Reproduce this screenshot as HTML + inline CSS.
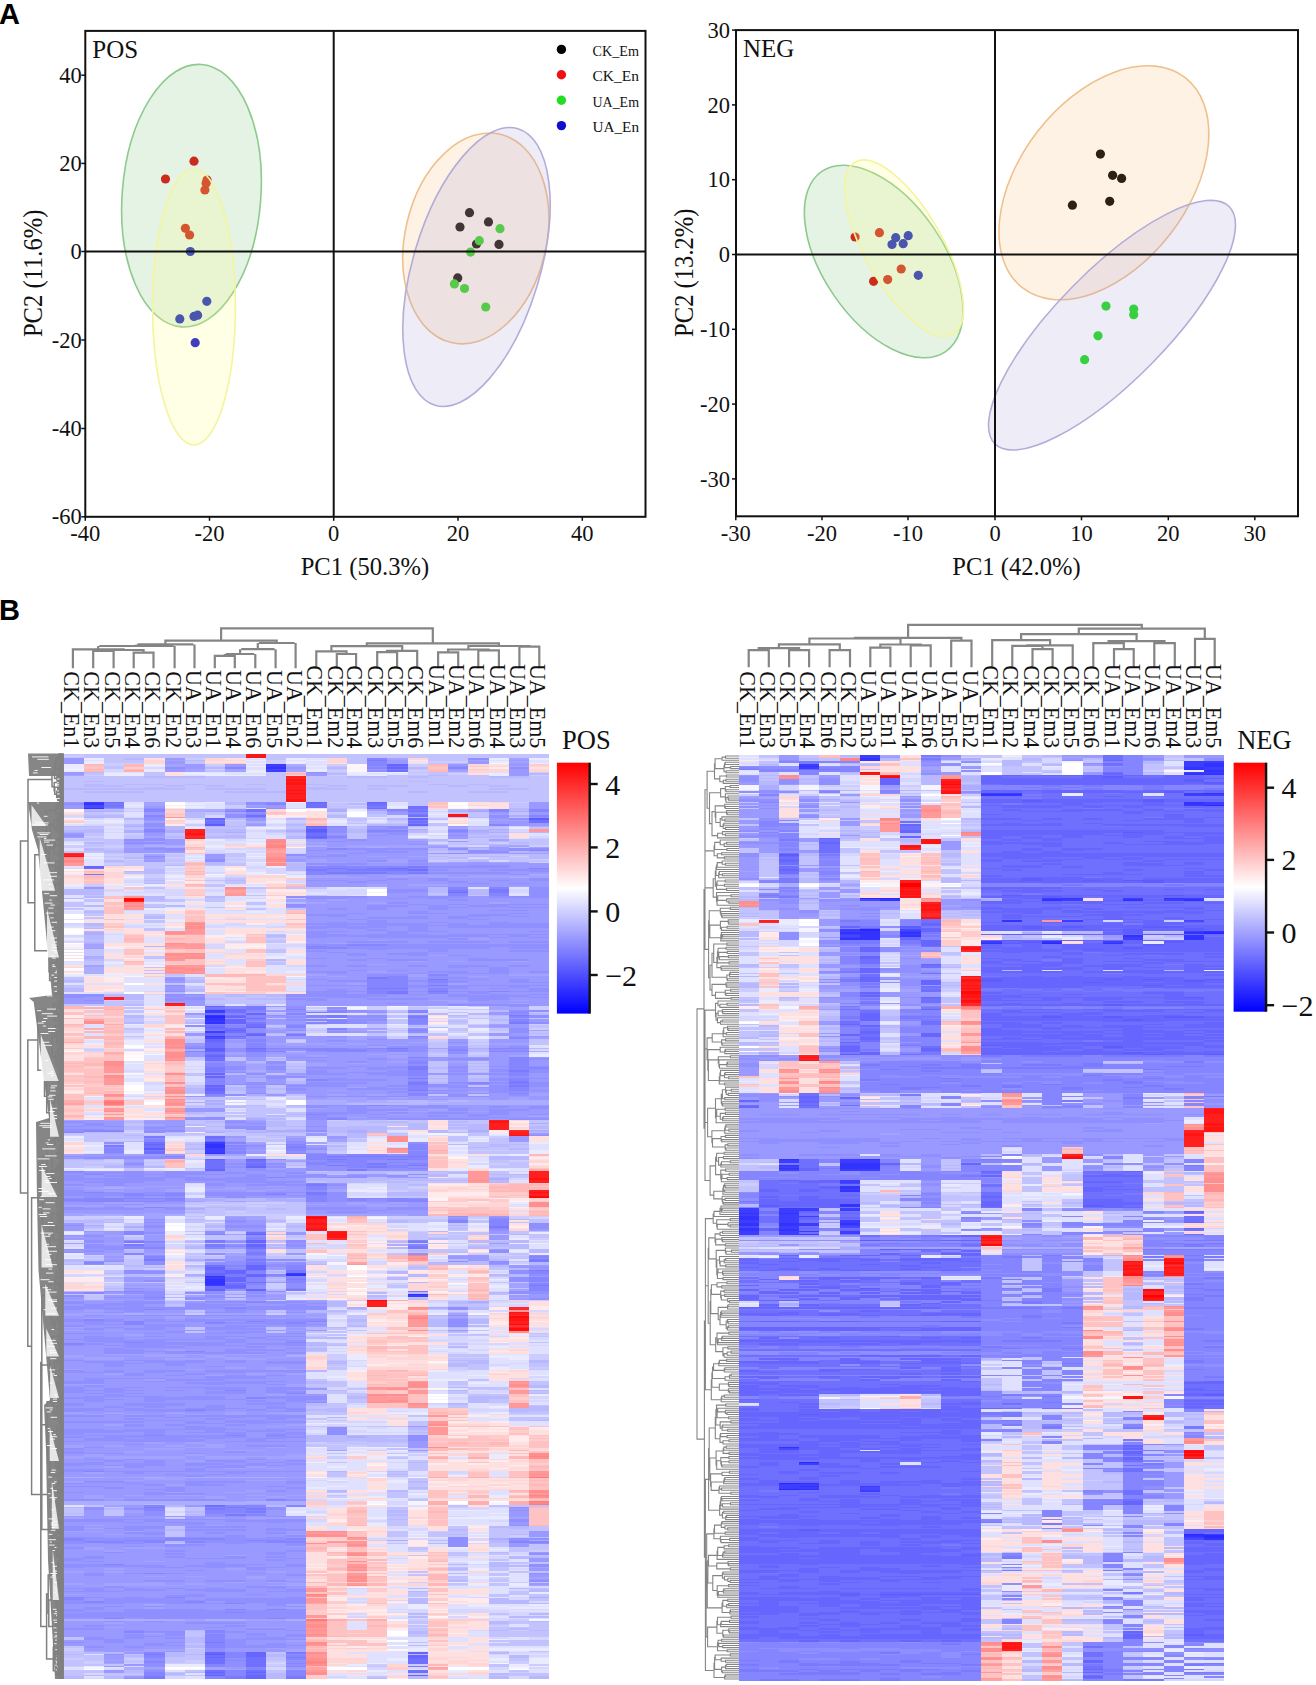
<!DOCTYPE html><html><head><meta charset="utf-8"><style>
html,body{margin:0;padding:0;background:#fff;width:1316px;height:1685px;overflow:hidden}
svg{position:absolute;left:0;top:0;display:block}
text{font-family:'Liberation Serif',serif;fill:#111}
.sans{font-family:'Liberation Sans',sans-serif;font-weight:bold;fill:#000}
</style></head><body>
<svg width="1316" height="1685" viewBox="0 0 1316 1685">
<text class="sans" x="-1" y="24" font-size="29">A</text>
<text class="sans" x="-1" y="620" font-size="29">B</text>
<circle cx="194" cy="161.2" r="4.6" fill="#e01010"/>
<circle cx="165.5" cy="179" r="4.6" fill="#e01010"/>
<circle cx="207" cy="180" r="4.6" fill="#e01010"/>
<circle cx="206.1" cy="183.3" r="4.6" fill="#e01010"/>
<circle cx="204.9" cy="190" r="4.6" fill="#e01010"/>
<circle cx="185.4" cy="228.3" r="4.6" fill="#e01010"/>
<circle cx="189.6" cy="235" r="4.6" fill="#e01010"/>
<circle cx="190.3" cy="251.5" r="4.6" fill="#1010cc"/>
<circle cx="206.8" cy="301.3" r="4.6" fill="#1010cc"/>
<circle cx="179.8" cy="318.9" r="4.6" fill="#1010cc"/>
<circle cx="194" cy="316.4" r="4.6" fill="#1010cc"/>
<circle cx="197.6" cy="315.2" r="4.6" fill="#1010cc"/>
<circle cx="195.2" cy="342.7" r="4.6" fill="#1010cc"/>
<circle cx="469.5" cy="212.7" r="4.6" fill="#000"/>
<circle cx="488.5" cy="221.9" r="4.6" fill="#000"/>
<circle cx="460" cy="227" r="4.6" fill="#000"/>
<circle cx="476.5" cy="244" r="4.6" fill="#000"/>
<circle cx="499" cy="244.4" r="4.6" fill="#000"/>
<circle cx="457.7" cy="277.9" r="4.6" fill="#000"/>
<circle cx="500" cy="228.7" r="4.6" fill="#22dd22"/>
<circle cx="479.3" cy="240.7" r="4.6" fill="#22dd22"/>
<circle cx="470.6" cy="252.1" r="4.6" fill="#22dd22"/>
<circle cx="454.4" cy="283.9" r="4.6" fill="#22dd22"/>
<circle cx="464.5" cy="288.5" r="4.6" fill="#22dd22"/>
<circle cx="485.7" cy="307" r="4.6" fill="#22dd22"/>
<ellipse cx="191.5" cy="195.7" rx="69.3" ry="131.6" transform="rotate(4.4 191.5 195.7)" fill="#5fb85f" fill-opacity="0.17" stroke="#8ec98e" stroke-width="1.6"/>
<ellipse cx="194" cy="307" rx="41.4" ry="138" transform="rotate(0 194 307)" fill="#ffff80" fill-opacity="0.2" stroke="#f4f4a0" stroke-width="1.6"/>
<ellipse cx="475.8" cy="238.4" rx="70.6" ry="107" transform="rotate(13.2 475.8 238.4)" fill="#f7b56b" fill-opacity="0.18" stroke="#f0c08c" stroke-width="1.6"/>
<ellipse cx="476.5" cy="267" rx="63.5" ry="144.3" transform="rotate(16.7 476.5 267)" fill="#9f98d0" fill-opacity="0.18" stroke="#b4acd8" stroke-width="1.6"/>
<line x1="333.7" y1="30.9" x2="333.7" y2="516.8" stroke="#111" stroke-width="2"/>
<line x1="85.3" y1="251.5" x2="645.5" y2="251.5" stroke="#111" stroke-width="2"/>
<rect x="85.3" y="30.9" width="560.2" height="485.9" fill="none" stroke="#111" stroke-width="2"/>
<line x1="81.3" y1="75.2" x2="85.3" y2="75.2" stroke="#111" stroke-width="1.5"/>
<text x="81.8" y="82.8" font-size="22.5" text-anchor="end">40</text>
<line x1="81.3" y1="163.4" x2="85.3" y2="163.4" stroke="#111" stroke-width="1.5"/>
<text x="81.8" y="171.0" font-size="22.5" text-anchor="end">20</text>
<line x1="81.3" y1="251.5" x2="85.3" y2="251.5" stroke="#111" stroke-width="1.5"/>
<text x="81.8" y="259.1" font-size="22.5" text-anchor="end">0</text>
<line x1="81.3" y1="340" x2="85.3" y2="340" stroke="#111" stroke-width="1.5"/>
<text x="81.8" y="347.6" font-size="22.5" text-anchor="end">-20</text>
<line x1="81.3" y1="428.5" x2="85.3" y2="428.5" stroke="#111" stroke-width="1.5"/>
<text x="81.8" y="436.1" font-size="22.5" text-anchor="end">-40</text>
<line x1="81.3" y1="516.8" x2="85.3" y2="516.8" stroke="#111" stroke-width="1.5"/>
<text x="81.8" y="524.4" font-size="22.5" text-anchor="end">-60</text>
<line x1="85.3" y1="516.8" x2="85.3" y2="520.8" stroke="#111" stroke-width="1.5"/>
<text x="85.3" y="541.0" font-size="22.5" text-anchor="middle">-40</text>
<line x1="209.5" y1="516.8" x2="209.5" y2="520.8" stroke="#111" stroke-width="1.5"/>
<text x="209.5" y="541.0" font-size="22.5" text-anchor="middle">-20</text>
<line x1="333.7" y1="516.8" x2="333.7" y2="520.8" stroke="#111" stroke-width="1.5"/>
<text x="333.7" y="541.0" font-size="22.5" text-anchor="middle">0</text>
<line x1="458" y1="516.8" x2="458" y2="520.8" stroke="#111" stroke-width="1.5"/>
<text x="458" y="541.0" font-size="22.5" text-anchor="middle">20</text>
<line x1="582.3" y1="516.8" x2="582.3" y2="520.8" stroke="#111" stroke-width="1.5"/>
<text x="582.3" y="541.0" font-size="22.5" text-anchor="middle">40</text>
<text x="364.9" y="575.3" font-size="24.6" text-anchor="middle">PC1 (50.3%)</text>
<text transform="translate(42.3 273.34999999999997) rotate(-90) scale(1 1.12)" font-size="24.6" text-anchor="middle">PC2 (11.6%)</text>
<text x="92.3" y="57.9" font-size="25">POS</text>
<circle cx="561.4" cy="49.4" r="4.7" fill="#000"/>
<text x="592.5" y="56.0" font-size="14.8" textLength="46.5" lengthAdjust="spacingAndGlyphs">CK_Em</text>
<circle cx="561.4" cy="74.8" r="4.7" fill="#ee1111"/>
<text x="592.5" y="81.39999999999999" font-size="14.8" textLength="46.5" lengthAdjust="spacingAndGlyphs">CK_En</text>
<circle cx="561.4" cy="100.19999999999999" r="4.7" fill="#22dd22"/>
<text x="592.5" y="106.79999999999998" font-size="14.8" textLength="46.5" lengthAdjust="spacingAndGlyphs">UA_Em</text>
<circle cx="561.4" cy="125.6" r="4.7" fill="#1010cc"/>
<text x="592.5" y="132.2" font-size="14.8" textLength="46.5" lengthAdjust="spacingAndGlyphs">UA_En</text>
<circle cx="855.1" cy="237" r="4.6" fill="#e01010"/>
<circle cx="879.4" cy="232.7" r="4.6" fill="#e01010"/>
<circle cx="901.2" cy="269" r="4.6" fill="#e01010"/>
<circle cx="873.6" cy="281.3" r="4.6" fill="#e01010"/>
<circle cx="887.7" cy="279.6" r="4.6" fill="#e01010"/>
<circle cx="895.7" cy="237.7" r="4.6" fill="#1010cc"/>
<circle cx="892" cy="244.5" r="4.6" fill="#1010cc"/>
<circle cx="908.2" cy="235.7" r="4.6" fill="#1010cc"/>
<circle cx="903.2" cy="243.7" r="4.6" fill="#1010cc"/>
<circle cx="918.3" cy="275.3" r="4.6" fill="#1010cc"/>
<circle cx="1100.4" cy="154.1" r="4.6" fill="#000"/>
<circle cx="1112.6" cy="175.3" r="4.6" fill="#000"/>
<circle cx="1121.6" cy="178.4" r="4.6" fill="#000"/>
<circle cx="1109.7" cy="201.3" r="4.6" fill="#000"/>
<circle cx="1072.4" cy="205.2" r="4.6" fill="#000"/>
<circle cx="1106" cy="306.1" r="4.6" fill="#22dd22"/>
<circle cx="1133.7" cy="309.1" r="4.6" fill="#22dd22"/>
<circle cx="1133.7" cy="314.7" r="4.6" fill="#22dd22"/>
<circle cx="1098" cy="335.8" r="4.6" fill="#22dd22"/>
<circle cx="1084.6" cy="359.7" r="4.6" fill="#22dd22"/>
<ellipse cx="883.7" cy="261.5" rx="60.2" ry="109.3" transform="rotate(-34.5 883.7 261.5)" fill="#5fb85f" fill-opacity="0.17" stroke="#8ec98e" stroke-width="1.6"/>
<ellipse cx="904" cy="248.2" rx="38.8" ry="98.9" transform="rotate(-29.6 904 248.2)" fill="#ffff80" fill-opacity="0.2" stroke="#f4f4a0" stroke-width="1.6"/>
<ellipse cx="1103.9" cy="182.8" rx="83.9" ry="132.9" transform="rotate(37.7 1103.9 182.8)" fill="#f7b56b" fill-opacity="0.18" stroke="#f0c08c" stroke-width="1.6"/>
<ellipse cx="1112" cy="325.2" rx="55.2" ry="166.7" transform="rotate(44.6 1112 325.2)" fill="#9f98d0" fill-opacity="0.18" stroke="#b4acd8" stroke-width="1.6"/>
<line x1="995" y1="30.1" x2="995" y2="516.3" stroke="#111" stroke-width="2"/>
<line x1="736" y1="254.5" x2="1298" y2="254.5" stroke="#111" stroke-width="2"/>
<rect x="736" y="30.1" width="562" height="486.19999999999993" fill="none" stroke="#111" stroke-width="2"/>
<line x1="732" y1="30.1" x2="736" y2="30.1" stroke="#111" stroke-width="1.5"/>
<text x="730" y="37.7" font-size="22.5" text-anchor="end">30</text>
<line x1="732" y1="104.9" x2="736" y2="104.9" stroke="#111" stroke-width="1.5"/>
<text x="730" y="112.5" font-size="22.5" text-anchor="end">20</text>
<line x1="732" y1="179.7" x2="736" y2="179.7" stroke="#111" stroke-width="1.5"/>
<text x="730" y="187.29999999999998" font-size="22.5" text-anchor="end">10</text>
<line x1="732" y1="254.5" x2="736" y2="254.5" stroke="#111" stroke-width="1.5"/>
<text x="730" y="262.1" font-size="22.5" text-anchor="end">0</text>
<line x1="732" y1="329.3" x2="736" y2="329.3" stroke="#111" stroke-width="1.5"/>
<text x="730" y="336.90000000000003" font-size="22.5" text-anchor="end">-10</text>
<line x1="732" y1="404.1" x2="736" y2="404.1" stroke="#111" stroke-width="1.5"/>
<text x="730" y="411.70000000000005" font-size="22.5" text-anchor="end">-20</text>
<line x1="732" y1="478.9" x2="736" y2="478.9" stroke="#111" stroke-width="1.5"/>
<text x="730" y="486.5" font-size="22.5" text-anchor="end">-30</text>
<line x1="735.8" y1="516.3" x2="735.8" y2="520.3" stroke="#111" stroke-width="1.5"/>
<text x="735.8" y="540.5" font-size="22.5" text-anchor="middle">-30</text>
<line x1="822" y1="516.3" x2="822" y2="520.3" stroke="#111" stroke-width="1.5"/>
<text x="822" y="540.5" font-size="22.5" text-anchor="middle">-20</text>
<line x1="908" y1="516.3" x2="908" y2="520.3" stroke="#111" stroke-width="1.5"/>
<text x="908" y="540.5" font-size="22.5" text-anchor="middle">-10</text>
<line x1="995" y1="516.3" x2="995" y2="520.3" stroke="#111" stroke-width="1.5"/>
<text x="995" y="540.5" font-size="22.5" text-anchor="middle">0</text>
<line x1="1081.5" y1="516.3" x2="1081.5" y2="520.3" stroke="#111" stroke-width="1.5"/>
<text x="1081.5" y="540.5" font-size="22.5" text-anchor="middle">10</text>
<line x1="1168.3" y1="516.3" x2="1168.3" y2="520.3" stroke="#111" stroke-width="1.5"/>
<text x="1168.3" y="540.5" font-size="22.5" text-anchor="middle">20</text>
<line x1="1254.8" y1="516.3" x2="1254.8" y2="520.3" stroke="#111" stroke-width="1.5"/>
<text x="1254.8" y="540.5" font-size="22.5" text-anchor="middle">30</text>
<text x="1016.5" y="574.8" font-size="24.6" text-anchor="middle">PC1 (42.0%)</text>
<text transform="translate(693 272.7) rotate(-90) scale(1 1.12)" font-size="24.6" text-anchor="middle">PC2 (13.2%)</text>
<text x="743" y="57.1" font-size="25">NEG</text>
<g transform="translate(63.5 753.5) scale(20.2458 1.5)" shape-rendering="crispEdges">
<path fill="#c2c2ff" d="M0 0h1v1h-1zM0 2h1v1h-1zM0 15h1v8h-1zM0 24h1v8h-1zM0 49h1v2h-1zM0 57h1v1h-1zM0 65h1v1h-1zM0 99h1v3h-1zM0 103h1v1h-1zM0 149h1v2h-1zM0 152h1v1h-1zM0 154h1v2h-1zM0 167h1v1h-1zM0 253h1v1h-1zM0 271h1v5h-1zM0 312h1v1h-1zM0 339h1v1h-1zM0 360h1v1h-1zM0 503h1v3h-1zM0 507h1v1h-1zM0 589h1v2h-1zM0 595h1v1h-1zM0 598h1v2h-1zM0 601h1v2h-1zM0 604h1v4h-1zM0 611h1v4h-1zM1 0h1v3h-1zM1 13h1v1h-1zM1 15h1v3h-1zM1 19h1v1h-1zM1 22h1v1h-1zM1 24h1v1h-1zM1 26h1v6h-1zM1 39h1v2h-1zM1 49h1v1h-1zM1 53h1v2h-1zM1 56h1v2h-1zM1 60h1v2h-1zM1 65h1v1h-1zM1 88h1v1h-1zM1 94h1v1h-1zM1 97h1v2h-1zM1 104h1v1h-1zM1 106h1v2h-1zM1 109h1v1h-1zM1 115h1v1h-1zM1 124h1v1h-1zM1 130h1v5h-1zM1 138h1v3h-1zM1 167h1v1h-1zM1 253h1v6h-1zM1 271h1v1h-1zM1 273h1v2h-1zM1 310h1v1h-1zM1 313h1v1h-1zM1 316h1v1h-1zM1 335h1v1h-1zM1 337h1v1h-1zM1 361h1v3h-1zM1 501h1v1h-1zM1 601h1v4h-1zM1 607h1v1h-1zM1 611h1v2h-1zM2 0h1v6h-1zM2 8h1v2h-1zM2 15h1v6h-1zM2 22h1v1h-1zM2 24h1v1h-1zM2 26h1v6h-1zM2 40h1v1h-1zM2 57h1v4h-1zM2 63h1v1h-1zM2 66h1v1h-1zM2 68h1v1h-1zM2 72h1v1h-1zM2 74h1v1h-1zM2 165h1v3h-1zM2 253h1v4h-1zM2 258h1v1h-1zM2 270h1v1h-1zM2 273h1v1h-1zM2 311h1v1h-1zM2 344h1v2h-1zM2 350h1v2h-1zM2 355h1v1h-1zM2 357h1v1h-1zM2 360h1v1h-1zM2 502h1v1h-1zM2 504h1v4h-1zM2 607h1v1h-1zM2 613h1v2h-1zM3 0h1v3h-1zM3 4h1v2h-1zM3 15h1v5h-1zM3 21h1v2h-1zM3 24h1v1h-1zM3 26h1v6h-1zM3 49h1v2h-1zM3 54h1v3h-1zM3 66h1v3h-1zM3 71h1v4h-1zM3 79h1v1h-1zM3 165h1v2h-1zM3 169h1v1h-1zM3 171h1v2h-1zM3 176h1v3h-1zM3 183h1v1h-1zM3 188h1v1h-1zM3 244h1v1h-1zM3 246h1v2h-1zM3 253h1v1h-1zM3 255h1v2h-1zM3 276h1v2h-1zM3 313h1v2h-1zM3 316h1v2h-1zM3 322h1v2h-1zM3 330h1v1h-1zM3 337h1v4h-1zM3 342h1v2h-1zM3 600h1v1h-1zM3 602h1v1h-1zM3 604h1v2h-1zM3 613h1v1h-1zM4 0h1v3h-1zM4 12h1v3h-1zM4 16h1v4h-1zM4 21h1v1h-1zM4 24h1v8h-1zM4 66h1v1h-1zM4 72h1v5h-1zM4 83h1v1h-1zM4 85h1v1h-1zM4 89h1v1h-1zM4 98h1v1h-1zM4 100h1v2h-1zM4 107h1v1h-1zM4 111h1v2h-1zM4 116h1v2h-1zM4 135h1v2h-1zM4 142h1v1h-1zM4 144h1v1h-1zM4 146h1v1h-1zM4 254h1v1h-1zM4 270h1v1h-1zM4 272h1v1h-1zM4 274h1v1h-1zM4 341h1v1h-1zM4 348h1v1h-1zM4 352h1v1h-1zM5 0h1v3h-1zM5 16h1v5h-1zM5 22h1v1h-1zM5 24h1v8h-1zM5 53h1v2h-1zM5 56h1v1h-1zM5 67h1v2h-1zM5 70h1v2h-1zM5 73h1v1h-1zM5 97h1v2h-1zM5 147h1v1h-1zM5 153h1v1h-1zM5 253h1v2h-1zM5 360h1v1h-1zM5 367h1v1h-1zM5 515h1v2h-1zM5 518h1v4h-1zM5 526h1v1h-1zM5 602h1v4h-1zM5 612h1v1h-1zM5 614h1v1h-1zM6 0h1v3h-1zM6 5h1v2h-1zM6 16h1v4h-1zM6 21h1v11h-1zM6 149h1v2h-1zM6 155h1v2h-1zM6 177h1v2h-1zM6 190h1v3h-1zM6 202h1v2h-1zM6 213h1v2h-1zM6 221h1v2h-1zM6 226h1v1h-1zM6 229h1v2h-1zM6 234h1v2h-1zM6 240h1v1h-1zM6 244h1v3h-1zM6 253h1v1h-1zM6 259h1v1h-1zM6 261h1v2h-1zM6 266h1v1h-1zM6 276h1v1h-1zM6 299h1v2h-1zM6 304h1v1h-1zM6 306h1v1h-1zM6 308h1v1h-1zM6 311h1v2h-1zM6 318h1v1h-1zM6 320h1v1h-1zM6 324h1v1h-1zM6 327h1v1h-1zM6 333h1v1h-1zM6 335h1v2h-1zM6 338h1v1h-1zM6 342h1v1h-1zM6 352h1v1h-1zM6 371h1v1h-1zM6 382h1v2h-1zM6 385h1v1h-1zM6 502h1v3h-1zM6 506h1v1h-1zM6 585h1v4h-1zM6 593h1v1h-1zM6 597h1v3h-1zM6 601h1v3h-1zM6 611h1v1h-1zM6 614h1v1h-1zM7 0h1v3h-1zM7 8h1v1h-1zM7 11h1v1h-1zM7 15h1v6h-1zM7 22h1v1h-1zM7 24h1v8h-1zM7 39h1v2h-1zM7 49h1v1h-1zM7 53h1v2h-1zM7 56h1v1h-1zM7 74h1v1h-1zM7 84h1v1h-1zM7 87h1v2h-1zM7 96h1v3h-1zM7 102h1v1h-1zM7 160h1v3h-1zM7 164h1v3h-1zM7 229h1v2h-1zM7 239h1v3h-1zM7 244h1v1h-1zM7 246h1v2h-1zM7 249h1v2h-1zM7 254h1v1h-1zM7 268h1v2h-1zM7 299h1v1h-1zM7 301h1v1h-1zM7 303h1v5h-1zM7 311h1v1h-1zM7 313h1v1h-1zM7 317h1v1h-1zM7 321h1v3h-1zM7 326h1v1h-1zM7 332h1v1h-1zM7 335h1v2h-1zM8 0h1v3h-1zM8 15h1v8h-1zM8 24h1v1h-1zM8 26h1v6h-1zM8 36h1v1h-1zM8 45h1v3h-1zM8 49h1v1h-1zM8 53h1v1h-1zM8 56h1v1h-1zM8 66h1v3h-1zM8 70h1v1h-1zM8 73h1v2h-1zM8 83h1v1h-1zM8 85h1v2h-1zM8 162h1v5h-1zM8 202h1v3h-1zM8 221h1v1h-1zM8 225h1v2h-1zM8 229h1v2h-1zM8 234h1v1h-1zM8 239h1v1h-1zM8 241h1v1h-1zM8 250h1v1h-1zM8 252h1v3h-1zM8 299h1v1h-1zM8 301h1v1h-1zM8 304h1v1h-1zM8 306h1v1h-1zM8 318h1v1h-1zM8 321h1v3h-1zM8 326h1v1h-1zM8 332h1v1h-1zM8 358h1v1h-1zM8 361h1v1h-1zM8 363h1v1h-1zM9 15h1v5h-1zM9 21h1v2h-1zM9 24h1v1h-1zM9 26h1v6h-1zM9 89h1v1h-1zM9 94h1v1h-1zM9 99h1v2h-1zM9 103h1v1h-1zM9 161h1v2h-1zM9 164h1v3h-1zM9 228h1v1h-1zM9 230h1v1h-1zM9 235h1v7h-1zM9 253h1v2h-1zM9 256h1v2h-1zM9 300h1v1h-1zM9 302h1v5h-1zM10 0h1v4h-1zM10 12h1v13h-1zM10 26h1v6h-1zM10 51h1v1h-1zM10 120h1v1h-1zM10 122h1v1h-1zM10 124h1v2h-1zM10 130h1v3h-1zM10 139h1v2h-1zM10 162h1v1h-1zM10 164h1v3h-1zM10 169h1v1h-1zM10 172h1v1h-1zM10 176h1v1h-1zM10 181h1v1h-1zM10 187h1v1h-1zM10 202h1v1h-1zM10 204h1v1h-1zM10 213h1v1h-1zM10 221h1v2h-1zM10 224h1v2h-1zM10 228h1v1h-1zM10 236h1v4h-1zM10 242h1v1h-1zM10 244h1v1h-1zM10 249h1v2h-1zM10 253h1v1h-1zM10 255h1v1h-1zM10 257h1v2h-1zM10 260h1v1h-1zM10 300h1v3h-1zM10 304h1v3h-1zM10 310h1v1h-1zM10 312h1v1h-1zM10 318h1v1h-1zM10 320h1v1h-1zM10 325h1v1h-1zM10 328h1v1h-1zM10 335h1v2h-1zM10 344h1v1h-1zM10 346h1v1h-1zM10 350h1v1h-1zM10 371h1v1h-1zM10 382h1v2h-1zM10 385h1v1h-1zM10 599h1v1h-1zM10 602h1v3h-1zM10 608h1v1h-1zM10 611h1v2h-1zM11 0h1v3h-1zM11 46h1v1h-1zM11 48h1v2h-1zM11 53h1v2h-1zM11 72h1v1h-1zM11 89h1v1h-1zM11 96h1v1h-1zM11 103h1v1h-1zM11 190h1v1h-1zM11 192h1v1h-1zM11 206h1v2h-1zM11 209h1v1h-1zM11 216h1v2h-1zM11 227h1v1h-1zM11 235h1v1h-1zM11 239h1v1h-1zM11 241h1v1h-1zM11 244h1v4h-1zM11 249h1v1h-1zM11 253h1v2h-1zM11 273h1v1h-1zM11 299h1v8h-1zM11 313h1v1h-1zM11 316h1v3h-1zM11 321h1v2h-1zM11 330h1v3h-1zM11 335h1v2h-1zM11 359h1v1h-1zM12 0h1v3h-1zM12 15h1v5h-1zM12 21h1v1h-1zM12 24h1v8h-1zM12 89h1v1h-1zM12 94h1v1h-1zM12 176h1v1h-1zM12 178h1v1h-1zM12 184h1v1h-1zM12 278h1v1h-1zM12 285h1v1h-1zM12 338h1v2h-1zM12 385h1v1h-1zM12 388h1v1h-1zM12 395h1v1h-1zM12 398h1v1h-1zM12 417h1v1h-1zM12 420h1v2h-1zM12 424h1v3h-1zM12 435h1v2h-1zM12 438h1v3h-1zM12 443h1v1h-1zM12 448h1v1h-1zM12 460h1v2h-1zM13 0h1v3h-1zM13 8h1v1h-1zM13 10h1v1h-1zM13 12h1v1h-1zM13 15h1v6h-1zM13 22h1v1h-1zM13 24h1v8h-1zM13 33h1v3h-1zM13 40h1v1h-1zM13 245h1v4h-1zM13 253h1v2h-1zM13 259h1v1h-1zM13 262h1v3h-1zM13 280h1v1h-1zM13 372h1v1h-1zM13 383h1v1h-1zM13 385h1v1h-1zM13 387h1v1h-1zM13 393h1v1h-1zM13 404h1v1h-1zM13 407h1v1h-1zM13 409h1v2h-1zM13 418h1v4h-1zM13 425h1v2h-1zM13 433h1v3h-1zM13 439h1v2h-1zM13 444h1v1h-1zM13 448h1v1h-1zM13 459h1v1h-1zM13 461h1v3h-1zM13 466h1v1h-1zM13 472h1v1h-1zM13 479h1v3h-1zM13 492h1v1h-1zM13 494h1v1h-1zM14 0h1v7h-1zM14 16h1v16h-1zM14 35h1v1h-1zM14 43h1v2h-1zM14 46h1v1h-1zM14 48h1v2h-1zM14 53h1v4h-1zM14 245h1v3h-1zM14 257h1v2h-1zM14 374h1v3h-1zM14 379h1v2h-1zM14 384h1v1h-1zM14 423h1v1h-1zM14 426h1v2h-1zM14 430h1v3h-1zM14 458h1v3h-1zM15 0h1v3h-1zM15 16h1v5h-1zM15 22h1v1h-1zM15 24h1v8h-1zM15 40h1v2h-1zM15 180h1v3h-1zM15 186h1v2h-1zM15 244h1v1h-1zM15 246h1v2h-1zM15 285h1v1h-1zM15 362h1v2h-1zM15 448h1v1h-1zM15 459h1v3h-1zM15 608h1v1h-1zM15 615h1v1h-1zM16 0h1v3h-1zM16 14h1v7h-1zM16 22h1v10h-1zM16 44h1v1h-1zM16 46h1v1h-1zM16 171h1v1h-1zM16 174h1v2h-1zM16 177h1v3h-1zM16 184h1v1h-1zM16 246h1v2h-1zM16 249h1v2h-1zM16 253h1v2h-1zM16 279h1v1h-1zM16 284h1v1h-1zM16 286h1v5h-1zM16 295h1v1h-1zM16 310h1v1h-1zM16 324h1v1h-1zM16 333h1v1h-1zM16 354h1v2h-1zM16 448h1v1h-1zM16 456h1v1h-1zM16 459h1v1h-1zM16 461h1v1h-1zM16 463h1v1h-1zM16 466h1v1h-1zM16 469h1v1h-1zM16 479h1v1h-1zM16 481h1v1h-1zM16 492h1v4h-1zM16 502h1v2h-1zM16 506h1v1h-1zM16 508h1v2h-1zM16 511h1v4h-1zM16 518h1v4h-1zM16 526h1v1h-1zM17 0h1v3h-1zM17 10h1v1h-1zM17 12h1v1h-1zM17 14h1v1h-1zM17 16h1v2h-1zM17 19h1v6h-1zM17 26h1v9h-1zM17 169h1v2h-1zM17 173h1v1h-1zM17 182h1v1h-1zM17 187h1v1h-1zM17 244h1v2h-1zM17 285h1v2h-1zM17 290h1v2h-1zM17 295h1v1h-1zM17 310h1v3h-1zM17 319h1v5h-1zM17 330h1v1h-1zM17 332h1v1h-1zM17 341h1v1h-1zM17 343h1v1h-1zM17 362h1v1h-1zM17 441h1v1h-1zM17 445h1v3h-1zM17 451h1v1h-1zM17 453h1v1h-1zM17 463h1v1h-1zM17 465h1v1h-1zM17 471h1v1h-1zM17 473h1v5h-1zM17 483h1v2h-1zM17 486h1v3h-1zM17 490h1v1h-1zM17 497h1v1h-1zM17 529h1v2h-1zM17 534h1v1h-1zM17 545h1v1h-1zM17 547h1v1h-1zM17 559h1v3h-1zM17 578h1v2h-1zM17 581h1v1h-1zM17 583h1v2h-1zM17 587h1v2h-1zM17 592h1v1h-1zM17 613h1v1h-1zM18 0h1v5h-1zM18 6h1v1h-1zM18 12h1v2h-1zM18 15h1v5h-1zM18 21h1v11h-1zM18 43h1v1h-1zM18 46h1v2h-1zM18 58h1v1h-1zM18 60h1v1h-1zM18 65h1v1h-1zM18 67h1v1h-1zM18 69h1v2h-1zM18 93h1v1h-1zM18 186h1v2h-1zM18 192h1v4h-1zM18 199h1v1h-1zM18 201h1v1h-1zM18 205h1v4h-1zM18 210h1v3h-1zM18 214h1v2h-1zM18 217h1v2h-1zM18 227h1v1h-1zM18 279h1v1h-1zM18 283h1v1h-1zM18 285h1v1h-1zM18 310h1v2h-1zM18 320h1v1h-1zM18 322h1v1h-1zM18 326h1v1h-1zM18 330h1v3h-1zM18 370h1v1h-1zM18 375h1v2h-1zM18 384h1v1h-1zM18 519h1v3h-1zM19 0h1v5h-1zM19 12h1v1h-1zM19 14h1v7h-1zM19 22h1v10h-1zM19 39h1v1h-1zM19 42h1v1h-1zM19 59h1v2h-1zM19 67h1v2h-1zM19 71h1v1h-1zM19 172h1v1h-1zM19 175h1v1h-1zM19 177h1v1h-1zM19 179h1v1h-1zM19 183h1v2h-1zM19 244h1v1h-1zM19 246h1v1h-1zM19 248h1v1h-1zM19 250h1v1h-1zM19 255h1v3h-1zM19 278h1v1h-1zM19 283h1v1h-1zM19 285h1v1h-1zM19 313h1v1h-1zM19 315h1v1h-1zM19 317h1v1h-1zM19 319h1v1h-1zM19 321h1v3h-1zM19 330h1v2h-1zM19 367h1v1h-1zM19 383h1v1h-1zM19 387h1v1h-1zM19 393h1v1h-1zM19 400h1v2h-1zM19 403h1v1h-1zM19 405h1v1h-1zM19 418h1v3h-1zM19 425h1v2h-1zM19 434h1v2h-1zM19 501h1v1h-1zM19 515h1v2h-1zM19 518h1v2h-1zM19 521h1v1h-1zM19 532h1v3h-1zM19 542h1v1h-1zM19 544h1v1h-1zM19 548h1v3h-1zM19 553h1v1h-1zM20 0h1v3h-1zM20 14h1v6h-1zM20 21h1v4h-1zM20 26h1v6h-1zM20 39h1v3h-1zM20 49h1v1h-1zM20 54h1v1h-1zM20 56h1v4h-1zM20 67h1v1h-1zM20 70h1v1h-1zM20 94h1v1h-1zM20 176h1v1h-1zM20 182h1v1h-1zM20 186h1v2h-1zM20 192h1v1h-1zM20 194h1v2h-1zM20 201h1v1h-1zM20 205h1v1h-1zM20 207h1v1h-1zM20 209h1v1h-1zM20 211h1v1h-1zM20 214h1v2h-1zM20 221h1v1h-1zM20 227h1v1h-1zM20 244h1v3h-1zM20 253h1v2h-1zM20 259h1v3h-1zM20 263h1v1h-1zM20 265h1v2h-1zM20 308h1v1h-1zM20 311h1v2h-1zM20 319h1v2h-1zM20 327h1v1h-1zM20 367h1v2h-1zM20 374h1v1h-1zM20 376h1v1h-1zM20 384h1v1h-1zM20 387h1v1h-1zM20 400h1v2h-1zM20 403h1v1h-1zM20 407h1v4h-1zM20 417h1v1h-1zM20 422h1v2h-1zM20 427h1v1h-1zM21 0h1v3h-1zM21 16h1v5h-1zM21 22h1v1h-1zM21 24h1v1h-1zM21 26h1v6h-1zM21 49h1v1h-1zM21 53h1v1h-1zM21 56h1v1h-1zM21 67h1v1h-1zM21 69h1v2h-1zM21 175h1v2h-1zM21 178h1v2h-1zM21 183h1v2h-1zM21 256h1v4h-1zM21 262h1v2h-1zM21 265h1v2h-1zM21 271h1v2h-1zM21 274h1v2h-1zM21 278h1v2h-1zM21 281h1v1h-1zM21 320h1v1h-1zM21 324h1v1h-1zM21 329h1v1h-1zM21 335h1v2h-1zM21 342h1v2h-1zM21 348h1v1h-1zM21 352h1v1h-1zM21 360h1v1h-1zM21 422h1v2h-1zM21 427h1v1h-1zM21 430h1v3h-1zM21 501h1v1h-1zM21 516h1v7h-1zM21 526h1v3h-1zM21 533h1v1h-1zM21 537h1v1h-1zM21 542h1v3h-1zM21 546h1v2h-1zM21 550h1v2h-1zM21 553h1v2h-1zM21 560h1v2h-1zM21 573h1v1h-1zM21 580h1v1h-1zM21 582h1v2h-1zM21 585h1v4h-1zM21 591h1v1h-1zM21 593h1v2h-1zM21 607h1v2h-1zM21 614h1v1h-1zM22 0h1v3h-1zM22 16h1v7h-1zM22 24h1v8h-1zM22 33h1v3h-1zM22 39h1v2h-1zM22 42h1v1h-1zM22 57h1v2h-1zM22 60h1v1h-1zM22 62h1v1h-1zM22 67h1v1h-1zM22 69h1v3h-1zM22 259h1v1h-1zM22 261h1v2h-1zM22 264h1v3h-1zM22 272h1v4h-1zM22 281h1v2h-1zM22 312h1v1h-1zM22 318h1v2h-1zM22 333h1v1h-1zM22 335h1v2h-1zM22 338h1v1h-1zM22 352h1v1h-1zM22 356h1v1h-1zM22 360h1v1h-1zM22 439h1v1h-1zM22 442h1v3h-1zM22 501h1v1h-1zM22 517h1v3h-1zM22 522h1v1h-1zM22 529h1v3h-1zM22 539h1v1h-1zM22 545h1v1h-1zM22 558h1v3h-1zM22 578h1v2h-1zM22 582h1v1h-1zM22 585h1v4h-1zM22 591h1v4h-1zM22 603h1v2h-1zM22 611h1v1h-1zM22 613h1v2h-1zM23 0h1v3h-1zM23 15h1v17h-1zM23 49h1v1h-1zM23 57h1v4h-1zM23 71h1v1h-1zM23 172h1v1h-1zM23 176h1v1h-1zM23 181h1v2h-1zM23 185h1v1h-1zM23 187h1v1h-1zM23 190h1v4h-1zM23 244h1v2h-1zM23 247h1v1h-1zM23 250h1v1h-1zM23 310h1v3h-1zM23 318h1v1h-1zM23 320h1v3h-1zM23 386h1v1h-1zM23 388h1v1h-1zM23 392h1v1h-1zM23 406h1v3h-1zM23 410h1v1h-1zM23 418h1v3h-1zM23 425h1v1h-1zM23 434h1v1h-1zM23 438h1v2h-1zM23 442h1v2h-1zM23 501h1v1h-1zM23 515h1v3h-1zM23 527h1v4h-1zM23 534h1v1h-1zM23 539h1v1h-1zM23 545h1v1h-1zM23 552h1v1h-1zM23 556h1v1h-1zM23 560h1v2h-1zM23 563h1v2h-1zM23 579h1v5h-1zM23 585h1v4h-1zM23 591h1v4h-1zM23 598h1v1h-1zM23 613h1v2h-1z"/>
<path fill="#ccccff" d="M0 1h1v1h-1zM0 56h1v1h-1zM0 61h1v2h-1zM0 254h1v1h-1zM0 308h1v3h-1zM0 596h1v2h-1zM0 603h1v1h-1zM0 608h1v1h-1zM1 14h1v1h-1zM1 55h1v1h-1zM1 58h1v1h-1zM1 62h1v1h-1zM1 87h1v1h-1zM1 197h1v1h-1zM1 272h1v1h-1zM1 275h1v1h-1zM1 308h1v2h-1zM1 317h1v1h-1zM1 334h1v1h-1zM1 336h1v1h-1zM1 360h1v1h-1zM1 605h1v2h-1zM2 6h1v2h-1zM2 39h1v1h-1zM2 61h1v2h-1zM2 67h1v1h-1zM2 69h1v2h-1zM2 73h1v1h-1zM2 164h1v1h-1zM2 257h1v1h-1zM2 271h1v2h-1zM2 309h1v1h-1zM2 347h1v1h-1zM2 353h1v2h-1zM3 6h1v1h-1zM3 36h1v1h-1zM3 38h1v1h-1zM3 44h1v3h-1zM3 53h1v1h-1zM3 70h1v1h-1zM3 164h1v1h-1zM3 184h1v2h-1zM3 251h1v1h-1zM3 257h1v1h-1zM3 321h1v1h-1zM3 326h1v1h-1zM3 334h1v3h-1zM3 603h1v1h-1zM3 606h1v1h-1zM4 80h1v3h-1zM4 253h1v1h-1zM4 271h1v1h-1zM4 273h1v1h-1zM4 343h1v1h-1zM5 66h1v1h-1zM5 69h1v1h-1zM5 72h1v1h-1zM5 148h1v1h-1zM5 364h1v1h-1zM5 509h1v1h-1zM5 606h1v1h-1zM6 3h1v1h-1zM6 47h1v1h-1zM6 185h1v1h-1zM6 188h1v2h-1zM6 204h1v1h-1zM6 241h1v1h-1zM6 254h1v1h-1zM6 264h1v2h-1zM6 270h1v1h-1zM6 277h1v1h-1zM6 293h1v1h-1zM6 301h1v1h-1zM6 307h1v1h-1zM6 309h1v1h-1zM6 334h1v1h-1zM6 343h1v1h-1zM6 360h1v1h-1zM6 364h1v1h-1zM6 373h1v1h-1zM6 596h1v1h-1zM6 604h1v3h-1zM7 7h1v1h-1zM7 10h1v1h-1zM7 66h1v1h-1zM7 253h1v1h-1zM7 300h1v1h-1zM7 316h1v1h-1zM7 334h1v1h-1zM8 34h1v2h-1zM8 44h1v1h-1zM8 69h1v1h-1zM8 71h1v2h-1zM8 82h1v1h-1zM8 300h1v1h-1zM8 305h1v1h-1zM8 307h1v1h-1zM8 319h1v1h-1zM9 48h1v1h-1zM9 229h1v1h-1zM9 255h1v1h-1zM9 258h1v1h-1zM9 299h1v1h-1zM9 301h1v1h-1zM9 307h1v1h-1zM10 4h1v3h-1zM10 52h1v1h-1zM10 123h1v1h-1zM10 138h1v1h-1zM10 170h1v1h-1zM10 256h1v1h-1zM10 299h1v1h-1zM10 307h1v3h-1zM10 333h1v2h-1zM10 353h1v4h-1zM10 364h1v1h-1zM10 373h1v1h-1zM10 605h1v1h-1zM10 607h1v1h-1zM11 44h1v2h-1zM11 66h1v1h-1zM11 191h1v1h-1zM11 205h1v1h-1zM11 229h1v2h-1zM11 275h1v1h-1zM11 307h1v1h-1zM11 323h1v1h-1zM11 334h1v1h-1zM11 360h1v1h-1zM12 169h1v1h-1zM12 180h1v1h-1zM12 183h1v1h-1zM12 185h1v1h-1zM12 387h1v1h-1zM12 459h1v1h-1zM13 7h1v1h-1zM13 11h1v1h-1zM13 14h1v1h-1zM13 32h1v1h-1zM13 39h1v1h-1zM13 244h1v1h-1zM13 260h1v1h-1zM13 265h1v2h-1zM13 364h1v1h-1zM13 373h1v1h-1zM13 400h1v4h-1zM13 408h1v1h-1zM13 460h1v1h-1zM13 468h1v2h-1zM13 495h1v1h-1zM14 32h1v1h-1zM14 34h1v1h-1zM14 36h1v1h-1zM14 45h1v1h-1zM14 256h1v1h-1zM14 364h1v1h-1zM14 448h1v1h-1zM14 461h1v1h-1zM15 46h1v1h-1zM15 168h1v3h-1zM15 184h1v1h-1zM15 464h1v1h-1zM15 524h1v1h-1zM15 607h1v1h-1zM16 45h1v1h-1zM16 183h1v1h-1zM16 185h1v1h-1zM16 188h1v2h-1zM16 244h1v1h-1zM16 291h1v1h-1zM16 308h1v2h-1zM16 353h1v1h-1zM16 460h1v1h-1zM16 468h1v1h-1zM17 7h1v2h-1zM17 11h1v1h-1zM17 13h1v1h-1zM17 49h1v1h-1zM17 56h1v1h-1zM17 168h1v1h-1zM17 288h1v2h-1zM17 308h1v2h-1zM17 318h1v1h-1zM17 326h1v1h-1zM17 467h1v1h-1zM17 496h1v1h-1zM17 531h1v1h-1zM17 552h1v1h-1zM17 577h1v1h-1zM17 582h1v1h-1zM17 607h1v1h-1zM18 5h1v1h-1zM18 71h1v1h-1zM18 169h1v1h-1zM18 190h1v2h-1zM18 200h1v1h-1zM18 308h1v2h-1zM18 321h1v1h-1zM18 364h1v1h-1zM18 518h1v1h-1zM19 5h1v1h-1zM19 13h1v1h-1zM19 57h1v1h-1zM19 61h1v1h-1zM19 70h1v1h-1zM19 170h1v1h-1zM19 180h1v1h-1zM19 185h1v1h-1zM19 188h1v2h-1zM19 251h1v1h-1zM19 258h1v1h-1zM19 320h1v1h-1zM19 326h1v1h-1zM19 364h1v1h-1zM19 371h1v1h-1zM19 402h1v1h-1zM19 409h1v2h-1zM19 421h1v1h-1zM19 502h1v1h-1zM19 554h1v1h-1zM20 168h1v1h-1zM20 170h1v1h-1zM20 180h1v1h-1zM20 190h1v2h-1zM20 193h1v1h-1zM20 199h1v2h-1zM20 264h1v1h-1zM20 309h1v1h-1zM20 333h1v1h-1zM20 364h1v1h-1zM20 375h1v1h-1zM20 402h1v1h-1zM21 59h1v1h-1zM21 185h1v1h-1zM21 188h1v2h-1zM21 255h1v1h-1zM21 264h1v1h-1zM21 273h1v1h-1zM21 333h1v2h-1zM21 364h1v1h-1zM21 549h1v1h-1zM21 581h1v1h-1zM21 598h1v1h-1zM22 32h1v1h-1zM22 52h1v1h-1zM22 68h1v1h-1zM22 271h1v1h-1zM22 308h1v2h-1zM22 334h1v1h-1zM22 339h1v1h-1zM22 440h1v1h-1zM22 521h1v1h-1zM22 552h1v1h-1zM22 577h1v1h-1zM22 584h1v1h-1zM22 605h1v2h-1zM22 612h1v1h-1zM23 12h1v1h-1zM23 14h1v1h-1zM23 56h1v1h-1zM23 61h1v1h-1zM23 70h1v1h-1zM23 72h1v1h-1zM23 168h1v3h-1zM23 180h1v1h-1zM23 183h1v1h-1zM23 308h1v1h-1zM23 323h1v1h-1zM23 364h1v1h-1zM23 387h1v1h-1zM23 400h1v4h-1zM23 409h1v1h-1zM23 440h1v1h-1zM23 531h1v1h-1zM23 607h1v1h-1z"/>
<path fill="#9999ff" d="M0 3h1v4h-1zM0 12h1v2h-1zM0 32h1v1h-1zM0 34h1v3h-1zM0 53h1v1h-1zM0 55h1v1h-1zM0 163h1v4h-1zM0 246h1v2h-1zM0 249h1v1h-1zM0 269h1v1h-1zM0 280h1v1h-1zM0 285h1v2h-1zM0 289h1v2h-1zM0 295h1v1h-1zM0 299h1v2h-1zM0 304h1v2h-1zM0 313h1v1h-1zM0 315h1v3h-1zM0 321h1v1h-1zM0 323h1v1h-1zM0 331h1v1h-1zM0 362h1v2h-1zM0 367h1v1h-1zM0 371h1v2h-1zM0 375h1v2h-1zM0 379h1v2h-1zM0 383h1v1h-1zM0 385h1v1h-1zM0 387h1v3h-1zM0 391h1v2h-1zM0 395h1v6h-1zM0 403h1v1h-1zM0 405h1v5h-1zM0 413h1v5h-1zM0 421h1v1h-1zM0 426h1v3h-1zM0 430h1v3h-1zM0 435h1v1h-1zM0 440h1v1h-1zM0 442h1v3h-1zM0 446h1v4h-1zM0 454h1v1h-1zM0 456h1v2h-1zM0 459h1v2h-1zM0 464h1v1h-1zM0 467h1v1h-1zM0 470h1v3h-1zM0 475h1v2h-1zM0 479h1v3h-1zM0 483h1v2h-1zM0 487h1v1h-1zM0 489h1v3h-1zM0 493h1v4h-1zM0 508h1v1h-1zM0 512h1v3h-1zM0 519h1v3h-1zM0 527h1v2h-1zM0 530h1v6h-1zM0 538h1v2h-1zM0 543h1v2h-1zM0 546h1v7h-1zM0 554h1v2h-1zM0 557h1v1h-1zM0 559h1v1h-1zM0 561h1v1h-1zM0 567h1v3h-1zM0 572h1v1h-1zM0 576h1v1h-1zM0 578h1v5h-1zM0 584h1v5h-1zM0 591h1v1h-1zM0 593h1v2h-1zM1 89h1v1h-1zM1 162h1v2h-1zM1 165h1v2h-1zM1 244h1v2h-1zM1 248h1v2h-1zM1 267h1v2h-1zM1 278h1v1h-1zM1 281h1v2h-1zM1 284h1v1h-1zM1 286h1v3h-1zM1 291h1v1h-1zM1 299h1v2h-1zM1 302h1v1h-1zM1 304h1v3h-1zM1 318h1v1h-1zM1 320h1v1h-1zM1 322h1v2h-1zM1 330h1v1h-1zM1 332h1v2h-1zM1 365h1v2h-1zM1 370h1v1h-1zM1 372h1v1h-1zM1 375h1v1h-1zM1 381h1v2h-1zM1 384h1v2h-1zM1 387h1v1h-1zM1 392h1v1h-1zM1 394h1v8h-1zM1 404h1v1h-1zM1 406h1v6h-1zM1 413h1v3h-1zM1 422h1v2h-1zM1 425h1v1h-1zM1 427h1v1h-1zM1 432h1v4h-1zM1 438h1v2h-1zM1 442h1v3h-1zM1 446h1v4h-1zM1 453h1v1h-1zM1 455h1v1h-1zM1 458h1v4h-1zM1 463h1v3h-1zM1 469h1v1h-1zM1 471h1v1h-1zM1 474h1v3h-1zM1 480h1v2h-1zM1 483h1v2h-1zM1 486h1v2h-1zM1 489h1v5h-1zM1 504h1v6h-1zM1 512h1v2h-1zM1 515h1v1h-1zM1 517h1v1h-1zM1 519h1v3h-1zM1 526h1v3h-1zM1 531h1v4h-1zM1 537h1v1h-1zM1 539h1v1h-1zM1 542h1v4h-1zM1 548h1v6h-1zM1 555h1v1h-1zM1 559h1v3h-1zM1 563h1v2h-1zM1 567h1v2h-1zM1 571h1v1h-1zM1 576h1v1h-1zM1 578h1v3h-1zM1 582h1v1h-1zM1 584h1v5h-1zM1 591h1v4h-1zM1 596h1v2h-1zM2 245h1v3h-1zM2 249h1v2h-1zM2 267h1v1h-1zM2 278h1v1h-1zM2 280h1v1h-1zM2 282h1v1h-1zM2 290h1v1h-1zM2 295h1v1h-1zM2 300h1v2h-1zM2 304h1v3h-1zM2 318h1v3h-1zM2 322h1v4h-1zM2 327h1v1h-1zM2 331h1v2h-1zM2 335h1v1h-1zM2 337h1v1h-1zM2 359h1v1h-1zM2 361h1v1h-1zM2 363h1v1h-1zM2 365h1v1h-1zM2 368h1v1h-1zM2 371h1v1h-1zM2 374h1v3h-1zM2 379h1v1h-1zM2 381h1v1h-1zM2 383h1v1h-1zM2 385h1v4h-1zM2 393h1v1h-1zM2 395h1v1h-1zM2 401h1v1h-1zM2 404h1v1h-1zM2 409h1v2h-1zM2 414h1v2h-1zM2 417h1v6h-1zM2 426h1v1h-1zM2 429h1v1h-1zM2 431h1v4h-1zM2 436h1v2h-1zM2 440h1v5h-1zM2 446h1v1h-1zM2 448h1v3h-1zM2 453h1v1h-1zM2 458h1v3h-1zM2 462h1v4h-1zM2 467h1v1h-1zM2 470h1v1h-1zM2 472h1v2h-1zM2 476h1v2h-1zM2 479h1v3h-1zM2 483h1v2h-1zM2 486h1v3h-1zM2 490h1v6h-1zM2 497h1v1h-1zM2 508h1v2h-1zM2 512h1v4h-1zM2 517h1v3h-1zM2 521h1v2h-1zM2 527h1v4h-1zM2 533h1v7h-1zM2 542h1v1h-1zM2 544h1v1h-1zM2 546h1v7h-1zM2 556h1v2h-1zM2 559h1v4h-1zM2 567h1v1h-1zM2 569h1v3h-1zM2 580h1v2h-1zM2 583h1v7h-1zM2 593h1v6h-1zM2 601h1v3h-1zM2 605h1v1h-1zM2 608h1v1h-1zM2 611h1v2h-1zM3 58h1v1h-1zM3 60h1v1h-1zM3 63h1v3h-1zM3 270h1v1h-1zM3 272h1v1h-1zM3 274h1v1h-1zM3 286h1v3h-1zM3 290h1v3h-1zM3 302h1v1h-1zM3 304h1v3h-1zM3 349h1v3h-1zM3 354h1v1h-1zM3 357h1v1h-1zM3 361h1v1h-1zM3 363h1v2h-1zM3 372h1v1h-1zM3 375h1v3h-1zM3 381h1v2h-1zM3 384h1v3h-1zM3 388h1v3h-1zM3 396h1v1h-1zM3 401h1v3h-1zM3 405h1v1h-1zM3 407h1v6h-1zM3 415h1v1h-1zM3 417h1v5h-1zM3 423h1v1h-1zM3 425h1v1h-1zM3 427h1v1h-1zM3 429h1v4h-1zM3 435h1v1h-1zM3 438h1v2h-1zM3 442h1v1h-1zM3 444h1v1h-1zM3 446h1v1h-1zM3 449h1v1h-1zM3 452h1v2h-1zM3 456h1v1h-1zM3 459h1v1h-1zM3 461h1v4h-1zM3 466h1v2h-1zM3 471h1v2h-1zM3 476h1v2h-1zM3 480h1v2h-1zM3 483h1v1h-1zM3 485h1v1h-1zM3 487h1v7h-1zM3 495h1v2h-1zM3 501h1v2h-1zM3 506h1v2h-1zM3 509h1v1h-1zM3 511h1v1h-1zM3 513h1v2h-1zM3 520h1v2h-1zM3 527h1v1h-1zM3 530h1v11h-1zM3 542h1v4h-1zM3 547h1v6h-1zM3 555h1v1h-1zM3 558h1v4h-1zM3 566h1v4h-1zM3 576h1v1h-1zM3 578h1v6h-1zM3 586h1v1h-1zM3 590h1v5h-1zM3 596h1v2h-1zM3 599h1v1h-1zM3 607h1v1h-1zM3 615h1v1h-1zM4 35h1v1h-1zM4 39h1v2h-1zM4 44h1v1h-1zM4 49h1v1h-1zM4 53h1v2h-1zM4 62h1v1h-1zM4 64h1v2h-1zM4 69h1v1h-1zM4 71h1v1h-1zM4 245h1v2h-1zM4 248h1v1h-1zM4 250h1v1h-1zM4 267h1v1h-1zM4 278h1v2h-1zM4 281h1v1h-1zM4 285h1v3h-1zM4 289h1v3h-1zM4 295h1v1h-1zM4 299h1v1h-1zM4 303h1v3h-1zM4 311h1v1h-1zM4 313h1v1h-1zM4 316h1v3h-1zM4 321h1v4h-1zM4 326h1v1h-1zM4 330h1v3h-1zM4 344h1v1h-1zM4 349h1v2h-1zM4 354h1v1h-1zM4 356h1v2h-1zM4 367h1v2h-1zM4 371h1v2h-1zM4 375h1v2h-1zM4 379h1v1h-1zM4 384h1v2h-1zM4 387h1v1h-1zM4 389h1v1h-1zM4 396h1v2h-1zM4 399h1v1h-1zM4 402h1v2h-1zM4 406h1v5h-1zM4 413h1v3h-1zM4 419h1v9h-1zM4 432h1v1h-1zM4 436h1v1h-1zM4 439h1v2h-1zM4 442h1v2h-1zM4 445h1v5h-1zM4 460h1v3h-1zM4 464h1v4h-1zM4 470h1v1h-1zM4 475h1v3h-1zM4 479h1v3h-1zM4 484h1v3h-1zM4 488h1v2h-1zM4 491h1v1h-1zM4 494h1v2h-1zM4 508h1v2h-1zM4 512h1v3h-1zM4 517h1v2h-1zM4 521h1v1h-1zM4 526h1v3h-1zM4 530h1v8h-1zM4 539h1v2h-1zM4 543h1v3h-1zM4 547h1v1h-1zM4 549h1v2h-1zM4 555h1v2h-1zM4 558h1v5h-1zM4 566h1v1h-1zM4 579h1v6h-1zM4 587h1v1h-1zM4 589h1v4h-1zM4 595h1v2h-1zM4 610h1v1h-1zM5 3h1v1h-1zM5 5h1v2h-1zM5 10h1v2h-1zM5 57h1v4h-1zM5 65h1v1h-1zM5 149h1v1h-1zM5 151h1v2h-1zM5 155h1v3h-1zM5 162h1v1h-1zM5 165h1v1h-1zM5 244h1v4h-1zM5 249h1v2h-1zM5 267h1v1h-1zM5 283h1v5h-1zM5 289h1v1h-1zM5 299h1v1h-1zM5 304h1v3h-1zM5 371h1v2h-1zM5 377h1v1h-1zM5 379h1v1h-1zM5 382h1v3h-1zM5 386h1v4h-1zM5 391h1v1h-1zM5 394h1v1h-1zM5 396h1v1h-1zM5 402h1v1h-1zM5 404h1v1h-1zM5 408h1v3h-1zM5 412h1v2h-1zM5 415h1v2h-1zM5 418h1v4h-1zM5 423h1v1h-1zM5 425h1v4h-1zM5 431h1v2h-1zM5 435h1v2h-1zM5 440h1v2h-1zM5 443h1v1h-1zM5 445h1v2h-1zM5 448h1v2h-1zM5 451h1v3h-1zM5 459h1v2h-1zM5 462h1v1h-1zM5 464h1v4h-1zM5 470h1v8h-1zM5 479h1v1h-1zM5 481h1v1h-1zM5 484h1v3h-1zM5 488h1v1h-1zM5 495h1v1h-1zM5 508h1v1h-1zM5 511h1v1h-1zM5 513h1v2h-1zM5 529h1v2h-1zM5 532h1v1h-1zM5 534h1v1h-1zM5 536h1v6h-1zM5 543h1v3h-1zM5 547h1v4h-1zM5 552h1v2h-1zM5 555h1v1h-1zM5 557h1v4h-1zM5 567h1v3h-1zM5 578h1v7h-1zM5 588h1v1h-1zM5 590h1v2h-1zM5 593h1v1h-1zM5 595h1v2h-1zM5 598h1v1h-1zM6 7h1v3h-1zM6 161h1v1h-1zM6 164h1v4h-1zM6 173h1v1h-1zM6 186h1v2h-1zM6 193h1v2h-1zM6 199h1v3h-1zM6 228h1v1h-1zM6 236h1v3h-1zM6 242h1v1h-1zM6 278h1v1h-1zM6 281h1v1h-1zM6 285h1v1h-1zM6 365h1v1h-1zM6 370h1v1h-1zM6 375h1v2h-1zM6 379h1v3h-1zM6 384h1v1h-1zM6 386h1v4h-1zM6 391h1v1h-1zM6 395h1v3h-1zM6 401h1v2h-1zM6 406h1v4h-1zM6 411h1v2h-1zM6 414h1v3h-1zM6 418h1v1h-1zM6 420h1v2h-1zM6 423h1v5h-1zM6 431h1v5h-1zM6 439h1v1h-1zM6 442h1v3h-1zM6 447h1v1h-1zM6 451h1v1h-1zM6 453h1v1h-1zM6 456h1v1h-1zM6 460h1v2h-1zM6 463h1v3h-1zM6 468h1v3h-1zM6 472h1v1h-1zM6 475h1v1h-1zM6 479h1v2h-1zM6 483h1v2h-1zM6 488h1v5h-1zM6 495h1v2h-1zM6 501h1v1h-1zM6 508h1v2h-1zM6 511h1v1h-1zM6 514h1v1h-1zM6 516h1v1h-1zM6 518h1v4h-1zM6 526h1v1h-1zM6 528h1v8h-1zM6 537h1v4h-1zM6 542h1v2h-1zM6 545h1v3h-1zM6 549h1v4h-1zM6 554h1v3h-1zM6 558h1v2h-1zM6 562h1v2h-1zM6 567h1v3h-1zM6 578h1v1h-1zM6 580h1v4h-1zM7 67h1v3h-1zM7 236h1v3h-1zM7 267h1v1h-1zM7 279h1v1h-1zM7 281h1v2h-1zM7 285h1v1h-1zM7 288h1v2h-1zM7 291h1v1h-1zM7 295h1v1h-1zM7 363h1v1h-1zM7 366h1v1h-1zM7 370h1v2h-1zM7 375h1v1h-1zM7 380h1v2h-1zM7 384h1v2h-1zM7 387h1v1h-1zM7 391h1v1h-1zM7 395h1v4h-1zM7 400h1v1h-1zM7 403h1v5h-1zM7 409h1v2h-1zM7 413h1v1h-1zM7 418h1v1h-1zM7 421h1v1h-1zM7 424h1v1h-1zM7 427h1v1h-1zM7 431h1v3h-1zM7 438h1v3h-1zM7 442h1v1h-1zM7 444h1v2h-1zM7 447h1v2h-1zM7 453h1v1h-1zM7 457h1v3h-1zM7 463h1v5h-1zM7 470h1v1h-1zM7 472h1v1h-1zM7 474h1v1h-1zM7 476h1v2h-1zM7 479h1v1h-1zM7 481h1v1h-1zM7 483h1v2h-1zM7 486h1v1h-1zM7 488h1v7h-1zM7 511h1v3h-1zM7 516h1v1h-1zM7 518h1v1h-1zM7 520h1v2h-1zM7 526h1v10h-1zM7 537h1v2h-1zM7 543h1v8h-1zM7 552h1v2h-1zM7 555h1v1h-1zM7 559h1v4h-1zM7 565h1v1h-1zM7 567h1v4h-1zM7 578h1v1h-1zM7 580h1v2h-1zM7 583h1v1h-1zM8 7h1v2h-1zM8 191h1v2h-1zM8 201h1v1h-1zM8 205h1v3h-1zM8 211h1v1h-1zM8 214h1v6h-1zM8 244h1v1h-1zM8 246h1v2h-1zM8 255h1v1h-1zM8 258h1v1h-1zM8 260h1v1h-1zM8 270h1v3h-1zM8 274h1v1h-1zM8 276h1v3h-1zM8 280h1v2h-1zM8 286h1v3h-1zM8 291h1v1h-1zM8 309h1v2h-1zM8 313h1v1h-1zM8 316h1v2h-1zM8 324h1v1h-1zM8 329h1v1h-1zM8 335h1v3h-1zM8 362h1v1h-1zM8 366h1v1h-1zM8 368h1v1h-1zM8 375h1v2h-1zM8 378h1v1h-1zM8 380h1v1h-1zM8 384h1v1h-1zM8 387h1v1h-1zM8 389h1v1h-1zM8 393h1v1h-1zM8 395h1v2h-1zM8 401h1v1h-1zM8 406h1v3h-1zM8 410h1v1h-1zM8 413h1v1h-1zM8 417h1v1h-1zM8 420h1v2h-1zM8 427h1v3h-1zM8 431h1v5h-1zM8 437h1v2h-1zM8 443h1v1h-1zM8 446h1v1h-1zM8 448h1v2h-1zM8 451h1v1h-1zM8 456h1v2h-1zM8 459h1v5h-1zM8 466h1v2h-1zM8 470h1v1h-1zM8 473h1v1h-1zM8 477h1v1h-1zM8 480h1v2h-1zM8 483h1v2h-1zM8 486h1v6h-1zM8 493h1v5h-1zM8 509h1v1h-1zM8 512h1v3h-1zM8 516h1v1h-1zM8 518h1v3h-1zM8 527h1v7h-1zM8 537h1v3h-1zM8 542h1v1h-1zM8 544h1v7h-1zM8 553h1v4h-1zM8 559h1v4h-1zM8 567h1v3h-1zM8 578h1v1h-1zM8 580h1v1h-1zM8 582h1v3h-1zM8 586h1v4h-1zM8 596h1v3h-1zM8 609h1v1h-1zM9 35h1v1h-1zM9 43h1v2h-1zM9 47h1v1h-1zM9 202h1v3h-1zM9 221h1v1h-1zM9 223h1v3h-1zM9 245h1v1h-1zM9 247h1v1h-1zM9 260h1v1h-1zM9 262h1v2h-1zM9 265h1v2h-1zM9 278h1v2h-1zM9 286h1v1h-1zM9 288h1v3h-1zM9 295h1v1h-1zM9 311h1v3h-1zM9 316h1v2h-1zM9 360h1v1h-1zM9 362h1v2h-1zM9 366h1v2h-1zM9 371h1v2h-1zM9 375h1v2h-1zM9 380h1v1h-1zM9 382h1v1h-1zM9 384h1v1h-1zM9 386h1v3h-1zM9 390h1v3h-1zM9 394h1v1h-1zM9 396h1v1h-1zM9 398h1v1h-1zM9 401h1v2h-1zM9 404h1v7h-1zM9 412h1v1h-1zM9 414h1v1h-1zM9 417h1v1h-1zM9 420h1v9h-1zM9 430h1v1h-1zM9 432h1v1h-1zM9 434h1v3h-1zM9 438h1v3h-1zM9 442h1v2h-1zM9 447h1v4h-1zM9 452h1v4h-1zM9 459h1v2h-1zM9 462h1v2h-1zM9 465h1v3h-1zM9 469h1v1h-1zM9 471h1v2h-1zM9 476h1v2h-1zM9 479h1v3h-1zM9 483h1v1h-1zM9 485h1v6h-1zM9 492h1v2h-1zM9 495h1v1h-1zM9 497h1v1h-1zM9 508h1v1h-1zM9 510h1v1h-1zM9 512h1v11h-1zM9 526h1v14h-1zM9 541h1v1h-1zM9 544h1v2h-1zM9 547h1v1h-1zM9 550h1v5h-1zM9 556h1v4h-1zM9 561h1v2h-1zM9 566h1v5h-1zM9 578h1v4h-1zM9 584h1v2h-1zM9 588h1v1h-1zM9 591h1v3h-1zM9 596h1v3h-1zM10 34h1v2h-1zM10 168h1v1h-1zM10 171h1v1h-1zM10 175h1v1h-1zM10 177h1v3h-1zM10 184h1v2h-1zM10 188h1v5h-1zM10 194h1v2h-1zM10 199h1v1h-1zM10 207h1v1h-1zM10 211h1v2h-1zM10 214h1v1h-1zM10 217h1v3h-1zM10 227h1v1h-1zM10 274h1v1h-1zM10 277h1v1h-1zM10 279h1v3h-1zM10 283h1v2h-1zM10 289h1v1h-1zM10 291h1v1h-1zM10 295h1v1h-1zM10 339h1v1h-1zM10 342h1v2h-1zM10 352h1v1h-1zM10 361h1v1h-1zM10 363h1v1h-1zM10 367h1v1h-1zM10 374h1v2h-1zM10 381h1v1h-1zM10 384h1v1h-1zM10 386h1v2h-1zM10 389h1v1h-1zM10 391h1v2h-1zM10 394h1v2h-1zM10 398h1v4h-1zM10 403h1v2h-1zM10 407h1v2h-1zM10 412h1v2h-1zM10 415h1v3h-1zM10 419h1v1h-1zM10 421h1v1h-1zM10 426h1v1h-1zM10 430h1v2h-1zM10 434h1v1h-1zM10 437h1v1h-1zM10 440h1v1h-1zM10 444h1v1h-1zM10 446h1v2h-1zM10 449h1v1h-1zM10 452h1v1h-1zM10 457h1v1h-1zM10 459h1v2h-1zM10 463h1v5h-1zM10 470h1v2h-1zM10 473h1v1h-1zM10 475h1v1h-1zM10 477h1v1h-1zM10 479h1v3h-1zM10 483h1v1h-1zM10 485h1v3h-1zM10 489h1v2h-1zM10 492h1v3h-1zM10 496h1v1h-1zM10 504h1v4h-1zM10 513h1v3h-1zM10 518h1v1h-1zM10 520h1v2h-1zM10 526h1v6h-1zM10 534h1v1h-1zM10 536h1v1h-1zM10 538h1v4h-1zM10 543h1v2h-1zM10 546h1v5h-1zM10 553h1v1h-1zM10 557h1v1h-1zM10 559h1v4h-1zM10 568h1v2h-1zM10 578h1v4h-1zM10 584h1v5h-1zM10 591h1v2h-1zM10 597h1v2h-1zM11 9h1v1h-1zM11 70h1v2h-1zM11 102h1v1h-1zM11 162h1v1h-1zM11 164h1v4h-1zM11 172h1v1h-1zM11 174h1v1h-1zM11 176h1v1h-1zM11 178h1v2h-1zM11 183h1v1h-1zM11 188h1v2h-1zM11 195h1v1h-1zM11 200h1v2h-1zM11 203h1v2h-1zM11 213h1v1h-1zM11 220h1v1h-1zM11 222h1v1h-1zM11 225h1v2h-1zM11 256h1v2h-1zM11 276h1v3h-1zM11 280h1v1h-1zM11 283h1v2h-1zM11 286h1v1h-1zM11 288h1v4h-1zM11 293h1v1h-1zM11 295h1v1h-1zM11 319h1v2h-1zM11 326h1v1h-1zM11 329h1v1h-1zM11 333h1v1h-1zM11 366h1v1h-1zM11 371h1v1h-1zM11 374h1v3h-1zM11 383h1v1h-1zM11 385h1v1h-1zM11 387h1v1h-1zM11 389h1v2h-1zM11 395h1v1h-1zM11 397h1v2h-1zM11 402h1v3h-1zM11 407h1v3h-1zM11 414h1v6h-1zM11 424h1v1h-1zM11 427h1v1h-1zM11 432h1v4h-1zM11 443h1v2h-1zM11 446h1v1h-1zM11 448h1v2h-1zM11 451h1v1h-1zM11 454h1v1h-1zM11 456h1v2h-1zM11 459h1v8h-1zM11 470h1v1h-1zM11 472h1v1h-1zM11 474h1v4h-1zM11 479h1v3h-1zM11 483h1v2h-1zM11 487h1v2h-1zM11 490h1v4h-1zM11 495h1v1h-1zM11 508h1v1h-1zM11 512h1v5h-1zM11 519h1v1h-1zM11 522h1v1h-1zM11 529h1v2h-1zM11 532h1v4h-1zM11 537h1v3h-1zM11 542h1v5h-1zM11 548h1v2h-1zM11 551h1v2h-1zM11 555h1v2h-1zM11 559h1v3h-1zM11 578h1v6h-1zM11 585h1v2h-1zM11 589h1v1h-1zM11 592h1v2h-1zM11 595h1v2h-1zM11 609h1v1h-1zM12 13h1v2h-1zM12 57h1v2h-1zM12 60h1v1h-1zM12 62h1v2h-1zM12 65h1v3h-1zM12 69h1v1h-1zM12 83h1v1h-1zM12 85h1v4h-1zM12 97h1v2h-1zM12 100h1v7h-1zM12 108h1v5h-1zM12 114h1v1h-1zM12 117h1v1h-1zM12 123h1v4h-1zM12 130h1v1h-1zM12 132h1v4h-1zM12 137h1v4h-1zM12 142h1v3h-1zM12 146h1v1h-1zM12 148h1v2h-1zM12 151h1v3h-1zM12 155h1v3h-1zM12 162h1v1h-1zM12 165h1v3h-1zM12 188h1v5h-1zM12 194h1v2h-1zM12 199h1v2h-1zM12 203h1v1h-1zM12 205h1v1h-1zM12 208h1v1h-1zM12 210h1v1h-1zM12 214h1v3h-1zM12 218h1v1h-1zM12 222h1v6h-1zM12 229h1v1h-1zM12 237h1v2h-1zM12 244h1v4h-1zM12 249h1v2h-1zM12 253h1v2h-1zM12 261h1v2h-1zM12 282h1v1h-1zM12 299h1v1h-1zM12 301h1v1h-1zM12 304h1v3h-1zM12 365h1v1h-1zM12 367h1v1h-1zM12 374h1v1h-1zM12 376h1v1h-1zM12 379h1v1h-1zM12 381h1v1h-1zM12 384h1v1h-1zM12 423h1v1h-1zM12 427h1v1h-1zM12 431h1v1h-1zM13 53h1v1h-1zM13 57h1v1h-1zM13 59h1v3h-1zM13 64h1v2h-1zM13 69h1v3h-1zM13 83h1v1h-1zM13 85h1v4h-1zM13 98h1v5h-1zM13 104h1v3h-1zM13 109h1v3h-1zM13 116h1v2h-1zM13 119h1v1h-1zM13 122h1v4h-1zM13 130h1v2h-1zM13 133h1v12h-1zM13 147h1v1h-1zM13 149h1v2h-1zM13 152h1v2h-1zM13 155h1v2h-1zM13 163h1v5h-1zM13 170h1v1h-1zM13 184h1v1h-1zM13 189h1v2h-1zM13 193h1v1h-1zM13 195h1v1h-1zM13 199h1v10h-1zM13 210h1v3h-1zM13 214h1v2h-1zM13 218h1v1h-1zM13 222h1v2h-1zM13 225h1v2h-1zM13 235h1v4h-1zM13 241h1v1h-1zM13 255h1v2h-1zM13 281h1v1h-1zM13 286h1v1h-1zM13 288h1v2h-1zM13 299h1v3h-1zM13 304h1v1h-1zM13 306h1v1h-1zM14 58h1v3h-1zM14 64h1v2h-1zM14 67h1v6h-1zM14 74h1v1h-1zM14 81h1v1h-1zM14 83h1v2h-1zM14 86h1v3h-1zM14 96h1v10h-1zM14 107h1v3h-1zM14 111h1v2h-1zM14 114h1v1h-1zM14 117h1v4h-1zM14 122h1v3h-1zM14 126h1v1h-1zM14 130h1v3h-1zM14 135h1v2h-1zM14 138h1v3h-1zM14 142h1v2h-1zM14 145h1v6h-1zM14 152h1v1h-1zM14 155h1v3h-1zM14 159h1v1h-1zM14 163h1v5h-1zM14 172h1v1h-1zM14 174h1v1h-1zM14 176h1v1h-1zM14 185h1v1h-1zM14 191h1v2h-1zM14 194h1v2h-1zM14 199h1v6h-1zM14 207h1v1h-1zM14 209h1v3h-1zM14 213h1v4h-1zM14 218h1v1h-1zM14 220h1v2h-1zM14 224h1v4h-1zM14 240h1v2h-1zM14 243h1v1h-1zM14 280h1v1h-1zM14 301h1v1h-1zM14 304h1v1h-1zM14 306h1v1h-1zM15 10h1v1h-1zM15 49h1v1h-1zM15 53h1v1h-1zM15 55h1v6h-1zM15 66h1v2h-1zM15 69h1v2h-1zM15 73h1v2h-1zM15 80h1v4h-1zM15 85h1v2h-1zM15 95h1v4h-1zM15 100h1v1h-1zM15 104h1v5h-1zM15 110h1v1h-1zM15 116h1v1h-1zM15 118h1v2h-1zM15 123h1v1h-1zM15 126h1v1h-1zM15 131h1v5h-1zM15 137h1v3h-1zM15 141h1v4h-1zM15 146h1v1h-1zM15 162h1v1h-1zM15 164h1v4h-1zM15 171h1v1h-1zM15 176h1v1h-1zM15 178h1v2h-1zM15 189h1v1h-1zM15 191h1v3h-1zM15 199h1v1h-1zM15 201h1v2h-1zM15 204h1v5h-1zM15 211h1v1h-1zM15 214h1v3h-1zM15 218h1v4h-1zM15 224h1v3h-1zM15 229h1v2h-1zM15 235h1v2h-1zM15 238h1v2h-1zM15 241h1v1h-1zM15 243h1v1h-1zM15 280h1v2h-1zM15 299h1v1h-1zM15 302h1v2h-1zM15 305h1v2h-1zM16 4h1v3h-1zM16 39h1v2h-1zM16 50h1v1h-1zM16 54h1v7h-1zM16 64h1v1h-1zM16 66h1v4h-1zM16 73h1v2h-1zM16 84h1v6h-1zM16 93h1v3h-1zM16 97h1v2h-1zM16 100h1v1h-1zM16 102h1v7h-1zM16 110h1v3h-1zM16 115h1v3h-1zM16 123h1v2h-1zM16 126h1v1h-1zM16 130h1v3h-1zM16 134h1v3h-1zM16 138h1v6h-1zM16 145h1v2h-1zM16 161h1v2h-1zM16 164h1v2h-1zM16 167h1v1h-1zM16 190h1v4h-1zM16 200h1v1h-1zM16 203h1v2h-1zM16 206h1v2h-1zM16 210h1v1h-1zM16 215h1v6h-1zM16 222h1v1h-1zM16 224h1v1h-1zM16 226h1v2h-1zM16 230h1v1h-1zM16 235h1v2h-1zM16 241h1v2h-1zM16 282h1v1h-1zM16 300h1v1h-1zM16 304h1v3h-1zM17 58h1v2h-1zM17 64h1v4h-1zM17 69h1v2h-1zM17 72h1v1h-1zM17 74h1v1h-1zM17 80h1v1h-1zM17 82h1v5h-1zM17 88h1v2h-1zM17 92h1v3h-1zM17 96h1v4h-1zM17 101h1v4h-1zM17 107h1v1h-1zM17 110h1v3h-1zM17 119h1v1h-1zM17 123h1v4h-1zM17 130h1v2h-1zM17 135h1v2h-1zM17 139h1v2h-1zM17 142h1v4h-1zM17 149h1v2h-1zM17 152h1v2h-1zM17 156h1v2h-1zM17 159h1v1h-1zM17 161h1v2h-1zM17 164h1v4h-1zM17 190h1v2h-1zM17 193h1v2h-1zM17 199h1v3h-1zM17 228h1v3h-1zM17 234h1v1h-1zM17 236h1v2h-1zM17 239h1v4h-1zM17 282h1v1h-1zM17 299h1v3h-1zM17 304h1v4h-1zM17 448h1v1h-1zM17 458h1v5h-1zM17 464h1v1h-1zM18 62h1v1h-1zM18 66h1v1h-1zM18 73h1v2h-1zM18 76h1v1h-1zM18 78h1v1h-1zM18 80h1v1h-1zM18 85h1v2h-1zM18 88h1v1h-1zM18 97h1v4h-1zM18 104h1v2h-1zM18 107h1v5h-1zM18 113h1v1h-1zM18 115h1v3h-1zM18 119h1v2h-1zM18 123h1v2h-1zM18 126h1v1h-1zM18 132h1v2h-1zM18 135h1v10h-1zM18 146h1v1h-1zM18 160h1v4h-1zM18 165h1v3h-1zM18 202h1v3h-1zM18 213h1v1h-1zM18 222h1v1h-1zM18 225h1v1h-1zM18 228h1v1h-1zM18 230h1v1h-1zM18 236h1v1h-1zM18 238h1v1h-1zM18 240h1v1h-1zM18 242h1v1h-1zM19 7h1v1h-1zM19 10h1v1h-1zM19 48h1v1h-1zM19 53h1v1h-1zM19 55h1v2h-1zM19 58h1v1h-1zM19 73h1v2h-1zM19 76h1v3h-1zM19 80h1v2h-1zM19 83h1v2h-1zM19 86h1v3h-1zM19 96h1v1h-1zM19 98h1v2h-1zM19 101h1v1h-1zM19 103h1v5h-1zM19 110h1v3h-1zM19 116h1v4h-1zM19 122h1v1h-1zM19 124h1v1h-1zM19 126h1v1h-1zM19 130h1v4h-1zM19 135h1v3h-1zM19 139h1v2h-1zM19 143h1v2h-1zM19 147h1v2h-1zM19 150h1v1h-1zM19 157h1v1h-1zM19 159h1v1h-1zM19 162h1v2h-1zM19 166h1v1h-1zM19 190h1v2h-1zM19 193h1v1h-1zM19 202h1v1h-1zM19 204h1v1h-1zM19 206h1v2h-1zM19 210h1v1h-1zM19 212h1v1h-1zM19 214h1v5h-1zM19 220h1v1h-1zM19 223h1v1h-1zM19 225h1v2h-1zM19 234h1v2h-1zM19 238h1v1h-1zM19 240h1v3h-1zM19 309h1v1h-1zM19 335h1v2h-1zM19 376h1v1h-1zM19 384h1v1h-1zM20 5h1v2h-1zM20 66h1v1h-1zM20 72h1v2h-1zM20 76h1v3h-1zM20 80h1v1h-1zM20 83h1v3h-1zM20 87h1v2h-1zM20 95h1v6h-1zM20 102h1v5h-1zM20 109h1v1h-1zM20 111h1v3h-1zM20 116h1v4h-1zM20 122h1v1h-1zM20 124h1v1h-1zM20 126h1v1h-1zM20 130h1v6h-1zM20 138h1v3h-1zM20 142h1v4h-1zM20 147h1v1h-1zM20 149h1v1h-1zM20 151h1v3h-1zM20 155h1v3h-1zM20 160h1v1h-1zM20 165h1v2h-1zM20 202h1v1h-1zM20 204h1v1h-1zM20 213h1v1h-1zM20 223h1v2h-1zM20 234h1v4h-1zM20 239h1v1h-1zM20 242h1v1h-1zM20 334h1v4h-1zM21 39h1v1h-1zM21 43h1v1h-1zM21 45h1v2h-1zM21 62h1v3h-1zM21 73h1v1h-1zM21 76h1v1h-1zM21 78h1v1h-1zM21 80h1v1h-1zM21 83h1v1h-1zM21 85h1v4h-1zM21 96h1v3h-1zM21 102h1v2h-1zM21 105h1v2h-1zM21 108h1v4h-1zM21 116h1v4h-1zM21 121h1v1h-1zM21 123h1v4h-1zM21 129h1v8h-1zM21 138h1v4h-1zM21 147h1v7h-1zM21 155h1v1h-1zM21 157h1v1h-1zM21 159h1v1h-1zM21 164h1v3h-1zM21 172h1v2h-1zM21 181h1v1h-1zM21 186h1v2h-1zM21 190h1v3h-1zM21 194h1v2h-1zM21 199h1v9h-1zM21 209h1v1h-1zM21 212h1v1h-1zM21 214h1v2h-1zM21 218h1v1h-1zM21 220h1v1h-1zM21 226h1v5h-1zM21 234h1v1h-1zM21 236h1v1h-1zM21 241h1v1h-1zM21 243h1v1h-1zM21 308h1v1h-1zM21 318h1v2h-1zM21 321h1v3h-1zM21 326h1v1h-1zM21 330h1v1h-1zM21 340h1v1h-1zM22 4h1v1h-1zM22 6h1v2h-1zM22 10h1v5h-1zM22 45h1v3h-1zM22 66h1v1h-1zM22 73h1v4h-1zM22 78h1v2h-1zM22 83h1v3h-1zM22 87h1v1h-1zM22 96h1v4h-1zM22 101h1v1h-1zM22 103h1v1h-1zM22 105h1v1h-1zM22 107h1v1h-1zM22 109h1v4h-1zM22 116h1v4h-1zM22 122h1v3h-1zM22 126h1v1h-1zM22 130h1v1h-1zM22 132h1v5h-1zM22 139h1v2h-1zM22 142h1v5h-1zM22 148h1v2h-1zM22 153h1v1h-1zM22 156h1v2h-1zM22 159h1v2h-1zM22 162h1v2h-1zM22 165h1v1h-1zM22 176h1v1h-1zM22 180h1v3h-1zM22 186h1v2h-1zM22 190h1v3h-1zM22 194h1v1h-1zM22 199h1v2h-1zM22 228h1v1h-1zM22 234h1v3h-1zM22 238h1v5h-1zM22 255h1v4h-1zM22 341h1v2h-1zM22 361h1v1h-1zM22 363h1v1h-1zM22 503h1v1h-1zM22 505h1v4h-1zM22 512h1v2h-1zM22 526h1v3h-1zM23 32h1v5h-1zM23 39h1v2h-1zM23 46h1v2h-1zM23 73h1v3h-1zM23 79h1v1h-1zM23 85h1v4h-1zM23 96h1v4h-1zM23 101h1v1h-1zM23 103h1v10h-1zM23 116h1v2h-1zM23 119h1v1h-1zM23 121h1v1h-1zM23 123h1v2h-1zM23 126h1v1h-1zM23 130h1v1h-1zM23 132h1v13h-1zM23 146h1v1h-1zM23 148h1v4h-1zM23 153h1v1h-1zM23 155h1v1h-1zM23 159h1v1h-1zM23 161h1v1h-1zM23 163h1v5h-1zM23 177h1v2h-1zM23 188h1v1h-1zM23 202h1v1h-1zM23 204h1v4h-1zM23 213h1v3h-1zM23 217h1v2h-1zM23 222h1v2h-1zM23 225h1v1h-1zM23 228h1v3h-1zM23 234h1v1h-1zM23 237h1v3h-1zM23 242h1v1h-1zM23 253h1v1h-1zM23 317h1v1h-1zM23 341h1v1h-1zM23 343h1v1h-1zM23 348h1v1h-1zM23 352h1v1h-1zM23 360h1v3h-1zM23 518h1v4h-1zM23 532h1v1h-1zM23 536h1v3h-1zM23 543h1v2h-1zM23 547h1v2h-1zM23 550h1v1h-1zM23 553h1v1h-1z"/>
<path fill="#ebebff" d="M0 7h1v3h-1zM0 11h1v1h-1zM0 46h1v1h-1zM0 60h1v1h-1zM0 80h1v1h-1zM0 87h1v2h-1zM0 97h1v1h-1zM0 104h1v1h-1zM0 123h1v1h-1zM0 147h1v1h-1zM0 255h1v1h-1zM0 258h1v1h-1zM0 276h1v1h-1zM0 319h1v1h-1zM0 333h1v1h-1zM0 336h1v1h-1zM1 3h1v1h-1zM1 5h1v2h-1zM1 44h1v1h-1zM1 66h1v2h-1zM1 69h1v1h-1zM1 148h1v1h-1zM1 168h1v1h-1zM1 170h1v1h-1zM1 184h1v1h-1zM1 190h1v1h-1zM1 193h1v1h-1zM1 241h1v1h-1zM1 261h1v1h-1zM1 265h1v1h-1zM1 277h1v1h-1zM1 341h1v1h-1zM1 608h1v1h-1zM2 13h1v2h-1zM2 44h1v2h-1zM2 87h1v1h-1zM2 139h1v1h-1zM2 147h1v2h-1zM2 277h1v1h-1zM2 316h1v1h-1zM3 13h1v2h-1zM3 34h1v1h-1zM3 81h1v1h-1zM3 147h1v1h-1zM3 168h1v1h-1zM3 170h1v1h-1zM3 180h1v1h-1zM3 191h1v3h-1zM3 198h1v1h-1zM3 206h1v1h-1zM3 215h1v1h-1zM3 229h1v1h-1zM3 234h1v1h-1zM3 264h1v3h-1zM3 308h1v2h-1zM4 7h1v2h-1zM4 10h1v2h-1zM4 87h1v1h-1zM4 103h1v1h-1zM4 131h1v1h-1zM4 139h1v1h-1zM4 168h1v1h-1zM4 171h1v1h-1zM4 183h1v1h-1zM4 185h1v1h-1zM4 188h1v2h-1zM4 194h1v1h-1zM4 199h1v1h-1zM4 225h1v1h-1zM4 238h1v1h-1zM4 276h1v1h-1zM5 81h1v2h-1zM5 103h1v1h-1zM5 111h1v1h-1zM5 256h1v2h-1zM5 276h1v2h-1zM5 308h1v2h-1zM5 318h1v3h-1zM5 326h1v1h-1zM5 334h1v2h-1zM5 354h1v1h-1zM5 356h1v1h-1zM5 607h1v2h-1zM6 12h1v2h-1zM6 33h1v1h-1zM6 35h1v1h-1zM6 44h1v2h-1zM6 49h1v1h-1zM6 68h1v1h-1zM6 70h1v1h-1zM6 98h1v1h-1zM6 168h1v1h-1zM6 176h1v1h-1zM6 180h1v1h-1zM6 184h1v1h-1zM6 227h1v1h-1zM6 256h1v1h-1zM6 271h1v2h-1zM6 289h1v3h-1zM6 323h1v1h-1zM6 355h1v2h-1zM6 607h1v2h-1zM7 13h1v2h-1zM7 32h1v1h-1zM7 57h1v1h-1zM7 61h1v2h-1zM7 81h1v1h-1zM7 142h1v1h-1zM7 308h1v2h-1zM8 14h1v1h-1zM8 88h1v1h-1zM8 98h1v1h-1zM8 123h1v1h-1zM9 4h1v1h-1zM9 6h1v1h-1zM9 8h1v1h-1zM9 11h1v2h-1zM9 14h1v1h-1zM9 49h1v1h-1zM9 57h1v1h-1zM9 59h1v2h-1zM9 66h1v1h-1zM9 68h1v1h-1zM9 72h1v1h-1zM9 79h1v2h-1zM9 88h1v1h-1zM9 97h1v1h-1zM9 105h1v1h-1zM9 267h1v1h-1zM10 44h1v2h-1zM10 49h1v1h-1zM10 75h1v1h-1zM10 99h1v1h-1zM10 135h1v2h-1zM10 229h1v2h-1zM10 261h1v1h-1zM10 265h1v1h-1zM10 316h1v1h-1zM11 3h1v1h-1zM11 5h1v2h-1zM11 81h1v2h-1zM11 133h1v2h-1zM11 145h1v1h-1zM11 308h1v2h-1zM11 363h1v1h-1zM11 505h1v1h-1zM12 4h1v1h-1zM12 8h1v1h-1zM12 10h1v2h-1zM12 168h1v1h-1zM12 256h1v3h-1zM12 334h1v3h-1zM12 354h1v3h-1zM12 446h1v1h-1zM12 462h1v1h-1zM12 489h1v1h-1zM12 507h1v1h-1zM13 44h1v2h-1zM13 168h1v1h-1zM13 176h1v1h-1zM13 309h1v1h-1zM13 312h1v1h-1zM13 376h1v1h-1zM13 386h1v1h-1zM13 415h1v1h-1zM13 446h1v1h-1zM13 475h1v1h-1zM13 484h1v1h-1zM13 488h1v1h-1zM13 496h1v1h-1zM13 608h1v1h-1zM14 12h1v2h-1zM14 37h1v1h-1zM14 168h1v1h-1zM14 170h1v1h-1zM14 262h1v1h-1zM14 264h1v3h-1zM14 290h1v2h-1zM14 373h1v1h-1zM14 387h1v1h-1zM14 400h1v4h-1zM14 409h1v2h-1zM14 462h1v1h-1zM14 464h1v1h-1zM14 467h1v1h-1zM14 496h1v1h-1zM14 607h1v1h-1zM15 12h1v1h-1zM15 14h1v1h-1zM15 44h1v1h-1zM15 256h1v3h-1zM15 260h1v1h-1zM15 289h1v1h-1zM15 291h1v1h-1zM15 308h1v1h-1zM15 322h1v2h-1zM15 332h1v1h-1zM15 354h1v2h-1zM15 360h1v1h-1zM15 462h1v1h-1zM15 468h1v2h-1zM15 479h1v1h-1zM15 491h1v1h-1zM15 495h1v1h-1zM15 509h1v1h-1zM15 513h1v2h-1zM15 606h1v1h-1zM15 611h1v1h-1zM16 12h1v1h-1zM16 35h1v1h-1zM16 169h1v2h-1zM16 176h1v1h-1zM16 180h1v1h-1zM16 261h1v1h-1zM16 316h1v1h-1zM16 357h1v1h-1zM16 362h1v2h-1zM16 439h1v1h-1zM16 444h1v1h-1zM16 462h1v1h-1zM16 464h1v1h-1zM16 467h1v1h-1zM16 484h1v2h-1zM16 548h1v1h-1zM16 552h1v1h-1zM16 603h1v2h-1zM17 4h1v1h-1zM17 55h1v1h-1zM17 253h1v1h-1zM17 256h1v3h-1zM17 439h1v2h-1zM17 493h1v1h-1zM17 518h1v1h-1zM17 520h1v1h-1zM17 567h1v3h-1zM17 596h1v2h-1zM18 40h1v1h-1zM18 45h1v1h-1zM18 53h1v1h-1zM18 170h1v1h-1zM18 180h1v1h-1zM18 184h1v1h-1zM18 312h1v2h-1zM18 316h1v2h-1zM18 334h1v1h-1zM18 336h1v1h-1zM18 373h1v1h-1zM18 396h1v1h-1zM18 411h1v1h-1zM18 417h1v1h-1zM19 168h1v1h-1zM19 186h1v1h-1zM19 253h1v2h-1zM19 261h1v1h-1zM19 264h1v1h-1zM19 267h1v1h-1zM19 276h1v2h-1zM19 318h1v1h-1zM19 333h1v1h-1zM19 355h1v1h-1zM19 417h1v1h-1zM19 468h1v1h-1zM19 481h1v1h-1zM19 492h1v1h-1zM19 504h1v1h-1zM19 509h1v1h-1zM19 514h1v1h-1zM19 529h1v1h-1zM19 538h1v1h-1zM19 552h1v1h-1zM19 598h1v1h-1zM19 608h1v1h-1zM19 611h1v1h-1zM20 44h1v1h-1zM20 169h1v1h-1zM20 183h1v2h-1zM20 188h1v2h-1zM20 256h1v1h-1zM20 258h1v1h-1zM20 272h1v1h-1zM20 274h1v2h-1zM20 313h1v1h-1zM20 316h1v2h-1zM20 383h1v1h-1zM20 385h1v1h-1zM20 414h1v1h-1zM20 419h1v1h-1zM20 440h1v1h-1zM20 504h1v1h-1zM20 509h1v1h-1zM20 514h1v1h-1zM20 518h1v1h-1zM20 520h1v1h-1zM20 538h1v2h-1zM20 543h1v2h-1zM20 548h1v2h-1zM20 553h1v2h-1zM20 561h1v1h-1zM20 567h1v2h-1zM21 3h1v1h-1zM21 5h1v1h-1zM21 13h1v2h-1zM21 253h1v1h-1zM21 277h1v1h-1zM21 350h1v1h-1zM21 354h1v2h-1zM21 372h1v1h-1zM21 395h1v1h-1zM21 401h1v2h-1zM21 409h1v2h-1zM21 435h1v1h-1zM21 439h1v1h-1zM21 442h1v1h-1zM21 467h1v3h-1zM21 494h1v2h-1zM21 506h1v1h-1zM21 508h1v2h-1zM21 530h1v1h-1zM21 548h1v1h-1zM21 568h1v1h-1zM21 590h1v1h-1zM21 596h1v2h-1zM21 603h1v2h-1zM22 49h1v1h-1zM22 267h1v1h-1zM22 299h1v1h-1zM22 323h1v1h-1zM22 326h1v1h-1zM22 331h1v1h-1zM22 387h1v1h-1zM22 401h1v3h-1zM22 410h1v1h-1zM22 553h1v2h-1zM22 569h1v1h-1zM22 596h1v2h-1zM22 607h1v2h-1zM23 3h1v1h-1zM23 6h1v1h-1zM23 200h1v2h-1zM23 259h1v1h-1zM23 264h1v3h-1zM23 319h1v1h-1zM23 326h1v1h-1zM23 333h1v1h-1zM23 414h1v1h-1zM23 427h1v1h-1zM23 559h1v1h-1zM23 567h1v1h-1zM23 569h1v1h-1zM23 596h1v2h-1zM23 603h1v4h-1zM23 608h1v1h-1z"/>
<path fill="#f5f5ff" d="M0 10h1v1h-1zM0 120h1v1h-1zM0 127h1v2h-1zM0 144h1v1h-1zM1 609h1v1h-1zM3 82h1v1h-1zM3 88h1v1h-1zM3 196h1v1h-1zM3 213h1v1h-1zM3 219h1v2h-1zM4 200h1v1h-1zM4 231h1v1h-1zM5 314h1v1h-1zM5 333h1v1h-1zM6 170h1v1h-1zM6 610h1v1h-1zM7 80h1v1h-1zM8 231h1v1h-1zM8 233h1v1h-1zM10 80h1v1h-1zM10 264h1v1h-1zM11 32h1v1h-1zM11 62h1v1h-1zM11 148h1v1h-1zM12 333h1v1h-1zM12 482h1v1h-1zM13 334h1v1h-1zM13 339h1v2h-1zM14 9h1v1h-1zM14 38h1v1h-1zM14 169h1v1h-1zM14 347h1v1h-1zM15 92h1v1h-1zM15 309h1v1h-1zM15 482h1v1h-1zM15 498h1v2h-1zM16 168h1v1h-1zM16 577h1v1h-1zM16 584h1v1h-1zM16 588h1v1h-1zM17 482h1v1h-1zM17 498h1v3h-1zM18 183h1v1h-1zM18 253h1v1h-1zM18 428h1v1h-1zM18 430h1v1h-1zM19 353h1v1h-1zM19 500h1v1h-1zM20 373h1v1h-1zM21 6h1v1h-1zM21 499h1v2h-1zM21 606h1v1h-1zM22 609h1v1h-1zM23 577h1v1h-1z"/>
<path fill="#a3a3ff" d="M0 14h1v1h-1zM0 244h1v1h-1zM0 267h1v1h-1zM0 288h1v1h-1zM0 301h1v1h-1zM0 306h1v2h-1zM0 322h1v1h-1zM0 326h1v1h-1zM0 364h1v1h-1zM0 373h1v2h-1zM0 382h1v1h-1zM0 384h1v1h-1zM0 401h1v2h-1zM0 410h1v1h-1zM0 420h1v1h-1zM0 439h1v1h-1zM0 461h1v2h-1zM0 468h1v2h-1zM0 485h1v1h-1zM0 509h1v1h-1zM0 518h1v1h-1zM0 545h1v1h-1zM0 553h1v1h-1zM0 560h1v1h-1zM1 127h1v3h-1zM1 141h1v1h-1zM1 289h1v2h-1zM1 301h1v1h-1zM1 319h1v1h-1zM1 326h1v1h-1zM1 364h1v1h-1zM1 371h1v1h-1zM1 373h1v1h-1zM1 376h1v1h-1zM1 402h1v2h-1zM1 420h1v1h-1zM1 440h1v1h-1zM1 467h1v2h-1zM1 479h1v1h-1zM1 494h1v3h-1zM1 514h1v1h-1zM1 516h1v1h-1zM1 518h1v1h-1zM1 529h1v2h-1zM1 554h1v1h-1zM1 598h1v1h-1zM2 244h1v1h-1zM2 288h1v1h-1zM2 291h1v1h-1zM2 299h1v1h-1zM2 321h1v1h-1zM2 326h1v1h-1zM2 333h1v2h-1zM2 336h1v1h-1zM2 364h1v1h-1zM2 373h1v1h-1zM2 384h1v1h-1zM2 400h1v1h-1zM2 402h1v2h-1zM2 413h1v1h-1zM2 439h1v1h-1zM2 447h1v1h-1zM2 461h1v1h-1zM2 468h1v2h-1zM2 475h1v1h-1zM2 482h1v1h-1zM2 496h1v1h-1zM2 501h1v1h-1zM2 520h1v1h-1zM2 531h1v1h-1zM2 543h1v1h-1zM2 545h1v1h-1zM2 553h1v2h-1zM2 579h1v1h-1zM2 582h1v1h-1zM2 604h1v1h-1zM2 606h1v1h-1zM3 61h1v2h-1zM3 267h1v1h-1zM3 271h1v1h-1zM3 275h1v1h-1zM3 289h1v1h-1zM3 299h1v1h-1zM3 301h1v1h-1zM3 307h1v1h-1zM3 353h1v1h-1zM3 355h1v1h-1zM3 360h1v1h-1zM3 387h1v1h-1zM3 400h1v1h-1zM3 440h1v1h-1zM3 465h1v1h-1zM3 468h1v2h-1zM3 482h1v1h-1zM3 484h1v1h-1zM3 494h1v1h-1zM3 504h1v2h-1zM3 518h1v1h-1zM3 529h1v1h-1zM3 553h1v2h-1zM3 598h1v1h-1zM4 32h1v3h-1zM4 45h1v1h-1zM4 55h1v1h-1zM4 58h1v1h-1zM4 60h1v1h-1zM4 67h1v1h-1zM4 70h1v1h-1zM4 244h1v1h-1zM4 247h1v1h-1zM4 288h1v1h-1zM4 300h1v2h-1zM4 306h1v4h-1zM4 320h1v1h-1zM4 333h1v1h-1zM4 353h1v1h-1zM4 355h1v1h-1zM4 364h1v1h-1zM4 373h1v1h-1zM4 400h1v2h-1zM4 417h1v1h-1zM4 459h1v1h-1zM4 463h1v1h-1zM4 468h1v2h-1zM4 483h1v1h-1zM4 496h1v1h-1zM4 529h1v1h-1zM4 538h1v1h-1zM4 548h1v1h-1zM4 552h1v3h-1zM4 567h1v1h-1zM4 569h1v1h-1zM4 586h1v1h-1zM4 597h1v2h-1zM4 609h1v1h-1zM5 4h1v1h-1zM5 7h1v2h-1zM5 288h1v1h-1zM5 290h1v2h-1zM5 300h1v2h-1zM5 373h1v1h-1zM5 375h1v2h-1zM5 397h1v1h-1zM5 400h1v2h-1zM5 403h1v1h-1zM5 439h1v1h-1zM5 461h1v1h-1zM5 463h1v1h-1zM5 468h1v2h-1zM5 482h1v2h-1zM5 487h1v1h-1zM5 492h1v1h-1zM5 494h1v1h-1zM5 496h1v1h-1zM5 554h1v1h-1zM5 597h1v1h-1zM6 10h1v2h-1zM6 298h1v1h-1zM6 361h1v1h-1zM6 400h1v1h-1zM6 403h1v1h-1zM6 410h1v1h-1zM6 440h1v1h-1zM6 459h1v1h-1zM6 462h1v1h-1zM6 467h1v1h-1zM6 471h1v1h-1zM6 494h1v1h-1zM6 548h1v1h-1zM6 553h1v1h-1zM6 577h1v1h-1zM7 38h1v1h-1zM7 290h1v1h-1zM7 360h1v1h-1zM7 364h1v1h-1zM7 373h1v1h-1zM7 376h1v1h-1zM7 401h1v2h-1zM7 414h1v1h-1zM7 460h1v3h-1zM7 468h1v2h-1zM7 495h1v2h-1zM7 509h1v1h-1zM7 514h1v1h-1zM7 554h1v1h-1zM7 609h1v2h-1zM8 10h1v2h-1zM8 39h1v1h-1zM8 190h1v1h-1zM8 193h1v3h-1zM8 199h1v2h-1zM8 256h1v2h-1zM8 267h1v1h-1zM8 289h1v2h-1zM8 298h1v1h-1zM8 308h1v1h-1zM8 320h1v1h-1zM8 333h1v2h-1zM8 360h1v1h-1zM8 364h1v1h-1zM8 373h1v1h-1zM8 400h1v1h-1zM8 402h1v2h-1zM8 409h1v1h-1zM8 439h1v2h-1zM8 464h1v1h-1zM8 468h1v2h-1zM8 476h1v1h-1zM8 492h1v1h-1zM8 498h1v1h-1zM8 534h1v1h-1zM8 543h1v1h-1zM8 552h1v1h-1zM8 610h1v1h-1zM9 34h1v1h-1zM9 46h1v1h-1zM9 207h1v4h-1zM9 212h1v1h-1zM9 215h1v1h-1zM9 244h1v1h-1zM9 259h1v1h-1zM9 264h1v1h-1zM9 291h1v1h-1zM9 308h1v3h-1zM9 364h1v1h-1zM9 373h1v1h-1zM9 400h1v1h-1zM9 403h1v1h-1zM9 413h1v1h-1zM9 464h1v1h-1zM9 468h1v1h-1zM9 475h1v1h-1zM9 484h1v1h-1zM9 491h1v1h-1zM9 494h1v1h-1zM9 496h1v1h-1zM9 500h1v1h-1zM9 509h1v1h-1zM9 548h1v2h-1zM9 577h1v1h-1zM9 582h1v1h-1zM10 180h1v1h-1zM10 183h1v1h-1zM10 193h1v1h-1zM10 200h1v2h-1zM10 271h1v2h-1zM10 276h1v1h-1zM10 288h1v1h-1zM10 290h1v1h-1zM10 360h1v1h-1zM10 362h1v1h-1zM10 376h1v1h-1zM10 396h1v1h-1zM10 402h1v1h-1zM10 409h1v2h-1zM10 427h1v1h-1zM10 439h1v1h-1zM10 448h1v1h-1zM10 462h1v1h-1zM10 468h1v2h-1zM10 476h1v1h-1zM10 484h1v1h-1zM10 495h1v1h-1zM10 509h1v1h-1zM10 545h1v1h-1zM10 552h1v1h-1zM10 554h1v1h-1zM10 577h1v1h-1zM10 582h1v1h-1zM10 596h1v1h-1zM11 8h1v1h-1zM11 10h1v2h-1zM11 68h1v2h-1zM11 97h1v2h-1zM11 193h1v2h-1zM11 199h1v1h-1zM11 214h1v1h-1zM11 255h1v1h-1zM11 271h1v1h-1zM11 364h1v1h-1zM11 373h1v1h-1zM11 382h1v1h-1zM11 384h1v1h-1zM11 400h1v1h-1zM11 410h1v1h-1zM11 413h1v1h-1zM11 420h1v2h-1zM11 439h1v2h-1zM11 447h1v1h-1zM11 467h1v3h-1zM11 482h1v1h-1zM11 494h1v1h-1zM11 496h1v1h-1zM11 509h1v1h-1zM11 518h1v1h-1zM11 520h1v1h-1zM11 528h1v1h-1zM11 550h1v1h-1zM11 553h1v2h-1zM11 567h1v1h-1zM11 569h1v1h-1zM11 591h1v1h-1zM11 597h1v2h-1zM11 610h1v1h-1zM12 59h1v1h-1zM12 70h1v3h-1zM12 74h1v1h-1zM12 81h1v2h-1zM12 99h1v1h-1zM12 147h1v1h-1zM12 193h1v1h-1zM12 201h1v1h-1zM12 206h1v2h-1zM12 230h1v1h-1zM12 236h1v1h-1zM12 259h1v1h-1zM12 264h1v2h-1zM12 300h1v1h-1zM12 307h1v1h-1zM12 364h1v1h-1zM12 373h1v1h-1zM12 375h1v1h-1zM13 62h1v1h-1zM13 66h1v1h-1zM13 72h1v1h-1zM13 81h1v2h-1zM13 97h1v1h-1zM13 126h1v1h-1zM13 148h1v1h-1zM13 192h1v1h-1zM13 194h1v1h-1zM13 224h1v1h-1zM13 227h1v1h-1zM13 229h1v2h-1zM13 257h1v2h-1zM13 290h1v2h-1zM13 307h1v1h-1zM13 464h1v1h-1zM14 61h1v2h-1zM14 82h1v1h-1zM14 153h1v1h-1zM14 183h1v2h-1zM14 188h1v3h-1zM14 193h1v1h-1zM14 206h1v1h-1zM14 222h1v1h-1zM14 229h1v3h-1zM14 242h1v1h-1zM14 299h1v2h-1zM14 307h1v1h-1zM15 37h1v1h-1zM15 61h1v1h-1zM15 68h1v1h-1zM15 72h1v1h-1zM15 87h1v2h-1zM15 99h1v1h-1zM15 124h1v1h-1zM15 140h1v1h-1zM15 145h1v1h-1zM15 183h1v1h-1zM15 185h1v1h-1zM15 188h1v1h-1zM15 195h1v1h-1zM15 200h1v1h-1zM15 227h1v1h-1zM15 300h1v2h-1zM15 307h1v1h-1zM16 3h1v1h-1zM16 61h1v2h-1zM16 70h1v3h-1zM16 81h1v2h-1zM16 194h1v1h-1zM16 199h1v1h-1zM16 201h1v2h-1zM16 205h1v1h-1zM16 229h1v1h-1zM16 238h1v1h-1zM16 240h1v1h-1zM16 299h1v1h-1zM16 301h1v1h-1zM16 307h1v1h-1zM17 57h1v1h-1zM17 61h1v2h-1zM17 68h1v1h-1zM17 81h1v1h-1zM17 87h1v1h-1zM17 138h1v1h-1zM17 147h1v2h-1zM17 192h1v1h-1zM17 238h1v1h-1zM18 61h1v1h-1zM18 81h1v2h-1zM18 87h1v1h-1zM18 134h1v1h-1zM18 164h1v1h-1zM18 196h1v1h-1zM18 223h1v1h-1zM18 229h1v1h-1zM18 237h1v1h-1zM19 11h1v1h-1zM19 49h1v1h-1zM19 62h1v1h-1zM19 72h1v1h-1zM19 82h1v1h-1zM19 138h1v1h-1zM19 153h1v1h-1zM19 164h1v2h-1zM19 194h1v1h-1zM19 200h1v2h-1zM19 205h1v1h-1zM19 229h1v2h-1zM19 334h1v1h-1zM19 373h1v1h-1zM19 375h1v1h-1zM20 4h1v1h-1zM20 38h1v1h-1zM20 81h1v2h-1zM20 123h1v1h-1zM20 148h1v1h-1zM20 225h1v1h-1zM20 229h1v2h-1zM20 238h1v1h-1zM21 40h1v1h-1zM21 44h1v1h-1zM21 57h1v1h-1zM21 66h1v1h-1zM21 72h1v1h-1zM21 81h1v2h-1zM21 99h1v1h-1zM21 168h1v3h-1zM21 180h1v1h-1zM21 182h1v1h-1zM21 193h1v1h-1zM22 3h1v1h-1zM22 5h1v1h-1zM22 8h1v1h-1zM22 44h1v1h-1zM22 61h1v1h-1zM22 72h1v1h-1zM22 81h1v1h-1zM22 88h1v1h-1zM22 138h1v1h-1zM22 147h1v1h-1zM22 164h1v1h-1zM22 166h1v1h-1zM22 169h1v2h-1zM22 193h1v1h-1zM22 201h1v1h-1zM22 229h1v2h-1zM22 353h1v3h-1zM22 357h1v1h-1zM22 362h1v1h-1zM22 509h1v1h-1zM23 62h1v1h-1zM23 66h1v1h-1zM23 81h1v2h-1zM23 147h1v1h-1zM23 184h1v1h-1zM23 189h1v1h-1zM23 226h1v2h-1zM23 241h1v1h-1zM23 542h1v1h-1zM23 549h1v1h-1zM23 554h1v1h-1z"/>
<path fill="#b8b8ff" d="M0 23h1v1h-1zM0 48h1v1h-1zM0 51h1v1h-1zM0 90h1v4h-1zM0 96h1v1h-1zM0 151h1v1h-1zM0 156h1v3h-1zM0 270h1v1h-1zM0 311h1v1h-1zM0 337h1v2h-1zM0 340h1v1h-1zM0 358h1v1h-1zM0 502h1v1h-1zM0 506h1v1h-1zM0 600h1v1h-1zM0 615h1v2h-1zM1 12h1v1h-1zM1 18h1v1h-1zM1 20h1v2h-1zM1 23h1v1h-1zM1 25h1v1h-1zM1 37h1v1h-1zM1 41h1v1h-1zM1 48h1v1h-1zM1 50h1v3h-1zM1 59h1v1h-1zM1 63h1v2h-1zM1 90h1v4h-1zM1 95h1v1h-1zM1 101h1v1h-1zM1 105h1v1h-1zM1 113h1v2h-1zM1 116h1v1h-1zM1 118h1v1h-1zM1 121h1v3h-1zM1 125h1v1h-1zM1 137h1v1h-1zM1 252h1v1h-1zM1 311h1v2h-1zM1 315h1v1h-1zM1 358h1v1h-1zM1 599h1v1h-1zM1 614h1v1h-1zM2 21h1v1h-1zM2 23h1v1h-1zM2 25h1v1h-1zM2 37h1v1h-1zM2 41h1v2h-1zM2 64h1v2h-1zM2 71h1v1h-1zM2 160h1v2h-1zM2 252h1v1h-1zM2 260h1v1h-1zM2 274h1v2h-1zM2 310h1v1h-1zM2 312h1v1h-1zM2 339h1v1h-1zM2 346h1v1h-1zM2 349h1v1h-1zM2 356h1v1h-1zM2 503h1v1h-1zM2 599h1v1h-1zM2 615h1v2h-1zM3 3h1v1h-1zM3 20h1v1h-1zM3 23h1v1h-1zM3 25h1v1h-1zM3 43h1v1h-1zM3 47h1v1h-1zM3 69h1v1h-1zM3 78h1v1h-1zM3 160h1v4h-1zM3 167h1v1h-1zM3 174h1v2h-1zM3 179h1v1h-1zM3 245h1v1h-1zM3 248h1v3h-1zM3 254h1v1h-1zM3 258h1v1h-1zM3 331h1v2h-1zM3 341h1v1h-1zM3 347h1v2h-1zM3 352h1v1h-1zM3 601h1v1h-1zM3 611h1v2h-1zM3 614h1v1h-1zM4 15h1v1h-1zM4 20h1v1h-1zM4 22h1v2h-1zM4 77h1v3h-1zM4 84h1v1h-1zM4 86h1v1h-1zM4 95h1v3h-1zM4 102h1v1h-1zM4 108h1v2h-1zM4 128h1v1h-1zM4 275h1v1h-1zM4 342h1v1h-1zM4 347h1v1h-1zM4 500h1v1h-1zM5 15h1v1h-1zM5 21h1v1h-1zM5 23h1v1h-1zM5 48h1v3h-1zM5 55h1v1h-1zM5 74h1v1h-1zM5 101h1v1h-1zM5 159h1v1h-1zM5 252h1v1h-1zM5 362h1v1h-1zM5 365h1v2h-1zM5 368h1v1h-1zM5 501h1v1h-1zM5 517h1v1h-1zM5 525h1v1h-1zM5 599h1v3h-1zM5 613h1v1h-1zM6 4h1v1h-1zM6 15h1v1h-1zM6 20h1v1h-1zM6 39h1v4h-1zM6 151h1v2h-1zM6 157h1v2h-1zM6 174h1v2h-1zM6 179h1v1h-1zM6 223h1v3h-1zM6 239h1v1h-1zM6 247h1v1h-1zM6 249h1v3h-1zM6 260h1v1h-1zM6 263h1v1h-1zM6 302h1v1h-1zM6 305h1v1h-1zM6 310h1v1h-1zM6 325h1v1h-1zM6 328h1v2h-1zM6 341h1v1h-1zM6 348h1v1h-1zM6 358h1v1h-1zM6 372h1v1h-1zM6 505h1v1h-1zM6 507h1v1h-1zM6 584h1v1h-1zM6 589h1v4h-1zM6 594h1v2h-1zM6 600h1v1h-1zM6 612h1v1h-1zM7 9h1v1h-1zM7 21h1v1h-1zM7 23h1v1h-1zM7 48h1v1h-1zM7 50h1v3h-1zM7 55h1v1h-1zM7 72h1v2h-1zM7 95h1v1h-1zM7 163h1v1h-1zM7 167h1v1h-1zM7 232h1v1h-1zM7 234h1v2h-1zM7 245h1v1h-1zM7 248h1v1h-1zM7 251h1v1h-1zM7 296h1v1h-1zM7 298h1v1h-1zM7 302h1v1h-1zM7 314h1v2h-1zM7 330h1v2h-1zM7 338h1v1h-1zM8 23h1v1h-1zM8 25h1v1h-1zM8 32h1v2h-1zM8 43h1v1h-1zM8 48h1v1h-1zM8 50h1v2h-1zM8 54h1v2h-1zM8 84h1v1h-1zM8 160h1v2h-1zM8 213h1v1h-1zM8 222h1v3h-1zM8 235h1v1h-1zM8 251h1v1h-1zM8 268h1v2h-1zM8 297h1v1h-1zM8 302h1v2h-1zM8 330h1v2h-1zM8 359h1v1h-1zM9 20h1v1h-1zM9 23h1v1h-1zM9 25h1v1h-1zM9 160h1v1h-1zM9 163h1v1h-1zM9 167h1v1h-1zM9 205h1v1h-1zM9 234h1v1h-1zM9 242h1v1h-1zM9 251h1v1h-1zM9 268h1v1h-1zM9 296h1v2h-1zM10 25h1v1h-1zM10 121h1v1h-1zM10 137h1v1h-1zM10 160h1v2h-1zM10 163h1v1h-1zM10 173h1v1h-1zM10 182h1v1h-1zM10 186h1v1h-1zM10 203h1v1h-1zM10 223h1v1h-1zM10 226h1v1h-1zM10 241h1v1h-1zM10 243h1v1h-1zM10 245h1v4h-1zM10 252h1v1h-1zM10 254h1v1h-1zM10 298h1v1h-1zM10 303h1v1h-1zM10 311h1v1h-1zM10 324h1v1h-1zM10 327h1v1h-1zM10 329h1v1h-1zM10 338h1v1h-1zM10 345h1v1h-1zM10 349h1v1h-1zM10 351h1v1h-1zM10 357h1v1h-1zM10 372h1v1h-1zM10 501h1v1h-1zM10 600h1v2h-1zM10 613h1v4h-1zM11 43h1v1h-1zM11 47h1v1h-1zM11 50h1v1h-1zM11 52h1v1h-1zM11 55h1v2h-1zM11 73h1v5h-1zM11 99h1v1h-1zM11 198h1v1h-1zM11 208h1v1h-1zM11 210h1v3h-1zM11 218h1v2h-1zM11 234h1v1h-1zM11 240h1v1h-1zM11 248h1v1h-1zM11 250h1v1h-1zM11 252h1v1h-1zM11 270h1v1h-1zM11 272h1v1h-1zM11 274h1v1h-1zM11 296h1v1h-1zM11 314h1v2h-1zM11 338h1v1h-1zM12 20h1v1h-1zM12 22h1v2h-1zM12 171h1v1h-1zM12 252h1v1h-1zM12 279h1v1h-1zM12 283h1v2h-1zM12 340h1v1h-1zM12 371h1v2h-1zM12 382h1v2h-1zM12 389h1v1h-1zM12 392h1v3h-1zM12 396h1v2h-1zM12 411h1v1h-1zM12 418h1v2h-1zM12 422h1v1h-1zM12 433h1v2h-1zM12 437h1v1h-1zM12 454h1v5h-1zM13 9h1v1h-1zM13 13h1v1h-1zM13 21h1v1h-1zM13 23h1v1h-1zM13 36h1v1h-1zM13 41h1v2h-1zM13 249h1v4h-1zM13 261h1v1h-1zM13 278h1v2h-1zM13 283h1v3h-1zM13 365h1v4h-1zM13 371h1v1h-1zM13 382h1v1h-1zM13 389h1v1h-1zM13 394h1v1h-1zM13 405h1v2h-1zM13 424h1v1h-1zM13 436h1v3h-1zM13 442h1v1h-1zM13 454h1v5h-1zM13 478h1v1h-1zM13 491h1v1h-1zM14 15h1v1h-1zM14 33h1v1h-1zM14 50h1v3h-1zM14 233h1v1h-1zM14 244h1v1h-1zM14 248h1v3h-1zM14 253h1v3h-1zM14 278h1v2h-1zM14 283h1v3h-1zM14 370h1v1h-1zM14 377h1v2h-1zM14 381h1v1h-1zM14 428h1v2h-1zM14 454h1v1h-1zM14 456h1v2h-1zM15 15h1v1h-1zM15 21h1v1h-1zM15 23h1v1h-1zM15 38h1v2h-1zM15 47h1v1h-1zM15 173h1v1h-1zM15 233h1v1h-1zM15 245h1v1h-1zM15 248h1v5h-1zM15 278h1v2h-1zM15 282h1v3h-1zM15 359h1v1h-1zM15 361h1v1h-1zM15 454h1v5h-1zM15 616h1v1h-1zM16 21h1v1h-1zM16 43h1v1h-1zM16 47h1v1h-1zM16 172h1v1h-1zM16 231h1v1h-1zM16 233h1v1h-1zM16 245h1v1h-1zM16 278h1v1h-1zM16 280h1v1h-1zM16 283h1v1h-1zM16 285h1v1h-1zM16 292h1v3h-1zM16 311h1v2h-1zM16 325h1v1h-1zM16 329h1v1h-1zM16 345h1v2h-1zM16 349h1v2h-1zM16 454h1v2h-1zM16 457h1v2h-1zM16 478h1v1h-1zM16 480h1v1h-1zM16 491h1v1h-1zM16 504h1v2h-1zM16 507h1v1h-1zM16 510h1v1h-1zM17 9h1v1h-1zM17 15h1v1h-1zM17 18h1v1h-1zM17 25h1v1h-1zM17 42h1v1h-1zM17 48h1v1h-1zM17 51h1v2h-1zM17 181h1v1h-1zM17 186h1v1h-1zM17 231h1v3h-1zM17 246h1v5h-1zM17 278h1v2h-1zM17 281h1v1h-1zM17 283h1v2h-1zM17 287h1v1h-1zM17 292h1v3h-1zM17 331h1v1h-1zM17 342h1v1h-1zM17 347h1v2h-1zM17 352h1v1h-1zM17 359h1v1h-1zM17 363h1v1h-1zM17 449h1v2h-1zM17 452h1v1h-1zM17 472h1v1h-1zM17 485h1v1h-1zM17 489h1v1h-1zM17 556h1v1h-1zM17 558h1v1h-1zM17 563h1v4h-1zM17 573h1v1h-1zM17 575h1v1h-1zM17 585h1v2h-1zM17 594h1v1h-1zM17 600h1v1h-1zM17 615h1v2h-1zM18 14h1v1h-1zM18 20h1v1h-1zM18 57h1v1h-1zM18 63h1v2h-1zM18 68h1v1h-1zM18 89h1v4h-1zM18 94h1v1h-1zM18 173h1v1h-1zM18 182h1v1h-1zM18 197h1v2h-1zM18 209h1v1h-1zM18 216h1v1h-1zM18 219h1v1h-1zM18 232h1v1h-1zM18 251h1v2h-1zM18 278h1v1h-1zM18 280h1v2h-1zM18 284h1v1h-1zM18 318h1v1h-1zM18 323h1v1h-1zM18 339h1v2h-1zM18 374h1v1h-1zM18 377h1v5h-1zM18 524h1v1h-1zM18 526h1v1h-1zM19 6h1v1h-1zM19 21h1v1h-1zM19 37h1v1h-1zM19 65h1v1h-1zM19 69h1v1h-1zM19 174h1v1h-1zM19 178h1v1h-1zM19 231h1v1h-1zM19 245h1v1h-1zM19 247h1v1h-1zM19 249h1v1h-1zM19 252h1v1h-1zM19 260h1v1h-1zM19 279h1v1h-1zM19 284h1v1h-1zM19 314h1v1h-1zM19 316h1v1h-1zM19 332h1v1h-1zM19 337h1v1h-1zM19 339h1v2h-1zM19 365h1v2h-1zM19 368h1v1h-1zM19 372h1v1h-1zM19 382h1v1h-1zM19 385h1v1h-1zM19 395h1v1h-1zM19 404h1v1h-1zM19 406h1v3h-1zM19 422h1v1h-1zM19 424h1v1h-1zM19 433h1v1h-1zM19 517h1v1h-1zM19 520h1v1h-1zM19 540h1v1h-1zM19 543h1v1h-1zM19 546h1v1h-1zM19 551h1v1h-1zM20 20h1v1h-1zM20 25h1v1h-1zM20 42h1v1h-1zM20 48h1v1h-1zM20 50h1v1h-1zM20 53h1v1h-1zM20 55h1v1h-1zM20 60h1v1h-1zM20 63h1v1h-1zM20 68h1v1h-1zM20 71h1v1h-1zM20 90h1v4h-1zM20 173h1v1h-1zM20 181h1v1h-1zM20 197h1v2h-1zM20 206h1v1h-1zM20 208h1v1h-1zM20 210h1v1h-1zM20 212h1v1h-1zM20 216h1v3h-1zM20 247h1v4h-1zM20 252h1v1h-1zM20 262h1v1h-1zM20 324h1v2h-1zM20 328h1v2h-1zM20 338h1v3h-1zM20 366h1v1h-1zM20 369h1v2h-1zM20 377h1v3h-1zM20 381h1v1h-1zM20 404h1v3h-1zM20 428h1v5h-1zM21 15h1v1h-1zM21 21h1v1h-1zM21 23h1v1h-1zM21 25h1v1h-1zM21 48h1v1h-1zM21 51h1v1h-1zM21 54h1v2h-1zM21 58h1v1h-1zM21 60h1v1h-1zM21 68h1v1h-1zM21 171h1v1h-1zM21 174h1v1h-1zM21 177h1v1h-1zM21 260h1v2h-1zM21 268h1v3h-1zM21 280h1v1h-1zM21 282h1v1h-1zM21 284h1v2h-1zM21 325h1v1h-1zM21 327h1v2h-1zM21 337h1v1h-1zM21 341h1v1h-1zM21 347h1v1h-1zM21 359h1v1h-1zM21 428h1v2h-1zM21 515h1v1h-1zM21 524h1v2h-1zM21 532h1v1h-1zM21 539h1v3h-1zM21 563h1v4h-1zM21 578h1v2h-1zM21 584h1v1h-1zM21 599h1v1h-1zM21 613h1v1h-1zM21 615h1v2h-1zM22 15h1v1h-1zM22 23h1v1h-1zM22 36h1v2h-1zM22 59h1v1h-1zM22 65h1v1h-1zM22 260h1v1h-1zM22 263h1v1h-1zM22 268h1v3h-1zM22 280h1v1h-1zM22 310h1v1h-1zM22 320h1v1h-1zM22 324h1v2h-1zM22 327h1v3h-1zM22 343h1v1h-1zM22 347h1v2h-1zM22 436h1v3h-1zM22 515h1v2h-1zM22 520h1v1h-1zM22 535h1v2h-1zM22 541h1v1h-1zM22 556h1v1h-1zM22 564h1v3h-1zM22 575h1v1h-1zM22 583h1v1h-1zM22 601h1v2h-1zM23 13h1v1h-1zM23 52h1v1h-1zM23 67h1v3h-1zM23 173h1v1h-1zM23 186h1v1h-1zM23 196h1v1h-1zM23 248h1v2h-1zM23 252h1v1h-1zM23 330h1v3h-1zM23 339h1v2h-1zM23 404h1v2h-1zM23 421h1v2h-1zM23 424h1v1h-1zM23 426h1v1h-1zM23 435h1v3h-1zM23 444h1v1h-1zM23 522h1v1h-1zM23 535h1v1h-1zM23 557h1v2h-1zM23 566h1v1h-1zM23 573h1v1h-1zM23 575h1v1h-1zM23 578h1v1h-1zM23 584h1v1h-1zM23 615h1v2h-1z"/>
<path fill="#8f8fff" d="M0 33h1v1h-1zM0 54h1v1h-1zM0 160h1v3h-1zM0 245h1v1h-1zM0 248h1v1h-1zM0 250h1v2h-1zM0 268h1v1h-1zM0 279h1v1h-1zM0 281h1v4h-1zM0 287h1v1h-1zM0 291h1v4h-1zM0 296h1v1h-1zM0 298h1v1h-1zM0 302h1v2h-1zM0 314h1v1h-1zM0 330h1v1h-1zM0 332h1v1h-1zM0 359h1v1h-1zM0 361h1v1h-1zM0 365h1v2h-1zM0 368h1v3h-1zM0 377h1v2h-1zM0 381h1v1h-1zM0 386h1v1h-1zM0 390h1v1h-1zM0 394h1v1h-1zM0 404h1v1h-1zM0 411h1v2h-1zM0 418h1v2h-1zM0 422h1v4h-1zM0 429h1v1h-1zM0 433h1v2h-1zM0 436h1v3h-1zM0 441h1v1h-1zM0 445h1v1h-1zM0 450h1v4h-1zM0 455h1v1h-1zM0 458h1v1h-1zM0 463h1v1h-1zM0 465h1v2h-1zM0 473h1v2h-1zM0 477h1v2h-1zM0 486h1v1h-1zM0 488h1v1h-1zM0 492h1v1h-1zM0 497h1v1h-1zM0 510h1v2h-1zM0 515h1v3h-1zM0 522h1v1h-1zM0 525h1v2h-1zM0 529h1v1h-1zM0 536h1v2h-1zM0 540h1v3h-1zM0 556h1v1h-1zM0 558h1v1h-1zM0 564h1v3h-1zM0 570h1v2h-1zM0 573h1v3h-1zM0 583h1v1h-1zM0 592h1v1h-1zM1 160h1v2h-1zM1 164h1v1h-1zM1 246h1v2h-1zM1 250h1v1h-1zM1 269h1v1h-1zM1 279h1v1h-1zM1 283h1v1h-1zM1 285h1v1h-1zM1 293h1v3h-1zM1 303h1v1h-1zM1 321h1v1h-1zM1 324h1v2h-1zM1 327h1v3h-1zM1 331h1v1h-1zM1 338h1v1h-1zM1 340h1v1h-1zM1 367h1v3h-1zM1 374h1v1h-1zM1 378h1v3h-1zM1 383h1v1h-1zM1 386h1v1h-1zM1 388h1v4h-1zM1 393h1v1h-1zM1 405h1v1h-1zM1 412h1v1h-1zM1 416h1v4h-1zM1 421h1v1h-1zM1 424h1v1h-1zM1 426h1v1h-1zM1 428h1v4h-1zM1 436h1v2h-1zM1 441h1v1h-1zM1 445h1v1h-1zM1 450h1v3h-1zM1 454h1v1h-1zM1 456h1v2h-1zM1 462h1v1h-1zM1 466h1v1h-1zM1 470h1v1h-1zM1 472h1v2h-1zM1 477h1v1h-1zM1 485h1v1h-1zM1 488h1v1h-1zM1 497h1v1h-1zM1 502h1v2h-1zM1 510h1v2h-1zM1 522h1v3h-1zM1 535h1v2h-1zM1 538h1v1h-1zM1 540h1v2h-1zM1 546h1v2h-1zM1 556h1v3h-1zM1 562h1v1h-1zM1 566h1v1h-1zM1 569h1v2h-1zM1 572h1v4h-1zM1 581h1v1h-1zM1 583h1v1h-1zM1 589h1v2h-1zM1 595h1v1h-1zM2 36h1v1h-1zM2 248h1v1h-1zM2 259h1v1h-1zM2 262h1v1h-1zM2 266h1v1h-1zM2 268h1v2h-1zM2 279h1v1h-1zM2 281h1v1h-1zM2 283h1v5h-1zM2 292h1v3h-1zM2 302h1v2h-1zM2 328h1v3h-1zM2 338h1v1h-1zM2 358h1v1h-1zM2 362h1v1h-1zM2 366h1v2h-1zM2 369h1v2h-1zM2 372h1v1h-1zM2 377h1v2h-1zM2 380h1v1h-1zM2 382h1v1h-1zM2 389h1v4h-1zM2 394h1v1h-1zM2 396h1v4h-1zM2 405h1v4h-1zM2 411h1v2h-1zM2 416h1v1h-1zM2 423h1v3h-1zM2 427h1v2h-1zM2 430h1v1h-1zM2 435h1v1h-1zM2 438h1v1h-1zM2 445h1v1h-1zM2 451h1v2h-1zM2 454h1v4h-1zM2 466h1v1h-1zM2 471h1v1h-1zM2 474h1v1h-1zM2 478h1v1h-1zM2 485h1v1h-1zM2 489h1v1h-1zM2 510h1v2h-1zM2 516h1v1h-1zM2 523h1v2h-1zM2 526h1v1h-1zM2 532h1v1h-1zM2 541h1v1h-1zM2 555h1v1h-1zM2 558h1v1h-1zM2 563h1v4h-1zM2 568h1v1h-1zM2 572h1v4h-1zM2 578h1v1h-1zM2 590h1v3h-1zM2 600h1v1h-1zM3 57h1v1h-1zM3 59h1v1h-1zM3 268h1v2h-1zM3 273h1v1h-1zM3 278h1v8h-1zM3 295h1v1h-1zM3 297h1v1h-1zM3 300h1v1h-1zM3 303h1v1h-1zM3 324h1v1h-1zM3 344h1v3h-1zM3 356h1v1h-1zM3 359h1v1h-1zM3 362h1v1h-1zM3 365h1v7h-1zM3 374h1v1h-1zM3 383h1v1h-1zM3 391h1v1h-1zM3 393h1v3h-1zM3 397h1v3h-1zM3 404h1v1h-1zM3 406h1v1h-1zM3 413h1v2h-1zM3 416h1v1h-1zM3 422h1v1h-1zM3 424h1v1h-1zM3 426h1v1h-1zM3 428h1v1h-1zM3 433h1v2h-1zM3 436h1v2h-1zM3 441h1v1h-1zM3 443h1v1h-1zM3 445h1v1h-1zM3 447h1v2h-1zM3 450h1v2h-1zM3 454h1v2h-1zM3 457h1v2h-1zM3 460h1v1h-1zM3 470h1v1h-1zM3 473h1v3h-1zM3 478h1v2h-1zM3 486h1v1h-1zM3 497h1v1h-1zM3 503h1v1h-1zM3 508h1v1h-1zM3 510h1v1h-1zM3 512h1v1h-1zM3 515h1v3h-1zM3 519h1v1h-1zM3 522h1v2h-1zM3 525h1v2h-1zM3 528h1v1h-1zM3 541h1v1h-1zM3 546h1v1h-1zM3 556h1v2h-1zM3 562h1v4h-1zM3 570h1v6h-1zM3 584h1v1h-1zM3 587h1v3h-1zM3 595h1v1h-1zM3 616h1v1h-1zM4 36h1v1h-1zM4 42h1v2h-1zM4 46h1v3h-1zM4 52h1v1h-1zM4 56h1v2h-1zM4 59h1v1h-1zM4 63h1v1h-1zM4 68h1v1h-1zM4 249h1v1h-1zM4 251h1v2h-1zM4 256h1v1h-1zM4 268h1v2h-1zM4 280h1v1h-1zM4 282h1v3h-1zM4 292h1v2h-1zM4 297h1v1h-1zM4 310h1v1h-1zM4 312h1v1h-1zM4 314h1v2h-1zM4 319h1v1h-1zM4 327h1v2h-1zM4 334h1v1h-1zM4 338h1v3h-1zM4 345h1v2h-1zM4 351h1v1h-1zM4 358h1v4h-1zM4 363h1v1h-1zM4 365h1v2h-1zM4 369h1v1h-1zM4 374h1v1h-1zM4 377h1v2h-1zM4 380h1v4h-1zM4 386h1v1h-1zM4 388h1v1h-1zM4 390h1v6h-1zM4 398h1v1h-1zM4 404h1v2h-1zM4 411h1v2h-1zM4 416h1v1h-1zM4 418h1v1h-1zM4 428h1v4h-1zM4 433h1v3h-1zM4 437h1v2h-1zM4 441h1v1h-1zM4 444h1v1h-1zM4 450h1v4h-1zM4 455h1v4h-1zM4 471h1v4h-1zM4 478h1v1h-1zM4 487h1v1h-1zM4 490h1v1h-1zM4 492h1v2h-1zM4 497h1v1h-1zM4 505h1v3h-1zM4 510h1v2h-1zM4 515h1v2h-1zM4 519h1v2h-1zM4 522h1v2h-1zM4 541h1v2h-1zM4 551h1v1h-1zM4 557h1v1h-1zM4 563h1v3h-1zM4 568h1v1h-1zM4 570h1v7h-1zM4 578h1v1h-1zM4 585h1v1h-1zM4 588h1v1h-1zM4 593h1v2h-1zM4 603h1v2h-1zM4 606h1v3h-1zM4 611h1v1h-1zM5 9h1v1h-1zM5 63h1v2h-1zM5 150h1v1h-1zM5 154h1v1h-1zM5 158h1v1h-1zM5 160h1v2h-1zM5 163h1v2h-1zM5 248h1v1h-1zM5 251h1v1h-1zM5 269h1v1h-1zM5 278h1v5h-1zM5 292h1v1h-1zM5 295h1v1h-1zM5 298h1v1h-1zM5 302h1v2h-1zM5 369h1v2h-1zM5 374h1v1h-1zM5 378h1v1h-1zM5 380h1v2h-1zM5 385h1v1h-1zM5 390h1v1h-1zM5 392h1v2h-1zM5 395h1v1h-1zM5 398h1v2h-1zM5 405h1v3h-1zM5 411h1v1h-1zM5 414h1v1h-1zM5 417h1v1h-1zM5 422h1v1h-1zM5 424h1v1h-1zM5 429h1v2h-1zM5 433h1v2h-1zM5 437h1v2h-1zM5 442h1v1h-1zM5 444h1v1h-1zM5 447h1v1h-1zM5 450h1v1h-1zM5 454h1v5h-1zM5 478h1v1h-1zM5 480h1v1h-1zM5 489h1v3h-1zM5 493h1v1h-1zM5 497h1v1h-1zM5 510h1v1h-1zM5 512h1v1h-1zM5 522h1v1h-1zM5 527h1v2h-1zM5 531h1v1h-1zM5 533h1v1h-1zM5 535h1v1h-1zM5 542h1v1h-1zM5 546h1v1h-1zM5 551h1v1h-1zM5 556h1v1h-1zM5 561h1v1h-1zM5 563h1v4h-1zM5 570h1v7h-1zM5 585h1v3h-1zM5 589h1v1h-1zM5 592h1v1h-1zM5 594h1v1h-1zM6 160h1v1h-1zM6 162h1v2h-1zM6 181h1v1h-1zM6 195h1v1h-1zM6 243h1v1h-1zM6 279h1v2h-1zM6 282h1v3h-1zM6 359h1v1h-1zM6 362h1v2h-1zM6 366h1v4h-1zM6 374h1v1h-1zM6 377h1v2h-1zM6 390h1v1h-1zM6 392h1v3h-1zM6 399h1v1h-1zM6 404h1v2h-1zM6 413h1v1h-1zM6 417h1v1h-1zM6 419h1v1h-1zM6 422h1v1h-1zM6 428h1v3h-1zM6 436h1v1h-1zM6 438h1v1h-1zM6 441h1v1h-1zM6 445h1v2h-1zM6 448h1v3h-1zM6 452h1v1h-1zM6 454h1v2h-1zM6 457h1v2h-1zM6 466h1v1h-1zM6 473h1v2h-1zM6 476h1v3h-1zM6 481h1v1h-1zM6 485h1v3h-1zM6 493h1v1h-1zM6 497h1v1h-1zM6 510h1v1h-1zM6 512h1v2h-1zM6 515h1v1h-1zM6 517h1v1h-1zM6 522h1v1h-1zM6 524h1v1h-1zM6 527h1v1h-1zM6 536h1v1h-1zM6 541h1v1h-1zM6 544h1v1h-1zM6 557h1v1h-1zM6 560h1v2h-1zM6 564h1v1h-1zM6 566h1v1h-1zM6 570h1v7h-1zM6 579h1v1h-1zM7 70h1v2h-1zM7 205h1v1h-1zM7 214h1v1h-1zM7 228h1v1h-1zM7 242h1v2h-1zM7 278h1v1h-1zM7 280h1v1h-1zM7 283h1v2h-1zM7 286h1v2h-1zM7 292h1v3h-1zM7 318h1v2h-1zM7 333h1v1h-1zM7 337h1v1h-1zM7 339h1v2h-1zM7 358h1v2h-1zM7 361h1v2h-1zM7 365h1v1h-1zM7 367h1v3h-1zM7 372h1v1h-1zM7 374h1v1h-1zM7 377h1v2h-1zM7 382h1v2h-1zM7 386h1v1h-1zM7 388h1v3h-1zM7 392h1v3h-1zM7 399h1v1h-1zM7 408h1v1h-1zM7 411h1v2h-1zM7 415h1v3h-1zM7 419h1v2h-1zM7 422h1v2h-1zM7 425h1v2h-1zM7 428h1v3h-1zM7 434h1v4h-1zM7 441h1v1h-1zM7 443h1v1h-1zM7 446h1v1h-1zM7 449h1v4h-1zM7 454h1v3h-1zM7 471h1v1h-1zM7 473h1v1h-1zM7 475h1v1h-1zM7 478h1v1h-1zM7 480h1v1h-1zM7 485h1v1h-1zM7 487h1v1h-1zM7 497h1v1h-1zM7 507h1v2h-1zM7 510h1v1h-1zM7 515h1v1h-1zM7 517h1v1h-1zM7 519h1v1h-1zM7 522h1v1h-1zM7 524h1v2h-1zM7 536h1v1h-1zM7 539h1v4h-1zM7 551h1v1h-1zM7 556h1v3h-1zM7 563h1v2h-1zM7 566h1v1h-1zM7 571h1v6h-1zM7 579h1v1h-1zM7 582h1v1h-1zM7 586h1v1h-1zM7 596h1v3h-1zM8 37h1v1h-1zM8 40h1v3h-1zM8 176h1v1h-1zM8 180h1v1h-1zM8 196h1v3h-1zM8 208h1v3h-1zM8 212h1v1h-1zM8 220h1v1h-1zM8 227h1v1h-1zM8 245h1v1h-1zM8 248h1v2h-1zM8 262h1v1h-1zM8 264h1v1h-1zM8 273h1v1h-1zM8 275h1v1h-1zM8 279h1v1h-1zM8 282h1v4h-1zM8 292h1v4h-1zM8 311h1v2h-1zM8 314h1v2h-1zM8 325h1v1h-1zM8 327h1v1h-1zM8 338h1v3h-1zM8 342h1v1h-1zM8 357h1v1h-1zM8 365h1v1h-1zM8 367h1v1h-1zM8 370h1v3h-1zM8 374h1v1h-1zM8 377h1v1h-1zM8 379h1v1h-1zM8 381h1v3h-1zM8 385h1v2h-1zM8 388h1v1h-1zM8 390h1v3h-1zM8 394h1v1h-1zM8 397h1v3h-1zM8 404h1v2h-1zM8 411h1v2h-1zM8 414h1v3h-1zM8 418h1v2h-1zM8 422h1v2h-1zM8 425h1v2h-1zM8 430h1v1h-1zM8 436h1v1h-1zM8 441h1v2h-1zM8 444h1v2h-1zM8 447h1v1h-1zM8 450h1v1h-1zM8 452h1v2h-1zM8 455h1v1h-1zM8 458h1v1h-1zM8 465h1v1h-1zM8 471h1v2h-1zM8 474h1v2h-1zM8 478h1v2h-1zM8 485h1v1h-1zM8 506h1v1h-1zM8 508h1v1h-1zM8 510h1v2h-1zM8 515h1v1h-1zM8 517h1v1h-1zM8 521h1v6h-1zM8 535h1v2h-1zM8 540h1v2h-1zM8 551h1v1h-1zM8 557h1v2h-1zM8 563h1v3h-1zM8 571h1v1h-1zM8 573h1v4h-1zM8 579h1v1h-1zM8 581h1v1h-1zM8 585h1v1h-1zM8 590h1v6h-1zM8 603h1v1h-1zM8 605h1v4h-1zM9 32h1v2h-1zM9 39h1v1h-1zM9 172h1v1h-1zM9 178h1v1h-1zM9 183h1v3h-1zM9 188h1v2h-1zM9 192h1v1h-1zM9 199h1v3h-1zM9 213h1v1h-1zM9 219h1v2h-1zM9 222h1v1h-1zM9 226h1v1h-1zM9 246h1v1h-1zM9 248h1v3h-1zM9 261h1v1h-1zM9 276h1v2h-1zM9 280h1v6h-1zM9 287h1v1h-1zM9 292h1v3h-1zM9 314h1v2h-1zM9 318h1v1h-1zM9 321h1v1h-1zM9 326h1v1h-1zM9 335h1v1h-1zM9 354h1v3h-1zM9 358h1v2h-1zM9 361h1v1h-1zM9 368h1v3h-1zM9 374h1v1h-1zM9 377h1v1h-1zM9 379h1v1h-1zM9 381h1v1h-1zM9 383h1v1h-1zM9 385h1v1h-1zM9 389h1v1h-1zM9 393h1v1h-1zM9 395h1v1h-1zM9 397h1v1h-1zM9 399h1v1h-1zM9 411h1v1h-1zM9 415h1v2h-1zM9 418h1v2h-1zM9 431h1v1h-1zM9 433h1v1h-1zM9 437h1v1h-1zM9 441h1v1h-1zM9 444h1v3h-1zM9 451h1v1h-1zM9 456h1v3h-1zM9 461h1v1h-1zM9 470h1v1h-1zM9 473h1v2h-1zM9 478h1v1h-1zM9 506h1v1h-1zM9 511h1v1h-1zM9 523h1v1h-1zM9 525h1v1h-1zM9 540h1v1h-1zM9 542h1v2h-1zM9 546h1v1h-1zM9 555h1v1h-1zM9 560h1v1h-1zM9 563h1v3h-1zM9 571h1v6h-1zM9 583h1v1h-1zM9 586h1v2h-1zM9 589h1v2h-1zM9 594h1v2h-1zM10 32h1v1h-1zM10 36h1v1h-1zM10 174h1v1h-1zM10 197h1v1h-1zM10 205h1v2h-1zM10 208h1v3h-1zM10 215h1v2h-1zM10 220h1v1h-1zM10 270h1v1h-1zM10 273h1v1h-1zM10 275h1v1h-1zM10 278h1v1h-1zM10 285h1v3h-1zM10 292h1v1h-1zM10 294h1v1h-1zM10 337h1v1h-1zM10 340h1v2h-1zM10 348h1v1h-1zM10 358h1v1h-1zM10 365h1v2h-1zM10 368h1v3h-1zM10 377h1v4h-1zM10 388h1v1h-1zM10 390h1v1h-1zM10 393h1v1h-1zM10 397h1v1h-1zM10 405h1v2h-1zM10 411h1v1h-1zM10 414h1v1h-1zM10 418h1v1h-1zM10 420h1v1h-1zM10 422h1v4h-1zM10 428h1v2h-1zM10 432h1v2h-1zM10 435h1v2h-1zM10 438h1v1h-1zM10 441h1v3h-1zM10 445h1v1h-1zM10 450h1v2h-1zM10 453h1v1h-1zM10 455h1v2h-1zM10 458h1v1h-1zM10 461h1v1h-1zM10 472h1v1h-1zM10 474h1v1h-1zM10 478h1v1h-1zM10 488h1v1h-1zM10 491h1v1h-1zM10 502h1v2h-1zM10 508h1v1h-1zM10 510h1v3h-1zM10 516h1v2h-1zM10 519h1v1h-1zM10 522h1v2h-1zM10 532h1v2h-1zM10 535h1v1h-1zM10 537h1v1h-1zM10 542h1v1h-1zM10 551h1v1h-1zM10 555h1v2h-1zM10 558h1v1h-1zM10 563h1v5h-1zM10 571h1v5h-1zM10 583h1v1h-1zM10 589h1v2h-1zM10 593h1v3h-1zM11 67h1v1h-1zM11 95h1v1h-1zM11 100h1v2h-1zM11 160h1v2h-1zM11 163h1v1h-1zM11 168h1v2h-1zM11 171h1v1h-1zM11 175h1v1h-1zM11 177h1v1h-1zM11 180h1v1h-1zM11 184h1v1h-1zM11 186h1v1h-1zM11 197h1v1h-1zM11 202h1v1h-1zM11 215h1v1h-1zM11 221h1v1h-1zM11 223h1v2h-1zM11 258h1v2h-1zM11 265h1v1h-1zM11 279h1v1h-1zM11 281h1v2h-1zM11 285h1v1h-1zM11 287h1v1h-1zM11 292h1v1h-1zM11 294h1v1h-1zM11 324h1v2h-1zM11 327h1v2h-1zM11 337h1v1h-1zM11 339h1v2h-1zM11 353h1v3h-1zM11 365h1v1h-1zM11 367h1v4h-1zM11 372h1v1h-1zM11 377h1v2h-1zM11 380h1v2h-1zM11 386h1v1h-1zM11 388h1v1h-1zM11 391h1v1h-1zM11 393h1v2h-1zM11 396h1v1h-1zM11 399h1v1h-1zM11 405h1v2h-1zM11 411h1v2h-1zM11 422h1v2h-1zM11 425h1v1h-1zM11 428h1v4h-1zM11 436h1v3h-1zM11 441h1v2h-1zM11 445h1v1h-1zM11 450h1v1h-1zM11 452h1v2h-1zM11 455h1v1h-1zM11 458h1v1h-1zM11 471h1v1h-1zM11 473h1v1h-1zM11 478h1v1h-1zM11 485h1v2h-1zM11 489h1v1h-1zM11 497h1v1h-1zM11 510h1v2h-1zM11 517h1v1h-1zM11 521h1v1h-1zM11 524h1v1h-1zM11 526h1v2h-1zM11 531h1v1h-1zM11 536h1v1h-1zM11 540h1v2h-1zM11 547h1v1h-1zM11 557h1v2h-1zM11 562h1v5h-1zM11 568h1v1h-1zM11 570h1v7h-1zM11 584h1v1h-1zM11 587h1v2h-1zM11 590h1v1h-1zM11 594h1v1h-1zM11 600h1v1h-1zM11 604h1v2h-1zM11 607h1v1h-1zM12 12h1v1h-1zM12 64h1v1h-1zM12 68h1v1h-1zM12 73h1v1h-1zM12 84h1v1h-1zM12 95h1v2h-1zM12 107h1v1h-1zM12 113h1v1h-1zM12 115h1v2h-1zM12 118h1v5h-1zM12 127h1v1h-1zM12 131h1v1h-1zM12 136h1v1h-1zM12 141h1v1h-1zM12 145h1v1h-1zM12 150h1v1h-1zM12 154h1v1h-1zM12 158h1v4h-1zM12 163h1v2h-1zM12 198h1v1h-1zM12 202h1v1h-1zM12 204h1v1h-1zM12 209h1v1h-1zM12 211h1v3h-1zM12 219h1v3h-1zM12 228h1v1h-1zM12 234h1v2h-1zM12 239h1v1h-1zM12 241h1v3h-1zM12 248h1v1h-1zM12 251h1v1h-1zM12 263h1v1h-1zM12 266h1v1h-1zM12 271h1v1h-1zM12 274h1v4h-1zM12 280h1v2h-1zM12 291h1v1h-1zM12 302h1v2h-1zM12 366h1v1h-1zM12 368h1v3h-1zM12 377h1v1h-1zM12 380h1v1h-1zM12 428h1v3h-1zM12 432h1v1h-1zM13 49h1v4h-1zM13 54h1v1h-1zM13 56h1v1h-1zM13 58h1v1h-1zM13 67h1v2h-1zM13 73h1v2h-1zM13 80h1v1h-1zM13 84h1v1h-1zM13 95h1v2h-1zM13 103h1v1h-1zM13 107h1v2h-1zM13 112h1v4h-1zM13 118h1v1h-1zM13 120h1v2h-1zM13 127h1v2h-1zM13 132h1v1h-1zM13 145h1v2h-1zM13 151h1v1h-1zM13 154h1v1h-1zM13 157h1v6h-1zM13 169h1v1h-1zM13 185h1v1h-1zM13 188h1v1h-1zM13 191h1v1h-1zM13 209h1v1h-1zM13 213h1v1h-1zM13 216h1v2h-1zM13 219h1v3h-1zM13 228h1v1h-1zM13 234h1v1h-1zM13 239h1v2h-1zM13 242h1v1h-1zM13 267h1v1h-1zM13 273h1v1h-1zM13 275h1v3h-1zM13 282h1v1h-1zM13 287h1v1h-1zM13 292h1v7h-1zM13 302h1v2h-1zM13 305h1v1h-1zM13 449h1v5h-1zM14 57h1v1h-1zM14 63h1v1h-1zM14 66h1v1h-1zM14 73h1v1h-1zM14 80h1v1h-1zM14 85h1v1h-1zM14 95h1v1h-1zM14 106h1v1h-1zM14 110h1v1h-1zM14 113h1v1h-1zM14 115h1v2h-1zM14 121h1v1h-1zM14 125h1v1h-1zM14 128h1v2h-1zM14 133h1v2h-1zM14 137h1v1h-1zM14 141h1v1h-1zM14 144h1v1h-1zM14 151h1v1h-1zM14 154h1v1h-1zM14 158h1v1h-1zM14 160h1v3h-1zM14 171h1v1h-1zM14 175h1v1h-1zM14 177h1v3h-1zM14 196h1v1h-1zM14 205h1v1h-1zM14 208h1v1h-1zM14 212h1v1h-1zM14 217h1v1h-1zM14 219h1v1h-1zM14 223h1v1h-1zM14 228h1v1h-1zM14 234h1v6h-1zM14 276h1v1h-1zM14 281h1v2h-1zM14 298h1v1h-1zM14 302h1v2h-1zM14 305h1v1h-1zM15 8h1v1h-1zM15 11h1v1h-1zM15 48h1v1h-1zM15 50h1v1h-1zM15 52h1v1h-1zM15 54h1v1h-1zM15 63h1v3h-1zM15 71h1v1h-1zM15 84h1v1h-1zM15 101h1v3h-1zM15 109h1v1h-1zM15 111h1v5h-1zM15 117h1v1h-1zM15 120h1v3h-1zM15 125h1v1h-1zM15 128h1v3h-1zM15 136h1v1h-1zM15 147h1v2h-1zM15 160h1v2h-1zM15 163h1v1h-1zM15 172h1v1h-1zM15 174h1v2h-1zM15 177h1v1h-1zM15 190h1v1h-1zM15 194h1v1h-1zM15 197h1v2h-1zM15 203h1v1h-1zM15 209h1v2h-1zM15 212h1v2h-1zM15 217h1v1h-1zM15 222h1v2h-1zM15 228h1v1h-1zM15 237h1v1h-1zM15 240h1v1h-1zM15 242h1v1h-1zM15 271h1v2h-1zM15 276h1v2h-1zM15 297h1v2h-1zM15 304h1v1h-1zM16 38h1v1h-1zM16 48h1v2h-1zM16 52h1v2h-1zM16 63h1v1h-1zM16 65h1v1h-1zM16 80h1v1h-1zM16 83h1v1h-1zM16 90h1v3h-1zM16 96h1v1h-1zM16 99h1v1h-1zM16 101h1v1h-1zM16 109h1v1h-1zM16 113h1v2h-1zM16 118h1v5h-1zM16 125h1v1h-1zM16 127h1v3h-1zM16 133h1v1h-1zM16 137h1v1h-1zM16 144h1v1h-1zM16 147h1v1h-1zM16 160h1v1h-1zM16 163h1v1h-1zM16 166h1v1h-1zM16 195h1v1h-1zM16 208h1v2h-1zM16 211h1v4h-1zM16 221h1v1h-1zM16 223h1v1h-1zM16 225h1v1h-1zM16 228h1v1h-1zM16 234h1v1h-1zM16 237h1v1h-1zM16 239h1v1h-1zM16 243h1v1h-1zM16 267h1v1h-1zM16 271h1v1h-1zM16 273h1v1h-1zM16 276h1v2h-1zM16 281h1v1h-1zM16 302h1v2h-1zM17 60h1v1h-1zM17 63h1v1h-1zM17 71h1v1h-1zM17 73h1v1h-1zM17 90h1v2h-1zM17 95h1v1h-1zM17 100h1v1h-1zM17 105h1v2h-1zM17 108h1v2h-1zM17 113h1v6h-1zM17 120h1v3h-1zM17 127h1v3h-1zM17 132h1v3h-1zM17 137h1v1h-1zM17 141h1v1h-1zM17 146h1v1h-1zM17 151h1v1h-1zM17 154h1v2h-1zM17 158h1v1h-1zM17 160h1v1h-1zM17 163h1v1h-1zM17 180h1v1h-1zM17 183h1v1h-1zM17 185h1v1h-1zM17 189h1v1h-1zM17 195h1v4h-1zM17 203h1v2h-1zM17 207h1v1h-1zM17 215h1v1h-1zM17 217h1v1h-1zM17 225h1v1h-1zM17 235h1v1h-1zM17 243h1v1h-1zM17 259h1v1h-1zM17 264h1v1h-1zM17 271h1v2h-1zM17 275h1v1h-1zM17 277h1v1h-1zM17 280h1v1h-1zM17 296h1v1h-1zM17 302h1v2h-1zM17 333h1v1h-1zM17 454h1v4h-1zM18 75h1v1h-1zM18 77h1v1h-1zM18 79h1v1h-1zM18 83h1v2h-1zM18 95h1v2h-1zM18 101h1v3h-1zM18 106h1v1h-1zM18 112h1v1h-1zM18 114h1v1h-1zM18 118h1v1h-1zM18 121h1v2h-1zM18 125h1v1h-1zM18 127h1v5h-1zM18 145h1v1h-1zM18 148h1v2h-1zM18 153h1v1h-1zM18 155h1v1h-1zM18 220h1v2h-1zM18 224h1v1h-1zM18 226h1v1h-1zM18 234h1v2h-1zM18 239h1v1h-1zM18 241h1v1h-1zM18 243h1v1h-1zM19 8h1v1h-1zM19 50h1v1h-1zM19 52h1v1h-1zM19 54h1v1h-1zM19 63h1v1h-1zM19 66h1v1h-1zM19 75h1v1h-1zM19 79h1v1h-1zM19 85h1v1h-1zM19 95h1v1h-1zM19 97h1v1h-1zM19 100h1v1h-1zM19 102h1v1h-1zM19 108h1v2h-1zM19 113h1v3h-1zM19 120h1v2h-1zM19 123h1v1h-1zM19 125h1v1h-1zM19 127h1v3h-1zM19 134h1v1h-1zM19 141h1v2h-1zM19 145h1v2h-1zM19 149h1v1h-1zM19 151h1v2h-1zM19 154h1v3h-1zM19 158h1v1h-1zM19 160h1v2h-1zM19 167h1v1h-1zM19 192h1v1h-1zM19 195h1v2h-1zM19 198h1v2h-1zM19 203h1v1h-1zM19 208h1v2h-1zM19 211h1v1h-1zM19 213h1v1h-1zM19 219h1v1h-1zM19 221h1v2h-1zM19 224h1v1h-1zM19 227h1v2h-1zM19 236h1v2h-1zM19 239h1v1h-1zM19 243h1v1h-1zM19 308h1v1h-1zM19 310h1v1h-1zM19 338h1v1h-1zM19 369h1v2h-1zM19 374h1v1h-1zM19 377h1v5h-1zM19 522h1v7h-1zM20 3h1v1h-1zM20 64h1v2h-1zM20 74h1v2h-1zM20 79h1v1h-1zM20 86h1v1h-1zM20 101h1v1h-1zM20 107h1v2h-1zM20 110h1v1h-1zM20 114h1v2h-1zM20 120h1v2h-1zM20 125h1v1h-1zM20 127h1v3h-1zM20 136h1v2h-1zM20 141h1v1h-1zM20 146h1v1h-1zM20 150h1v1h-1zM20 154h1v1h-1zM20 158h1v2h-1zM20 161h1v4h-1zM20 167h1v1h-1zM20 203h1v1h-1zM20 220h1v1h-1zM20 222h1v1h-1zM20 226h1v1h-1zM20 228h1v1h-1zM20 240h1v2h-1zM20 243h1v1h-1zM21 41h1v2h-1zM21 65h1v1h-1zM21 74h1v2h-1zM21 77h1v1h-1zM21 79h1v1h-1zM21 84h1v1h-1zM21 95h1v1h-1zM21 100h1v2h-1zM21 104h1v1h-1zM21 107h1v1h-1zM21 112h1v4h-1zM21 120h1v1h-1zM21 122h1v1h-1zM21 127h1v2h-1zM21 137h1v1h-1zM21 142h1v5h-1zM21 154h1v1h-1zM21 156h1v1h-1zM21 160h1v4h-1zM21 167h1v1h-1zM21 197h1v1h-1zM21 208h1v1h-1zM21 210h1v2h-1zM21 213h1v1h-1zM21 216h1v2h-1zM21 219h1v1h-1zM21 221h1v5h-1zM21 235h1v1h-1zM21 237h1v4h-1zM21 242h1v1h-1zM21 309h1v1h-1zM21 317h1v1h-1zM21 331h1v2h-1zM21 338h1v2h-1zM22 9h1v1h-1zM22 43h1v1h-1zM22 63h1v2h-1zM22 77h1v1h-1zM22 80h1v1h-1zM22 86h1v1h-1zM22 95h1v1h-1zM22 100h1v1h-1zM22 102h1v1h-1zM22 104h1v1h-1zM22 106h1v1h-1zM22 108h1v1h-1zM22 113h1v3h-1zM22 120h1v2h-1zM22 125h1v1h-1zM22 127h1v3h-1zM22 131h1v1h-1zM22 137h1v1h-1zM22 141h1v1h-1zM22 150h1v3h-1zM22 154h1v2h-1zM22 158h1v1h-1zM22 161h1v1h-1zM22 167h1v2h-1zM22 171h1v1h-1zM22 173h1v1h-1zM22 183h1v3h-1zM22 188h1v1h-1zM22 195h1v1h-1zM22 197h1v1h-1zM22 215h1v1h-1zM22 225h1v1h-1zM22 227h1v1h-1zM22 237h1v1h-1zM22 243h1v1h-1zM22 344h1v3h-1zM22 349h1v3h-1zM22 358h1v2h-1zM22 502h1v1h-1zM22 504h1v1h-1zM22 510h1v2h-1zM22 514h1v1h-1zM22 523h1v2h-1zM23 42h1v1h-1zM23 63h1v1h-1zM23 77h1v2h-1zM23 83h1v2h-1zM23 89h1v7h-1zM23 100h1v1h-1zM23 102h1v1h-1zM23 113h1v3h-1zM23 118h1v1h-1zM23 120h1v1h-1zM23 122h1v1h-1zM23 125h1v1h-1zM23 127h1v3h-1zM23 131h1v1h-1zM23 145h1v1h-1zM23 152h1v1h-1zM23 154h1v1h-1zM23 156h1v3h-1zM23 160h1v1h-1zM23 162h1v1h-1zM23 171h1v1h-1zM23 174h1v2h-1zM23 179h1v1h-1zM23 203h1v1h-1zM23 208h1v1h-1zM23 210h1v3h-1zM23 216h1v1h-1zM23 219h1v3h-1zM23 224h1v1h-1zM23 235h1v2h-1zM23 240h1v1h-1zM23 243h1v1h-1zM23 254h1v1h-1zM23 313h1v4h-1zM23 334h1v1h-1zM23 336h1v1h-1zM23 342h1v1h-1zM23 347h1v1h-1zM23 358h1v2h-1zM23 363h1v1h-1zM23 523h1v1h-1zM23 526h1v1h-1zM23 533h1v1h-1zM23 540h1v2h-1zM23 546h1v1h-1zM23 551h1v1h-1z"/>
<path fill="#fff5f5" d="M0 37h1v2h-1zM0 77h1v1h-1zM0 116h1v1h-1zM0 146h1v1h-1zM0 198h1v1h-1zM3 148h1v1h-1zM3 199h1v2h-1zM3 202h1v1h-1zM3 225h1v1h-1zM5 610h1v1h-1zM8 76h1v1h-1zM9 128h1v1h-1zM11 38h1v1h-1zM12 37h1v1h-1zM14 7h1v2h-1zM14 10h1v2h-1zM14 359h1v2h-1zM15 474h1v1h-1zM16 597h1v1h-1zM18 296h1v2h-1zM18 358h1v1h-1zM18 405h1v1h-1zM18 423h1v1h-1zM18 575h1v1h-1zM19 32h1v1h-1zM19 34h1v1h-1zM19 36h1v1h-1zM19 47h1v1h-1zM19 269h1v1h-1zM22 298h1v1h-1z"/>
<path fill="#ffe0e0" d="M0 39h1v1h-1zM0 78h1v1h-1zM0 83h1v4h-1zM0 134h1v1h-1zM0 136h1v1h-1zM0 141h1v1h-1zM0 145h1v1h-1zM0 171h1v1h-1zM0 177h1v3h-1zM0 185h1v1h-1zM0 188h1v1h-1zM0 194h1v2h-1zM0 201h1v4h-1zM0 213h1v1h-1zM0 220h1v1h-1zM0 222h1v1h-1zM0 224h1v1h-1zM0 226h1v1h-1zM0 262h1v2h-1zM0 265h1v2h-1zM0 344h1v2h-1zM0 357h1v1h-1zM1 108h1v1h-1zM1 111h1v2h-1zM1 117h1v1h-1zM1 149h1v4h-1zM1 154h1v4h-1zM1 194h1v2h-1zM1 200h1v1h-1zM1 236h1v1h-1zM1 238h1v1h-1zM1 242h1v1h-1zM1 344h1v1h-1zM1 353h1v2h-1zM1 356h1v2h-1zM2 77h1v2h-1zM2 83h1v4h-1zM2 89h1v1h-1zM2 97h1v2h-1zM2 107h1v3h-1zM2 111h1v2h-1zM2 116h1v1h-1zM2 118h1v1h-1zM2 126h1v2h-1zM2 133h1v4h-1zM2 142h1v4h-1zM2 152h1v1h-1zM2 154h1v3h-1zM2 158h1v1h-1zM3 75h1v2h-1zM3 107h1v3h-1zM3 111h1v2h-1zM3 116h1v4h-1zM3 126h1v2h-1zM3 129h1v1h-1zM3 134h1v1h-1zM3 137h1v1h-1zM3 141h1v6h-1zM3 236h1v4h-1zM3 241h1v2h-1zM4 3h1v1h-1zM4 118h1v2h-1zM4 121h1v1h-1zM4 126h1v2h-1zM4 129h1v2h-1zM4 133h1v2h-1zM4 143h1v1h-1zM4 145h1v1h-1zM4 147h1v1h-1zM4 153h1v1h-1zM4 159h1v1h-1zM4 169h1v1h-1zM4 173h1v1h-1zM4 176h1v1h-1zM4 182h1v1h-1zM4 187h1v1h-1zM4 190h1v3h-1zM4 198h1v1h-1zM4 205h1v1h-1zM4 207h1v3h-1zM4 211h1v2h-1zM4 214h1v2h-1zM4 218h1v1h-1zM4 227h1v1h-1zM4 230h1v1h-1zM4 234h1v2h-1zM4 239h1v3h-1zM5 12h1v3h-1zM5 36h1v1h-1zM5 87h1v2h-1zM5 105h1v2h-1zM5 110h1v1h-1zM5 113h1v2h-1zM5 170h1v1h-1zM5 173h1v1h-1zM5 180h1v1h-1zM5 187h1v1h-1zM5 260h1v1h-1zM5 262h1v1h-1zM5 265h1v1h-1zM5 323h1v1h-1zM5 330h1v1h-1zM5 332h1v1h-1zM5 338h1v2h-1zM5 341h1v3h-1zM5 352h1v1h-1zM6 58h1v2h-1zM6 64h1v2h-1zM6 83h1v1h-1zM6 86h1v1h-1zM6 89h1v1h-1zM6 95h1v1h-1zM6 99h1v2h-1zM6 103h1v1h-1zM7 5h1v1h-1zM7 107h1v3h-1zM7 111h1v2h-1zM7 116h1v1h-1zM7 123h1v3h-1zM7 130h1v2h-1zM7 137h1v1h-1zM7 139h1v1h-1zM7 150h1v3h-1zM7 154h1v4h-1zM8 3h1v1h-1zM8 5h1v1h-1zM8 62h1v1h-1zM8 75h1v1h-1zM8 78h1v2h-1zM8 99h1v2h-1zM8 103h1v1h-1zM8 107h1v2h-1zM8 111h1v2h-1zM8 116h1v4h-1zM8 126h1v1h-1zM8 134h1v3h-1zM8 141h1v1h-1zM8 143h1v4h-1zM8 149h1v1h-1zM8 151h1v2h-1zM8 155h1v2h-1zM9 61h1v1h-1zM9 83h1v3h-1zM9 107h1v3h-1zM9 111h1v2h-1zM9 116h1v4h-1zM9 126h1v1h-1zM9 133h1v1h-1zM9 135h1v2h-1zM9 142h1v3h-1zM9 146h1v1h-1zM10 83h1v2h-1zM10 86h1v1h-1zM10 92h1v2h-1zM10 97h1v2h-1zM10 100h1v3h-1zM10 107h1v1h-1zM10 109h1v1h-1zM10 111h1v2h-1zM10 116h1v2h-1zM10 153h1v1h-1zM10 159h1v1h-1zM10 267h1v1h-1zM10 321h1v1h-1zM10 326h1v1h-1zM10 330h1v3h-1zM11 39h1v2h-1zM11 58h1v1h-1zM11 90h1v1h-1zM11 92h1v3h-1zM11 107h1v3h-1zM11 111h1v2h-1zM11 116h1v2h-1zM11 121h1v4h-1zM11 130h1v3h-1zM11 137h1v4h-1zM11 159h1v1h-1zM11 267h1v1h-1zM12 38h1v5h-1zM12 341h1v3h-1zM12 347h1v1h-1zM12 360h1v1h-1zM12 363h1v1h-1zM12 400h1v1h-1zM12 404h1v5h-1zM12 466h1v1h-1zM12 468h1v1h-1zM12 478h1v1h-1zM12 480h1v2h-1zM12 491h1v1h-1zM12 515h1v3h-1zM12 532h1v8h-1zM12 541h1v1h-1zM12 543h1v1h-1zM12 550h1v2h-1zM13 6h1v1h-1zM13 314h1v1h-1zM13 316h1v2h-1zM13 326h1v1h-1zM13 330h1v3h-1zM13 344h1v3h-1zM13 349h1v3h-1zM13 355h1v1h-1zM13 357h1v1h-1zM13 359h1v1h-1zM13 361h1v1h-1zM13 502h1v4h-1zM13 508h1v2h-1zM13 512h1v1h-1zM13 529h1v1h-1zM13 531h1v1h-1zM13 536h1v1h-1zM13 545h1v1h-1zM13 555h1v1h-1zM13 558h1v1h-1zM13 561h1v1h-1zM13 567h1v2h-1zM13 571h1v1h-1zM13 576h1v1h-1zM13 589h1v2h-1zM13 593h1v1h-1zM13 595h1v1h-1zM13 597h1v6h-1zM13 606h1v1h-1zM13 611h1v2h-1zM14 315h1v3h-1zM14 323h1v1h-1zM14 326h1v1h-1zM14 330h1v3h-1zM14 346h1v1h-1zM14 349h1v1h-1zM14 351h1v1h-1zM14 353h1v3h-1zM14 358h1v1h-1zM14 361h1v2h-1zM14 367h1v1h-1zM14 388h1v4h-1zM14 393h1v1h-1zM14 396h1v1h-1zM14 398h1v2h-1zM14 412h1v4h-1zM14 417h1v1h-1zM14 436h1v3h-1zM14 440h1v1h-1zM14 442h1v2h-1zM14 466h1v1h-1zM14 478h1v1h-1zM14 481h1v1h-1zM14 491h1v2h-1zM14 495h1v1h-1zM14 501h1v1h-1zM14 515h1v2h-1zM14 561h1v2h-1zM14 568h1v3h-1zM14 572h1v1h-1zM14 589h1v1h-1zM14 597h1v2h-1zM14 600h1v3h-1zM14 612h1v1h-1zM14 614h1v1h-1zM15 259h1v1h-1zM15 261h1v3h-1zM15 265h1v2h-1zM15 314h1v2h-1zM15 317h1v1h-1zM15 319h1v2h-1zM15 324h1v1h-1zM15 329h1v1h-1zM15 335h1v1h-1zM15 341h1v2h-1zM15 352h1v1h-1zM15 357h1v1h-1zM15 370h1v1h-1zM15 375h1v2h-1zM15 379h1v1h-1zM15 381h1v1h-1zM15 384h1v1h-1zM15 387h1v2h-1zM15 394h1v1h-1zM15 403h1v4h-1zM15 408h1v1h-1zM15 436h1v5h-1zM15 444h1v1h-1zM15 465h1v1h-1zM15 467h1v1h-1zM15 470h1v1h-1zM15 472h1v1h-1zM15 475h1v3h-1zM15 485h1v6h-1zM15 497h1v1h-1zM15 501h1v1h-1zM15 515h1v3h-1zM15 519h1v3h-1zM15 525h1v2h-1zM15 529h1v1h-1zM15 531h1v1h-1zM15 535h1v2h-1zM15 538h1v1h-1zM15 545h1v1h-1zM15 547h1v1h-1zM15 555h1v1h-1zM15 559h1v4h-1zM15 568h1v2h-1zM15 572h1v1h-1zM15 574h1v1h-1zM15 576h1v1h-1zM15 589h1v1h-1zM15 591h1v2h-1zM15 595h1v1h-1zM15 597h1v2h-1zM16 248h1v1h-1zM16 319h1v2h-1zM16 323h1v1h-1zM16 341h1v1h-1zM16 360h1v1h-1zM16 366h1v1h-1zM16 374h1v1h-1zM16 377h1v1h-1zM16 379h1v3h-1zM16 384h1v1h-1zM16 387h1v1h-1zM16 393h1v1h-1zM16 397h1v1h-1zM16 401h1v1h-1zM16 404h1v2h-1zM16 407h1v2h-1zM16 441h1v1h-1zM16 445h1v3h-1zM16 532h1v2h-1zM16 538h1v1h-1zM16 541h1v1h-1zM16 543h1v1h-1zM16 546h1v1h-1zM16 549h1v2h-1zM16 554h1v1h-1zM16 557h1v4h-1zM16 563h1v1h-1zM16 566h1v1h-1zM16 574h1v1h-1zM16 578h1v2h-1zM16 582h1v1h-1zM16 613h1v1h-1zM17 5h1v1h-1zM17 251h1v1h-1zM17 346h1v1h-1zM17 349h1v1h-1zM17 366h1v3h-1zM17 387h1v1h-1zM17 392h1v2h-1zM17 404h1v3h-1zM17 408h1v1h-1zM17 410h1v1h-1zM17 415h1v1h-1zM17 504h1v5h-1zM17 511h1v3h-1zM17 528h1v1h-1zM17 532h1v2h-1zM17 537h1v6h-1zM17 544h1v1h-1zM17 546h1v1h-1zM17 548h1v2h-1zM17 551h1v1h-1zM18 174h1v1h-1zM18 177h1v1h-1zM18 188h1v1h-1zM18 244h1v4h-1zM18 249h1v2h-1zM18 255h1v1h-1zM18 258h1v1h-1zM18 267h1v1h-1zM18 276h1v2h-1zM18 282h1v1h-1zM18 286h1v1h-1zM18 288h1v2h-1zM18 299h1v3h-1zM18 306h1v1h-1zM18 328h1v1h-1zM18 344h1v2h-1zM18 351h1v1h-1zM18 356h1v1h-1zM18 362h1v2h-1zM18 387h1v1h-1zM18 392h1v2h-1zM18 400h1v2h-1zM18 403h1v2h-1zM18 407h1v3h-1zM18 465h1v1h-1zM18 467h1v1h-1zM18 474h1v4h-1zM18 483h1v1h-1zM18 486h1v2h-1zM18 489h1v2h-1zM18 497h1v1h-1zM18 515h1v3h-1zM18 529h1v3h-1zM18 539h1v1h-1zM18 541h1v1h-1zM18 545h1v1h-1zM18 555h1v1h-1zM18 559h1v1h-1zM18 561h1v2h-1zM18 569h1v1h-1zM18 571h1v1h-1zM18 576h1v1h-1zM18 582h1v1h-1zM18 590h1v1h-1zM18 592h1v1h-1zM18 595h1v1h-1zM18 598h1v4h-1zM18 604h1v2h-1zM18 608h1v1h-1zM18 611h1v2h-1zM19 44h1v2h-1zM19 270h1v2h-1zM19 273h1v3h-1zM19 286h1v1h-1zM19 288h1v1h-1zM19 291h1v1h-1zM19 295h1v1h-1zM19 299h1v1h-1zM19 301h1v1h-1zM19 352h1v1h-1zM19 356h1v1h-1zM19 441h1v1h-1zM19 443h1v1h-1zM19 446h1v1h-1zM19 450h1v2h-1zM19 453h1v1h-1zM19 462h1v1h-1zM19 464h1v2h-1zM19 470h1v1h-1zM19 472h1v6h-1zM19 485h1v2h-1zM19 489h1v2h-1zM19 497h1v1h-1zM19 557h1v4h-1zM19 565h1v1h-1zM19 580h1v2h-1zM19 583h1v3h-1zM19 587h1v2h-1zM19 592h1v2h-1zM19 597h1v1h-1zM19 599h1v3h-1zM19 603h1v1h-1zM19 607h1v1h-1zM19 612h1v1h-1zM19 614h1v1h-1zM20 9h1v1h-1zM20 13h1v1h-1zM20 32h1v2h-1zM20 36h1v1h-1zM20 267h1v1h-1zM20 276h1v1h-1zM20 286h1v2h-1zM20 289h1v1h-1zM20 291h1v1h-1zM20 295h1v1h-1zM20 299h1v1h-1zM20 322h1v1h-1zM20 330h1v1h-1zM20 332h1v1h-1zM20 341h1v2h-1zM20 352h1v1h-1zM20 445h1v2h-1zM20 449h1v2h-1zM20 452h1v2h-1zM20 465h1v1h-1zM20 470h1v2h-1zM20 474h1v3h-1zM20 483h1v5h-1zM20 489h1v2h-1zM20 497h1v1h-1zM20 501h1v1h-1zM20 516h1v2h-1zM20 527h1v3h-1zM20 531h1v1h-1zM20 535h1v1h-1zM20 556h1v5h-1zM20 566h1v1h-1zM20 573h1v2h-1zM20 578h1v6h-1zM20 589h1v4h-1zM20 595h1v3h-1zM20 599h1v5h-1zM20 605h1v1h-1zM20 608h1v1h-1zM20 611h1v1h-1zM21 7h1v1h-1zM21 33h1v4h-1zM21 374h1v2h-1zM21 377h1v1h-1zM21 381h1v1h-1zM21 384h1v1h-1zM21 386h1v1h-1zM21 389h1v1h-1zM21 391h1v1h-1zM21 397h1v1h-1zM21 399h1v1h-1zM21 411h1v1h-1zM21 414h1v4h-1zM21 441h1v1h-1zM21 446h1v2h-1zM21 450h1v1h-1zM21 452h1v2h-1zM21 462h1v1h-1zM21 464h1v2h-1zM21 472h1v4h-1zM21 477h1v1h-1zM21 483h1v1h-1zM21 485h1v1h-1zM21 489h1v1h-1zM21 497h1v1h-1zM22 53h1v3h-1zM22 246h1v2h-1zM22 303h1v1h-1zM22 306h1v1h-1zM22 311h1v1h-1zM22 313h1v1h-1zM22 316h1v1h-1zM22 386h1v1h-1zM22 388h1v1h-1zM22 390h1v2h-1zM22 394h1v1h-1zM22 396h1v1h-1zM22 398h1v2h-1zM22 412h1v4h-1zM22 448h1v1h-1zM22 454h1v1h-1zM22 459h1v2h-1zM22 462h1v1h-1zM22 465h1v1h-1zM22 467h1v1h-1zM22 470h1v1h-1zM22 472h1v2h-1zM22 475h1v1h-1zM22 477h1v1h-1zM22 483h1v1h-1zM22 485h1v1h-1zM22 487h1v4h-1zM22 493h1v1h-1zM22 497h1v1h-1zM23 9h1v1h-1zM23 255h1v4h-1zM23 268h1v1h-1zM23 270h1v1h-1zM23 274h1v1h-1zM23 365h1v3h-1zM23 374h1v1h-1zM23 377h1v1h-1zM23 379h1v3h-1zM23 451h1v3h-1zM23 464h1v1h-1z"/>
<path fill="#ffd6d6" d="M0 40h1v1h-1zM0 44h1v1h-1zM0 81h1v2h-1zM0 142h1v1h-1zM0 170h1v1h-1zM0 183h1v2h-1zM0 193h1v1h-1zM0 199h1v2h-1zM0 223h1v1h-1zM0 259h1v2h-1zM0 264h1v1h-1zM0 353h1v4h-1zM1 77h1v1h-1zM1 199h1v1h-1zM1 201h1v1h-1zM1 237h1v1h-1zM1 355h1v1h-1zM2 75h1v1h-1zM2 79h1v4h-1zM2 117h1v1h-1zM2 175h1v1h-1zM2 196h1v1h-1zM3 80h1v1h-1zM3 135h1v1h-1zM4 4h1v3h-1zM4 180h1v2h-1zM4 206h1v1h-1zM4 229h1v1h-1zM5 38h1v1h-1zM5 45h1v2h-1zM5 168h1v1h-1zM5 184h1v1h-1zM5 186h1v1h-1zM5 259h1v1h-1zM5 261h1v1h-1zM5 266h1v1h-1zM5 321h1v2h-1zM6 57h1v1h-1zM6 60h1v2h-1zM6 81h1v2h-1zM6 267h1v1h-1zM7 3h1v2h-1zM7 6h1v1h-1zM7 132h1v1h-1zM7 138h1v1h-1zM7 140h1v1h-1zM8 4h1v1h-1zM8 61h1v1h-1zM8 80h1v1h-1zM8 109h1v1h-1zM8 133h1v1h-1zM8 157h1v1h-1zM9 81h1v2h-1zM9 134h1v1h-1zM10 37h1v2h-1zM10 81h1v2h-1zM10 87h1v2h-1zM10 147h1v1h-1zM10 319h1v1h-1zM10 322h1v2h-1zM11 14h1v1h-1zM11 61h1v1h-1zM11 147h1v1h-1zM11 153h1v1h-1zM12 401h1v1h-1zM12 403h1v1h-1zM12 409h1v2h-1zM12 469h1v1h-1zM12 492h1v1h-1zM12 494h1v2h-1zM12 501h1v1h-1zM12 509h1v1h-1zM12 523h1v2h-1zM12 544h1v1h-1zM12 548h1v2h-1zM12 553h1v2h-1zM13 3h1v3h-1zM13 313h1v1h-1zM13 353h1v2h-1zM13 356h1v1h-1zM13 362h1v1h-1zM13 506h1v2h-1zM13 513h1v2h-1zM13 524h1v1h-1zM13 552h1v1h-1zM13 569h1v1h-1zM13 596h1v1h-1zM13 603h1v3h-1zM13 607h1v1h-1zM14 313h1v1h-1zM14 319h1v1h-1zM14 321h1v2h-1zM14 363h1v1h-1zM14 386h1v1h-1zM14 395h1v1h-1zM14 397h1v1h-1zM14 439h1v1h-1zM14 479h1v1h-1zM14 482h1v1h-1zM14 494h1v1h-1zM14 603h1v4h-1zM14 611h1v1h-1zM15 264h1v1h-1zM15 313h1v1h-1zM15 316h1v1h-1zM15 318h1v1h-1zM15 333h1v2h-1zM15 336h1v1h-1zM15 374h1v1h-1zM15 400h1v3h-1zM15 409h1v2h-1zM15 442h1v1h-1zM15 483h1v2h-1zM15 492h1v1h-1zM15 496h1v1h-1zM15 518h1v1h-1zM15 530h1v1h-1zM15 552h1v1h-1zM15 567h1v1h-1zM15 596h1v1h-1zM16 318h1v1h-1zM16 321h1v2h-1zM16 326h1v1h-1zM16 373h1v1h-1zM16 375h1v2h-1zM16 385h1v1h-1zM16 400h1v1h-1zM16 402h1v2h-1zM16 409h1v2h-1zM16 443h1v1h-1zM16 534h1v1h-1zM16 553h1v1h-1zM16 580h1v2h-1zM16 607h1v2h-1zM16 615h1v1h-1zM17 3h1v1h-1zM17 353h1v5h-1zM17 364h1v2h-1zM17 400h1v4h-1zM17 407h1v1h-1zM17 409h1v1h-1zM17 417h1v1h-1zM17 509h1v1h-1zM17 514h1v1h-1zM17 543h1v1h-1zM17 550h1v1h-1zM17 553h1v2h-1zM18 36h1v1h-1zM18 189h1v1h-1zM18 256h1v2h-1zM18 290h1v2h-1zM18 305h1v1h-1zM18 319h1v1h-1zM18 349h1v1h-1zM18 353h1v2h-1zM18 357h1v1h-1zM18 361h1v1h-1zM18 402h1v1h-1zM18 410h1v1h-1zM18 470h1v3h-1zM18 484h1v1h-1zM18 496h1v1h-1zM18 501h1v1h-1zM18 552h1v1h-1zM18 567h1v2h-1zM18 574h1v1h-1zM18 589h1v1h-1zM18 593h1v1h-1zM18 596h1v2h-1zM18 602h1v2h-1zM18 606h1v1h-1zM18 613h1v1h-1zM19 46h1v1h-1zM19 272h1v1h-1zM19 289h1v2h-1zM19 300h1v1h-1zM19 343h1v1h-1zM19 360h1v1h-1zM19 447h1v1h-1zM19 467h1v1h-1zM19 483h1v2h-1zM19 488h1v1h-1zM19 491h1v1h-1zM19 493h1v1h-1zM19 496h1v1h-1zM19 578h1v2h-1zM19 582h1v1h-1zM19 602h1v1h-1zM19 604h1v3h-1zM20 7h1v1h-1zM20 11h1v2h-1zM20 34h1v1h-1zM20 277h1v1h-1zM20 288h1v1h-1zM20 290h1v1h-1zM20 296h1v1h-1zM20 300h1v2h-1zM20 318h1v1h-1zM20 321h1v1h-1zM20 323h1v1h-1zM20 326h1v1h-1zM20 343h1v1h-1zM20 447h1v1h-1zM20 462h1v1h-1zM20 477h1v1h-1zM20 488h1v1h-1zM20 493h1v1h-1zM20 496h1v1h-1zM20 530h1v1h-1zM20 545h1v1h-1zM20 552h1v1h-1zM20 604h1v1h-1zM20 606h1v2h-1zM20 612h1v2h-1zM21 8h1v1h-1zM21 10h1v2h-1zM21 32h1v1h-1zM21 299h1v3h-1zM21 373h1v1h-1zM21 376h1v1h-1zM21 413h1v1h-1zM21 463h1v1h-1zM21 470h1v1h-1zM21 484h1v1h-1zM21 487h1v1h-1zM21 490h1v1h-1zM21 496h1v1h-1zM22 244h1v1h-1zM22 249h1v1h-1zM22 304h1v1h-1zM22 307h1v1h-1zM22 317h1v1h-1zM22 397h1v1h-1zM22 411h1v1h-1zM22 417h1v1h-1zM22 461h1v1h-1zM22 463h1v1h-1zM22 471h1v1h-1zM22 476h1v1h-1zM22 484h1v1h-1zM22 486h1v1h-1zM22 496h1v1h-1zM23 8h1v1h-1zM23 10h1v2h-1zM23 271h1v2h-1zM23 275h1v1h-1zM23 297h1v1h-1zM23 373h1v1h-1zM23 375h1v2h-1zM23 384h1v1h-1zM23 463h1v1h-1z"/>
<path fill="#d6d6ff" d="M0 41h1v1h-1zM0 58h1v1h-1zM0 76h1v1h-1zM0 113h1v2h-1zM0 121h1v1h-1zM0 125h1v1h-1zM0 325h1v1h-1zM0 327h1v2h-1zM0 347h1v2h-1zM1 43h1v1h-1zM1 47h1v1h-1zM1 196h1v1h-1zM1 198h1v1h-1zM1 240h1v1h-1zM1 347h1v1h-1zM1 613h1v1h-1zM1 616h1v1h-1zM2 10h1v2h-1zM2 47h1v1h-1zM2 50h1v1h-1zM2 52h1v1h-1zM2 90h1v2h-1zM2 120h1v1h-1zM2 137h1v1h-1zM2 159h1v1h-1zM2 308h1v1h-1zM2 315h1v1h-1zM2 610h1v1h-1zM3 37h1v1h-1zM3 42h1v1h-1zM3 84h1v2h-1zM3 90h1v1h-1zM3 92h1v1h-1zM3 94h1v1h-1zM3 104h1v1h-1zM3 114h1v2h-1zM3 189h1v1h-1zM3 197h1v1h-1zM3 211h1v1h-1zM3 228h1v1h-1zM3 252h1v1h-1zM3 310h1v1h-1zM3 608h1v1h-1zM4 9h1v1h-1zM4 90h1v3h-1zM4 114h1v1h-1zM4 158h1v1h-1zM4 160h1v1h-1zM4 175h1v1h-1zM4 178h1v2h-1zM4 219h1v2h-1zM4 224h1v1h-1zM4 228h1v1h-1zM5 76h1v2h-1zM5 79h1v1h-1zM5 90h1v5h-1zM5 325h1v1h-1zM5 327h1v3h-1zM5 345h1v1h-1zM5 349h1v1h-1zM5 358h1v2h-1zM5 502h1v1h-1zM5 505h1v1h-1zM5 615h1v2h-1zM6 43h1v1h-1zM6 97h1v1h-1zM6 154h1v1h-1zM6 208h1v1h-1zM6 210h1v1h-1zM6 219h1v2h-1zM6 231h1v1h-1zM6 233h1v1h-1zM6 269h1v1h-1zM6 286h1v1h-1zM6 292h1v1h-1zM6 315h1v1h-1zM6 330h1v1h-1zM6 339h1v1h-1zM6 344h1v1h-1zM6 349h1v1h-1zM6 351h1v1h-1zM7 41h1v2h-1zM7 64h1v2h-1zM7 79h1v1h-1zM7 83h1v1h-1zM7 85h1v1h-1zM7 90h1v2h-1zM7 114h1v2h-1zM7 127h1v3h-1zM7 141h1v1h-1zM8 57h1v1h-1zM8 60h1v1h-1zM8 63h1v1h-1zM8 81h1v1h-1zM8 104h1v1h-1zM8 110h1v1h-1zM8 113h1v2h-1zM8 125h1v1h-1zM8 232h1v1h-1zM8 237h1v1h-1zM8 242h1v1h-1zM9 51h1v1h-1zM9 56h1v1h-1zM9 63h1v1h-1zM9 65h1v1h-1zM9 70h1v2h-1zM9 75h1v2h-1zM9 90h1v3h-1zM9 96h1v1h-1zM9 114h1v1h-1zM9 231h1v3h-1zM10 47h1v1h-1zM10 50h1v1h-1zM10 53h1v1h-1zM10 76h1v4h-1zM10 115h1v1h-1zM10 118h1v1h-1zM10 127h1v3h-1zM10 231h1v2h-1zM10 235h1v1h-1zM10 268h1v1h-1zM10 315h1v1h-1zM10 606h1v1h-1zM10 609h1v2h-1zM11 36h1v1h-1zM11 60h1v1h-1zM11 63h1v3h-1zM11 78h1v1h-1zM11 80h1v1h-1zM11 84h1v2h-1zM11 127h1v2h-1zM11 141h1v1h-1zM11 150h1v1h-1zM11 158h1v1h-1zM11 228h1v1h-1zM11 242h1v1h-1zM12 90h1v2h-1zM12 327h1v1h-1zM12 329h1v1h-1zM12 337h1v1h-1zM12 345h1v1h-1zM12 350h1v2h-1zM12 359h1v1h-1zM12 445h1v1h-1zM12 449h1v2h-1zM12 453h1v1h-1zM12 484h1v1h-1zM12 497h1v1h-1zM12 505h1v1h-1zM12 508h1v1h-1zM12 510h1v2h-1zM13 91h1v4h-1zM13 327h1v3h-1zM13 337h1v2h-1zM13 347h1v1h-1zM13 358h1v1h-1zM13 360h1v1h-1zM13 369h1v1h-1zM13 377h1v2h-1zM13 390h1v1h-1zM13 396h1v1h-1zM13 398h1v1h-1zM13 422h1v2h-1zM13 443h1v1h-1zM13 445h1v1h-1zM13 447h1v1h-1zM13 482h1v1h-1zM13 485h1v1h-1zM13 498h1v3h-1zM13 615h1v1h-1zM14 42h1v1h-1zM14 47h1v1h-1zM14 90h1v4h-1zM14 286h1v1h-1zM14 292h1v3h-1zM14 371h1v1h-1zM14 382h1v1h-1zM14 404h1v1h-1zM14 408h1v1h-1zM14 422h1v1h-1zM14 425h1v1h-1zM14 433h1v1h-1zM14 445h1v1h-1zM14 451h1v2h-1zM14 556h1v1h-1zM14 563h1v1h-1zM14 565h1v1h-1zM14 573h1v1h-1zM14 575h1v1h-1zM15 43h1v1h-1zM15 286h1v1h-1zM15 293h1v2h-1zM15 312h1v1h-1zM15 338h1v3h-1zM15 345h1v1h-1zM15 350h1v1h-1zM15 358h1v1h-1zM15 445h1v1h-1zM15 449h1v1h-1zM15 452h1v1h-1zM15 478h1v1h-1zM15 511h1v1h-1zM15 523h1v1h-1zM15 609h1v2h-1zM16 41h1v2h-1zM16 252h1v1h-1zM16 262h1v1h-1zM16 314h1v2h-1zM16 317h1v1h-1zM16 344h1v1h-1zM16 348h1v1h-1zM16 361h1v1h-1zM16 438h1v1h-1zM16 452h1v1h-1zM16 472h1v1h-1zM16 477h1v1h-1zM16 482h1v1h-1zM16 498h1v3h-1zM16 515h1v2h-1zM16 522h1v2h-1zM16 525h1v1h-1zM16 536h1v1h-1zM16 564h1v1h-1zM16 570h1v1h-1zM16 572h1v1h-1zM16 576h1v1h-1zM17 53h1v1h-1zM17 436h1v1h-1zM17 481h1v1h-1zM17 492h1v1h-1zM17 516h1v2h-1zM17 523h1v1h-1zM17 570h1v3h-1zM17 574h1v1h-1zM17 576h1v1h-1zM17 609h1v1h-1zM18 38h1v1h-1zM18 42h1v1h-1zM18 48h1v1h-1zM18 51h1v2h-1zM18 54h1v1h-1zM18 59h1v1h-1zM18 178h1v1h-1zM18 337h1v2h-1zM18 365h1v1h-1zM18 368h1v1h-1zM18 385h1v1h-1zM18 390h1v2h-1zM18 398h1v1h-1zM18 424h1v1h-1zM18 433h1v1h-1zM18 523h1v1h-1zM18 525h1v1h-1zM19 282h1v1h-1zM19 328h1v2h-1zM19 350h1v1h-1zM19 358h1v1h-1zM19 388h1v5h-1zM19 394h1v1h-1zM19 396h1v1h-1zM19 399h1v1h-1zM19 411h1v1h-1zM19 429h1v2h-1zM19 478h1v2h-1zM19 503h1v1h-1zM19 508h1v1h-1zM19 535h1v1h-1zM19 539h1v1h-1zM19 541h1v1h-1zM19 570h1v3h-1zM19 575h1v1h-1zM19 616h1v1h-1zM20 61h1v1h-1zM20 69h1v1h-1zM20 174h1v2h-1zM20 268h1v1h-1zM20 273h1v1h-1zM20 390h1v2h-1zM20 393h1v1h-1zM20 397h1v1h-1zM20 425h1v2h-1zM20 436h1v3h-1zM20 502h1v2h-1zM20 523h1v2h-1zM20 526h1v1h-1zM20 532h1v1h-1zM20 540h1v1h-1zM20 562h1v1h-1zM20 570h1v3h-1zM20 584h1v1h-1zM21 71h1v1h-1zM21 345h1v1h-1zM21 349h1v1h-1zM21 358h1v1h-1zM21 365h1v1h-1zM21 368h1v1h-1zM21 371h1v1h-1zM21 388h1v1h-1zM21 393h1v1h-1zM21 407h1v1h-1zM21 424h1v2h-1zM21 433h1v1h-1zM21 437h1v2h-1zM21 502h1v1h-1zM21 511h1v1h-1zM21 535h1v2h-1zM21 571h1v2h-1zM21 574h1v1h-1zM21 576h1v2h-1zM21 589h1v1h-1zM21 600h1v1h-1zM21 609h1v2h-1zM22 48h1v1h-1zM22 50h1v2h-1zM22 90h1v3h-1zM22 278h1v1h-1zM22 283h1v1h-1zM22 365h1v1h-1zM22 367h1v2h-1zM22 406h1v1h-1zM22 416h1v1h-1zM22 532h1v2h-1zM22 540h1v1h-1zM22 543h1v1h-1zM22 557h1v1h-1zM22 562h1v2h-1zM22 570h1v1h-1zM22 572h1v3h-1zM22 576h1v1h-1zM22 599h1v1h-1zM22 615h1v2h-1zM23 55h1v1h-1zM23 197h1v1h-1zM23 309h1v1h-1zM23 325h1v1h-1zM23 371h1v1h-1zM23 383h1v1h-1zM23 389h1v2h-1zM23 394h1v1h-1zM23 415h1v1h-1zM23 428h1v2h-1zM23 431h1v1h-1zM23 555h1v1h-1zM23 565h1v1h-1zM23 570h1v1h-1zM23 572h1v1h-1zM23 574h1v1h-1zM23 589h1v2h-1zM23 599h1v1h-1zM23 601h1v1h-1zM23 609h1v1h-1z"/>
<path fill="#e0e0ff" d="M0 42h1v1h-1zM0 47h1v1h-1zM0 59h1v1h-1zM0 63h1v2h-1zM0 75h1v1h-1zM0 89h1v1h-1zM0 94h1v2h-1zM0 98h1v1h-1zM0 102h1v1h-1zM0 105h1v2h-1zM0 110h1v1h-1zM0 115h1v1h-1zM0 122h1v1h-1zM0 124h1v1h-1zM0 130h1v1h-1zM0 132h1v1h-1zM0 138h1v3h-1zM0 148h1v1h-1zM0 153h1v1h-1zM0 159h1v1h-1zM0 256h1v2h-1zM0 277h1v1h-1zM0 318h1v1h-1zM0 320h1v1h-1zM0 324h1v1h-1zM0 329h1v1h-1zM0 334h1v2h-1zM0 341h1v3h-1zM0 352h1v1h-1zM0 501h1v1h-1zM0 609h1v2h-1zM1 4h1v1h-1zM1 45h1v2h-1zM1 68h1v1h-1zM1 70h1v5h-1zM1 96h1v1h-1zM1 99h1v2h-1zM1 102h1v2h-1zM1 110h1v1h-1zM1 147h1v1h-1zM1 153h1v1h-1zM1 159h1v1h-1zM1 173h1v1h-1zM1 180h1v3h-1zM1 186h1v2h-1zM1 191h1v2h-1zM1 229h1v2h-1zM1 234h1v2h-1zM1 239h1v1h-1zM1 259h1v2h-1zM1 262h1v3h-1zM1 266h1v1h-1zM1 276h1v1h-1zM1 342h1v2h-1zM1 348h1v1h-1zM1 352h1v1h-1zM1 600h1v1h-1zM1 615h1v1h-1zM2 12h1v1h-1zM2 43h1v1h-1zM2 46h1v1h-1zM2 48h1v2h-1zM2 51h1v1h-1zM2 53h1v4h-1zM2 88h1v1h-1zM2 92h1v3h-1zM2 119h1v1h-1zM2 121h1v5h-1zM2 130h1v3h-1zM2 138h1v1h-1zM2 140h1v2h-1zM2 153h1v1h-1zM2 276h1v1h-1zM2 313h1v2h-1zM2 317h1v1h-1zM2 341h1v3h-1zM2 348h1v1h-1zM2 352h1v1h-1zM2 609h1v1h-1zM3 12h1v1h-1zM3 32h1v2h-1zM3 35h1v1h-1zM3 39h1v3h-1zM3 83h1v1h-1zM3 86h1v2h-1zM3 91h1v1h-1zM3 93h1v1h-1zM3 105h1v2h-1zM3 110h1v1h-1zM3 113h1v1h-1zM3 149h1v4h-1zM3 154h1v5h-1zM3 173h1v1h-1zM3 181h1v2h-1zM3 186h1v2h-1zM3 190h1v1h-1zM3 205h1v1h-1zM3 207h1v4h-1zM3 212h1v1h-1zM3 214h1v1h-1zM3 216h1v3h-1zM3 227h1v1h-1zM3 230h1v1h-1zM3 235h1v1h-1zM3 259h1v5h-1zM3 311h1v2h-1zM4 88h1v1h-1zM4 93h1v2h-1zM4 99h1v1h-1zM4 104h1v3h-1zM4 110h1v1h-1zM4 113h1v1h-1zM4 115h1v1h-1zM4 122h1v4h-1zM4 132h1v1h-1zM4 137h1v2h-1zM4 140h1v1h-1zM4 149h1v4h-1zM4 154h1v4h-1zM4 161h1v7h-1zM4 174h1v1h-1zM4 177h1v1h-1zM4 184h1v1h-1zM4 193h1v1h-1zM4 195h1v1h-1zM4 201h1v4h-1zM4 213h1v1h-1zM4 221h1v3h-1zM4 226h1v1h-1zM4 236h1v2h-1zM4 242h1v1h-1zM4 277h1v1h-1zM5 75h1v1h-1zM5 78h1v1h-1zM5 80h1v1h-1zM5 83h1v1h-1zM5 85h1v2h-1zM5 89h1v1h-1zM5 95h1v2h-1zM5 99h1v2h-1zM5 102h1v1h-1zM5 107h1v3h-1zM5 112h1v1h-1zM5 116h1v2h-1zM5 255h1v1h-1zM5 258h1v1h-1zM5 310h1v3h-1zM5 324h1v1h-1zM5 336h1v2h-1zM5 344h1v1h-1zM5 346h1v1h-1zM5 350h1v2h-1zM5 353h1v1h-1zM5 355h1v1h-1zM5 357h1v1h-1zM5 361h1v1h-1zM5 363h1v1h-1zM5 503h1v2h-1zM5 506h1v2h-1zM5 611h1v1h-1zM6 14h1v1h-1zM6 32h1v1h-1zM6 34h1v1h-1zM6 36h1v1h-1zM6 46h1v1h-1zM6 48h1v1h-1zM6 67h1v1h-1zM6 69h1v1h-1zM6 71h1v1h-1zM6 96h1v1h-1zM6 101h1v2h-1zM6 147h1v2h-1zM6 153h1v1h-1zM6 159h1v1h-1zM6 169h1v1h-1zM6 171h1v2h-1zM6 182h1v2h-1zM6 205h1v3h-1zM6 209h1v1h-1zM6 211h1v2h-1zM6 215h1v4h-1zM6 255h1v1h-1zM6 257h1v2h-1zM6 268h1v1h-1zM6 273h1v3h-1zM6 287h1v2h-1zM6 294h1v2h-1zM6 313h1v2h-1zM6 316h1v2h-1zM6 319h1v1h-1zM6 321h1v2h-1zM6 326h1v1h-1zM6 331h1v2h-1zM6 340h1v1h-1zM6 345h1v2h-1zM6 350h1v1h-1zM6 353h1v2h-1zM6 357h1v1h-1zM6 613h1v1h-1zM6 615h1v2h-1zM7 12h1v1h-1zM7 33h1v4h-1zM7 58h1v3h-1zM7 63h1v1h-1zM7 75h1v4h-1zM7 82h1v1h-1zM7 86h1v1h-1zM7 89h1v1h-1zM7 92h1v3h-1zM7 99h1v3h-1zM7 103h1v4h-1zM7 110h1v1h-1zM7 113h1v1h-1zM7 117h1v4h-1zM7 126h1v1h-1zM7 133h1v4h-1zM7 143h1v4h-1zM7 310h1v1h-1zM7 312h1v1h-1zM8 12h1v2h-1zM8 58h1v2h-1zM8 64h1v2h-1zM8 87h1v1h-1zM8 95h1v3h-1zM8 102h1v1h-1zM8 105h1v2h-1zM8 115h1v1h-1zM8 122h1v1h-1zM8 124h1v1h-1zM8 130h1v3h-1zM8 137h1v4h-1zM8 167h1v1h-1zM8 228h1v1h-1zM8 236h1v1h-1zM8 238h1v1h-1zM8 240h1v1h-1zM8 243h1v1h-1zM9 3h1v1h-1zM9 5h1v1h-1zM9 7h1v1h-1zM9 9h1v2h-1zM9 13h1v1h-1zM9 36h1v1h-1zM9 50h1v1h-1zM9 52h1v4h-1zM9 58h1v1h-1zM9 64h1v1h-1zM9 67h1v1h-1zM9 69h1v1h-1zM9 73h1v2h-1zM9 77h1v2h-1zM9 87h1v1h-1zM9 93h1v1h-1zM9 95h1v1h-1zM9 98h1v1h-1zM9 101h1v2h-1zM9 104h1v1h-1zM9 106h1v1h-1zM9 110h1v1h-1zM9 115h1v1h-1zM10 43h1v1h-1zM10 46h1v1h-1zM10 48h1v1h-1zM10 54h1v3h-1zM10 103h1v4h-1zM10 110h1v1h-1zM10 113h1v2h-1zM10 119h1v1h-1zM10 126h1v1h-1zM10 133h1v2h-1zM10 141h1v6h-1zM10 167h1v1h-1zM10 233h1v2h-1zM10 240h1v1h-1zM10 259h1v1h-1zM10 262h1v2h-1zM10 266h1v1h-1zM10 269h1v1h-1zM10 313h1v2h-1zM10 317h1v1h-1zM11 4h1v1h-1zM11 33h1v3h-1zM11 42h1v1h-1zM11 57h1v1h-1zM11 59h1v1h-1zM11 79h1v1h-1zM11 86h1v1h-1zM11 118h1v2h-1zM11 126h1v1h-1zM11 129h1v1h-1zM11 135h1v2h-1zM11 142h1v3h-1zM11 146h1v1h-1zM11 149h1v1h-1zM11 151h1v2h-1zM11 154h1v4h-1zM11 236h1v3h-1zM11 243h1v1h-1zM11 268h1v2h-1zM11 310h1v3h-1zM11 358h1v1h-1zM11 361h1v2h-1zM11 502h1v3h-1zM11 506h1v2h-1zM12 3h1v1h-1zM12 5h1v3h-1zM12 9h1v1h-1zM12 36h1v1h-1zM12 92h1v2h-1zM12 170h1v1h-1zM12 173h1v1h-1zM12 181h1v2h-1zM12 186h1v2h-1zM12 255h1v1h-1zM12 260h1v1h-1zM12 318h1v2h-1zM12 324h1v2h-1zM12 328h1v1h-1zM12 344h1v1h-1zM12 346h1v1h-1zM12 349h1v1h-1zM12 353h1v1h-1zM12 357h1v2h-1zM12 361h1v2h-1zM12 386h1v1h-1zM12 390h1v2h-1zM12 399h1v1h-1zM12 412h1v5h-1zM12 441h1v2h-1zM12 444h1v1h-1zM12 447h1v1h-1zM12 451h1v2h-1zM12 463h1v3h-1zM12 467h1v1h-1zM12 470h1v2h-1zM12 473h1v5h-1zM12 483h1v1h-1zM12 485h1v4h-1zM12 490h1v1h-1zM12 493h1v1h-1zM12 496h1v1h-1zM12 502h1v3h-1zM12 506h1v1h-1zM12 512h1v3h-1zM13 43h1v1h-1zM13 46h1v2h-1zM13 89h1v2h-1zM13 173h1v1h-1zM13 180h1v3h-1zM13 186h1v2h-1zM13 308h1v1h-1zM13 310h1v2h-1zM13 324h1v2h-1zM13 333h1v1h-1zM13 335h1v2h-1zM13 341h1v3h-1zM13 348h1v1h-1zM13 352h1v1h-1zM13 370h1v1h-1zM13 374h1v2h-1zM13 379h1v3h-1zM13 384h1v1h-1zM13 388h1v1h-1zM13 391h1v2h-1zM13 395h1v1h-1zM13 397h1v1h-1zM13 399h1v1h-1zM13 411h1v4h-1zM13 416h1v2h-1zM13 427h1v6h-1zM13 441h1v1h-1zM13 465h1v1h-1zM13 467h1v1h-1zM13 470h1v2h-1zM13 473h1v2h-1zM13 476h1v2h-1zM13 483h1v1h-1zM13 486h1v2h-1zM13 489h1v2h-1zM13 493h1v1h-1zM13 497h1v1h-1zM13 501h1v1h-1zM13 515h1v3h-1zM13 613h1v2h-1zM13 616h1v1h-1zM14 14h1v1h-1zM14 89h1v1h-1zM14 94h1v1h-1zM14 173h1v1h-1zM14 180h1v3h-1zM14 186h1v2h-1zM14 259h1v3h-1zM14 263h1v1h-1zM14 287h1v3h-1zM14 295h1v1h-1zM14 372h1v1h-1zM14 383h1v1h-1zM14 385h1v1h-1zM14 392h1v1h-1zM14 394h1v1h-1zM14 405h1v3h-1zM14 418h1v4h-1zM14 424h1v1h-1zM14 434h1v2h-1zM14 441h1v1h-1zM14 444h1v1h-1zM14 446h1v2h-1zM14 449h1v2h-1zM14 453h1v1h-1zM14 463h1v1h-1zM14 465h1v1h-1zM14 470h1v8h-1zM14 483h1v8h-1zM14 493h1v1h-1zM14 497h1v1h-1zM14 557h1v4h-1zM14 564h1v1h-1zM14 566h1v1h-1zM14 574h1v1h-1zM14 578h1v6h-1zM14 599h1v1h-1zM14 608h1v1h-1zM14 613h1v1h-1zM14 615h1v2h-1zM15 13h1v1h-1zM15 42h1v1h-1zM15 45h1v1h-1zM15 89h1v1h-1zM15 255h1v1h-1zM15 287h1v2h-1zM15 290h1v1h-1zM15 292h1v1h-1zM15 295h1v1h-1zM15 310h1v2h-1zM15 321h1v1h-1zM15 326h1v1h-1zM15 330h1v2h-1zM15 337h1v1h-1zM15 344h1v1h-1zM15 346h1v1h-1zM15 349h1v1h-1zM15 351h1v1h-1zM15 353h1v1h-1zM15 356h1v1h-1zM15 371h1v2h-1zM15 382h1v2h-1zM15 385h1v1h-1zM15 441h1v1h-1zM15 443h1v1h-1zM15 446h1v2h-1zM15 450h1v2h-1zM15 453h1v1h-1zM15 463h1v1h-1zM15 466h1v1h-1zM15 471h1v1h-1zM15 480h1v2h-1zM15 493h1v2h-1zM15 502h1v7h-1zM15 510h1v1h-1zM15 512h1v1h-1zM15 522h1v1h-1zM15 527h1v2h-1zM15 599h1v7h-1zM15 612h1v3h-1zM16 13h1v1h-1zM16 32h1v3h-1zM16 36h1v1h-1zM16 173h1v1h-1zM16 181h1v2h-1zM16 186h1v2h-1zM16 251h1v1h-1zM16 259h1v2h-1zM16 266h1v1h-1zM16 313h1v1h-1zM16 330h1v3h-1zM16 342h1v2h-1zM16 351h1v2h-1zM16 356h1v1h-1zM16 358h1v2h-1zM16 436h1v2h-1zM16 440h1v1h-1zM16 442h1v1h-1zM16 449h1v3h-1zM16 453h1v1h-1zM16 465h1v1h-1zM16 470h1v2h-1zM16 473h1v4h-1zM16 483h1v1h-1zM16 486h1v5h-1zM16 496h1v2h-1zM16 501h1v1h-1zM16 517h1v1h-1zM16 527h1v5h-1zM16 535h1v1h-1zM16 537h1v1h-1zM16 539h1v1h-1zM16 545h1v1h-1zM16 547h1v1h-1zM16 555h1v2h-1zM16 561h1v2h-1zM16 567h1v3h-1zM16 571h1v1h-1zM16 575h1v1h-1zM16 589h1v2h-1zM16 592h1v2h-1zM16 595h1v2h-1zM16 598h1v5h-1zM16 605h1v2h-1zM16 611h1v2h-1zM16 614h1v1h-1zM17 6h1v1h-1zM17 54h1v1h-1zM17 254h1v2h-1zM17 313h1v5h-1zM17 437h1v2h-1zM17 442h1v3h-1zM17 466h1v1h-1zM17 468h1v3h-1zM17 478h1v3h-1zM17 491h1v1h-1zM17 494h1v2h-1zM17 501h1v1h-1zM17 515h1v1h-1zM17 519h1v1h-1zM17 521h1v1h-1zM17 555h1v1h-1zM17 557h1v1h-1zM17 562h1v1h-1zM17 580h1v1h-1zM17 589h1v3h-1zM17 593h1v1h-1zM17 595h1v1h-1zM17 598h1v1h-1zM17 610h1v1h-1zM18 37h1v1h-1zM18 39h1v1h-1zM18 41h1v1h-1zM18 44h1v1h-1zM18 49h1v2h-1zM18 55h1v2h-1zM18 168h1v1h-1zM18 171h1v2h-1zM18 176h1v1h-1zM18 181h1v1h-1zM18 185h1v1h-1zM18 254h1v1h-1zM18 314h1v2h-1zM18 335h1v1h-1zM18 366h1v2h-1zM18 371h1v2h-1zM18 382h1v2h-1zM18 386h1v1h-1zM18 388h1v2h-1zM18 394h1v2h-1zM18 397h1v1h-1zM18 399h1v1h-1zM18 412h1v5h-1zM18 418h1v5h-1zM18 425h1v2h-1zM18 434h1v2h-1zM18 522h1v1h-1zM18 527h1v2h-1zM19 169h1v1h-1zM19 171h1v1h-1zM19 173h1v1h-1zM19 176h1v1h-1zM19 181h1v2h-1zM19 187h1v1h-1zM19 259h1v1h-1zM19 262h1v2h-1zM19 265h1v2h-1zM19 280h1v2h-1zM19 324h1v2h-1zM19 327h1v1h-1zM19 344h1v3h-1zM19 349h1v1h-1zM19 351h1v1h-1zM19 354h1v1h-1zM19 357h1v1h-1zM19 361h1v3h-1zM19 386h1v1h-1zM19 397h1v2h-1zM19 412h1v5h-1zM19 423h1v1h-1zM19 427h1v2h-1zM19 431h1v2h-1zM19 466h1v1h-1zM19 469h1v1h-1zM19 480h1v1h-1zM19 494h1v2h-1zM19 505h1v3h-1zM19 510h1v4h-1zM19 530h1v2h-1zM19 536h1v2h-1zM19 545h1v1h-1zM19 547h1v1h-1zM19 555h1v2h-1zM19 561h1v2h-1zM19 567h1v3h-1zM19 573h1v1h-1zM19 576h1v1h-1zM19 589h1v3h-1zM19 595h1v2h-1zM19 613h1v1h-1zM19 615h1v1h-1zM20 43h1v1h-1zM20 45h1v3h-1zM20 89h1v1h-1zM20 171h1v2h-1zM20 177h1v3h-1zM20 185h1v1h-1zM20 255h1v1h-1zM20 257h1v1h-1zM20 269h1v3h-1zM20 310h1v1h-1zM20 314h1v2h-1zM20 371h1v2h-1zM20 380h1v1h-1zM20 382h1v1h-1zM20 386h1v1h-1zM20 388h1v2h-1zM20 392h1v1h-1zM20 394h1v3h-1zM20 398h1v2h-1zM20 411h1v3h-1zM20 415h1v2h-1zM20 418h1v1h-1zM20 420h1v2h-1zM20 424h1v1h-1zM20 433h1v3h-1zM20 439h1v1h-1zM20 442h1v3h-1zM20 505h1v4h-1zM20 510h1v4h-1zM20 519h1v1h-1zM20 521h1v1h-1zM20 533h1v2h-1zM20 536h1v2h-1zM20 541h1v2h-1zM20 546h1v2h-1zM20 550h1v2h-1zM20 555h1v1h-1zM20 569h1v1h-1zM20 576h1v1h-1zM20 585h1v4h-1zM20 593h1v2h-1zM20 598h1v1h-1zM20 614h1v3h-1zM21 4h1v1h-1zM21 12h1v1h-1zM21 254h1v1h-1zM21 267h1v1h-1zM21 276h1v1h-1zM21 344h1v1h-1zM21 346h1v1h-1zM21 351h1v1h-1zM21 353h1v1h-1zM21 356h1v2h-1zM21 361h1v3h-1zM21 366h1v2h-1zM21 382h1v2h-1zM21 385h1v1h-1zM21 387h1v1h-1zM21 394h1v1h-1zM21 396h1v1h-1zM21 400h1v1h-1zM21 403h1v4h-1zM21 408h1v1h-1zM21 418h1v4h-1zM21 426h1v1h-1zM21 434h1v1h-1zM21 436h1v1h-1zM21 440h1v1h-1zM21 443h1v2h-1zM21 466h1v1h-1zM21 478h1v4h-1zM21 491h1v3h-1zM21 503h1v3h-1zM21 507h1v1h-1zM21 510h1v1h-1zM21 512h1v3h-1zM21 529h1v1h-1zM21 531h1v1h-1zM21 534h1v1h-1zM21 538h1v1h-1zM21 545h1v1h-1zM21 552h1v1h-1zM21 555h1v5h-1zM21 562h1v1h-1zM21 567h1v1h-1zM21 569h1v2h-1zM21 575h1v1h-1zM21 592h1v1h-1zM21 595h1v1h-1zM21 601h1v2h-1zM21 605h1v1h-1zM21 611h1v2h-1zM22 56h1v1h-1zM22 89h1v1h-1zM22 93h1v2h-1zM22 276h1v2h-1zM22 279h1v1h-1zM22 284h1v2h-1zM22 300h1v2h-1zM22 305h1v1h-1zM22 321h1v2h-1zM22 330h1v1h-1zM22 332h1v1h-1zM22 337h1v1h-1zM22 340h1v1h-1zM22 366h1v1h-1zM22 392h1v2h-1zM22 395h1v1h-1zM22 400h1v1h-1zM22 404h1v2h-1zM22 407h1v3h-1zM22 441h1v1h-1zM22 445h1v3h-1zM22 534h1v1h-1zM22 537h1v2h-1zM22 542h1v1h-1zM22 544h1v1h-1zM22 546h1v6h-1zM22 555h1v1h-1zM22 561h1v1h-1zM22 567h1v2h-1zM22 571h1v1h-1zM22 580h1v2h-1zM22 589h1v2h-1zM22 595h1v1h-1zM22 598h1v1h-1zM22 600h1v1h-1zM23 4h1v2h-1zM23 53h1v2h-1zM23 194h1v2h-1zM23 199h1v1h-1zM23 260h1v4h-1zM23 324h1v1h-1zM23 327h1v3h-1zM23 372h1v1h-1zM23 382h1v1h-1zM23 385h1v1h-1zM23 391h1v1h-1zM23 393h1v1h-1zM23 395h1v5h-1zM23 411h1v3h-1zM23 416h1v2h-1zM23 423h1v1h-1zM23 430h1v1h-1zM23 432h1v2h-1zM23 441h1v1h-1zM23 445h1v3h-1zM23 568h1v1h-1zM23 571h1v1h-1zM23 576h1v1h-1zM23 595h1v1h-1zM23 600h1v1h-1zM23 602h1v1h-1zM23 610h1v3h-1z"/>
<path fill="#ffebeb" d="M0 43h1v1h-1zM0 79h1v1h-1zM0 129h1v1h-1zM0 174h1v2h-1zM0 197h1v1h-1zM0 225h1v1h-1zM0 261h1v1h-1zM0 346h1v1h-1zM0 349h1v3h-1zM1 158h1v1h-1zM1 228h1v1h-1zM1 243h1v1h-1zM1 345h1v2h-1zM1 349h1v3h-1zM2 76h1v1h-1zM2 128h1v2h-1zM2 146h1v1h-1zM2 149h1v3h-1zM2 157h1v1h-1zM3 77h1v1h-1zM3 128h1v1h-1zM3 136h1v1h-1zM3 240h1v1h-1zM3 243h1v1h-1zM4 120h1v1h-1zM4 141h1v1h-1zM4 172h1v1h-1zM4 186h1v1h-1zM4 196h1v2h-1zM4 210h1v1h-1zM4 216h1v2h-1zM4 243h1v1h-1zM5 34h1v1h-1zM5 43h1v1h-1zM5 47h1v1h-1zM5 84h1v1h-1zM5 104h1v1h-1zM5 115h1v1h-1zM5 181h1v2h-1zM5 331h1v1h-1zM5 340h1v1h-1zM5 347h1v2h-1zM6 85h1v1h-1zM6 248h1v1h-1zM6 252h1v1h-1zM7 121h1v2h-1zM7 149h1v1h-1zM7 158h1v1h-1zM8 77h1v1h-1zM8 101h1v1h-1zM8 120h1v2h-1zM8 127h1v3h-1zM8 142h1v1h-1zM8 150h1v1h-1zM8 158h1v1h-1zM9 86h1v1h-1zM9 113h1v1h-1zM9 127h1v1h-1zM9 129h1v1h-1zM9 145h1v1h-1zM10 41h1v2h-1zM10 85h1v1h-1zM10 90h1v2h-1zM10 95h1v2h-1zM10 108h1v1h-1zM11 41h1v1h-1zM11 91h1v1h-1zM11 120h1v1h-1zM11 125h1v1h-1zM12 348h1v1h-1zM12 352h1v1h-1zM12 472h1v1h-1zM12 479h1v1h-1zM12 540h1v1h-1zM12 542h1v1h-1zM12 546h1v1h-1zM13 315h1v1h-1zM13 363h1v1h-1zM13 510h1v2h-1zM13 530h1v1h-1zM13 535h1v1h-1zM13 562h1v3h-1zM13 570h1v1h-1zM13 572h1v1h-1zM13 574h1v2h-1zM14 314h1v1h-1zM14 344h1v2h-1zM14 350h1v1h-1zM14 357h1v1h-1zM14 365h1v2h-1zM14 368h1v1h-1zM14 411h1v1h-1zM14 416h1v1h-1zM14 480h1v1h-1zM14 517h1v1h-1zM14 555h1v1h-1zM14 567h1v1h-1zM14 571h1v1h-1zM14 576h1v1h-1zM14 590h1v1h-1zM14 595h1v1h-1zM15 325h1v1h-1zM15 327h1v2h-1zM15 343h1v1h-1zM15 347h1v2h-1zM15 369h1v1h-1zM15 377h1v2h-1zM15 380h1v1h-1zM15 407h1v1h-1zM15 473h1v1h-1zM15 570h1v2h-1zM15 573h1v1h-1zM15 590h1v1h-1zM16 328h1v1h-1zM16 339h1v2h-1zM16 347h1v1h-1zM16 365h1v1h-1zM16 367h1v4h-1zM16 378h1v1h-1zM16 394h1v1h-1zM16 406h1v1h-1zM16 540h1v1h-1zM16 542h1v1h-1zM16 544h1v1h-1zM16 551h1v1h-1zM16 565h1v1h-1zM16 573h1v1h-1zM16 583h1v1h-1zM16 616h1v1h-1zM17 252h1v1h-1zM17 344h1v2h-1zM17 350h1v2h-1zM17 388h1v1h-1zM17 502h1v2h-1zM17 510h1v1h-1zM17 522h1v1h-1zM17 524h1v4h-1zM17 535h1v2h-1zM18 175h1v1h-1zM18 179h1v1h-1zM18 248h1v1h-1zM18 287h1v1h-1zM18 292h1v4h-1zM18 324h1v2h-1zM18 327h1v1h-1zM18 329h1v1h-1zM18 346h1v1h-1zM18 350h1v1h-1zM18 359h1v1h-1zM18 406h1v1h-1zM18 473h1v1h-1zM18 485h1v1h-1zM18 488h1v1h-1zM18 565h1v1h-1zM18 570h1v1h-1zM18 572h1v1h-1zM19 43h1v1h-1zM19 268h1v1h-1zM19 287h1v1h-1zM19 292h1v3h-1zM19 341h1v2h-1zM19 347h1v2h-1zM19 359h1v1h-1zM19 445h1v1h-1zM19 449h1v1h-1zM19 452h1v1h-1zM19 455h1v1h-1zM19 471h1v1h-1zM19 487h1v1h-1zM19 563h1v2h-1zM19 566h1v1h-1zM19 574h1v1h-1zM19 586h1v1h-1zM19 594h1v1h-1zM20 35h1v1h-1zM20 292h1v3h-1zM20 298h1v1h-1zM20 331h1v1h-1zM20 347h1v2h-1zM20 441h1v1h-1zM20 451h1v1h-1zM20 473h1v1h-1zM20 515h1v1h-1zM20 522h1v1h-1zM20 525h1v1h-1zM20 563h1v3h-1zM20 575h1v1h-1zM21 9h1v1h-1zM21 251h1v2h-1zM21 296h1v1h-1zM21 369h1v2h-1zM21 378h1v3h-1zM21 390h1v1h-1zM21 392h1v1h-1zM21 398h1v1h-1zM21 412h1v1h-1zM21 445h1v1h-1zM21 449h1v1h-1zM21 451h1v1h-1zM21 471h1v1h-1zM21 476h1v1h-1zM21 486h1v1h-1zM21 488h1v1h-1zM22 245h1v1h-1zM22 248h1v1h-1zM22 250h1v1h-1zM22 296h1v2h-1zM22 302h1v1h-1zM22 314h1v2h-1zM22 389h1v1h-1zM22 455h1v4h-1zM22 474h1v1h-1zM23 269h1v1h-1zM23 273h1v1h-1zM23 368h1v3h-1zM23 378h1v1h-1zM23 449h1v2h-1z"/>
<path fill="#ffcccc" d="M0 45h1v1h-1zM0 182h1v1h-1zM0 189h1v1h-1zM0 196h1v1h-1zM0 212h1v1h-1zM0 216h1v1h-1zM0 219h1v1h-1zM0 235h1v2h-1zM0 239h1v2h-1zM0 243h1v1h-1zM1 84h1v1h-1zM1 175h1v1h-1zM1 202h1v1h-1zM1 208h1v2h-1zM1 220h1v2h-1zM1 227h1v1h-1zM1 231h1v1h-1zM1 233h1v1h-1zM2 101h1v1h-1zM2 113h1v2h-1zM2 179h1v1h-1zM2 187h1v1h-1zM2 197h1v2h-1zM2 222h1v1h-1zM2 224h1v1h-1zM2 235h1v1h-1zM2 241h1v1h-1zM3 9h1v1h-1zM3 120h1v1h-1zM3 231h1v3h-1zM4 148h1v1h-1zM4 170h1v1h-1zM5 37h1v1h-1zM5 39h1v1h-1zM5 41h1v1h-1zM5 44h1v1h-1zM5 121h1v1h-1zM5 131h1v1h-1zM5 140h1v1h-1zM5 169h1v1h-1zM5 172h1v1h-1zM5 208h1v4h-1zM5 240h1v1h-1zM5 263h1v1h-1zM6 75h1v1h-1zM6 77h1v1h-1zM6 90h1v4h-1zM6 104h1v1h-1zM6 107h1v1h-1zM8 6h1v1h-1zM8 154h1v1h-1zM8 159h1v1h-1zM9 62h1v1h-1zM9 121h1v1h-1zM9 137h1v1h-1zM9 158h1v2h-1zM10 40h1v1h-1zM10 94h1v1h-1zM10 154h1v1h-1zM10 158h1v1h-1zM11 83h1v1h-1zM11 114h1v2h-1zM12 45h1v1h-1zM12 330h1v1h-1zM12 402h1v1h-1zM12 498h1v3h-1zM12 522h1v1h-1zM12 525h1v1h-1zM12 571h1v3h-1zM12 576h1v1h-1zM12 589h1v1h-1zM12 614h1v3h-1zM13 522h1v2h-1zM13 540h1v2h-1zM13 546h1v1h-1zM13 557h1v1h-1zM13 565h1v2h-1zM13 573h1v1h-1zM14 324h1v2h-1zM14 328h1v2h-1zM14 337h1v2h-1zM14 468h1v2h-1zM14 498h1v1h-1zM14 500h1v1h-1zM14 508h1v1h-1zM14 524h1v1h-1zM14 535h1v1h-1zM14 586h1v1h-1zM14 596h1v1h-1zM15 373h1v1h-1zM15 389h1v2h-1zM15 393h1v1h-1zM15 399h1v1h-1zM15 418h1v2h-1zM15 540h1v2h-1zM15 556h1v3h-1zM15 563h1v3h-1zM15 575h1v1h-1zM16 337h1v1h-1zM16 390h1v3h-1zM16 399h1v1h-1zM16 412h1v1h-1zM16 416h1v1h-1zM16 418h1v1h-1zM16 425h1v2h-1zM16 609h1v2h-1zM17 339h1v1h-1zM17 371h1v1h-1zM17 382h1v1h-1zM17 385h1v1h-1zM17 390h1v1h-1zM17 411h1v1h-1zM17 416h1v1h-1zM18 34h1v1h-1zM18 260h1v1h-1zM18 268h1v1h-1zM18 270h1v1h-1zM18 298h1v1h-1zM18 303h1v1h-1zM18 333h1v1h-1zM18 347h1v2h-1zM18 352h1v1h-1zM18 355h1v1h-1zM18 442h1v3h-1zM18 454h1v2h-1zM18 458h1v1h-1zM18 510h1v1h-1zM18 533h1v1h-1zM18 535h1v2h-1zM18 540h1v1h-1zM18 542h1v1h-1zM18 546h1v1h-1zM18 551h1v1h-1zM18 563h1v2h-1zM18 573h1v1h-1zM18 577h1v1h-1zM18 585h1v1h-1zM18 594h1v1h-1zM18 614h1v1h-1zM18 616h1v1h-1zM19 296h1v3h-1zM19 302h1v1h-1zM19 436h1v2h-1zM19 454h1v1h-1zM19 456h1v1h-1zM19 482h1v1h-1zM19 577h1v1h-1zM20 8h1v1h-1zM20 10h1v1h-1zM20 346h1v1h-1zM20 351h1v1h-1zM20 359h1v1h-1zM20 454h1v1h-1zM20 458h1v1h-1zM20 464h1v1h-1zM20 478h1v1h-1zM20 491h1v1h-1zM20 577h1v1h-1zM21 286h1v1h-1zM21 292h1v3h-1zM21 297h1v2h-1zM21 302h1v2h-1zM21 454h1v3h-1zM21 458h1v1h-1zM21 482h1v1h-1zM22 292h1v2h-1zM22 295h1v1h-1zM22 364h1v1h-1zM22 429h1v2h-1zM22 451h1v2h-1zM23 7h1v1h-1zM23 296h1v1h-1zM23 298h1v1h-1zM23 303h1v1h-1zM23 455h1v1h-1zM23 457h1v1h-1zM23 473h1v1h-1z"/>
<path fill="#adadff" d="M0 52h1v1h-1zM0 482h1v1h-1zM0 498h1v3h-1zM0 577h1v1h-1zM1 38h1v1h-1zM1 42h1v1h-1zM1 119h1v2h-1zM1 126h1v1h-1zM1 135h1v2h-1zM1 142h1v5h-1zM1 270h1v1h-1zM1 307h1v1h-1zM1 314h1v1h-1zM1 482h1v1h-1zM1 498h1v3h-1zM1 577h1v1h-1zM2 38h1v1h-1zM2 289h1v1h-1zM2 307h1v1h-1zM2 340h1v1h-1zM2 498h1v3h-1zM2 577h1v1h-1zM3 48h1v1h-1zM3 51h1v2h-1zM3 315h1v1h-1zM3 373h1v1h-1zM3 498h1v3h-1zM3 577h1v1h-1zM3 609h1v2h-1zM4 61h1v1h-1zM4 482h1v1h-1zM4 498h1v2h-1zM4 577h1v1h-1zM5 51h1v2h-1zM5 61h1v2h-1zM5 307h1v1h-1zM5 498h1v3h-1zM5 577h1v1h-1zM6 37h1v2h-1zM6 197h1v1h-1zM6 232h1v1h-1zM6 296h1v2h-1zM6 303h1v1h-1zM6 337h1v1h-1zM6 347h1v1h-1zM6 482h1v1h-1zM6 498h1v3h-1zM7 37h1v1h-1zM7 231h1v1h-1zM7 233h1v1h-1zM7 252h1v1h-1zM7 297h1v1h-1zM7 482h1v1h-1zM7 498h1v3h-1zM7 577h1v1h-1zM8 52h1v1h-1zM8 296h1v1h-1zM8 482h1v1h-1zM8 499h1v2h-1zM8 577h1v1h-1zM9 45h1v1h-1zM9 206h1v1h-1zM9 211h1v1h-1zM9 214h1v1h-1zM9 216h1v3h-1zM9 227h1v1h-1zM9 243h1v1h-1zM9 252h1v1h-1zM9 269h1v1h-1zM9 298h1v1h-1zM9 482h1v1h-1zM9 498h1v2h-1zM10 251h1v1h-1zM10 296h1v2h-1zM10 359h1v1h-1zM10 482h1v1h-1zM10 498h1v3h-1zM11 7h1v1h-1zM11 51h1v1h-1zM11 185h1v1h-1zM11 251h1v1h-1zM11 297h1v2h-1zM11 401h1v1h-1zM11 498h1v3h-1zM11 577h1v1h-1zM12 61h1v1h-1zM12 231h1v3h-1zM13 37h1v2h-1zM13 231h1v3h-1zM14 232h1v1h-1zM14 251h1v2h-1zM14 369h1v1h-1zM14 455h1v1h-1zM15 62h1v1h-1zM15 231h1v2h-1zM16 232h1v1h-1zM16 327h1v1h-1zM16 524h1v1h-1zM17 50h1v1h-1zM18 72h1v1h-1zM18 231h1v1h-1zM18 233h1v1h-1zM18 369h1v1h-1zM19 38h1v1h-1zM19 64h1v1h-1zM19 232h1v2h-1zM20 37h1v1h-1zM20 51h1v2h-1zM20 62h1v1h-1zM20 196h1v1h-1zM20 231h1v3h-1zM20 251h1v1h-1zM20 365h1v1h-1zM21 50h1v1h-1zM21 52h1v1h-1zM21 61h1v1h-1zM21 231h1v3h-1zM21 283h1v1h-1zM21 523h1v1h-1zM22 38h1v1h-1zM22 41h1v1h-1zM22 82h1v1h-1zM22 231h1v3h-1zM23 48h1v1h-1zM23 65h1v1h-1zM23 80h1v1h-1zM23 198h1v1h-1zM23 231h1v3h-1zM23 246h1v1h-1zM23 251h1v1h-1zM23 524h1v1h-1zM23 562h1v1h-1z"/>
<path fill="#ff2929" d="M0 66h1v1h-1zM6 55h1v1h-1zM13 323h1v1h-1zM22 251h1v1h-1zM22 369h1v2h-1zM22 374h1v1h-1z"/>
<path fill="#ff1f1f" d="M0 67h1v1h-1zM2 162h1v2h-1zM3 98h1v1h-1zM5 167h1v1h-1zM6 50h1v3h-1zM6 54h1v1h-1zM6 56h1v1h-1zM11 15h1v2h-1zM11 18h1v1h-1zM11 21h1v3h-1zM11 25h1v1h-1zM11 27h1v3h-1zM12 310h1v3h-1zM12 314h1v2h-1zM13 318h1v1h-1zM15 365h1v4h-1zM21 244h1v1h-1zM21 246h1v5h-1zM22 252h1v2h-1zM22 373h1v1h-1zM22 378h1v2h-1zM22 382h1v1h-1zM23 278h1v5h-1zM23 284h1v2h-1zM23 291h1v1h-1zM23 293h1v2h-1z"/>
<path fill="#ff1414" d="M0 68h1v1h-1zM3 96h1v1h-1zM5 166h1v1h-1zM6 53h1v1h-1zM9 0h1v3h-1zM11 17h1v1h-1zM11 19h1v2h-1zM11 24h1v1h-1zM11 26h1v1h-1zM11 30h1v2h-1zM12 308h1v1h-1zM12 313h1v1h-1zM12 316h1v2h-1zM13 319h1v4h-1zM19 40h1v2h-1zM21 245h1v1h-1zM22 254h1v1h-1zM22 372h1v1h-1zM22 376h1v2h-1zM22 384h1v1h-1zM23 283h1v1h-1zM23 292h1v1h-1z"/>
<path fill="#ff8f8f" d="M0 69h1v1h-1zM0 72h1v1h-1zM1 178h1v2h-1zM2 205h1v3h-1zM2 214h1v2h-1zM2 227h1v1h-1zM2 238h1v1h-1zM3 99h1v1h-1zM3 101h1v1h-1zM5 119h1v1h-1zM5 126h1v1h-1zM5 133h1v2h-1zM5 136h1v1h-1zM5 142h1v2h-1zM5 145h1v1h-1zM5 190h1v4h-1zM5 195h1v1h-1zM5 199h1v4h-1zM5 204h1v1h-1zM5 213h1v1h-1zM5 219h1v1h-1zM5 222h1v1h-1zM5 224h1v3h-1zM5 228h1v1h-1zM5 230h1v1h-1zM5 233h1v1h-1zM5 238h1v1h-1zM5 242h1v1h-1zM6 113h1v1h-1zM6 115h1v2h-1zM6 133h1v1h-1zM6 135h1v2h-1zM6 143h1v2h-1zM6 146h1v1h-1zM8 89h1v1h-1zM10 57h1v1h-1zM10 59h1v2h-1zM10 69h1v1h-1zM10 71h1v1h-1zM10 73h1v2h-1zM12 518h1v1h-1zM12 520h1v2h-1zM12 526h1v1h-1zM12 561h1v1h-1zM12 578h1v1h-1zM12 580h1v3h-1zM12 584h1v1h-1zM12 587h1v1h-1zM12 592h1v2h-1zM12 599h1v1h-1zM12 603h1v2h-1zM12 607h1v1h-1zM12 612h1v2h-1zM13 518h1v1h-1zM13 521h1v1h-1zM14 522h1v1h-1zM14 527h1v1h-1zM14 533h1v2h-1zM14 538h1v1h-1zM14 542h1v1h-1zM14 544h1v1h-1zM14 548h1v2h-1zM14 551h1v1h-1zM14 554h1v1h-1zM15 427h1v1h-1zM15 432h1v1h-1zM16 255h1v4h-1zM16 263h1v1h-1zM16 423h1v1h-1zM16 427h1v1h-1zM16 431h1v1h-1zM17 336h1v1h-1zM17 369h1v1h-1zM17 375h1v1h-1zM17 384h1v1h-1zM17 419h1v4h-1zM17 433h1v1h-1zM18 447h1v1h-1zM18 462h1v1h-1zM20 284h1v1h-1zM22 385h1v1h-1zM22 418h1v1h-1zM22 420h1v2h-1zM23 299h1v3h-1zM23 466h1v2h-1zM23 469h1v1h-1zM23 480h1v1h-1zM23 491h1v2h-1zM23 495h1v1h-1z"/>
<path fill="#ff9999" d="M0 70h1v1h-1zM0 73h1v2h-1zM2 208h1v5h-1zM2 216h1v5h-1zM2 228h1v1h-1zM2 234h1v1h-1zM2 236h1v2h-1zM2 240h1v1h-1zM2 242h1v2h-1zM3 95h1v1h-1zM3 100h1v1h-1zM3 102h1v2h-1zM5 42h1v1h-1zM5 118h1v1h-1zM5 120h1v1h-1zM5 127h1v2h-1zM5 135h1v1h-1zM5 137h1v1h-1zM5 141h1v1h-1zM5 144h1v1h-1zM5 146h1v1h-1zM5 194h1v1h-1zM5 196h1v1h-1zM5 203h1v1h-1zM5 223h1v1h-1zM5 231h1v2h-1zM5 234h1v1h-1zM5 236h1v2h-1zM6 112h1v1h-1zM6 114h1v1h-1zM6 117h1v3h-1zM6 127h1v3h-1zM6 134h1v1h-1zM6 141h1v2h-1zM6 145h1v1h-1zM8 90h1v1h-1zM8 93h1v2h-1zM10 63h1v1h-1zM10 66h1v3h-1zM12 519h1v1h-1zM12 556h1v3h-1zM12 563h1v3h-1zM12 574h1v2h-1zM12 579h1v1h-1zM12 583h1v1h-1zM12 585h1v2h-1zM12 588h1v1h-1zM12 594h1v1h-1zM12 600h1v3h-1zM12 611h1v1h-1zM13 519h1v2h-1zM13 525h1v1h-1zM14 340h1v1h-1zM14 523h1v1h-1zM14 525h1v2h-1zM14 528h1v1h-1zM14 532h1v1h-1zM14 540h1v2h-1zM14 543h1v1h-1zM14 546h1v2h-1zM14 550h1v1h-1zM14 553h1v1h-1zM15 422h1v2h-1zM15 428h1v4h-1zM16 264h1v2h-1zM16 422h1v1h-1zM16 429h1v2h-1zM16 432h1v1h-1zM17 335h1v1h-1zM17 337h1v1h-1zM17 370h1v1h-1zM17 374h1v1h-1zM17 377h1v5h-1zM17 418h1v1h-1zM17 424h1v3h-1zM17 434h1v2h-1zM18 441h1v1h-1zM18 445h1v2h-1zM18 449h1v5h-1zM20 278h1v6h-1zM20 285h1v1h-1zM22 371h1v1h-1zM22 419h1v1h-1zM22 424h1v3h-1zM22 433h1v3h-1zM23 50h1v2h-1zM23 478h1v2h-1zM23 481h1v1h-1zM23 493h1v1h-1z"/>
<path fill="#ff8585" d="M0 71h1v1h-1zM2 231h1v1h-1zM10 58h1v1h-1zM10 61h1v2h-1zM10 70h1v1h-1zM12 560h1v1h-1zM12 605h1v2h-1zM17 334h1v1h-1zM17 376h1v1h-1zM23 468h1v1h-1zM23 494h1v1h-1zM23 499h1v1h-1z"/>
<path fill="#ffffff" d="M0 107h1v3h-1zM0 111h1v2h-1zM0 117h1v3h-1zM0 126h1v1h-1zM0 131h1v1h-1zM0 133h1v1h-1zM0 135h1v1h-1zM0 137h1v1h-1zM0 143h1v1h-1zM1 610h1v1h-1zM3 153h1v1h-1zM3 159h1v1h-1zM3 194h1v2h-1zM3 201h1v1h-1zM3 203h1v2h-1zM3 221h1v4h-1zM3 226h1v1h-1zM4 232h1v2h-1zM5 32h1v2h-1zM5 35h1v1h-1zM5 313h1v1h-1zM5 315h1v3h-1zM5 609h1v1h-1zM6 609h1v1h-1zM11 37h1v1h-1zM11 231h1v3h-1zM13 609h1v2h-1zM14 39h1v3h-1zM14 341h1v3h-1zM14 348h1v1h-1zM14 352h1v1h-1zM14 356h1v1h-1zM14 609h1v2h-1zM15 90h1v2h-1zM15 93h1v2h-1zM15 500h1v1h-1zM16 585h1v3h-1zM16 591h1v1h-1zM16 594h1v1h-1zM18 427h1v1h-1zM18 429h1v1h-1zM18 431h1v2h-1zM19 33h1v1h-1zM19 35h1v1h-1zM19 498h1v2h-1zM19 609h1v2h-1zM20 609h1v2h-1zM21 498h1v1h-1zM22 610h1v1h-1z"/>
<path fill="#ffb8b8" d="M0 168h1v2h-1zM0 180h1v1h-1zM0 206h1v1h-1zM0 208h1v1h-1zM0 241h1v1h-1zM1 7h1v1h-1zM1 10h1v2h-1zM1 78h1v1h-1zM1 81h1v2h-1zM1 185h1v1h-1zM1 188h1v2h-1zM1 206h1v2h-1zM1 215h1v1h-1zM1 218h1v1h-1zM1 226h1v1h-1zM2 168h1v2h-1zM2 182h1v1h-1zM2 184h1v2h-1zM2 188h1v3h-1zM2 192h1v2h-1zM2 200h1v1h-1zM2 225h1v1h-1zM2 229h1v2h-1zM3 7h1v2h-1zM3 10h1v1h-1zM3 123h1v2h-1zM3 138h1v1h-1zM5 123h1v1h-1zM5 183h1v1h-1zM5 185h1v1h-1zM5 188h1v1h-1zM5 206h1v1h-1zM5 214h1v2h-1zM5 217h1v1h-1zM5 229h1v1h-1zM5 272h1v1h-1zM6 62h1v1h-1zM6 73h1v1h-1zM6 78h1v1h-1zM6 80h1v1h-1zM6 87h1v1h-1zM7 147h1v2h-1zM8 147h1v2h-1zM9 147h1v1h-1zM11 13h1v1h-1zM11 88h1v1h-1zM11 106h1v1h-1zM12 43h1v1h-1zM12 47h1v1h-1zM12 326h1v1h-1zM12 529h1v2h-1zM12 552h1v1h-1zM12 555h1v1h-1zM12 591h1v1h-1zM12 595h1v1h-1zM12 597h1v2h-1zM12 608h1v1h-1zM13 532h1v1h-1zM13 543h1v1h-1zM13 553h1v2h-1zM13 588h1v1h-1zM14 309h1v1h-1zM14 334h1v1h-1zM14 336h1v1h-1zM14 504h1v2h-1zM14 514h1v1h-1zM14 536h1v1h-1zM14 539h1v1h-1zM15 395h1v2h-1zM15 414h1v1h-1zM15 420h1v1h-1zM15 537h1v1h-1zM15 542h1v1h-1zM15 548h1v1h-1zM15 553h1v2h-1zM15 581h1v1h-1zM16 334h1v3h-1zM16 411h1v1h-1zM17 373h1v1h-1zM17 414h1v1h-1zM18 7h1v1h-1zM18 11h1v1h-1zM18 265h1v2h-1zM18 307h1v1h-1zM18 343h1v1h-1zM18 360h1v1h-1zM18 439h1v1h-1zM18 460h1v1h-1zM18 463h1v2h-1zM18 468h1v1h-1zM18 505h1v1h-1zM18 538h1v1h-1zM18 543h1v1h-1zM18 547h1v4h-1zM18 553h1v2h-1zM18 584h1v1h-1zM18 587h1v1h-1zM18 607h1v1h-1zM19 304h1v1h-1zM19 306h1v2h-1zM19 440h1v1h-1zM19 459h1v2h-1zM19 463h1v1h-1zM20 306h1v1h-1zM20 345h1v1h-1zM20 357h1v1h-1zM20 360h1v2h-1zM20 363h1v1h-1zM20 494h1v2h-1zM21 288h1v2h-1zM21 291h1v1h-1zM21 307h1v1h-1zM21 459h1v2h-1zM22 287h1v5h-1zM22 464h1v1h-1zM22 468h1v2h-1zM22 482h1v1h-1zM22 491h1v1h-1zM22 495h1v1h-1zM23 267h1v1h-1zM23 287h1v1h-1zM23 289h1v2h-1zM23 305h1v1h-1zM23 307h1v1h-1zM23 475h1v1h-1zM23 484h1v1h-1zM23 487h1v1h-1zM23 496h1v1h-1zM23 502h1v1h-1zM23 514h1v1h-1z"/>
<path fill="#ffc2c2" d="M0 172h1v2h-1zM0 176h1v1h-1zM0 181h1v1h-1zM0 186h1v2h-1zM0 190h1v2h-1zM0 205h1v1h-1zM0 207h1v1h-1zM0 209h1v3h-1zM0 214h1v2h-1zM0 217h1v2h-1zM0 221h1v1h-1zM0 227h1v4h-1zM0 234h1v1h-1zM0 237h1v2h-1zM0 242h1v1h-1zM1 8h1v2h-1zM1 79h1v1h-1zM1 83h1v1h-1zM1 85h1v2h-1zM1 171h1v2h-1zM1 174h1v1h-1zM1 176h1v1h-1zM1 203h1v3h-1zM1 210h1v5h-1zM1 216h1v2h-1zM1 219h1v1h-1zM1 222h1v4h-1zM1 232h1v1h-1zM2 95h1v2h-1zM2 99h1v2h-1zM2 102h1v5h-1zM2 110h1v1h-1zM2 115h1v1h-1zM2 171h1v4h-1zM2 176h1v3h-1zM2 181h1v1h-1zM2 183h1v1h-1zM2 186h1v1h-1zM2 191h1v1h-1zM2 194h1v2h-1zM2 201h1v4h-1zM2 213h1v1h-1zM2 221h1v1h-1zM2 223h1v1h-1zM2 226h1v1h-1zM2 239h1v1h-1zM3 89h1v1h-1zM3 121h1v2h-1zM3 125h1v1h-1zM3 130h1v4h-1zM3 139h1v2h-1zM5 40h1v1h-1zM5 122h1v1h-1zM5 124h1v2h-1zM5 130h1v1h-1zM5 132h1v1h-1zM5 138h1v2h-1zM5 171h1v1h-1zM5 174h1v6h-1zM5 205h1v1h-1zM5 207h1v1h-1zM5 212h1v1h-1zM5 216h1v1h-1zM5 218h1v1h-1zM5 220h1v2h-1zM5 227h1v1h-1zM5 235h1v1h-1zM5 241h1v1h-1zM5 264h1v1h-1zM5 270h1v1h-1zM5 273h1v3h-1zM6 63h1v1h-1zM6 66h1v1h-1zM6 72h1v1h-1zM6 74h1v1h-1zM6 76h1v1h-1zM6 79h1v1h-1zM6 84h1v1h-1zM6 88h1v1h-1zM6 94h1v1h-1zM6 105h1v2h-1zM6 108h1v4h-1zM6 121h1v5h-1zM6 130h1v3h-1zM6 137h1v4h-1zM7 153h1v1h-1zM7 159h1v1h-1zM8 153h1v1h-1zM9 120h1v1h-1zM9 122h1v4h-1zM9 130h1v3h-1zM9 138h1v4h-1zM9 148h1v10h-1zM10 39h1v1h-1zM10 89h1v1h-1zM10 148h1v5h-1zM10 155h1v3h-1zM11 12h1v1h-1zM11 87h1v1h-1zM11 104h1v2h-1zM11 110h1v1h-1zM11 113h1v1h-1zM12 44h1v1h-1zM12 46h1v1h-1zM12 320h1v4h-1zM12 331h1v2h-1zM12 527h1v2h-1zM12 531h1v1h-1zM12 545h1v1h-1zM12 547h1v1h-1zM12 559h1v1h-1zM12 562h1v1h-1zM12 567h1v4h-1zM12 590h1v1h-1zM12 596h1v1h-1zM13 526h1v3h-1zM13 533h1v2h-1zM13 537h1v3h-1zM13 542h1v1h-1zM13 544h1v1h-1zM13 547h1v5h-1zM13 556h1v1h-1zM13 559h1v2h-1zM13 578h1v10h-1zM13 591h1v2h-1zM13 594h1v1h-1zM14 310h1v3h-1zM14 318h1v1h-1zM14 320h1v1h-1zM14 327h1v1h-1zM14 333h1v1h-1zM14 335h1v1h-1zM14 499h1v1h-1zM14 502h1v2h-1zM14 506h1v2h-1zM14 509h1v5h-1zM14 518h1v4h-1zM14 529h1v3h-1zM14 537h1v1h-1zM14 545h1v1h-1zM14 552h1v1h-1zM14 577h1v1h-1zM14 584h1v2h-1zM14 587h1v2h-1zM14 591h1v4h-1zM15 253h1v2h-1zM15 386h1v1h-1zM15 391h1v2h-1zM15 397h1v2h-1zM15 411h1v3h-1zM15 415h1v3h-1zM15 421h1v1h-1zM15 424h1v3h-1zM15 433h1v3h-1zM15 532h1v3h-1zM15 539h1v1h-1zM15 543h1v2h-1zM15 546h1v1h-1zM15 549h1v3h-1zM15 566h1v1h-1zM15 578h1v3h-1zM15 582h1v7h-1zM15 593h1v2h-1zM16 338h1v1h-1zM16 371h1v2h-1zM16 382h1v2h-1zM16 386h1v1h-1zM16 388h1v2h-1zM16 395h1v2h-1zM16 398h1v1h-1zM16 413h1v3h-1zM16 417h1v1h-1zM16 419h1v3h-1zM16 424h1v1h-1zM16 433h1v3h-1zM17 338h1v1h-1zM17 340h1v1h-1zM17 372h1v1h-1zM17 383h1v1h-1zM17 386h1v1h-1zM17 389h1v1h-1zM17 391h1v1h-1zM17 394h1v6h-1zM17 412h1v2h-1zM17 423h1v1h-1zM17 427h1v6h-1zM18 8h1v3h-1zM18 32h1v2h-1zM18 35h1v1h-1zM18 259h1v1h-1zM18 261h1v3h-1zM18 269h1v1h-1zM18 271h1v5h-1zM18 302h1v1h-1zM18 304h1v1h-1zM18 341h1v2h-1zM18 436h1v3h-1zM18 440h1v1h-1zM18 448h1v1h-1zM18 456h1v2h-1zM18 459h1v1h-1zM18 461h1v1h-1zM18 466h1v1h-1zM18 478h1v4h-1zM18 491h1v5h-1zM18 502h1v3h-1zM18 506h1v4h-1zM18 511h1v4h-1zM18 532h1v1h-1zM18 534h1v1h-1zM18 537h1v1h-1zM18 544h1v1h-1zM18 556h1v3h-1zM18 560h1v1h-1zM18 566h1v1h-1zM18 578h1v4h-1zM18 583h1v1h-1zM18 586h1v1h-1zM18 588h1v1h-1zM18 591h1v1h-1zM18 615h1v1h-1zM19 303h1v1h-1zM19 305h1v1h-1zM19 438h1v2h-1zM19 442h1v1h-1zM19 444h1v1h-1zM19 448h1v1h-1zM19 457h1v2h-1zM19 461h1v1h-1zM20 297h1v1h-1zM20 302h1v4h-1zM20 344h1v1h-1zM20 349h1v2h-1zM20 353h1v4h-1zM20 358h1v1h-1zM20 362h1v1h-1zM20 448h1v1h-1zM20 455h1v3h-1zM20 459h1v3h-1zM20 463h1v1h-1zM20 466h1v3h-1zM20 472h1v1h-1zM20 479h1v3h-1zM20 492h1v1h-1zM21 287h1v1h-1zM21 290h1v1h-1zM21 295h1v1h-1zM21 304h1v3h-1zM21 448h1v1h-1zM21 457h1v1h-1zM21 461h1v1h-1zM22 286h1v1h-1zM22 294h1v1h-1zM22 423h1v1h-1zM22 427h1v2h-1zM22 431h1v2h-1zM22 449h1v2h-1zM22 453h1v1h-1zM22 466h1v1h-1zM22 478h1v4h-1zM22 492h1v1h-1zM22 494h1v1h-1zM23 276h1v1h-1zM23 286h1v1h-1zM23 288h1v1h-1zM23 302h1v1h-1zM23 304h1v1h-1zM23 306h1v1h-1zM23 448h1v1h-1zM23 454h1v1h-1zM23 456h1v1h-1zM23 458h1v5h-1zM23 465h1v1h-1zM23 470h1v3h-1zM23 474h1v1h-1zM23 476h1v2h-1zM23 483h1v1h-1zM23 485h1v2h-1zM23 488h1v3h-1zM23 497h1v1h-1zM23 503h1v11h-1z"/>
<path fill="#ffadad" d="M0 192h1v1h-1zM0 231h1v2h-1zM1 169h1v1h-1zM1 183h1v1h-1zM2 170h1v1h-1zM2 180h1v1h-1zM2 199h1v1h-1zM3 11h1v1h-1zM5 189h1v1h-1zM5 197h1v1h-1zM5 271h1v1h-1zM13 577h1v1h-1zM14 308h1v1h-1zM15 577h1v1h-1zM16 364h1v1h-1zM18 264h1v1h-1zM18 469h1v1h-1zM18 482h1v1h-1zM18 498h1v3h-1zM18 610h1v1h-1zM20 307h1v1h-1zM20 469h1v1h-1zM20 482h1v1h-1zM20 498h1v3h-1zM22 498h1v3h-1zM23 277h1v1h-1z"/>
<path fill="#ffa3a3" d="M0 233h1v1h-1zM1 177h1v1h-1zM5 129h1v1h-1zM5 198h1v1h-1zM5 239h1v1h-1zM5 243h1v1h-1zM6 120h1v1h-1zM6 126h1v1h-1zM8 91h1v2h-1zM10 64h1v2h-1zM10 72h1v1h-1zM12 566h1v1h-1zM12 609h1v2h-1zM14 339h1v1h-1zM16 428h1v1h-1zM18 609h1v1h-1zM22 422h1v1h-1z"/>
<path fill="#8585ff" d="M0 252h1v1h-1zM0 278h1v1h-1zM0 297h1v1h-1zM0 393h1v1h-1zM0 523h1v2h-1zM0 562h1v2h-1zM1 251h1v1h-1zM1 280h1v1h-1zM1 292h1v1h-1zM1 296h1v3h-1zM1 339h1v1h-1zM1 359h1v1h-1zM1 377h1v1h-1zM1 478h1v1h-1zM1 525h1v1h-1zM1 565h1v1h-1zM2 251h1v1h-1zM2 263h1v3h-1zM2 296h1v3h-1zM2 525h1v1h-1zM2 540h1v1h-1zM2 576h1v1h-1zM3 293h1v2h-1zM3 296h1v1h-1zM3 298h1v1h-1zM3 318h1v3h-1zM3 328h1v2h-1zM3 333h1v1h-1zM3 358h1v1h-1zM3 378h1v3h-1zM3 392h1v1h-1zM3 524h1v1h-1zM3 585h1v1h-1zM4 37h1v2h-1zM4 41h1v1h-1zM4 50h1v2h-1zM4 257h1v2h-1zM4 294h1v1h-1zM4 296h1v1h-1zM4 298h1v1h-1zM4 302h1v1h-1zM4 325h1v1h-1zM4 329h1v1h-1zM4 335h1v2h-1zM4 362h1v1h-1zM4 370h1v1h-1zM4 454h1v1h-1zM4 501h1v1h-1zM4 503h1v2h-1zM4 524h1v2h-1zM4 546h1v1h-1zM4 599h1v1h-1zM4 601h1v2h-1zM4 605h1v1h-1zM4 612h1v3h-1zM5 268h1v1h-1zM5 293h1v2h-1zM5 296h1v2h-1zM5 523h1v2h-1zM5 562h1v1h-1zM6 196h1v1h-1zM6 198h1v1h-1zM6 398h1v1h-1zM6 437h1v1h-1zM6 523h1v1h-1zM6 525h1v1h-1zM6 565h1v1h-1zM7 206h1v3h-1zM7 212h1v1h-1zM7 216h1v5h-1zM7 227h1v1h-1zM7 320h1v1h-1zM7 329h1v1h-1zM7 379h1v1h-1zM7 502h1v1h-1zM7 504h1v3h-1zM7 523h1v1h-1zM7 584h1v2h-1zM7 587h1v5h-1zM7 593h1v3h-1zM7 607h1v2h-1zM7 615h1v2h-1zM8 9h1v1h-1zM8 38h1v1h-1zM8 168h1v2h-1zM8 173h1v1h-1zM8 181h1v2h-1zM8 186h1v2h-1zM8 259h1v1h-1zM8 261h1v1h-1zM8 263h1v1h-1zM8 265h1v2h-1zM8 328h1v1h-1zM8 341h1v1h-1zM8 343h1v1h-1zM8 352h1v1h-1zM8 369h1v1h-1zM8 424h1v1h-1zM8 454h1v1h-1zM8 501h1v1h-1zM8 503h1v3h-1zM8 566h1v1h-1zM8 570h1v1h-1zM8 572h1v1h-1zM8 599h1v4h-1zM8 604h1v1h-1zM8 611h1v4h-1zM9 40h1v1h-1zM9 42h1v1h-1zM9 171h1v1h-1zM9 174h1v2h-1zM9 177h1v1h-1zM9 190h1v2h-1zM9 193h1v3h-1zM9 322h1v2h-1zM9 330h1v2h-1zM9 334h1v1h-1zM9 336h1v1h-1zM9 338h1v1h-1zM9 345h1v2h-1zM9 349h1v3h-1zM9 353h1v1h-1zM9 365h1v1h-1zM9 378h1v1h-1zM9 429h1v1h-1zM9 501h1v2h-1zM9 504h1v1h-1zM9 507h1v1h-1zM9 524h1v1h-1zM9 609h1v2h-1zM10 33h1v1h-1zM10 196h1v1h-1zM10 198h1v1h-1zM10 282h1v1h-1zM10 293h1v1h-1zM10 347h1v1h-1zM10 454h1v1h-1zM10 497h1v1h-1zM10 524h1v2h-1zM10 570h1v1h-1zM10 576h1v1h-1zM11 170h1v1h-1zM11 173h1v1h-1zM11 181h1v2h-1zM11 196h1v1h-1zM11 260h1v2h-1zM11 263h1v2h-1zM11 266h1v1h-1zM11 341h1v3h-1zM11 348h1v2h-1zM11 351h1v2h-1zM11 356h1v1h-1zM11 379h1v1h-1zM11 392h1v1h-1zM11 426h1v1h-1zM11 501h1v1h-1zM11 523h1v1h-1zM11 525h1v1h-1zM11 601h1v1h-1zM11 603h1v1h-1zM11 606h1v1h-1zM11 608h1v1h-1zM11 611h1v4h-1zM12 75h1v2h-1zM12 78h1v3h-1zM12 128h1v2h-1zM12 174h1v2h-1zM12 177h1v1h-1zM12 179h1v1h-1zM12 196h1v2h-1zM12 217h1v1h-1zM12 240h1v1h-1zM12 267h1v4h-1zM12 272h1v2h-1zM12 286h1v1h-1zM12 288h1v3h-1zM12 294h1v5h-1zM12 378h1v1h-1zM13 48h1v1h-1zM13 55h1v1h-1zM13 63h1v1h-1zM13 75h1v1h-1zM13 77h1v2h-1zM13 129h1v1h-1zM13 171h1v2h-1zM13 177h1v3h-1zM13 183h1v1h-1zM13 196h1v3h-1zM13 243h1v1h-1zM13 269h1v1h-1zM13 271h1v2h-1zM14 75h1v2h-1zM14 78h1v1h-1zM14 127h1v1h-1zM14 197h1v2h-1zM14 267h1v1h-1zM14 269h1v7h-1zM14 296h1v2h-1zM15 3h1v1h-1zM15 5h1v3h-1zM15 9h1v1h-1zM15 51h1v1h-1zM15 75h1v1h-1zM15 78h1v1h-1zM15 127h1v1h-1zM15 150h1v6h-1zM15 157h1v3h-1zM15 196h1v1h-1zM15 234h1v1h-1zM15 267h1v1h-1zM15 269h1v2h-1zM15 274h1v1h-1zM15 296h1v1h-1zM16 37h1v1h-1zM16 51h1v1h-1zM16 75h1v1h-1zM16 78h1v2h-1zM16 148h1v8h-1zM16 157h1v1h-1zM16 197h1v2h-1zM16 269h1v1h-1zM16 272h1v1h-1zM16 274h1v2h-1zM16 296h1v3h-1zM17 39h1v1h-1zM17 76h1v1h-1zM17 78h1v1h-1zM17 171h1v2h-1zM17 174h1v1h-1zM17 176h1v4h-1zM17 184h1v1h-1zM17 188h1v1h-1zM17 202h1v1h-1zM17 205h1v2h-1zM17 211h1v4h-1zM17 218h1v1h-1zM17 221h1v3h-1zM17 226h1v2h-1zM17 260h1v4h-1zM17 265h1v3h-1zM17 269h1v2h-1zM17 273h1v1h-1zM17 276h1v1h-1zM17 297h1v2h-1zM17 324h1v1h-1zM17 327h1v1h-1zM18 147h1v1h-1zM18 151h1v2h-1zM18 156h1v2h-1zM18 159h1v1h-1zM19 9h1v1h-1zM19 51h1v1h-1zM19 89h1v2h-1zM19 93h1v2h-1zM19 197h1v1h-1zM19 311h1v2h-1zM20 219h1v1h-1zM21 37h1v2h-1zM21 47h1v1h-1zM21 89h1v1h-1zM21 93h1v2h-1zM21 158h1v1h-1zM21 196h1v1h-1zM21 198h1v1h-1zM21 310h1v5h-1zM21 316h1v1h-1zM22 172h1v1h-1zM22 175h1v1h-1zM22 177h1v2h-1zM22 189h1v1h-1zM22 196h1v1h-1zM22 198h1v1h-1zM22 202h1v9h-1zM22 212h1v3h-1zM22 216h1v2h-1zM22 220h1v1h-1zM22 222h1v3h-1zM22 226h1v1h-1zM22 525h1v1h-1zM23 37h1v2h-1zM23 41h1v1h-1zM23 64h1v1h-1zM23 76h1v1h-1zM23 209h1v1h-1zM23 335h1v1h-1zM23 345h1v2h-1zM23 349h1v3h-1zM23 353h1v1h-1zM23 355h1v3h-1zM23 525h1v1h-1z"/>
<path fill="#3d3dff" d="M1 32h1v1h-1zM7 171h1v2h-1zM7 178h1v1h-1zM7 185h1v1h-1zM7 188h1v1h-1zM7 259h1v1h-1zM7 263h1v3h-1zM7 349h1v1h-1zM7 354h1v1h-1zM10 7h1v2h-1zM10 11h1v1h-1zM11 346h1v1h-1zM17 361h1v1h-1z"/>
<path fill="#3333ff" d="M1 33h1v1h-1zM1 36h1v1h-1zM7 174h1v1h-1zM7 176h1v2h-1zM7 179h1v1h-1zM7 260h1v3h-1zM7 266h1v1h-1zM7 348h1v1h-1zM7 350h1v4h-1zM10 9h1v1h-1zM11 347h1v1h-1zM17 360h1v1h-1z"/>
<path fill="#4747ff" d="M1 34h1v2h-1zM7 189h1v1h-1zM10 10h1v1h-1z"/>
<path fill="#6666ff" d="M1 75h1v1h-1zM4 260h1v1h-1zM7 43h1v1h-1zM7 168h1v1h-1zM7 182h1v1h-1zM7 186h1v2h-1zM7 190h1v2h-1zM7 198h1v1h-1zM7 201h1v1h-1zM7 213h1v1h-1zM7 215h1v1h-1zM7 221h1v1h-1zM7 223h1v2h-1zM7 258h1v1h-1zM7 270h1v1h-1zM7 277h1v1h-1zM7 342h1v2h-1zM7 346h1v2h-1zM7 357h1v1h-1zM7 599h1v1h-1zM7 602h1v1h-1zM7 612h1v1h-1zM7 614h1v1h-1zM8 175h1v1h-1zM8 177h1v3h-1zM8 184h1v1h-1zM8 344h1v3h-1zM8 349h1v3h-1zM8 354h1v2h-1zM9 173h1v1h-1zM9 182h1v1h-1zM9 187h1v1h-1zM9 270h1v1h-1zM9 275h1v1h-1zM9 320h1v1h-1zM9 324h1v2h-1zM9 327h1v2h-1zM9 341h1v3h-1zM9 347h1v2h-1zM9 357h1v1h-1zM9 599h1v3h-1zM9 612h1v1h-1zM9 614h1v3h-1zM12 32h1v1h-1zM12 48h1v1h-1zM12 52h1v1h-1zM12 55h1v1h-1zM15 32h1v1h-1zM16 7h1v1h-1zM16 9h1v1h-1zM17 43h1v1h-1zM17 47h1v1h-1zM17 599h1v1h-1zM17 601h1v2h-1zM17 614h1v1h-1z"/>
<path fill="#7070ff" d="M1 76h1v1h-1zM2 32h1v1h-1zM2 34h1v1h-1zM4 259h1v1h-1zM4 261h1v2h-1zM4 265h1v2h-1zM7 45h1v2h-1zM7 170h1v1h-1zM7 173h1v1h-1zM7 181h1v1h-1zM7 183h1v1h-1zM7 192h1v4h-1zM7 200h1v1h-1zM7 202h1v3h-1zM7 222h1v1h-1zM7 225h1v2h-1zM7 255h1v2h-1zM7 271h1v6h-1zM7 341h1v1h-1zM7 344h1v2h-1zM7 355h1v2h-1zM7 501h1v1h-1zM7 601h1v1h-1zM7 603h1v4h-1zM7 611h1v1h-1zM7 613h1v1h-1zM8 170h1v3h-1zM8 174h1v1h-1zM8 183h1v1h-1zM8 185h1v1h-1zM8 188h1v1h-1zM8 353h1v1h-1zM8 356h1v1h-1zM9 37h1v2h-1zM9 41h1v1h-1zM9 176h1v1h-1zM9 180h1v2h-1zM9 186h1v1h-1zM9 196h1v1h-1zM9 271h1v1h-1zM9 273h1v2h-1zM9 319h1v1h-1zM9 329h1v1h-1zM9 352h1v1h-1zM9 602h1v7h-1zM9 611h1v1h-1zM9 613h1v1h-1zM12 33h1v3h-1zM12 49h1v1h-1zM12 53h1v2h-1zM12 56h1v1h-1zM15 33h1v2h-1zM15 36h1v1h-1zM16 8h1v1h-1zM16 11h1v1h-1zM16 76h1v1h-1zM17 35h1v2h-1zM17 38h1v1h-1zM17 41h1v1h-1zM17 45h1v1h-1zM17 77h1v1h-1zM17 603h1v4h-1zM17 611h1v2h-1zM19 92h1v1h-1zM23 44h1v2h-1z"/>
<path fill="#7a7aff" d="M1 80h1v1h-1zM2 33h1v1h-1zM2 35h1v1h-1zM2 261h1v1h-1zM3 325h1v1h-1zM3 327h1v1h-1zM4 255h1v1h-1zM4 264h1v1h-1zM4 337h1v1h-1zM4 502h1v1h-1zM4 600h1v1h-1zM4 615h1v2h-1zM7 44h1v1h-1zM7 169h1v1h-1zM7 180h1v1h-1zM7 184h1v1h-1zM7 199h1v1h-1zM7 209h1v3h-1zM7 257h1v1h-1zM7 324h1v2h-1zM7 327h1v2h-1zM7 503h1v1h-1zM7 592h1v1h-1zM8 189h1v1h-1zM8 347h1v2h-1zM8 502h1v1h-1zM8 507h1v1h-1zM8 615h1v2h-1zM9 168h1v3h-1zM9 179h1v1h-1zM9 197h1v2h-1zM9 272h1v1h-1zM9 332h1v2h-1zM9 337h1v1h-1zM9 339h1v2h-1zM9 344h1v1h-1zM9 503h1v1h-1zM9 505h1v1h-1zM11 187h1v1h-1zM11 262h1v1h-1zM11 344h1v2h-1zM11 350h1v1h-1zM11 357h1v1h-1zM11 599h1v1h-1zM11 602h1v1h-1zM11 615h1v2h-1zM12 77h1v1h-1zM12 172h1v1h-1zM12 287h1v1h-1zM12 292h1v2h-1zM13 76h1v1h-1zM13 79h1v1h-1zM13 174h1v2h-1zM13 268h1v1h-1zM13 270h1v1h-1zM13 274h1v1h-1zM14 77h1v1h-1zM14 79h1v1h-1zM14 268h1v1h-1zM14 277h1v1h-1zM15 4h1v1h-1zM15 35h1v1h-1zM15 76h1v2h-1zM15 79h1v1h-1zM15 149h1v1h-1zM15 156h1v1h-1zM15 268h1v1h-1zM15 273h1v1h-1zM15 275h1v1h-1zM16 10h1v1h-1zM16 77h1v1h-1zM16 156h1v1h-1zM16 158h1v2h-1zM16 196h1v1h-1zM16 268h1v1h-1zM16 270h1v1h-1zM17 37h1v1h-1zM17 40h1v1h-1zM17 44h1v1h-1zM17 46h1v1h-1zM17 75h1v1h-1zM17 79h1v1h-1zM17 175h1v1h-1zM17 208h1v3h-1zM17 216h1v1h-1zM17 219h1v2h-1zM17 224h1v1h-1zM17 268h1v1h-1zM17 274h1v1h-1zM17 325h1v1h-1zM17 328h1v2h-1zM17 358h1v1h-1zM17 608h1v1h-1zM18 150h1v1h-1zM18 154h1v1h-1zM18 158h1v1h-1zM19 91h1v1h-1zM21 90h1v3h-1zM21 315h1v1h-1zM22 174h1v1h-1zM22 179h1v1h-1zM22 211h1v1h-1zM22 218h1v2h-1zM22 221h1v1h-1zM23 337h1v2h-1zM23 344h1v1h-1zM23 354h1v1h-1z"/>
<path fill="#ff7070" d="M2 232h1v1h-1z"/>
<path fill="#ff7a7a" d="M2 233h1v1h-1zM12 577h1v1h-1zM23 482h1v1h-1zM23 498h1v1h-1zM23 500h1v1h-1z"/>
<path fill="#ff0a0a" d="M3 97h1v1h-1zM12 309h1v1h-1zM15 364h1v1h-1zM22 375h1v1h-1zM22 380h1v1h-1zM22 383h1v1h-1zM23 295h1v1h-1z"/>
<path fill="#5c5cff" d="M4 263h1v1h-1zM7 47h1v1h-1zM7 196h1v2h-1zM7 600h1v1h-1zM12 50h1v2h-1zM23 43h1v1h-1z"/>
<path fill="#2929ff" d="M7 175h1v1h-1z"/>
<path fill="#ff3333" d="M22 381h1v1h-1z"/>
</g>
<g transform="translate(738.5 755) scale(20.2458 1.5)" shape-rendering="crispEdges">
<path fill="#e0e0ff" d="M0 0h1v1h-1zM0 2h1v1h-1zM0 4h1v1h-1zM0 6h1v1h-1zM0 10h1v1h-1zM0 12h1v1h-1zM0 23h1v1h-1zM0 90h1v1h-1zM0 111h1v1h-1zM0 114h1v1h-1zM0 121h1v1h-1zM0 123h1v1h-1zM0 130h1v1h-1zM0 134h1v5h-1zM0 142h1v3h-1zM0 146h1v1h-1zM0 148h1v3h-1zM0 158h1v3h-1zM0 165h1v1h-1zM0 171h1v3h-1zM0 180h1v1h-1zM0 183h1v1h-1zM0 189h1v2h-1zM0 215h1v2h-1zM0 218h1v1h-1zM0 221h1v2h-1zM0 224h1v1h-1zM0 334h1v1h-1zM0 366h1v2h-1zM0 432h1v1h-1zM1 3h1v1h-1zM1 87h1v1h-1zM1 109h1v1h-1zM1 112h1v2h-1zM1 116h1v1h-1zM1 124h1v1h-1zM1 126h1v1h-1zM1 131h1v3h-1zM1 139h1v2h-1zM1 153h1v1h-1zM1 161h1v2h-1zM1 170h1v2h-1zM1 173h1v1h-1zM1 175h1v1h-1zM1 183h1v1h-1zM1 190h1v1h-1zM1 204h1v1h-1zM1 212h1v3h-1zM1 219h1v2h-1zM1 272h1v1h-1zM1 328h1v1h-1zM1 333h1v1h-1zM2 5h1v2h-1zM2 11h1v2h-1zM2 26h1v1h-1zM2 31h1v1h-1zM2 113h1v2h-1zM2 116h1v1h-1zM2 127h1v1h-1zM2 137h1v1h-1zM2 143h1v2h-1zM2 146h1v2h-1zM2 151h1v1h-1zM2 164h1v1h-1zM2 166h1v1h-1zM2 169h1v2h-1zM2 178h1v2h-1zM2 187h1v1h-1zM2 191h1v1h-1zM2 194h1v4h-1zM2 232h1v1h-1zM2 234h1v1h-1zM2 328h1v1h-1zM3 24h1v2h-1zM3 44h1v1h-1zM3 47h1v5h-1zM3 53h1v2h-1zM3 88h1v1h-1zM3 121h1v1h-1zM3 127h1v1h-1zM3 131h1v3h-1zM3 139h1v3h-1zM3 145h1v2h-1zM3 152h1v1h-1zM3 154h1v1h-1zM3 162h1v3h-1zM4 6h1v1h-1zM4 11h1v2h-1zM4 31h1v1h-1zM4 33h1v1h-1zM4 44h1v4h-1zM4 49h1v1h-1zM4 52h1v3h-1zM4 85h1v1h-1zM5 13h1v4h-1zM5 19h1v1h-1zM5 24h1v1h-1zM5 57h1v4h-1zM5 67h1v6h-1zM5 74h1v2h-1zM5 79h1v1h-1zM5 206h1v1h-1zM5 212h1v1h-1zM5 214h1v3h-1zM5 220h1v1h-1zM6 23h1v1h-1zM6 25h1v1h-1zM6 28h1v1h-1zM6 32h1v1h-1zM6 36h1v3h-1zM6 40h1v2h-1zM6 57h1v4h-1zM6 62h1v1h-1zM6 88h1v3h-1zM6 266h1v1h-1zM6 283h1v3h-1zM6 287h1v4h-1zM6 300h1v1h-1zM6 302h1v2h-1zM6 307h1v1h-1zM6 312h1v2h-1zM6 318h1v2h-1zM6 426h1v1h-1zM6 429h1v6h-1zM6 463h1v1h-1zM7 30h1v1h-1zM7 32h1v2h-1zM7 36h1v3h-1zM7 40h1v2h-1zM7 53h1v1h-1zM7 57h1v4h-1zM7 62h1v1h-1zM7 65h1v1h-1zM7 69h1v5h-1zM7 76h1v1h-1zM7 78h1v1h-1zM7 81h1v1h-1zM7 92h1v1h-1zM7 109h1v2h-1zM7 112h1v2h-1zM7 122h1v1h-1zM7 125h1v1h-1zM7 127h1v1h-1zM7 133h1v1h-1zM7 135h1v1h-1zM7 137h1v1h-1zM7 139h1v1h-1zM7 145h1v1h-1zM7 147h1v1h-1zM7 152h1v3h-1zM7 161h1v3h-1zM7 166h1v1h-1zM7 177h1v1h-1zM7 179h1v1h-1zM7 185h1v3h-1zM7 192h1v1h-1zM7 195h1v2h-1zM7 227h1v1h-1zM7 230h1v1h-1zM7 233h1v1h-1zM7 283h1v2h-1zM7 286h1v1h-1zM7 288h1v2h-1zM7 297h1v2h-1zM7 302h1v2h-1zM7 307h1v1h-1zM7 310h1v1h-1zM7 312h1v2h-1zM7 426h1v1h-1zM7 429h1v3h-1zM7 433h1v2h-1zM8 4h1v3h-1zM8 11h1v1h-1zM8 13h1v2h-1zM8 18h1v2h-1zM8 74h1v1h-1zM8 79h1v1h-1zM8 81h1v1h-1zM8 103h1v1h-1zM8 105h1v4h-1zM8 269h1v3h-1zM8 273h1v1h-1zM8 275h1v2h-1zM8 283h1v2h-1zM8 288h1v2h-1zM8 302h1v2h-1zM8 306h1v2h-1zM8 310h1v2h-1zM8 313h1v1h-1zM8 317h1v1h-1zM8 319h1v1h-1zM8 471h1v2h-1zM9 24h1v1h-1zM9 29h1v1h-1zM9 32h1v1h-1zM9 44h1v5h-1zM9 50h1v2h-1zM9 53h1v3h-1zM9 59h1v1h-1zM9 62h1v2h-1zM9 89h1v3h-1zM9 225h1v3h-1zM9 229h1v1h-1zM9 231h1v1h-1zM9 234h1v1h-1zM9 302h1v2h-1zM9 312h1v1h-1zM9 435h1v1h-1zM10 4h1v1h-1zM10 7h1v4h-1zM10 44h1v1h-1zM10 46h1v2h-1zM10 49h1v2h-1zM10 52h1v1h-1zM10 54h1v1h-1zM10 74h1v1h-1zM10 79h1v2h-1zM10 89h1v1h-1zM10 92h1v1h-1zM10 128h1v3h-1zM10 134h1v5h-1zM10 143h1v2h-1zM10 146h1v3h-1zM10 158h1v1h-1zM10 160h1v1h-1zM10 165h1v1h-1zM10 172h1v1h-1zM10 174h1v2h-1zM10 184h1v1h-1zM10 190h1v1h-1zM10 199h1v1h-1zM10 226h1v1h-1zM10 229h1v2h-1zM10 234h1v1h-1zM10 283h1v2h-1zM10 287h1v1h-1zM10 290h1v1h-1zM10 305h1v1h-1zM10 307h1v2h-1zM10 315h1v3h-1zM10 333h1v1h-1zM10 348h1v1h-1zM11 5h1v2h-1zM11 9h1v1h-1zM11 11h1v2h-1zM11 27h1v1h-1zM11 32h1v1h-1zM11 35h1v2h-1zM11 38h1v4h-1zM11 57h1v1h-1zM11 59h1v1h-1zM11 61h1v2h-1zM11 65h1v8h-1zM11 74h1v1h-1zM11 85h1v1h-1zM11 89h1v2h-1zM11 93h1v1h-1zM11 131h1v1h-1zM11 133h1v1h-1zM11 139h1v3h-1zM11 283h1v2h-1zM11 286h1v5h-1zM11 297h1v2h-1zM11 302h1v2h-1zM11 306h1v2h-1zM11 312h1v2h-1zM11 315h1v1h-1zM11 348h1v1h-1zM12 3h1v1h-1zM12 8h1v3h-1zM12 117h1v2h-1zM12 225h1v3h-1zM12 229h1v1h-1zM12 231h1v2h-1zM12 306h1v2h-1zM12 310h1v1h-1zM12 332h1v1h-1zM12 404h1v2h-1zM12 410h1v3h-1zM12 414h1v1h-1zM12 436h1v2h-1zM12 454h1v1h-1zM12 460h1v3h-1zM12 468h1v2h-1zM12 496h1v2h-1zM12 503h1v1h-1zM12 506h1v1h-1zM12 508h1v1h-1zM12 515h1v1h-1zM12 518h1v3h-1zM12 531h1v1h-1zM12 542h1v1h-1zM12 546h1v1h-1zM12 555h1v1h-1zM12 558h1v1h-1zM12 563h1v4h-1zM12 569h1v1h-1zM12 573h1v1h-1zM12 582h1v1h-1zM13 1h1v2h-1zM13 117h1v2h-1zM13 262h1v2h-1zM13 265h1v1h-1zM13 277h1v1h-1zM13 285h1v1h-1zM13 291h1v2h-1zM13 294h1v5h-1zM13 301h1v3h-1zM13 312h1v2h-1zM13 402h1v1h-1zM13 404h1v3h-1zM13 409h1v4h-1zM13 414h1v9h-1zM13 436h1v1h-1zM13 441h1v2h-1zM13 447h1v1h-1zM13 456h1v1h-1zM13 458h1v1h-1zM13 460h1v3h-1zM13 468h1v1h-1zM13 496h1v1h-1zM13 498h1v1h-1zM13 500h1v3h-1zM13 504h1v1h-1zM13 506h1v2h-1zM13 512h1v2h-1zM13 521h1v1h-1zM13 523h1v1h-1zM13 527h1v2h-1zM13 536h1v1h-1zM13 538h1v1h-1zM13 544h1v1h-1zM13 561h1v1h-1zM13 567h1v2h-1zM13 570h1v2h-1zM14 5h1v2h-1zM14 11h1v1h-1zM14 225h1v3h-1zM14 229h1v1h-1zM14 232h1v1h-1zM14 268h1v4h-1zM14 274h1v4h-1zM14 280h1v1h-1zM14 294h1v1h-1zM14 296h1v1h-1zM14 301h1v1h-1zM14 428h1v1h-1zM14 436h1v2h-1zM14 441h1v2h-1zM14 453h1v1h-1zM14 459h1v1h-1zM14 463h1v1h-1zM14 466h1v2h-1zM14 469h1v2h-1zM14 473h1v2h-1zM14 479h1v2h-1zM14 483h1v5h-1zM14 493h1v2h-1zM14 500h1v3h-1zM14 504h1v1h-1zM14 513h1v1h-1zM14 526h1v1h-1zM14 532h1v1h-1zM14 535h1v2h-1zM14 539h1v1h-1zM14 541h1v1h-1zM14 544h1v1h-1zM14 556h1v1h-1zM14 560h1v3h-1zM14 567h1v2h-1zM14 572h1v1h-1zM14 576h1v3h-1zM14 584h1v2h-1zM14 589h1v1h-1zM14 596h1v1h-1zM14 601h1v2h-1zM14 611h1v2h-1zM15 8h1v2h-1zM15 12h1v1h-1zM15 118h1v1h-1zM15 143h1v1h-1zM15 267h1v1h-1zM15 272h1v2h-1zM15 277h1v1h-1zM15 280h1v1h-1zM15 292h1v1h-1zM15 294h1v4h-1zM15 299h1v1h-1zM15 304h1v1h-1zM15 308h1v2h-1zM15 315h1v2h-1zM15 436h1v2h-1zM15 452h1v1h-1zM15 455h1v1h-1zM15 460h1v3h-1zM15 464h1v1h-1zM15 467h1v1h-1zM15 469h1v2h-1zM15 476h1v1h-1zM15 490h1v1h-1zM15 492h1v1h-1zM15 496h1v1h-1zM15 498h1v5h-1zM15 513h1v1h-1zM15 521h1v2h-1zM15 525h1v1h-1zM15 527h1v2h-1zM15 530h1v1h-1zM15 544h1v1h-1zM15 547h1v1h-1zM15 549h1v3h-1zM15 554h1v1h-1zM15 558h1v1h-1zM15 561h1v1h-1zM15 568h1v3h-1zM15 573h1v1h-1zM15 580h1v1h-1zM15 583h1v1h-1zM16 225h1v2h-1zM16 228h1v2h-1zM16 231h1v1h-1zM16 269h1v7h-1zM16 277h1v1h-1zM16 291h1v1h-1zM16 294h1v2h-1zM16 301h1v1h-1zM16 304h1v3h-1zM16 308h1v3h-1zM16 315h1v3h-1zM16 401h1v1h-1zM16 408h1v2h-1zM16 413h1v1h-1zM16 415h1v1h-1zM16 418h1v1h-1zM16 420h1v4h-1zM16 426h1v1h-1zM16 429h1v3h-1zM16 437h1v1h-1zM16 441h1v1h-1zM16 448h1v1h-1zM16 457h1v3h-1zM16 463h1v2h-1zM16 466h1v2h-1zM16 469h1v3h-1zM16 474h1v2h-1zM16 477h1v2h-1zM16 482h1v1h-1zM16 485h1v2h-1zM16 488h1v1h-1zM16 500h1v4h-1zM16 507h1v1h-1zM16 513h1v1h-1zM16 518h1v1h-1zM16 520h1v1h-1zM16 524h1v2h-1zM16 542h1v1h-1zM16 555h1v1h-1zM16 558h1v1h-1zM16 564h1v3h-1zM16 574h1v1h-1zM16 579h1v1h-1zM16 581h1v1h-1zM16 594h1v1h-1zM16 598h1v2h-1zM16 603h1v2h-1zM16 607h1v2h-1zM16 610h1v1h-1zM16 612h1v2h-1zM16 615h1v1h-1zM17 267h1v1h-1zM17 272h1v1h-1zM17 306h1v2h-1zM17 310h1v2h-1zM17 401h1v1h-1zM17 403h1v1h-1zM17 408h1v2h-1zM17 413h1v1h-1zM17 415h1v1h-1zM17 417h1v3h-1zM17 437h1v1h-1zM17 441h1v2h-1zM17 446h1v2h-1zM17 454h1v1h-1zM17 456h1v3h-1zM17 508h1v1h-1zM17 511h1v1h-1zM17 518h1v3h-1zM17 524h1v1h-1zM17 531h1v1h-1zM17 542h1v1h-1zM17 547h1v1h-1zM17 555h1v1h-1zM17 558h1v1h-1zM17 563h1v1h-1zM17 565h1v1h-1zM17 569h1v1h-1zM17 574h1v2h-1zM17 579h1v1h-1zM17 581h1v2h-1zM17 584h1v1h-1zM17 586h1v2h-1zM18 143h1v1h-1zM18 335h1v1h-1zM18 344h1v3h-1zM18 359h1v1h-1zM18 371h1v1h-1zM18 373h1v1h-1zM18 381h1v2h-1zM18 390h1v4h-1zM18 396h1v1h-1zM18 417h1v2h-1zM18 420h1v1h-1zM18 422h1v1h-1zM18 435h1v3h-1zM18 441h1v1h-1zM18 446h1v1h-1zM18 455h1v4h-1zM18 504h1v3h-1zM18 508h1v2h-1zM18 512h1v1h-1zM18 519h1v1h-1zM18 521h1v6h-1zM18 528h1v1h-1zM18 530h1v1h-1zM18 544h1v1h-1zM18 547h1v2h-1zM18 553h1v2h-1zM18 557h1v1h-1zM18 560h1v1h-1zM18 566h1v1h-1zM18 569h1v2h-1zM18 572h1v2h-1zM18 583h1v1h-1zM18 586h1v2h-1zM19 266h1v5h-1zM19 274h1v3h-1zM19 374h1v3h-1zM19 378h1v1h-1zM19 380h1v1h-1zM19 384h1v3h-1zM19 394h1v2h-1zM19 399h1v1h-1zM19 417h1v2h-1zM19 420h1v4h-1zM19 432h1v1h-1zM19 435h1v1h-1zM19 532h1v2h-1zM19 538h1v4h-1zM19 556h1v2h-1zM19 560h1v2h-1zM19 567h1v2h-1zM19 576h1v3h-1zM20 25h1v2h-1zM20 227h1v1h-1zM20 230h1v1h-1zM20 234h1v1h-1zM20 279h1v4h-1zM20 285h1v3h-1zM20 293h1v2h-1zM20 297h1v1h-1zM20 299h1v2h-1zM20 302h1v2h-1zM20 306h1v2h-1zM20 312h1v2h-1zM20 318h1v1h-1zM20 333h1v1h-1zM20 335h1v1h-1zM20 337h1v3h-1zM20 341h1v3h-1zM20 350h1v1h-1zM20 353h1v2h-1zM20 364h1v1h-1zM20 370h1v4h-1zM20 383h1v1h-1zM20 387h1v1h-1zM20 389h1v4h-1zM20 396h1v1h-1zM20 400h1v1h-1zM20 417h1v3h-1zM20 423h1v1h-1zM20 426h1v1h-1zM20 429h1v2h-1zM20 433h1v1h-1zM20 436h1v2h-1zM20 447h1v1h-1zM20 451h1v3h-1zM20 455h1v1h-1zM20 501h1v1h-1zM20 503h1v2h-1zM20 507h1v1h-1zM20 513h1v1h-1zM20 524h1v1h-1zM20 531h1v1h-1zM20 542h1v1h-1zM20 548h1v1h-1zM20 558h1v1h-1zM20 563h1v3h-1zM20 569h1v1h-1zM20 575h1v1h-1zM20 579h1v1h-1zM20 589h1v2h-1zM20 592h1v3h-1zM20 598h1v2h-1zM20 603h1v1h-1zM20 607h1v2h-1zM20 610h1v1h-1zM20 613h1v1h-1zM20 615h1v1h-1zM21 4h1v3h-1zM21 9h1v1h-1zM21 11h1v2h-1zM21 225h1v2h-1zM21 229h1v1h-1zM21 231h1v2h-1zM21 234h1v1h-1zM21 302h1v2h-1zM21 306h1v2h-1zM21 313h1v1h-1zM21 317h1v1h-1zM21 359h1v1h-1zM21 365h1v1h-1zM21 402h1v4h-1zM21 411h1v2h-1zM21 414h1v3h-1zM21 418h1v3h-1zM21 422h1v1h-1zM21 435h1v3h-1zM21 441h1v2h-1zM21 448h1v1h-1zM21 455h1v4h-1zM21 519h1v2h-1zM21 542h1v1h-1zM21 545h1v2h-1zM21 548h1v2h-1zM21 555h1v1h-1zM21 563h1v2h-1zM21 566h1v1h-1zM21 569h1v1h-1zM21 573h1v3h-1zM21 580h1v1h-1zM21 582h1v1h-1zM21 589h1v2h-1zM21 592h1v1h-1zM21 595h1v1h-1zM21 601h1v2h-1zM21 605h1v2h-1zM21 611h1v2h-1zM21 614h1v1h-1zM22 241h1v2h-1zM22 245h1v1h-1zM22 266h1v3h-1zM22 272h1v1h-1zM22 277h1v1h-1zM22 280h1v1h-1zM22 294h1v2h-1zM22 301h1v1h-1zM22 460h1v3h-1zM22 469h1v1h-1zM22 474h1v3h-1zM22 478h1v1h-1zM22 491h1v1h-1zM22 496h1v3h-1zM22 500h1v4h-1zM22 507h1v1h-1zM22 513h1v1h-1zM22 594h1v1h-1zM22 599h1v1h-1zM22 603h1v2h-1zM22 610h1v1h-1zM22 613h1v3h-1zM23 95h1v2h-1zM23 253h1v1h-1zM23 258h1v1h-1zM23 304h1v1h-1zM23 308h1v2h-1zM23 316h1v1h-1zM23 318h1v1h-1zM23 333h1v1h-1zM23 337h1v5h-1zM23 343h1v1h-1zM23 464h1v4h-1zM23 469h1v3h-1zM23 473h1v2h-1zM23 477h1v1h-1zM23 480h1v2h-1zM23 483h1v2h-1zM23 486h1v1h-1zM23 489h1v6h-1zM23 499h1v1h-1zM23 592h1v3h-1zM23 598h1v3h-1zM23 603h1v2h-1zM23 607h1v3h-1zM23 613h1v1h-1zM23 615h1v1h-1z"/>
<path fill="#ebebff" d="M0 1h1v1h-1zM0 11h1v1h-1zM0 25h1v1h-1zM0 109h1v2h-1zM0 217h1v1h-1zM0 223h1v1h-1zM0 333h1v1h-1zM0 365h1v1h-1zM1 81h1v1h-1zM1 155h1v3h-1zM1 163h1v2h-1zM1 172h1v1h-1zM1 334h1v1h-1zM2 109h1v4h-1zM2 132h1v1h-1zM2 177h1v1h-1zM2 225h1v1h-1zM3 43h1v1h-1zM3 45h1v1h-1zM3 155h1v3h-1zM3 333h1v2h-1zM4 26h1v1h-1zM4 48h1v1h-1zM5 61h1v1h-1zM5 76h1v2h-1zM5 80h1v2h-1zM5 213h1v1h-1zM6 27h1v1h-1zM6 35h1v1h-1zM6 61h1v1h-1zM6 306h1v1h-1zM6 311h1v1h-1zM6 314h1v1h-1zM7 27h1v2h-1zM7 54h1v1h-1zM7 61h1v1h-1zM7 77h1v1h-1zM7 91h1v1h-1zM7 141h1v1h-1zM7 146h1v1h-1zM7 155h1v3h-1zM7 164h1v1h-1zM7 178h1v1h-1zM7 285h1v1h-1zM7 314h1v1h-1zM8 75h1v1h-1zM8 95h1v1h-1zM8 104h1v1h-1zM8 314h1v1h-1zM8 318h1v1h-1zM9 25h1v1h-1zM9 27h1v2h-1zM9 49h1v1h-1zM9 60h1v2h-1zM9 64h1v1h-1zM9 313h1v2h-1zM9 333h1v2h-1zM10 43h1v1h-1zM10 48h1v1h-1zM10 75h1v1h-1zM10 159h1v1h-1zM10 171h1v1h-1zM10 173h1v1h-1zM10 225h1v1h-1zM10 286h1v1h-1zM10 289h1v1h-1zM10 304h1v1h-1zM10 319h1v1h-1zM10 347h1v1h-1zM10 349h1v1h-1zM11 28h1v1h-1zM11 37h1v1h-1zM11 58h1v1h-1zM11 60h1v1h-1zM11 76h1v1h-1zM11 79h1v1h-1zM11 91h1v2h-1zM11 132h1v1h-1zM11 145h1v2h-1zM11 311h1v1h-1zM11 314h1v1h-1zM11 317h1v3h-1zM11 347h1v1h-1zM11 349h1v1h-1zM12 2h1v1h-1zM12 304h1v1h-1zM12 311h1v1h-1zM12 314h1v1h-1zM12 317h1v3h-1zM12 331h1v1h-1zM12 407h1v1h-1zM12 451h1v2h-1zM12 464h1v1h-1zM12 491h1v1h-1zM12 504h1v1h-1zM12 507h1v1h-1zM12 514h1v1h-1zM13 0h1v1h-1zM13 282h1v1h-1zM13 293h1v1h-1zM13 319h1v1h-1zM13 407h1v1h-1zM13 457h1v1h-1zM13 505h1v1h-1zM13 540h1v1h-1zM13 553h1v2h-1zM13 556h1v1h-1zM13 572h1v1h-1zM14 286h1v1h-1zM14 291h1v3h-1zM14 295h1v1h-1zM14 476h1v1h-1zM14 481h1v1h-1zM14 488h1v2h-1zM14 492h1v1h-1zM14 505h1v1h-1zM14 527h1v1h-1zM14 540h1v1h-1zM14 552h1v1h-1zM14 590h1v2h-1zM14 595h1v1h-1zM14 597h1v1h-1zM15 7h1v1h-1zM15 117h1v1h-1zM15 120h1v2h-1zM15 278h1v1h-1zM15 285h1v1h-1zM15 291h1v1h-1zM15 293h1v1h-1zM15 301h1v1h-1zM15 305h1v1h-1zM15 310h1v1h-1zM15 451h1v1h-1zM15 468h1v1h-1zM15 491h1v1h-1zM15 495h1v1h-1zM15 497h1v1h-1zM15 526h1v1h-1zM15 545h1v1h-1zM15 552h1v2h-1zM16 25h1v2h-1zM16 121h1v2h-1zM16 293h1v1h-1zM16 419h1v1h-1zM16 433h1v2h-1zM16 476h1v1h-1zM16 491h1v2h-1zM16 495h1v1h-1zM16 600h1v1h-1zM17 317h1v1h-1zM17 319h1v1h-1zM17 435h1v1h-1zM17 514h1v1h-1zM17 545h1v1h-1zM18 347h1v1h-1zM18 419h1v1h-1zM18 503h1v1h-1zM18 514h1v1h-1zM18 527h1v1h-1zM18 550h1v3h-1zM18 575h1v1h-1zM19 271h1v1h-1zM19 397h1v1h-1zM19 552h1v2h-1zM20 124h1v2h-1zM20 225h1v1h-1zM20 229h1v1h-1zM20 278h1v1h-1zM20 310h1v1h-1zM20 314h1v1h-1zM20 340h1v1h-1zM20 393h1v1h-1zM20 421h1v1h-1zM20 500h1v1h-1zM20 502h1v1h-1zM20 545h1v1h-1zM20 600h1v1h-1zM20 614h1v1h-1zM21 314h1v1h-1zM21 406h1v2h-1zM21 591h1v1h-1zM21 596h1v2h-1zM22 10h1v1h-1zM22 243h1v2h-1zM22 291h1v2h-1zM22 490h1v1h-1zM22 492h1v1h-1zM22 495h1v1h-1zM22 598h1v1h-1zM22 600h1v1h-1zM22 607h1v2h-1zM23 143h1v1h-1zM23 305h1v1h-1zM23 342h1v1h-1zM23 475h1v2h-1zM23 495h1v1h-1z"/>
<path fill="#ffebeb" d="M0 3h1v1h-1zM0 167h1v2h-1zM1 118h1v3h-1zM1 128h1v1h-1zM1 130h1v1h-1zM1 137h1v1h-1zM1 142h1v1h-1zM2 30h1v1h-1zM2 33h1v1h-1zM2 128h1v3h-1zM2 149h1v1h-1zM2 174h1v1h-1zM2 176h1v1h-1zM2 180h1v1h-1zM2 188h1v2h-1zM2 199h1v1h-1zM3 147h1v1h-1zM3 150h1v1h-1zM3 174h1v1h-1zM3 181h1v1h-1zM3 183h1v1h-1zM3 188h1v1h-1zM3 192h1v1h-1zM3 199h1v1h-1zM4 42h1v1h-1zM6 4h1v1h-1zM6 13h1v1h-1zM6 15h1v1h-1zM6 17h1v1h-1zM6 24h1v1h-1zM6 33h1v2h-1zM6 83h1v2h-1zM6 93h1v1h-1zM6 228h1v1h-1zM7 31h1v1h-1zM7 83h1v2h-1zM7 308h1v1h-1zM7 316h1v1h-1zM7 318h1v1h-1zM8 65h1v1h-1zM8 67h1v1h-1zM8 82h1v1h-1zM8 102h1v1h-1zM9 84h1v1h-1zM10 31h1v1h-1zM10 118h1v1h-1zM10 120h1v1h-1zM10 169h1v1h-1zM10 180h1v1h-1zM10 193h1v1h-1zM11 112h1v1h-1zM11 115h1v1h-1zM11 123h1v4h-1zM11 144h1v1h-1zM11 226h1v1h-1zM11 233h1v1h-1zM12 122h1v1h-1zM12 516h1v2h-1zM12 522h1v1h-1zM13 299h1v2h-1zM13 529h1v1h-1zM14 516h1v1h-1zM15 510h1v1h-1zM15 520h1v1h-1zM15 565h1v2h-1zM15 582h1v1h-1zM16 536h1v2h-1zM16 571h1v1h-1zM16 582h1v1h-1zM17 320h1v1h-1zM17 323h1v1h-1zM17 332h1v1h-1zM17 355h1v1h-1zM17 365h1v1h-1zM17 424h1v1h-1zM17 439h1v1h-1zM17 443h1v1h-1zM17 517h1v1h-1zM18 424h1v1h-1zM19 332h1v1h-1zM19 405h1v1h-1zM19 411h1v1h-1zM19 425h1v2h-1zM20 438h1v2h-1zM20 446h1v1h-1zM20 516h1v2h-1zM20 543h1v1h-1zM20 559h1v1h-1zM20 586h1v1h-1zM21 360h1v1h-1zM21 425h1v1h-1zM21 533h1v1h-1zM22 510h1v1h-1zM23 272h1v1h-1zM23 446h1v1h-1zM23 448h1v1h-1z"/>
<path fill="#d6d6ff" d="M0 5h1v1h-1zM0 84h1v1h-1zM0 115h1v2h-1zM0 124h1v3h-1zM0 128h1v2h-1zM0 174h1v3h-1zM0 199h1v1h-1zM0 272h1v1h-1zM0 328h1v1h-1zM0 364h1v1h-1zM0 433h1v1h-1zM1 2h1v1h-1zM1 85h1v2h-1zM1 114h1v2h-1zM1 117h1v1h-1zM1 123h1v1h-1zM1 125h1v1h-1zM1 174h1v1h-1zM1 176h1v1h-1zM1 188h1v1h-1zM1 206h1v3h-1zM2 20h1v3h-1zM2 34h1v1h-1zM2 115h1v1h-1zM2 117h1v1h-1zM2 123h1v4h-1zM2 142h1v1h-1zM2 150h1v1h-1zM2 153h1v1h-1zM2 185h1v1h-1zM2 198h1v1h-1zM2 226h1v1h-1zM2 229h1v2h-1zM3 52h1v1h-1zM3 114h1v1h-1zM3 118h1v3h-1zM3 151h1v1h-1zM3 153h1v1h-1zM3 161h1v1h-1zM3 166h1v1h-1zM3 328h1v1h-1zM4 5h1v1h-1zM4 21h1v2h-1zM4 50h1v1h-1zM4 86h1v2h-1zM4 328h1v1h-1zM4 435h1v1h-1zM5 17h1v2h-1zM5 21h1v2h-1zM5 65h1v2h-1zM5 82h1v1h-1zM5 219h1v1h-1zM5 428h1v1h-1zM6 29h1v2h-1zM7 29h1v1h-1zM7 51h1v2h-1zM7 66h1v3h-1zM7 82h1v1h-1zM7 111h1v1h-1zM7 115h1v2h-1zM7 123h1v2h-1zM7 126h1v1h-1zM7 132h1v1h-1zM7 134h1v1h-1zM7 136h1v1h-1zM7 150h1v1h-1zM7 169h1v1h-1zM7 193h1v2h-1zM7 197h1v1h-1zM7 234h1v1h-1zM8 12h1v1h-1zM8 15h1v3h-1zM8 21h1v2h-1zM8 24h1v1h-1zM8 274h1v1h-1zM8 312h1v1h-1zM9 30h1v1h-1zM9 52h1v1h-1zM9 83h1v1h-1zM9 228h1v1h-1zM9 230h1v1h-1zM9 427h1v1h-1zM10 51h1v1h-1zM10 142h1v1h-1zM10 149h1v2h-1zM10 176h1v1h-1zM10 198h1v1h-1zM10 231h1v1h-1zM10 288h1v1h-1zM10 298h1v1h-1zM10 300h1v1h-1zM10 309h1v1h-1zM11 29h1v2h-1zM11 33h1v1h-1zM11 78h1v1h-1zM11 82h1v1h-1zM11 84h1v1h-1zM11 86h1v2h-1zM11 94h1v1h-1zM11 143h1v1h-1zM12 4h1v1h-1zM12 7h1v1h-1zM12 228h1v1h-1zM12 329h1v1h-1zM12 453h1v1h-1zM12 455h1v1h-1zM12 512h1v1h-1zM12 559h1v1h-1zM13 261h1v1h-1zM13 264h1v1h-1zM13 423h1v1h-1zM13 448h1v1h-1zM13 453h1v1h-1zM13 455h1v1h-1zM13 537h1v1h-1zM14 298h1v1h-1zM14 454h1v3h-1zM14 533h1v2h-1zM14 605h1v2h-1zM15 2h1v3h-1zM15 266h1v1h-1zM15 287h1v1h-1zM15 300h1v1h-1zM15 453h1v1h-1zM15 465h1v1h-1zM15 516h1v2h-1zM15 548h1v1h-1zM15 559h1v1h-1zM16 120h1v1h-1zM16 276h1v1h-1zM16 446h1v1h-1zM16 453h1v1h-1zM16 519h1v1h-1zM16 531h1v1h-1zM16 559h1v1h-1zM16 563h1v1h-1zM16 609h1v1h-1zM16 614h1v1h-1zM17 268h1v1h-1zM17 448h1v1h-1zM17 510h1v1h-1zM17 559h1v1h-1zM17 564h1v1h-1zM18 110h1v1h-1zM18 334h1v1h-1zM18 368h1v1h-1zM18 372h1v1h-1zM18 423h1v1h-1zM18 432h1v1h-1zM18 447h1v2h-1zM18 454h1v1h-1zM18 510h1v2h-1zM18 517h1v1h-1zM18 529h1v1h-1zM18 538h1v1h-1zM18 559h1v1h-1zM18 585h1v1h-1zM19 273h1v1h-1zM19 369h1v1h-1zM19 534h1v2h-1zM20 226h1v1h-1zM20 232h1v1h-1zM20 298h1v1h-1zM20 355h1v1h-1zM20 422h1v1h-1zM20 454h1v1h-1zM20 519h1v2h-1zM20 555h1v1h-1zM20 566h1v1h-1zM20 604h1v1h-1zM21 312h1v1h-1zM21 410h1v1h-1zM21 423h1v1h-1zM21 446h1v2h-1zM21 453h1v2h-1zM21 516h1v1h-1zM21 565h1v1h-1zM21 616h1v1h-1zM22 470h1v1h-1zM22 499h1v1h-1zM22 616h1v1h-1zM23 311h1v1h-1zM23 315h1v1h-1zM23 335h1v1h-1zM23 463h1v1h-1zM23 478h1v1h-1zM23 496h1v1h-1zM23 610h1v1h-1zM23 616h1v1h-1z"/>
<path fill="#8f8fff" d="M0 7h1v1h-1zM0 14h1v4h-1zM0 24h1v1h-1zM0 29h1v2h-1zM0 34h1v1h-1zM0 50h1v1h-1zM0 53h1v2h-1zM0 58h1v1h-1zM0 65h1v3h-1zM0 82h1v1h-1zM0 200h1v1h-1zM0 202h1v1h-1zM0 205h1v3h-1zM0 226h1v2h-1zM0 231h1v1h-1zM0 242h1v1h-1zM0 244h1v1h-1zM0 250h1v1h-1zM0 255h1v1h-1zM0 257h1v1h-1zM0 266h1v1h-1zM0 268h1v1h-1zM0 291h1v1h-1zM0 295h1v2h-1zM0 323h1v1h-1zM0 344h1v1h-1zM0 347h1v1h-1zM0 384h1v2h-1zM0 397h1v2h-1zM0 591h1v1h-1zM0 597h1v1h-1zM1 7h1v2h-1zM1 23h1v2h-1zM1 29h1v2h-1zM1 33h1v1h-1zM1 35h1v1h-1zM1 42h1v2h-1zM1 48h1v1h-1zM1 52h1v1h-1zM1 54h1v1h-1zM1 58h1v1h-1zM1 96h1v1h-1zM1 200h1v1h-1zM1 203h1v1h-1zM1 226h1v5h-1zM1 239h1v1h-1zM1 242h1v3h-1zM1 255h1v4h-1zM1 281h1v1h-1zM1 314h1v1h-1zM1 323h1v1h-1zM1 332h1v1h-1zM1 385h1v1h-1zM1 397h1v3h-1zM1 595h1v1h-1zM1 608h1v1h-1zM2 3h1v1h-1zM2 7h1v2h-1zM2 16h1v3h-1zM2 24h1v1h-1zM2 47h1v3h-1zM2 57h1v1h-1zM2 61h1v1h-1zM2 64h1v1h-1zM2 73h1v1h-1zM2 80h1v2h-1zM2 89h1v1h-1zM2 91h1v2h-1zM2 96h1v3h-1zM2 102h1v1h-1zM2 118h1v5h-1zM2 202h1v1h-1zM2 227h1v1h-1zM2 239h1v1h-1zM2 242h1v3h-1zM2 256h1v2h-1zM2 278h1v1h-1zM2 281h1v1h-1zM2 323h1v1h-1zM2 332h1v1h-1zM2 375h1v1h-1zM2 384h1v1h-1zM2 388h1v1h-1zM2 397h1v1h-1zM2 591h1v1h-1zM2 595h1v3h-1zM3 29h1v2h-1zM3 33h1v2h-1zM3 40h1v2h-1zM3 103h1v2h-1zM3 235h1v1h-1zM3 242h1v3h-1zM3 251h1v1h-1zM3 256h1v2h-1zM3 266h1v1h-1zM3 323h1v1h-1zM3 329h1v1h-1zM3 332h1v1h-1zM3 344h1v2h-1zM3 347h1v1h-1zM3 375h1v1h-1zM3 384h1v1h-1zM3 386h1v1h-1zM3 397h1v1h-1zM3 595h1v2h-1zM3 598h1v1h-1zM3 602h1v1h-1zM4 7h1v1h-1zM4 15h1v5h-1zM4 23h1v1h-1zM4 69h1v1h-1zM4 76h1v1h-1zM4 80h1v1h-1zM4 83h1v1h-1zM4 96h1v2h-1zM4 116h1v2h-1zM4 123h1v3h-1zM4 127h1v1h-1zM4 144h1v1h-1zM4 149h1v1h-1zM4 151h1v1h-1zM4 161h1v1h-1zM4 187h1v1h-1zM4 195h1v1h-1zM4 197h1v1h-1zM4 200h1v2h-1zM4 203h1v1h-1zM4 227h1v1h-1zM4 235h1v1h-1zM4 239h1v1h-1zM4 242h1v1h-1zM4 244h1v1h-1zM4 250h1v1h-1zM4 255h1v4h-1zM4 261h1v1h-1zM4 266h1v1h-1zM4 279h1v1h-1zM4 308h1v1h-1zM4 311h1v1h-1zM4 323h1v1h-1zM4 329h1v1h-1zM4 346h1v1h-1zM4 370h1v1h-1zM4 376h1v1h-1zM4 385h1v2h-1zM4 398h1v2h-1zM4 591h1v1h-1zM4 595h1v3h-1zM4 602h1v1h-1zM4 607h1v1h-1zM5 96h1v1h-1zM5 100h1v1h-1zM5 102h1v1h-1zM5 109h1v1h-1zM5 132h1v1h-1zM5 139h1v1h-1zM5 151h1v3h-1zM5 161h1v2h-1zM5 200h1v2h-1zM5 226h1v1h-1zM5 229h1v1h-1zM5 231h1v2h-1zM5 235h1v1h-1zM5 237h1v1h-1zM5 239h1v1h-1zM5 243h1v2h-1zM5 255h1v4h-1zM5 266h1v1h-1zM5 268h1v1h-1zM5 277h1v3h-1zM5 320h1v1h-1zM5 323h1v1h-1zM5 384h1v1h-1zM5 397h1v1h-1zM5 399h1v1h-1zM5 401h1v1h-1zM5 406h1v1h-1zM5 596h1v2h-1zM6 101h1v3h-1zM6 105h1v1h-1zM6 107h1v1h-1zM6 109h1v1h-1zM6 141h1v1h-1zM6 145h1v1h-1zM6 155h1v3h-1zM6 163h1v1h-1zM6 200h1v1h-1zM6 202h1v1h-1zM6 204h1v1h-1zM6 209h1v1h-1zM6 217h1v1h-1zM6 224h1v1h-1zM6 239h1v1h-1zM6 243h1v2h-1zM6 255h1v3h-1zM6 281h1v1h-1zM6 324h1v1h-1zM6 344h1v1h-1zM6 346h1v1h-1zM6 385h1v1h-1zM6 397h1v2h-1zM6 401h1v1h-1zM6 595h1v2h-1zM6 602h1v1h-1zM7 25h1v1h-1zM7 101h1v1h-1zM7 114h1v1h-1zM7 117h1v3h-1zM7 121h1v1h-1zM7 128h1v3h-1zM7 142h1v2h-1zM7 149h1v1h-1zM7 151h1v1h-1zM7 200h1v1h-1zM7 213h1v2h-1zM7 235h1v1h-1zM7 239h1v1h-1zM7 241h1v1h-1zM7 243h1v2h-1zM7 258h1v1h-1zM7 260h1v1h-1zM7 266h1v2h-1zM7 279h1v1h-1zM7 321h1v2h-1zM7 324h1v1h-1zM7 331h1v1h-1zM7 344h1v1h-1zM7 347h1v1h-1zM7 398h1v2h-1zM7 595h1v2h-1zM7 599h1v1h-1zM8 29h1v2h-1zM8 34h1v1h-1zM8 109h1v1h-1zM8 128h1v1h-1zM8 130h1v1h-1zM8 135h1v1h-1zM8 140h1v5h-1zM8 149h1v5h-1zM8 161h1v1h-1zM8 166h1v1h-1zM8 172h1v1h-1zM8 180h1v1h-1zM8 194h1v1h-1zM8 200h1v1h-1zM8 203h1v1h-1zM8 214h1v1h-1zM8 223h1v2h-1zM8 235h1v1h-1zM8 239h1v1h-1zM8 242h1v3h-1zM8 249h1v1h-1zM8 257h1v1h-1zM8 267h1v1h-1zM8 322h1v1h-1zM8 324h1v1h-1zM8 330h1v1h-1zM8 344h1v1h-1zM8 346h1v2h-1zM8 386h1v1h-1zM8 397h1v3h-1zM8 403h1v1h-1zM8 591h1v1h-1zM8 596h1v3h-1zM8 608h1v1h-1zM9 1h1v1h-1zM9 4h1v1h-1zM9 6h1v1h-1zM9 12h1v1h-1zM9 130h1v1h-1zM9 144h1v1h-1zM9 149h1v1h-1zM9 165h1v1h-1zM9 200h1v1h-1zM9 203h1v1h-1zM9 213h1v1h-1zM9 223h1v2h-1zM9 242h1v1h-1zM9 244h1v1h-1zM9 249h1v1h-1zM9 255h1v1h-1zM9 266h1v2h-1zM9 273h1v2h-1zM9 277h1v1h-1zM9 283h1v1h-1zM9 285h1v2h-1zM9 291h1v1h-1zM9 293h1v2h-1zM9 297h1v1h-1zM9 299h1v2h-1zM9 344h1v1h-1zM9 346h1v2h-1zM9 397h1v2h-1zM9 596h1v2h-1zM9 608h1v1h-1zM9 614h1v1h-1zM10 0h1v1h-1zM10 5h1v2h-1zM10 200h1v3h-1zM10 213h1v2h-1zM10 218h1v1h-1zM10 239h1v1h-1zM10 241h1v4h-1zM10 251h1v1h-1zM10 257h1v1h-1zM10 259h1v1h-1zM10 268h1v1h-1zM10 278h1v1h-1zM10 322h1v1h-1zM10 324h1v1h-1zM10 346h1v1h-1zM10 384h1v2h-1zM10 397h1v1h-1zM10 399h1v1h-1zM10 598h1v4h-1zM10 608h1v1h-1zM11 4h1v1h-1zM11 10h1v1h-1zM11 24h1v1h-1zM11 96h1v1h-1zM11 101h1v1h-1zM11 200h1v1h-1zM11 204h1v1h-1zM11 214h1v1h-1zM11 223h1v1h-1zM11 242h1v3h-1zM11 248h1v1h-1zM11 251h1v1h-1zM11 255h1v2h-1zM11 258h1v1h-1zM11 267h1v1h-1zM11 271h1v1h-1zM11 278h1v1h-1zM11 304h1v1h-1zM11 309h1v2h-1zM11 316h1v1h-1zM11 346h1v1h-1zM11 384h1v1h-1zM11 399h1v1h-1zM11 406h1v1h-1zM11 597h1v1h-1zM11 607h1v1h-1zM12 202h1v1h-1zM12 214h1v1h-1zM12 230h1v1h-1zM12 234h1v1h-1zM12 239h1v1h-1zM12 242h1v1h-1zM12 249h1v1h-1zM12 257h1v1h-1zM12 281h1v1h-1zM12 285h1v1h-1zM12 315h1v1h-1zM12 339h1v1h-1zM12 343h1v1h-1zM12 345h1v1h-1zM12 347h1v1h-1zM12 376h1v1h-1zM12 384h1v3h-1zM12 393h1v1h-1zM12 398h1v2h-1zM12 401h1v1h-1zM12 430h1v1h-1zM12 449h1v1h-1zM13 212h1v1h-1zM13 214h1v1h-1zM13 218h1v1h-1zM13 222h1v1h-1zM13 242h1v3h-1zM13 251h1v1h-1zM13 255h1v1h-1zM13 257h1v1h-1zM13 260h1v1h-1zM13 271h1v1h-1zM13 323h1v1h-1zM13 326h1v1h-1zM13 329h1v1h-1zM13 332h1v1h-1zM13 345h1v1h-1zM13 375h1v1h-1zM13 377h1v1h-1zM13 384h1v1h-1zM13 393h1v1h-1zM13 396h1v2h-1zM13 399h1v1h-1zM13 413h1v1h-1zM13 433h1v1h-1zM13 552h1v1h-1zM13 557h1v1h-1zM14 204h1v1h-1zM14 212h1v1h-1zM14 217h1v1h-1zM14 230h1v1h-1zM14 239h1v1h-1zM14 241h1v4h-1zM14 255h1v3h-1zM14 310h1v1h-1zM14 314h1v1h-1zM14 326h1v2h-1zM14 329h1v1h-1zM14 332h1v1h-1zM14 345h1v1h-1zM14 385h1v2h-1zM14 393h1v1h-1zM14 396h1v3h-1zM14 406h1v1h-1zM15 212h1v1h-1zM15 214h1v1h-1zM15 217h1v2h-1zM15 235h1v1h-1zM15 239h1v1h-1zM15 242h1v3h-1zM15 255h1v1h-1zM15 257h1v1h-1zM15 320h1v1h-1zM15 323h1v1h-1zM15 327h1v1h-1zM15 329h1v1h-1zM15 332h1v1h-1zM15 338h1v1h-1zM15 345h1v2h-1zM15 351h1v1h-1zM15 370h1v2h-1zM15 375h1v1h-1zM15 384h1v1h-1zM15 387h1v1h-1zM15 396h1v1h-1zM15 418h1v1h-1zM16 3h1v1h-1zM16 212h1v2h-1zM16 232h1v1h-1zM16 241h1v4h-1zM16 255h1v1h-1zM16 257h1v2h-1zM16 302h1v1h-1zM16 314h1v1h-1zM16 323h1v1h-1zM16 325h1v3h-1zM16 329h1v1h-1zM16 332h1v1h-1zM16 344h1v3h-1zM16 354h1v1h-1zM16 358h1v1h-1zM16 360h1v1h-1zM16 362h1v2h-1zM16 365h1v1h-1zM16 380h1v1h-1zM16 384h1v2h-1zM16 387h1v1h-1zM16 393h1v1h-1zM16 397h1v1h-1zM16 399h1v1h-1zM17 5h1v1h-1zM17 218h1v1h-1zM17 223h1v1h-1zM17 232h1v1h-1zM17 239h1v1h-1zM17 242h1v3h-1zM17 248h1v1h-1zM17 250h1v1h-1zM17 255h1v3h-1zM17 266h1v1h-1zM17 274h1v2h-1zM17 303h1v1h-1zM17 338h1v2h-1zM17 492h1v1h-1zM17 595h1v3h-1zM18 7h1v1h-1zM18 213h1v1h-1zM18 230h1v1h-1zM18 235h1v1h-1zM18 238h1v2h-1zM18 241h1v1h-1zM18 243h1v2h-1zM18 249h1v2h-1zM18 255h1v1h-1zM18 257h1v1h-1zM18 302h1v2h-1zM18 314h1v1h-1zM18 317h1v2h-1zM18 476h1v1h-1zM18 490h1v2h-1zM18 568h1v1h-1zM18 595h1v2h-1zM19 213h1v2h-1zM19 225h1v1h-1zM19 239h1v1h-1zM19 242h1v3h-1zM19 255h1v1h-1zM19 272h1v1h-1zM19 303h1v1h-1zM19 314h1v1h-1zM19 319h1v1h-1zM19 472h1v1h-1zM19 474h1v1h-1zM19 545h1v1h-1zM19 549h1v1h-1zM19 595h1v2h-1zM20 2h1v1h-1zM20 203h1v2h-1zM20 210h1v1h-1zM20 212h1v2h-1zM20 217h1v1h-1zM20 231h1v1h-1zM20 235h1v1h-1zM20 239h1v1h-1zM20 242h1v3h-1zM20 255h1v1h-1zM20 257h1v1h-1zM20 260h1v1h-1zM20 274h1v1h-1zM20 305h1v1h-1zM20 308h1v1h-1zM20 319h1v1h-1zM20 321h1v2h-1zM20 345h1v1h-1zM20 347h1v1h-1zM20 475h1v1h-1zM20 479h1v1h-1zM20 481h1v1h-1zM20 487h1v2h-1zM20 492h1v1h-1zM20 495h1v1h-1zM20 591h1v1h-1zM20 595h1v2h-1zM21 85h1v1h-1zM21 204h1v1h-1zM21 213h1v2h-1zM21 217h1v2h-1zM21 243h1v1h-1zM21 255h1v2h-1zM21 272h1v1h-1zM21 310h1v1h-1zM21 321h1v2h-1zM21 324h1v1h-1zM21 433h1v1h-1zM21 463h1v2h-1zM21 505h1v1h-1zM21 598h1v2h-1zM22 212h1v1h-1zM22 218h1v1h-1zM22 239h1v1h-1zM22 321h1v2h-1zM22 324h1v1h-1zM22 338h1v1h-1zM22 345h1v1h-1zM22 347h1v1h-1zM22 351h1v1h-1zM22 373h1v1h-1zM22 384h1v1h-1zM22 397h1v1h-1zM22 399h1v1h-1zM22 406h1v1h-1zM22 452h1v1h-1zM22 591h1v1h-1zM22 596h1v2h-1zM22 602h1v1h-1zM23 2h1v2h-1zM23 204h1v1h-1zM23 212h1v1h-1zM23 214h1v1h-1zM23 225h1v1h-1zM23 229h1v3h-1zM23 233h1v2h-1zM23 324h1v1h-1zM23 344h1v1h-1zM23 347h1v1h-1zM23 350h1v1h-1zM23 384h1v2h-1zM23 393h1v1h-1zM23 398h1v2h-1zM23 401h1v1h-1zM23 406h1v2h-1zM23 595h1v3h-1zM23 601h1v1h-1z"/>
<path fill="#8585ff" d="M0 8h1v1h-1zM0 277h1v6h-1zM0 292h1v3h-1zM0 298h1v1h-1zM0 301h1v1h-1zM0 345h1v2h-1zM0 349h1v1h-1zM0 352h1v1h-1zM0 354h1v2h-1zM0 357h1v2h-1zM0 374h1v3h-1zM0 378h1v3h-1zM0 386h1v1h-1zM0 388h1v1h-1zM0 395h1v1h-1zM0 399h1v1h-1zM0 401h1v3h-1zM0 408h1v1h-1zM0 413h1v1h-1zM0 415h1v1h-1zM0 427h1v2h-1zM0 592h1v5h-1zM0 598h1v5h-1zM0 604h1v2h-1zM0 607h1v2h-1zM0 611h1v6h-1zM1 9h1v2h-1zM1 26h1v1h-1zM1 31h1v1h-1zM1 44h1v4h-1zM1 49h1v1h-1zM1 51h1v1h-1zM1 53h1v1h-1zM1 83h1v2h-1zM1 89h1v1h-1zM1 92h1v1h-1zM1 94h1v1h-1zM1 277h1v4h-1zM1 282h1v1h-1zM1 302h1v2h-1zM1 306h1v1h-1zM1 312h1v2h-1zM1 317h1v3h-1zM1 335h1v1h-1zM1 344h1v5h-1zM1 350h1v1h-1zM1 352h1v3h-1zM1 356h1v1h-1zM1 359h1v1h-1zM1 361h1v2h-1zM1 364h1v2h-1zM1 374h1v3h-1zM1 378h1v3h-1zM1 384h1v1h-1zM1 386h1v1h-1zM1 394h1v2h-1zM1 401h1v1h-1zM1 403h1v1h-1zM1 409h1v1h-1zM1 413h1v1h-1zM1 416h1v1h-1zM1 591h1v4h-1zM1 596h1v12h-1zM1 609h1v1h-1zM1 611h1v5h-1zM2 4h1v1h-1zM2 9h1v2h-1zM2 43h1v1h-1zM2 45h1v2h-1zM2 50h1v1h-1zM2 52h1v4h-1zM2 58h1v3h-1zM2 62h1v2h-1zM2 79h1v1h-1zM2 88h1v1h-1zM2 90h1v1h-1zM2 93h1v1h-1zM2 277h1v1h-1zM2 279h1v2h-1zM2 282h1v1h-1zM2 344h1v3h-1zM2 352h1v4h-1zM2 357h1v1h-1zM2 359h1v1h-1zM2 362h1v1h-1zM2 369h1v1h-1zM2 374h1v1h-1zM2 376h1v1h-1zM2 378h1v3h-1zM2 385h1v2h-1zM2 398h1v2h-1zM2 401h1v1h-1zM2 408h1v2h-1zM2 413h1v1h-1zM2 415h1v2h-1zM2 428h1v1h-1zM2 592h1v3h-1zM2 598h1v5h-1zM2 605h1v5h-1zM2 611h1v1h-1zM2 613h1v3h-1zM3 10h1v3h-1zM3 277h1v6h-1zM3 346h1v1h-1zM3 349h1v1h-1zM3 353h1v1h-1zM3 357h1v2h-1zM3 361h1v1h-1zM3 364h1v2h-1zM3 369h1v1h-1zM3 374h1v1h-1zM3 376h1v1h-1zM3 378h1v3h-1zM3 385h1v1h-1zM3 394h1v2h-1zM3 398h1v2h-1zM3 401h1v3h-1zM3 408h1v2h-1zM3 413h1v1h-1zM3 415h1v2h-1zM3 427h1v2h-1zM3 591h1v4h-1zM3 597h1v1h-1zM3 599h1v3h-1zM3 603h1v2h-1zM3 607h1v2h-1zM3 610h1v1h-1zM3 613h1v4h-1zM4 4h1v1h-1zM4 8h1v1h-1zM4 10h1v1h-1zM4 24h1v1h-1zM4 65h1v1h-1zM4 67h1v2h-1zM4 70h1v4h-1zM4 75h1v1h-1zM4 77h1v3h-1zM4 82h1v1h-1zM4 269h1v3h-1zM4 274h1v1h-1zM4 276h1v3h-1zM4 280h1v3h-1zM4 304h1v2h-1zM4 309h1v1h-1zM4 315h1v2h-1zM4 333h1v1h-1zM4 344h1v2h-1zM4 347h1v1h-1zM4 356h1v2h-1zM4 361h1v2h-1zM4 364h1v1h-1zM4 374h1v2h-1zM4 378h1v3h-1zM4 384h1v1h-1zM4 394h1v2h-1zM4 397h1v1h-1zM4 401h1v2h-1zM4 408h1v1h-1zM4 413h1v1h-1zM4 416h1v1h-1zM4 592h1v3h-1zM4 598h1v4h-1zM4 603h1v3h-1zM4 608h1v2h-1zM4 613h1v3h-1zM5 4h1v1h-1zM5 7h1v4h-1zM5 111h1v3h-1zM5 115h1v1h-1zM5 126h1v1h-1zM5 128h1v3h-1zM5 134h1v5h-1zM5 142h1v2h-1zM5 148h1v1h-1zM5 158h1v3h-1zM5 165h1v1h-1zM5 168h1v1h-1zM5 170h1v4h-1zM5 176h1v1h-1zM5 181h1v5h-1zM5 187h1v2h-1zM5 190h1v1h-1zM5 280h1v3h-1zM5 344h1v4h-1zM5 349h1v1h-1zM5 352h1v1h-1zM5 358h1v2h-1zM5 363h1v3h-1zM5 374h1v3h-1zM5 378h1v3h-1zM5 385h1v2h-1zM5 395h1v1h-1zM5 398h1v1h-1zM5 408h1v1h-1zM5 413h1v1h-1zM5 591h1v5h-1zM5 598h1v6h-1zM5 607h1v2h-1zM5 610h1v1h-1zM5 613h1v3h-1zM6 110h1v4h-1zM6 126h1v2h-1zM6 131h1v3h-1zM6 139h1v2h-1zM6 151h1v1h-1zM6 153h1v1h-1zM6 161h1v1h-1zM6 166h1v1h-1zM6 169h1v1h-1zM6 177h1v3h-1zM6 191h1v5h-1zM6 197h1v1h-1zM6 205h1v1h-1zM6 207h1v2h-1zM6 210h1v6h-1zM6 218h1v6h-1zM6 277h1v4h-1zM6 282h1v1h-1zM6 321h1v2h-1zM6 325h1v1h-1zM6 327h1v1h-1zM6 329h1v4h-1zM6 334h1v1h-1zM6 345h1v1h-1zM6 347h1v1h-1zM6 354h1v1h-1zM6 357h1v1h-1zM6 359h1v1h-1zM6 362h1v4h-1zM6 375h1v2h-1zM6 378h1v3h-1zM6 384h1v1h-1zM6 386h1v1h-1zM6 394h1v2h-1zM6 399h1v1h-1zM6 402h1v1h-1zM6 408h1v1h-1zM6 413h1v1h-1zM6 415h1v1h-1zM6 591h1v4h-1zM6 597h1v5h-1zM6 603h1v2h-1zM6 607h1v2h-1zM6 611h1v6h-1zM7 23h1v2h-1zM7 120h1v1h-1zM7 204h1v5h-1zM7 210h1v3h-1zM7 215h1v4h-1zM7 220h1v5h-1zM7 269h1v3h-1zM7 274h1v5h-1zM7 280h1v3h-1zM7 320h1v1h-1zM7 326h1v2h-1zM7 330h1v1h-1zM7 334h1v2h-1zM7 337h1v1h-1zM7 345h1v2h-1zM7 349h1v2h-1zM7 352h1v3h-1zM7 358h1v2h-1zM7 361h1v1h-1zM7 363h1v1h-1zM7 369h1v1h-1zM7 374h1v3h-1zM7 378h1v3h-1zM7 384h1v3h-1zM7 394h1v2h-1zM7 397h1v1h-1zM7 401h1v3h-1zM7 406h1v1h-1zM7 408h1v1h-1zM7 413h1v1h-1zM7 416h1v1h-1zM7 591h1v4h-1zM7 597h1v1h-1zM7 600h1v6h-1zM7 607h1v2h-1zM7 610h1v2h-1zM7 613h1v2h-1zM8 110h1v4h-1zM8 126h1v1h-1zM8 169h1v3h-1zM8 173h1v1h-1zM8 176h1v1h-1zM8 181h1v4h-1zM8 187h1v4h-1zM8 192h1v1h-1zM8 198h1v1h-1zM8 204h1v3h-1zM8 208h1v6h-1zM8 215h1v6h-1zM8 233h1v2h-1zM8 277h1v6h-1zM8 293h1v1h-1zM8 295h1v2h-1zM8 301h1v1h-1zM8 320h1v2h-1zM8 325h1v3h-1zM8 331h1v1h-1zM8 345h1v1h-1zM8 349h1v1h-1zM8 353h1v3h-1zM8 357h1v1h-1zM8 359h1v1h-1zM8 363h1v1h-1zM8 365h1v1h-1zM8 369h1v1h-1zM8 374h1v3h-1zM8 378h1v3h-1zM8 384h1v2h-1zM8 394h1v1h-1zM8 401h1v1h-1zM8 409h1v1h-1zM8 413h1v1h-1zM8 415h1v2h-1zM8 592h1v4h-1zM8 599h1v4h-1zM8 605h1v3h-1zM8 611h1v6h-1zM9 3h1v1h-1zM9 119h1v1h-1zM9 121h1v2h-1zM9 167h1v1h-1zM9 170h1v4h-1zM9 175h1v1h-1zM9 180h1v5h-1zM9 188h1v6h-1zM9 204h1v2h-1zM9 207h1v1h-1zM9 209h1v1h-1zM9 211h1v2h-1zM9 214h1v7h-1zM9 222h1v1h-1zM9 278h1v5h-1zM9 292h1v1h-1zM9 295h1v2h-1zM9 298h1v1h-1zM9 301h1v1h-1zM9 321h1v2h-1zM9 324h1v4h-1zM9 331h1v2h-1zM9 345h1v1h-1zM9 363h1v2h-1zM9 369h1v2h-1zM9 374h1v3h-1zM9 378h1v2h-1zM9 384h1v3h-1zM9 394h1v1h-1zM9 399h1v1h-1zM9 401h1v1h-1zM9 408h1v1h-1zM9 413h1v1h-1zM9 415h1v2h-1zM9 591h1v5h-1zM9 598h1v7h-1zM9 606h1v2h-1zM9 610h1v2h-1zM9 613h1v1h-1zM9 615h1v2h-1zM10 204h1v4h-1zM10 209h1v4h-1zM10 216h1v1h-1zM10 219h1v6h-1zM10 227h1v2h-1zM10 232h1v2h-1zM10 277h1v1h-1zM10 279h1v4h-1zM10 321h1v1h-1zM10 326h1v2h-1zM10 330h1v1h-1zM10 344h1v2h-1zM10 350h1v1h-1zM10 354h1v1h-1zM10 356h1v1h-1zM10 358h1v2h-1zM10 363h1v1h-1zM10 365h1v1h-1zM10 369h1v1h-1zM10 374h1v3h-1zM10 378h1v3h-1zM10 386h1v1h-1zM10 394h1v2h-1zM10 398h1v1h-1zM10 401h1v1h-1zM10 413h1v1h-1zM10 415h1v1h-1zM10 428h1v1h-1zM10 591h1v1h-1zM10 593h1v5h-1zM10 602h1v3h-1zM10 606h1v2h-1zM10 609h1v2h-1zM10 613h1v4h-1zM11 205h1v1h-1zM11 209h1v5h-1zM11 215h1v5h-1zM11 221h1v2h-1zM11 224h1v1h-1zM11 269h1v2h-1zM11 273h1v5h-1zM11 279h1v1h-1zM11 281h1v2h-1zM11 305h1v1h-1zM11 308h1v1h-1zM11 321h1v2h-1zM11 324h1v1h-1zM11 329h1v1h-1zM11 331h1v1h-1zM11 341h1v1h-1zM11 344h1v2h-1zM11 352h1v1h-1zM11 354h1v1h-1zM11 359h1v1h-1zM11 364h1v2h-1zM11 369h1v1h-1zM11 375h1v2h-1zM11 378h1v3h-1zM11 385h1v2h-1zM11 394h1v2h-1zM11 397h1v2h-1zM11 401h1v1h-1zM11 413h1v1h-1zM11 415h1v2h-1zM11 427h1v2h-1zM11 591h1v6h-1zM11 598h1v1h-1zM11 600h1v6h-1zM11 608h1v2h-1zM11 611h1v6h-1zM12 20h1v3h-1zM12 85h1v3h-1zM12 168h1v1h-1zM12 201h1v1h-1zM12 203h1v2h-1zM12 206h1v3h-1zM12 212h1v2h-1zM12 215h1v10h-1zM12 267h1v1h-1zM12 270h1v2h-1zM12 273h1v4h-1zM12 279h1v1h-1zM12 282h1v3h-1zM12 288h1v3h-1zM12 333h1v6h-1zM12 340h1v3h-1zM12 344h1v1h-1zM12 346h1v1h-1zM12 349h1v14h-1zM12 364h1v4h-1zM12 369h1v7h-1zM12 377h1v7h-1zM12 387h1v6h-1zM12 395h1v3h-1zM12 400h1v1h-1zM12 413h1v1h-1zM12 424h1v3h-1zM12 428h1v2h-1zM12 431h1v4h-1zM12 440h1v1h-1zM12 443h1v3h-1zM12 450h1v1h-1zM12 456h1v1h-1zM12 505h1v1h-1zM12 509h1v2h-1zM13 20h1v3h-1zM13 85h1v3h-1zM13 167h1v1h-1zM13 200h1v8h-1zM13 209h1v3h-1zM13 213h1v1h-1zM13 215h1v3h-1zM13 219h1v1h-1zM13 223h1v2h-1zM13 266h1v1h-1zM13 269h1v2h-1zM13 273h1v4h-1zM13 333h1v1h-1zM13 335h1v10h-1zM13 346h1v2h-1zM13 352h1v1h-1zM13 356h1v1h-1zM13 359h1v2h-1zM13 364h1v1h-1zM13 367h1v1h-1zM13 369h1v6h-1zM13 376h1v1h-1zM13 378h1v6h-1zM13 385h1v5h-1zM13 391h1v2h-1zM13 394h1v1h-1zM13 398h1v1h-1zM13 400h1v2h-1zM13 403h1v1h-1zM13 408h1v1h-1zM13 429h1v3h-1zM13 434h1v1h-1zM13 444h1v2h-1zM13 449h1v2h-1zM13 532h1v2h-1zM13 539h1v1h-1zM13 541h1v1h-1zM13 560h1v1h-1zM13 562h1v1h-1zM13 576h1v3h-1zM14 20h1v1h-1zM14 22h1v1h-1zM14 85h1v3h-1zM14 201h1v3h-1zM14 205h1v1h-1zM14 207h1v1h-1zM14 209h1v3h-1zM14 213h1v4h-1zM14 218h1v7h-1zM14 302h1v2h-1zM14 312h1v2h-1zM14 319h1v1h-1zM14 334h1v1h-1zM14 344h1v1h-1zM14 346h1v2h-1zM14 350h1v3h-1zM14 354h1v1h-1zM14 358h1v1h-1zM14 362h1v2h-1zM14 367h1v1h-1zM14 369h1v4h-1zM14 375h1v10h-1zM14 387h1v1h-1zM14 389h1v1h-1zM14 391h1v2h-1zM14 394h1v2h-1zM14 399h1v2h-1zM14 403h1v3h-1zM14 407h1v1h-1zM14 409h1v4h-1zM14 414h1v2h-1zM14 417h1v4h-1zM14 422h1v2h-1zM14 426h1v1h-1zM14 429h1v6h-1zM15 21h1v1h-1zM15 86h1v2h-1zM15 168h1v1h-1zM15 201h1v5h-1zM15 207h1v1h-1zM15 209h1v3h-1zM15 213h1v1h-1zM15 215h1v2h-1zM15 220h1v13h-1zM15 234h1v1h-1zM15 334h1v4h-1zM15 339h1v6h-1zM15 347h1v4h-1zM15 352h1v3h-1zM15 358h1v8h-1zM15 367h1v3h-1zM15 372h1v3h-1zM15 376h1v8h-1zM15 385h1v2h-1zM15 388h1v2h-1zM15 391h1v5h-1zM15 397h1v7h-1zM15 408h1v2h-1zM15 413h1v1h-1zM15 416h1v2h-1zM15 419h1v5h-1zM15 426h1v1h-1zM15 428h1v3h-1zM15 432h1v3h-1zM15 440h1v3h-1zM15 446h1v1h-1zM15 454h1v1h-1zM15 457h1v2h-1zM15 503h1v5h-1zM15 509h1v1h-1zM15 515h1v1h-1zM16 20h1v1h-1zM16 22h1v1h-1zM16 85h1v1h-1zM16 87h1v1h-1zM16 167h1v2h-1zM16 201h1v6h-1zM16 209h1v3h-1zM16 214h1v7h-1zM16 223h1v2h-1zM16 227h1v1h-1zM16 233h1v2h-1zM16 303h1v1h-1zM16 307h1v1h-1zM16 311h1v3h-1zM16 318h1v2h-1zM16 334h1v2h-1zM16 337h1v1h-1zM16 359h1v1h-1zM16 367h1v1h-1zM16 369h1v9h-1zM16 379h1v1h-1zM16 382h1v2h-1zM16 386h1v1h-1zM16 388h1v5h-1zM16 394h1v1h-1zM16 396h1v1h-1zM16 398h1v1h-1zM16 400h1v1h-1zM16 402h1v3h-1zM16 406h1v2h-1zM16 410h1v3h-1zM16 414h1v1h-1zM16 416h1v1h-1zM16 432h1v1h-1zM17 21h1v1h-1zM17 85h1v3h-1zM17 168h1v1h-1zM17 200h1v5h-1zM17 208h1v1h-1zM17 212h1v1h-1zM17 214h1v4h-1zM17 219h1v4h-1zM17 224h1v1h-1zM17 302h1v1h-1zM17 312h1v2h-1zM17 318h1v1h-1zM17 335h1v3h-1zM17 340h1v4h-1zM17 460h1v3h-1zM17 465h1v4h-1zM17 472h1v1h-1zM17 475h1v1h-1zM17 490h1v2h-1zM17 496h1v7h-1zM17 513h1v1h-1zM17 591h1v3h-1zM17 601h1v2h-1zM17 605h1v1h-1zM17 612h1v1h-1zM17 616h1v1h-1zM18 4h1v1h-1zM18 8h1v3h-1zM18 20h1v3h-1zM18 85h1v3h-1zM18 201h1v3h-1zM18 206h1v3h-1zM18 212h1v1h-1zM18 214h1v2h-1zM18 217h1v8h-1zM18 267h1v2h-1zM18 272h1v1h-1zM18 312h1v2h-1zM18 460h1v3h-1zM18 464h1v2h-1zM18 468h1v3h-1zM18 475h1v1h-1zM18 477h1v1h-1zM18 496h1v3h-1zM18 532h1v5h-1zM18 539h1v3h-1zM18 556h1v1h-1zM18 561h1v2h-1zM18 567h1v1h-1zM18 571h1v1h-1zM18 576h1v3h-1zM18 591h1v4h-1zM18 597h1v12h-1zM18 611h1v1h-1zM18 613h1v4h-1zM19 0h1v13h-1zM19 20h1v3h-1zM19 85h1v2h-1zM19 168h1v1h-1zM19 201h1v3h-1zM19 206h1v3h-1zM19 212h1v1h-1zM19 215h1v2h-1zM19 219h1v2h-1zM19 222h1v3h-1zM19 226h1v2h-1zM19 229h1v4h-1zM19 234h1v1h-1zM19 302h1v1h-1zM19 307h1v1h-1zM19 310h1v4h-1zM19 317h1v1h-1zM19 437h1v1h-1zM19 441h1v2h-1zM19 446h1v2h-1zM19 458h1v2h-1zM19 463h1v1h-1zM19 467h1v1h-1zM19 471h1v1h-1zM19 478h1v12h-1zM19 493h1v3h-1zM19 500h1v6h-1zM19 507h1v1h-1zM19 513h1v2h-1zM19 518h1v1h-1zM19 520h1v1h-1zM19 531h1v1h-1zM19 542h1v1h-1zM19 546h1v1h-1zM19 563h1v4h-1zM19 569h1v1h-1zM19 573h1v2h-1zM19 579h1v2h-1zM19 582h1v1h-1zM19 589h1v5h-1zM19 597h1v1h-1zM19 601h1v2h-1zM19 605h1v2h-1zM19 610h1v1h-1zM19 612h1v1h-1zM20 85h1v3h-1zM20 168h1v1h-1zM20 201h1v2h-1zM20 205h1v4h-1zM20 211h1v1h-1zM20 214h1v1h-1zM20 216h1v1h-1zM20 218h1v2h-1zM20 221h1v4h-1zM20 304h1v1h-1zM20 309h1v1h-1zM20 311h1v1h-1zM20 315h1v3h-1zM20 320h1v1h-1zM20 323h1v5h-1zM20 330h1v3h-1zM20 336h1v1h-1zM20 344h1v1h-1zM20 346h1v1h-1zM20 459h1v1h-1zM20 466h1v1h-1zM20 470h1v1h-1zM20 473h1v2h-1zM20 477h1v2h-1zM20 480h1v1h-1zM20 483h1v4h-1zM20 489h1v1h-1zM20 493h1v2h-1zM20 597h1v1h-1zM20 601h1v2h-1zM20 605h1v2h-1zM20 609h1v1h-1zM20 611h1v2h-1zM21 20h1v3h-1zM21 87h1v1h-1zM21 168h1v1h-1zM21 201h1v3h-1zM21 205h1v2h-1zM21 208h1v5h-1zM21 215h1v2h-1zM21 219h1v3h-1zM21 223h1v2h-1zM21 320h1v1h-1zM21 323h1v1h-1zM21 326h1v2h-1zM21 330h1v3h-1zM21 426h1v1h-1zM21 429h1v4h-1zM21 434h1v1h-1zM21 500h1v4h-1zM21 512h1v2h-1zM21 593h1v2h-1zM21 600h1v1h-1zM21 603h1v2h-1zM21 607h1v4h-1zM21 613h1v1h-1zM21 615h1v1h-1zM22 20h1v3h-1zM22 85h1v2h-1zM22 200h1v4h-1zM22 205h1v2h-1zM22 208h1v4h-1zM22 213h1v5h-1zM22 219h1v6h-1zM22 227h1v2h-1zM22 230h1v1h-1zM22 232h1v2h-1zM22 269h1v3h-1zM22 274h1v3h-1zM22 320h1v1h-1zM22 325h1v1h-1zM22 330h1v3h-1zM22 334h1v2h-1zM22 337h1v1h-1zM22 339h1v6h-1zM22 346h1v1h-1zM22 348h1v3h-1zM22 353h1v2h-1zM22 356h1v3h-1zM22 360h1v1h-1zM22 364h1v4h-1zM22 369h1v4h-1zM22 374h1v8h-1zM22 383h1v1h-1zM22 385h1v12h-1zM22 398h1v1h-1zM22 400h1v3h-1zM22 405h1v1h-1zM22 407h1v2h-1zM22 410h1v7h-1zM22 428h1v1h-1zM22 436h1v2h-1zM22 451h1v1h-1zM22 453h1v2h-1zM22 592h1v2h-1zM22 595h1v1h-1zM22 601h1v1h-1zM22 605h1v1h-1zM22 612h1v1h-1zM23 20h1v2h-1zM23 85h1v2h-1zM23 201h1v3h-1zM23 205h1v7h-1zM23 213h1v1h-1zM23 215h1v10h-1zM23 320h1v3h-1zM23 326h1v2h-1zM23 330h1v3h-1zM23 336h1v1h-1zM23 345h1v2h-1zM23 349h1v1h-1zM23 351h1v5h-1zM23 357h1v3h-1zM23 361h1v7h-1zM23 369h1v15h-1zM23 386h1v4h-1zM23 391h1v2h-1zM23 395h1v3h-1zM23 400h1v1h-1zM23 402h1v4h-1zM23 408h1v6h-1zM23 415h1v2h-1zM23 428h1v1h-1zM23 591h1v1h-1zM23 602h1v1h-1zM23 606h1v1h-1zM23 612h1v1h-1zM23 614h1v1h-1z"/>
<path fill="#7a7aff" d="M0 9h1v1h-1zM0 297h1v1h-1zM0 359h1v1h-1zM0 369h1v1h-1zM0 393h1v2h-1zM0 409h1v1h-1zM0 495h1v1h-1zM0 603h1v1h-1zM0 606h1v1h-1zM0 609h1v2h-1zM1 93h1v1h-1zM1 355h1v1h-1zM1 360h1v1h-1zM1 369h1v1h-1zM1 427h1v2h-1zM1 490h1v1h-1zM1 514h1v1h-1zM1 545h1v1h-1zM1 610h1v1h-1zM1 616h1v1h-1zM2 56h1v1h-1zM2 82h1v3h-1zM2 94h1v1h-1zM2 272h1v1h-1zM2 285h1v1h-1zM2 293h1v1h-1zM2 334h1v1h-1zM2 394h1v2h-1zM2 427h1v1h-1zM2 603h1v2h-1zM2 610h1v1h-1zM2 612h1v1h-1zM2 616h1v1h-1zM3 4h1v2h-1zM3 355h1v1h-1zM3 359h1v1h-1zM3 363h1v1h-1zM3 605h1v2h-1zM3 609h1v1h-1zM3 611h1v2h-1zM4 9h1v1h-1zM4 66h1v1h-1zM4 275h1v1h-1zM4 285h1v2h-1zM4 334h1v1h-1zM4 359h1v1h-1zM4 365h1v1h-1zM4 369h1v1h-1zM4 606h1v1h-1zM4 610h1v3h-1zM4 616h1v1h-1zM5 110h1v1h-1zM5 123h1v3h-1zM5 144h1v1h-1zM5 149h1v2h-1zM5 167h1v1h-1zM5 174h1v2h-1zM5 180h1v1h-1zM5 189h1v1h-1zM5 192h1v1h-1zM5 198h1v1h-1zM5 334h1v1h-1zM5 355h1v1h-1zM5 357h1v1h-1zM5 369h1v1h-1zM5 394h1v1h-1zM5 604h1v3h-1zM5 609h1v1h-1zM5 611h1v2h-1zM5 616h1v1h-1zM6 114h1v1h-1zM6 123h1v3h-1zM6 152h1v1h-1zM6 154h1v1h-1zM6 162h1v1h-1zM6 164h1v1h-1zM6 181h1v1h-1zM6 196h1v1h-1zM6 206h1v1h-1zM6 216h1v1h-1zM6 326h1v1h-1zM6 352h1v2h-1zM6 369h1v1h-1zM6 374h1v1h-1zM6 605h1v2h-1zM6 609h1v2h-1zM7 209h1v1h-1zM7 219h1v1h-1zM7 273h1v1h-1zM7 325h1v1h-1zM7 333h1v1h-1zM7 355h1v2h-1zM7 409h1v1h-1zM7 598h1v1h-1zM7 606h1v1h-1zM7 609h1v1h-1zM7 612h1v1h-1zM7 615h1v2h-1zM8 123h1v3h-1zM8 174h1v2h-1zM8 193h1v1h-1zM8 207h1v1h-1zM8 221h1v2h-1zM8 226h1v1h-1zM8 332h1v1h-1zM8 334h1v1h-1zM8 364h1v1h-1zM8 393h1v1h-1zM8 395h1v1h-1zM8 603h1v2h-1zM8 609h1v2h-1zM9 0h1v1h-1zM9 2h1v1h-1zM9 114h1v1h-1zM9 118h1v1h-1zM9 120h1v1h-1zM9 155h1v1h-1zM9 168h1v1h-1zM9 174h1v1h-1zM9 176h1v1h-1zM9 198h1v2h-1zM9 206h1v1h-1zM9 208h1v1h-1zM9 210h1v1h-1zM9 221h1v1h-1zM9 320h1v1h-1zM9 355h1v1h-1zM9 359h1v1h-1zM9 380h1v1h-1zM9 393h1v1h-1zM9 395h1v1h-1zM9 409h1v1h-1zM9 605h1v1h-1zM9 609h1v1h-1zM9 612h1v1h-1zM10 208h1v1h-1zM10 215h1v1h-1zM10 217h1v1h-1zM10 325h1v1h-1zM10 355h1v1h-1zM10 427h1v1h-1zM10 488h1v1h-1zM10 492h1v1h-1zM10 526h1v1h-1zM10 592h1v1h-1zM10 605h1v1h-1zM10 611h1v2h-1zM11 206h1v3h-1zM11 220h1v1h-1zM11 280h1v1h-1zM11 325h1v1h-1zM11 327h1v1h-1zM11 334h1v1h-1zM11 353h1v1h-1zM11 355h1v2h-1zM11 361h1v1h-1zM11 374h1v1h-1zM11 408h1v1h-1zM11 599h1v1h-1zM11 606h1v1h-1zM11 610h1v1h-1zM12 92h1v1h-1zM12 147h1v1h-1zM12 155h1v2h-1zM12 167h1v1h-1zM12 200h1v1h-1zM12 269h1v1h-1zM12 348h1v1h-1zM12 363h1v1h-1zM12 368h1v1h-1zM12 394h1v1h-1zM12 427h1v1h-1zM12 438h1v2h-1zM12 511h1v1h-1zM13 32h1v1h-1zM13 155h1v1h-1zM13 168h1v1h-1zM13 208h1v1h-1zM13 220h1v2h-1zM13 334h1v1h-1zM13 349h1v1h-1zM13 355h1v1h-1zM13 368h1v1h-1zM13 390h1v1h-1zM13 395h1v1h-1zM13 426h1v1h-1zM13 438h1v3h-1zM13 443h1v1h-1zM13 446h1v1h-1zM13 534h1v2h-1zM13 543h1v1h-1zM14 21h1v1h-1zM14 26h1v1h-1zM14 28h1v1h-1zM14 92h1v1h-1zM14 156h1v1h-1zM14 167h1v2h-1zM14 200h1v1h-1zM14 206h1v1h-1zM14 208h1v1h-1zM14 359h1v1h-1zM14 364h1v2h-1zM14 368h1v1h-1zM14 373h1v2h-1zM14 388h1v1h-1zM14 390h1v1h-1zM15 20h1v1h-1zM15 22h1v1h-1zM15 85h1v1h-1zM15 136h1v1h-1zM15 157h1v1h-1zM15 167h1v1h-1zM15 200h1v1h-1zM15 206h1v1h-1zM15 208h1v1h-1zM15 219h1v1h-1zM15 333h1v1h-1zM15 355h1v3h-1zM15 390h1v1h-1zM15 427h1v1h-1zM15 431h1v1h-1zM15 447h1v2h-1zM15 512h1v1h-1zM16 21h1v1h-1zM16 86h1v1h-1zM16 99h1v1h-1zM16 109h1v1h-1zM16 155h1v2h-1zM16 200h1v1h-1zM16 207h1v2h-1zM16 221h1v2h-1zM16 230h1v1h-1zM16 368h1v1h-1zM16 378h1v1h-1zM16 381h1v1h-1zM16 395h1v1h-1zM16 405h1v1h-1zM16 435h1v1h-1zM17 20h1v1h-1zM17 22h1v1h-1zM17 35h1v1h-1zM17 81h1v1h-1zM17 131h1v1h-1zM17 157h1v1h-1zM17 167h1v1h-1zM17 190h1v1h-1zM17 205h1v3h-1zM17 213h1v1h-1zM17 279h1v1h-1zM17 606h1v1h-1zM17 610h1v1h-1zM18 25h1v1h-1zM18 47h1v1h-1zM18 145h1v1h-1zM18 155h1v2h-1zM18 167h1v2h-1zM18 200h1v1h-1zM18 216h1v1h-1zM18 293h1v1h-1zM18 499h1v1h-1zM18 537h1v1h-1zM18 543h1v1h-1zM18 609h1v2h-1zM18 612h1v1h-1zM19 87h1v1h-1zM19 112h1v1h-1zM19 156h1v2h-1zM19 167h1v1h-1zM19 200h1v1h-1zM19 217h1v2h-1zM19 221h1v1h-1zM19 228h1v1h-1zM19 285h1v1h-1zM19 292h1v1h-1zM19 448h1v1h-1zM19 456h1v1h-1zM19 558h1v1h-1zM19 616h1v1h-1zM20 20h1v3h-1zM20 28h1v1h-1zM20 41h1v1h-1zM20 133h1v1h-1zM20 155h1v2h-1zM20 167h1v1h-1zM20 200h1v1h-1zM20 209h1v1h-1zM20 215h1v1h-1zM20 220h1v1h-1zM20 329h1v1h-1zM20 334h1v1h-1zM20 463h1v1h-1zM20 472h1v1h-1zM20 616h1v1h-1zM21 35h1v1h-1zM21 86h1v1h-1zM21 139h1v1h-1zM21 156h1v1h-1zM21 167h1v1h-1zM21 200h1v1h-1zM21 207h1v1h-1zM21 222h1v1h-1zM21 325h1v1h-1zM21 329h1v1h-1zM22 35h1v1h-1zM22 87h1v1h-1zM22 91h1v1h-1zM22 156h1v2h-1zM22 167h1v2h-1zM22 204h1v1h-1zM22 207h1v1h-1zM22 273h1v1h-1zM22 323h1v1h-1zM22 326h1v2h-1zM22 329h1v1h-1zM22 333h1v1h-1zM22 336h1v1h-1zM22 352h1v1h-1zM22 355h1v1h-1zM22 359h1v1h-1zM22 361h1v3h-1zM22 368h1v1h-1zM22 382h1v1h-1zM22 403h1v2h-1zM22 409h1v1h-1zM22 427h1v1h-1zM22 447h1v2h-1zM22 606h1v1h-1zM22 609h1v1h-1zM22 611h1v1h-1zM23 22h1v1h-1zM23 87h1v1h-1zM23 156h1v1h-1zM23 167h1v2h-1zM23 200h1v1h-1zM23 227h1v1h-1zM23 323h1v1h-1zM23 325h1v1h-1zM23 329h1v1h-1zM23 334h1v1h-1zM23 348h1v1h-1zM23 356h1v1h-1zM23 360h1v1h-1zM23 368h1v1h-1zM23 390h1v1h-1zM23 394h1v1h-1zM23 414h1v1h-1zM23 427h1v1h-1zM23 605h1v1h-1zM23 611h1v1h-1z"/>
<path fill="#9999ff" d="M0 13h1v1h-1zM0 18h1v2h-1zM0 28h1v1h-1zM0 32h1v1h-1zM0 36h1v6h-1zM0 43h1v3h-1zM0 47h1v3h-1zM0 52h1v1h-1zM0 57h1v1h-1zM0 59h1v3h-1zM0 68h1v9h-1zM0 78h1v4h-1zM0 201h1v1h-1zM0 203h1v2h-1zM0 208h1v6h-1zM0 225h1v1h-1zM0 228h1v2h-1zM0 232h1v1h-1zM0 235h1v7h-1zM0 243h1v1h-1zM0 245h1v5h-1zM0 251h1v4h-1zM0 256h1v1h-1zM0 258h1v8h-1zM0 267h1v1h-1zM0 320h1v1h-1zM0 331h1v2h-1zM1 25h1v1h-1zM1 27h1v1h-1zM1 32h1v1h-1zM1 34h1v1h-1zM1 36h1v6h-1zM1 50h1v1h-1zM1 55h1v3h-1zM1 59h1v6h-1zM1 97h1v6h-1zM1 201h1v2h-1zM1 225h1v1h-1zM1 231h1v8h-1zM1 240h1v2h-1zM1 245h1v10h-1zM1 259h1v10h-1zM1 320h1v1h-1zM1 331h1v1h-1zM2 0h1v3h-1zM2 19h1v1h-1zM2 95h1v1h-1zM2 99h1v3h-1zM2 103h1v6h-1zM2 200h1v2h-1zM2 203h1v1h-1zM2 228h1v1h-1zM2 231h1v1h-1zM2 233h1v1h-1zM2 235h1v4h-1zM2 240h1v2h-1zM2 245h1v11h-1zM2 258h1v11h-1zM2 320h1v1h-1zM2 326h1v1h-1zM3 32h1v1h-1zM3 36h1v2h-1zM3 39h1v1h-1zM3 55h1v3h-1zM3 63h1v2h-1zM3 73h1v1h-1zM3 75h1v3h-1zM3 95h1v1h-1zM3 105h1v3h-1zM3 236h1v6h-1zM3 245h1v6h-1zM3 252h1v4h-1zM3 258h1v8h-1zM3 267h1v2h-1zM3 320h1v1h-1zM3 331h1v1h-1zM4 13h1v2h-1zM4 74h1v1h-1zM4 81h1v1h-1zM4 84h1v1h-1zM4 88h1v2h-1zM4 91h1v4h-1zM4 98h1v5h-1zM4 109h1v5h-1zM4 121h1v1h-1zM4 126h1v1h-1zM4 131h1v3h-1zM4 139h1v3h-1zM4 145h1v1h-1zM4 153h1v3h-1zM4 162h1v3h-1zM4 169h1v1h-1zM4 177h1v3h-1zM4 185h1v1h-1zM4 194h1v1h-1zM4 196h1v1h-1zM4 202h1v1h-1zM4 225h1v1h-1zM4 228h1v3h-1zM4 234h1v1h-1zM4 236h1v3h-1zM4 240h1v2h-1zM4 243h1v1h-1zM4 245h1v5h-1zM4 251h1v4h-1zM4 259h1v2h-1zM4 262h1v4h-1zM4 267h1v2h-1zM4 332h1v1h-1zM5 26h1v1h-1zM5 31h1v1h-1zM5 42h1v1h-1zM5 44h1v3h-1zM5 53h1v1h-1zM5 89h1v3h-1zM5 95h1v1h-1zM5 97h1v3h-1zM5 101h1v1h-1zM5 103h1v6h-1zM5 127h1v1h-1zM5 131h1v1h-1zM5 133h1v1h-1zM5 140h1v2h-1zM5 145h1v3h-1zM5 154h1v2h-1zM5 163h1v2h-1zM5 166h1v1h-1zM5 202h1v2h-1zM5 225h1v1h-1zM5 227h1v1h-1zM5 230h1v1h-1zM5 234h1v1h-1zM5 236h1v1h-1zM5 238h1v1h-1zM5 240h1v3h-1zM5 245h1v10h-1zM5 259h1v7h-1zM5 267h1v1h-1zM5 332h1v1h-1zM6 97h1v4h-1zM6 104h1v1h-1zM6 106h1v1h-1zM6 108h1v1h-1zM6 167h1v2h-1zM6 201h1v1h-1zM6 203h1v1h-1zM6 235h1v4h-1zM6 240h1v3h-1zM6 245h1v10h-1zM6 258h1v8h-1zM6 267h1v2h-1zM7 1h1v1h-1zM7 20h1v2h-1zM7 97h1v4h-1zM7 102h1v1h-1zM7 144h1v1h-1zM7 148h1v1h-1zM7 158h1v3h-1zM7 165h1v1h-1zM7 201h1v3h-1zM7 236h1v3h-1zM7 240h1v1h-1zM7 242h1v1h-1zM7 245h1v7h-1zM7 253h1v5h-1zM7 259h1v1h-1zM7 261h1v5h-1zM7 268h1v1h-1zM8 27h1v1h-1zM8 32h1v1h-1zM8 36h1v2h-1zM8 39h1v3h-1zM8 127h1v1h-1zM8 129h1v1h-1zM8 131h1v2h-1zM8 134h1v1h-1zM8 136h1v4h-1zM8 145h1v2h-1zM8 148h1v1h-1zM8 154h1v2h-1zM8 158h1v3h-1zM8 162h1v4h-1zM8 177h1v3h-1zM8 185h1v2h-1zM8 191h1v1h-1zM8 195h1v3h-1zM8 201h1v2h-1zM8 236h1v3h-1zM8 240h1v2h-1zM8 245h1v4h-1zM8 250h1v7h-1zM8 258h1v9h-1zM8 268h1v1h-1zM9 5h1v1h-1zM9 7h1v1h-1zM9 10h1v2h-1zM9 128h1v2h-1zM9 136h1v3h-1zM9 142h1v2h-1zM9 146h1v1h-1zM9 148h1v1h-1zM9 153h1v1h-1zM9 158h1v3h-1zM9 166h1v1h-1zM9 201h1v2h-1zM9 235h1v7h-1zM9 243h1v1h-1zM9 245h1v4h-1zM9 250h1v5h-1zM9 256h1v10h-1zM9 268h1v5h-1zM9 275h1v2h-1zM9 284h1v1h-1zM9 287h1v4h-1zM10 1h1v2h-1zM10 11h1v2h-1zM10 57h1v6h-1zM10 96h1v4h-1zM10 101h1v2h-1zM10 203h1v1h-1zM10 235h1v4h-1zM10 240h1v1h-1zM10 245h1v6h-1zM10 252h1v5h-1zM10 258h1v1h-1zM10 260h1v8h-1zM11 7h1v2h-1zM11 97h1v4h-1zM11 102h1v1h-1zM11 201h1v3h-1zM11 235h1v7h-1zM11 245h1v3h-1zM11 249h1v2h-1zM11 252h1v3h-1zM11 257h1v1h-1zM11 259h1v8h-1zM11 268h1v1h-1zM12 233h1v1h-1zM12 235h1v4h-1zM12 240h1v2h-1zM12 243h1v6h-1zM12 250h1v7h-1zM12 258h1v8h-1zM12 305h1v1h-1zM12 308h1v2h-1zM12 316h1v1h-1zM13 235h1v7h-1zM13 245h1v6h-1zM13 252h1v3h-1zM13 256h1v1h-1zM13 258h1v2h-1zM13 320h1v1h-1zM13 324h1v2h-1zM13 327h1v1h-1zM13 330h1v2h-1zM13 427h1v2h-1zM14 228h1v1h-1zM14 231h1v1h-1zM14 233h1v6h-1zM14 240h1v1h-1zM14 245h1v10h-1zM14 258h1v8h-1zM14 320h1v6h-1zM14 330h1v2h-1zM14 427h1v1h-1zM15 236h1v3h-1zM15 240h1v2h-1zM15 245h1v10h-1zM15 256h1v1h-1zM15 258h1v8h-1zM15 268h1v4h-1zM15 274h1v3h-1zM15 321h1v2h-1zM15 324h1v3h-1zM15 330h1v2h-1zM16 0h1v1h-1zM16 2h1v1h-1zM16 235h1v6h-1zM16 245h1v10h-1zM16 256h1v1h-1zM16 259h1v2h-1zM16 320h1v1h-1zM16 322h1v1h-1zM16 330h1v2h-1zM16 349h1v5h-1zM16 355h1v3h-1zM16 364h1v1h-1zM16 366h1v1h-1zM17 0h1v2h-1zM17 6h1v1h-1zM17 11h1v2h-1zM17 225h1v3h-1zM17 229h1v3h-1zM17 235h1v4h-1zM17 240h1v2h-1zM17 245h1v3h-1zM17 249h1v1h-1zM17 251h1v4h-1zM17 258h1v8h-1zM17 269h1v3h-1zM17 273h1v1h-1zM17 276h1v1h-1zM18 120h1v2h-1zM18 225h1v5h-1zM18 231h1v4h-1zM18 236h1v2h-1zM18 240h1v1h-1zM18 242h1v1h-1zM18 245h1v4h-1zM18 251h1v4h-1zM18 256h1v1h-1zM18 258h1v8h-1zM19 233h1v1h-1zM19 235h1v4h-1zM19 240h1v2h-1zM19 245h1v10h-1zM19 256h1v10h-1zM20 0h1v2h-1zM20 3h1v1h-1zM20 228h1v1h-1zM20 233h1v1h-1zM20 236h1v3h-1zM20 240h1v2h-1zM20 246h1v9h-1zM20 256h1v1h-1zM20 258h1v2h-1zM20 261h1v6h-1zM20 268h1v4h-1zM20 273h1v1h-1zM20 275h1v2h-1zM20 328h1v1h-1zM21 235h1v8h-1zM21 244h1v11h-1zM21 257h1v9h-1zM21 267h1v1h-1zM21 304h1v1h-1zM21 308h1v2h-1zM21 311h1v1h-1zM21 315h1v2h-1zM21 318h1v2h-1zM21 459h1v1h-1zM21 466h1v1h-1zM21 471h1v4h-1zM21 478h1v10h-1zM21 489h1v2h-1zM21 492h1v4h-1zM22 0h1v2h-1zM22 235h1v4h-1zM22 240h1v1h-1zM23 0h1v2h-1zM23 226h1v1h-1zM23 228h1v1h-1zM23 232h1v1h-1z"/>
<path fill="#f5f5ff" d="M0 20h1v3h-1zM0 85h1v1h-1zM2 167h1v2h-1zM3 20h1v3h-1zM3 85h1v1h-1zM3 111h1v1h-1zM3 115h1v3h-1zM3 123h1v2h-1zM4 428h1v1h-1zM6 20h1v3h-1zM6 86h1v1h-1zM6 427h1v1h-1zM7 85h1v3h-1zM7 167h1v2h-1zM7 427h1v1h-1zM9 20h1v3h-1zM9 85h1v3h-1zM10 86h1v1h-1zM12 6h1v1h-1zM13 272h1v1h-1zM13 314h1v1h-1zM16 4h1v1h-1zM16 292h1v1h-1zM16 427h1v2h-1zM17 314h1v1h-1zM17 428h1v1h-1zM18 427h1v2h-1zM21 427h1v2h-1z"/>
<path fill="#ccccff" d="M0 26h1v1h-1zM0 55h1v1h-1zM0 108h1v1h-1zM0 155h1v3h-1zM0 285h1v2h-1zM0 324h1v1h-1zM2 25h1v1h-1zM2 44h1v1h-1zM2 155h1v2h-1zM3 26h1v1h-1zM4 20h1v1h-1zM4 39h1v1h-1zM4 171h1v1h-1zM4 312h1v1h-1zM4 314h1v1h-1zM4 318h1v2h-1zM4 324h1v1h-1zM4 427h1v1h-1zM5 20h1v1h-1zM5 25h1v1h-1zM5 28h1v1h-1zM5 92h1v1h-1zM5 321h1v1h-1zM5 427h1v1h-1zM5 434h1v1h-1zM6 47h1v3h-1zM6 292h1v1h-1zM6 301h1v1h-1zM7 131h1v1h-1zM7 140h1v1h-1zM7 190h1v1h-1zM7 292h1v1h-1zM7 367h1v1h-1zM8 20h1v1h-1zM8 26h1v1h-1zM8 35h1v1h-1zM8 285h1v1h-1zM8 291h1v1h-1zM9 428h1v1h-1zM10 69h1v1h-1zM10 71h1v1h-1zM10 133h1v1h-1zM10 155h1v3h-1zM10 285h1v1h-1zM10 291h1v2h-1zM10 297h1v1h-1zM10 306h1v1h-1zM10 314h1v1h-1zM10 334h1v1h-1zM11 1h1v1h-1zM11 26h1v1h-1zM11 45h1v1h-1zM11 47h1v2h-1zM11 285h1v1h-1zM11 292h1v2h-1zM12 302h1v1h-1zM12 406h1v1h-1zM12 421h1v1h-1zM12 458h1v1h-1zM12 472h1v1h-1zM12 489h1v1h-1zM12 492h1v1h-1zM12 495h1v1h-1zM14 491h1v1h-1zM15 122h1v1h-1zM15 314h1v1h-1zM15 406h1v1h-1zM16 278h1v1h-1zM16 285h1v1h-1zM16 347h1v1h-1zM16 450h1v1h-1zM17 483h1v1h-1zM17 495h1v1h-1zM17 506h1v1h-1zM17 515h1v1h-1zM18 306h1v1h-1zM18 310h1v1h-1zM18 495h1v1h-1zM19 371h1v1h-1zM19 393h1v1h-1zM19 599h1v1h-1zM19 607h1v2h-1zM20 10h1v1h-1zM20 120h1v2h-1zM20 552h1v1h-1zM21 2h1v1h-1zM21 7h1v1h-1zM21 110h1v1h-1zM21 122h1v1h-1zM21 450h1v1h-1zM21 491h1v1h-1zM21 552h1v1h-1zM22 285h1v1h-1z"/>
<path fill="#a3a3ff" d="M0 27h1v1h-1zM0 77h1v1h-1zM1 28h1v1h-1zM3 27h1v2h-1zM3 108h1v1h-1zM4 156h1v2h-1zM4 320h1v1h-1zM5 86h1v1h-1zM5 156h1v2h-1zM5 324h1v1h-1zM6 328h1v1h-1zM7 0h1v1h-1zM7 22h1v1h-1zM7 252h1v1h-1zM7 328h1v1h-1zM8 28h1v1h-1zM8 38h1v1h-1zM8 133h1v1h-1zM8 147h1v1h-1zM8 156h1v2h-1zM8 328h1v1h-1zM9 8h1v2h-1zM9 135h1v1h-1zM9 147h1v1h-1zM9 328h1v1h-1zM10 100h1v1h-1zM10 328h1v1h-1zM11 25h1v1h-1zM11 328h1v1h-1zM13 321h1v2h-1zM16 1h1v1h-1zM16 321h1v1h-1zM16 324h1v1h-1zM18 122h1v1h-1zM20 245h1v1h-1zM21 305h1v1h-1zM21 328h1v1h-1zM22 328h1v1h-1zM23 328h1v1h-1z"/>
<path fill="#c2c2ff" d="M0 31h1v1h-1zM0 35h1v1h-1zM0 42h1v1h-1zM0 46h1v1h-1zM0 51h1v1h-1zM0 56h1v1h-1zM0 62h1v3h-1zM0 88h1v2h-1zM0 91h1v3h-1zM0 95h1v1h-1zM0 102h1v3h-1zM0 106h1v1h-1zM0 127h1v1h-1zM0 131h1v3h-1zM0 141h1v1h-1zM0 145h1v1h-1zM0 151h1v1h-1zM0 161h1v2h-1zM0 164h1v1h-1zM0 169h1v2h-1zM0 179h1v1h-1zM0 181h1v2h-1zM0 184h1v4h-1zM0 193h1v1h-1zM0 195h1v2h-1zM0 198h1v1h-1zM0 269h1v3h-1zM0 273h1v4h-1zM0 283h1v2h-1zM0 287h1v4h-1zM0 321h1v2h-1zM0 325h1v2h-1zM0 330h1v1h-1zM1 0h1v2h-1zM1 4h1v2h-1zM1 11h1v2h-1zM1 14h1v1h-1zM1 16h1v1h-1zM1 68h1v1h-1zM1 70h1v11h-1zM1 90h1v2h-1zM1 95h1v1h-1zM1 104h1v5h-1zM1 181h1v2h-1zM1 185h1v1h-1zM1 189h1v1h-1zM1 192h1v2h-1zM1 195h1v2h-1zM1 269h1v2h-1zM1 273h1v1h-1zM1 276h1v1h-1zM1 321h1v1h-1zM1 324h1v1h-1zM1 326h1v1h-1zM1 330h1v1h-1zM2 42h1v1h-1zM2 131h1v1h-1zM2 133h1v1h-1zM2 139h1v3h-1zM2 145h1v1h-1zM2 157h1v1h-1zM2 162h1v2h-1zM2 321h1v2h-1zM2 324h1v2h-1zM2 327h1v1h-1zM2 330h1v1h-1zM2 364h1v1h-1zM2 367h1v1h-1zM3 0h1v2h-1zM3 3h1v1h-1zM3 13h1v2h-1zM3 17h1v1h-1zM3 19h1v1h-1zM3 23h1v1h-1zM3 31h1v1h-1zM3 35h1v1h-1zM3 38h1v1h-1zM3 42h1v1h-1zM3 46h1v1h-1zM3 58h1v1h-1zM3 60h1v3h-1zM3 67h1v6h-1zM3 74h1v1h-1zM3 78h1v1h-1zM3 80h1v2h-1zM3 89h1v1h-1zM3 91h1v2h-1zM3 94h1v1h-1zM3 97h1v1h-1zM3 99h1v4h-1zM3 321h1v2h-1zM3 324h1v2h-1zM3 327h1v1h-1zM3 330h1v1h-1zM4 2h1v2h-1zM4 25h1v1h-1zM4 27h1v2h-1zM4 32h1v1h-1zM4 34h1v2h-1zM4 37h1v2h-1zM4 40h1v1h-1zM4 90h1v1h-1zM4 95h1v1h-1zM4 103h1v1h-1zM4 105h1v1h-1zM4 107h1v2h-1zM4 114h1v1h-1zM4 128h1v1h-1zM4 134h1v2h-1zM4 137h1v1h-1zM4 146h1v1h-1zM4 152h1v1h-1zM4 159h1v2h-1zM4 165h1v1h-1zM4 170h1v1h-1zM4 172h1v2h-1zM4 180h1v1h-1zM4 183h1v2h-1zM4 186h1v1h-1zM4 189h1v1h-1zM4 191h1v3h-1zM4 231h1v1h-1zM4 233h1v1h-1zM4 272h1v2h-1zM4 302h1v2h-1zM4 306h1v2h-1zM4 310h1v1h-1zM4 313h1v1h-1zM4 317h1v1h-1zM4 321h1v2h-1zM4 325h1v3h-1zM4 330h1v2h-1zM4 426h1v1h-1zM4 429h1v3h-1zM4 433h1v2h-1zM5 1h1v1h-1zM5 6h1v1h-1zM5 12h1v1h-1zM5 27h1v1h-1zM5 29h1v1h-1zM5 32h1v2h-1zM5 35h1v7h-1zM5 43h1v1h-1zM5 47h1v3h-1zM5 51h1v1h-1zM5 56h1v1h-1zM5 62h1v3h-1zM5 73h1v1h-1zM5 78h1v1h-1zM5 88h1v1h-1zM5 94h1v1h-1zM5 204h1v1h-1zM5 207h1v1h-1zM5 210h1v1h-1zM5 217h1v2h-1zM5 221h1v1h-1zM5 223h1v2h-1zM5 322h1v1h-1zM5 325h1v2h-1zM5 330h1v2h-1zM5 430h1v4h-1zM5 435h1v1h-1zM6 5h1v1h-1zM6 9h1v1h-1zM6 43h1v2h-1zM6 50h1v1h-1zM6 52h1v2h-1zM6 225h1v1h-1zM6 231h1v2h-1zM6 234h1v1h-1zM6 286h1v1h-1zM6 291h1v1h-1zM6 293h1v5h-1zM6 299h1v1h-1zM6 304h1v2h-1zM6 308h1v3h-1zM6 315h1v1h-1zM6 317h1v1h-1zM7 55h1v2h-1zM7 63h1v2h-1zM7 103h1v2h-1zM7 106h1v3h-1zM7 138h1v1h-1zM7 170h1v4h-1zM7 182h1v3h-1zM7 188h1v2h-1zM7 191h1v1h-1zM7 225h1v1h-1zM7 228h1v2h-1zM7 232h1v1h-1zM7 287h1v1h-1zM7 293h1v4h-1zM7 299h1v1h-1zM7 301h1v1h-1zM7 364h1v3h-1zM8 25h1v1h-1zM8 31h1v1h-1zM8 42h1v2h-1zM8 45h1v1h-1zM8 55h1v1h-1zM8 58h1v2h-1zM8 63h1v2h-1zM8 225h1v1h-1zM8 230h1v1h-1zM8 232h1v1h-1zM8 286h1v2h-1zM8 290h1v1h-1zM8 292h1v1h-1zM8 298h1v1h-1zM8 304h1v2h-1zM8 308h1v2h-1zM8 315h1v2h-1zM9 23h1v1h-1zM9 233h1v1h-1zM9 304h1v5h-1zM9 310h1v2h-1zM9 316h1v4h-1zM9 429h1v3h-1zM9 433h1v2h-1zM10 3h1v1h-1zM10 55h1v2h-1zM10 63h1v2h-1zM10 68h1v1h-1zM10 70h1v1h-1zM10 73h1v1h-1zM10 76h1v3h-1zM10 81h1v1h-1zM10 88h1v1h-1zM10 90h1v2h-1zM10 93h1v1h-1zM10 95h1v1h-1zM10 104h1v1h-1zM10 106h1v1h-1zM10 108h1v1h-1zM10 127h1v1h-1zM10 131h1v2h-1zM10 139h1v2h-1zM10 145h1v1h-1zM10 152h1v1h-1zM10 154h1v1h-1zM10 161h1v4h-1zM10 166h1v1h-1zM10 269h1v4h-1zM10 274h1v1h-1zM10 276h1v1h-1zM10 293h1v4h-1zM10 299h1v1h-1zM10 301h1v3h-1zM10 310h1v2h-1zM10 313h1v1h-1zM10 318h1v1h-1zM11 0h1v1h-1zM11 13h1v1h-1zM11 18h1v1h-1zM11 23h1v1h-1zM11 31h1v1h-1zM11 43h1v2h-1zM11 46h1v1h-1zM11 49h1v1h-1zM11 54h1v1h-1zM11 88h1v1h-1zM11 95h1v1h-1zM11 103h1v1h-1zM11 105h1v1h-1zM11 107h1v2h-1zM11 225h1v1h-1zM11 228h1v2h-1zM11 231h1v1h-1zM11 234h1v1h-1zM11 291h1v1h-1zM11 294h1v3h-1zM11 300h1v2h-1zM12 0h1v2h-1zM12 205h1v1h-1zM12 210h1v2h-1zM12 268h1v1h-1zM12 272h1v1h-1zM12 303h1v1h-1zM12 312h1v2h-1zM12 403h1v1h-1zM12 408h1v2h-1zM12 415h1v4h-1zM12 420h1v1h-1zM12 422h1v1h-1zM12 442h1v1h-1zM12 457h1v1h-1zM12 467h1v1h-1zM12 471h1v1h-1zM12 474h1v5h-1zM12 482h1v1h-1zM12 485h1v1h-1zM12 488h1v1h-1zM12 490h1v1h-1zM12 493h1v2h-1zM12 498h1v1h-1zM12 500h1v1h-1zM12 502h1v1h-1zM12 513h1v1h-1zM12 534h1v1h-1zM12 539h1v3h-1zM12 544h1v1h-1zM12 553h1v2h-1zM12 556h1v2h-1zM12 560h1v3h-1zM12 568h1v1h-1zM12 576h1v3h-1zM12 584h1v1h-1zM12 589h1v2h-1zM13 7h1v6h-1zM13 305h1v3h-1zM13 310h1v2h-1zM13 316h1v3h-1zM13 350h1v2h-1zM13 353h1v1h-1zM13 357h1v1h-1zM13 361h1v1h-1zM13 363h1v1h-1zM13 366h1v1h-1zM13 425h1v1h-1zM13 437h1v1h-1zM13 451h1v2h-1zM13 503h1v1h-1zM13 508h1v1h-1zM13 510h1v1h-1zM13 514h1v2h-1zM13 518h1v1h-1zM13 531h1v1h-1zM13 542h1v1h-1zM13 558h1v1h-1zM13 565h1v1h-1zM13 569h1v1h-1zM13 575h1v1h-1zM13 580h1v2h-1zM13 584h1v2h-1zM13 587h1v1h-1zM14 0h1v2h-1zM14 4h1v1h-1zM14 7h1v4h-1zM14 12h1v1h-1zM14 117h1v1h-1zM14 120h1v2h-1zM14 267h1v1h-1zM14 273h1v1h-1zM14 278h1v2h-1zM14 281h1v5h-1zM14 287h1v4h-1zM14 297h1v1h-1zM14 300h1v1h-1zM14 304h1v1h-1zM14 306h1v4h-1zM14 311h1v1h-1zM14 315h1v1h-1zM14 317h1v2h-1zM14 335h1v9h-1zM14 348h1v2h-1zM14 353h1v1h-1zM14 356h1v2h-1zM14 361h1v1h-1zM14 366h1v1h-1zM14 401h1v2h-1zM14 408h1v1h-1zM14 413h1v1h-1zM14 416h1v1h-1zM14 421h1v1h-1zM14 435h1v1h-1zM14 439h1v2h-1zM14 449h1v2h-1zM14 457h1v2h-1zM14 460h1v3h-1zM14 464h1v2h-1zM14 471h1v2h-1zM14 475h1v1h-1zM14 477h1v2h-1zM14 490h1v1h-1zM14 495h1v5h-1zM14 503h1v1h-1zM14 507h1v1h-1zM14 514h1v2h-1zM14 592h1v3h-1zM14 598h1v3h-1zM14 607h1v2h-1zM14 613h1v3h-1zM15 1h1v1h-1zM15 5h1v1h-1zM15 10h1v1h-1zM15 233h1v1h-1zM15 302h1v2h-1zM15 306h1v2h-1zM15 311h1v3h-1zM15 317h1v3h-1zM15 366h1v1h-1zM15 404h1v1h-1zM15 407h1v1h-1zM15 410h1v3h-1zM15 414h1v2h-1zM15 424h1v1h-1zM15 438h1v1h-1zM15 443h1v1h-1zM15 449h1v2h-1zM16 279h1v4h-1zM16 286h1v1h-1zM16 296h1v2h-1zM16 299h1v2h-1zM16 333h1v1h-1zM16 336h1v1h-1zM16 338h1v6h-1zM16 361h1v1h-1zM16 417h1v1h-1zM16 425h1v1h-1zM16 439h1v2h-1zM16 442h1v1h-1zM16 444h1v2h-1zM16 449h1v1h-1zM16 456h1v1h-1zM16 460h1v3h-1zM16 465h1v1h-1zM16 490h1v1h-1zM16 496h1v3h-1zM16 504h1v3h-1zM16 509h1v1h-1zM16 514h1v1h-1zM16 530h1v1h-1zM16 532h1v1h-1zM16 539h1v3h-1zM16 544h1v1h-1zM16 552h1v1h-1zM16 556h1v2h-1zM16 560h1v3h-1zM16 577h1v2h-1zM16 585h1v1h-1zM16 591h1v3h-1zM16 595h1v3h-1zM16 601h1v2h-1zM17 3h1v2h-1zM17 7h1v2h-1zM17 10h1v1h-1zM17 121h1v2h-1zM17 209h1v2h-1zM17 228h1v1h-1zM17 233h1v2h-1zM17 344h1v4h-1zM17 349h1v2h-1zM17 352h1v1h-1zM17 364h1v1h-1zM17 436h1v1h-1zM17 451h1v3h-1zM17 459h1v1h-1zM17 464h1v1h-1zM17 469h1v3h-1zM17 473h1v2h-1zM17 476h1v7h-1zM17 484h1v6h-1zM17 493h1v2h-1zM17 503h1v3h-1zM17 507h1v1h-1zM17 509h1v1h-1zM17 532h1v2h-1zM17 539h1v3h-1zM17 552h1v1h-1zM17 556h1v2h-1zM17 560h1v1h-1zM17 562h1v1h-1zM17 568h1v1h-1zM17 571h1v1h-1zM17 577h1v2h-1zM18 204h1v1h-1zM18 209h1v3h-1zM18 270h1v2h-1zM18 273h1v1h-1zM18 275h1v2h-1zM18 304h1v1h-1zM18 307h1v3h-1zM18 315h1v2h-1zM18 319h1v1h-1zM18 336h1v8h-1zM18 442h1v1h-1zM18 444h1v1h-1zM18 449h1v2h-1zM18 459h1v1h-1zM18 471h1v4h-1zM18 479h1v5h-1zM18 485h1v5h-1zM18 492h1v3h-1zM18 500h1v3h-1zM18 513h1v1h-1zM18 515h1v1h-1zM18 520h1v1h-1zM18 531h1v1h-1zM18 542h1v1h-1zM18 545h1v2h-1zM18 555h1v1h-1zM18 558h1v1h-1zM18 565h1v1h-1zM18 574h1v1h-1zM18 579h1v4h-1zM18 584h1v1h-1zM18 589h1v2h-1zM19 204h1v1h-1zM19 209h1v3h-1zM19 304h1v3h-1zM19 308h1v2h-1zM19 315h1v2h-1zM19 318h1v1h-1zM19 354h1v1h-1zM19 357h1v1h-1zM19 363h1v4h-1zM19 372h1v2h-1zM19 377h1v1h-1zM19 381h1v2h-1zM19 388h1v2h-1zM19 391h1v1h-1zM19 396h1v1h-1zM19 440h1v1h-1zM19 444h1v1h-1zM19 449h1v2h-1zM19 457h1v1h-1zM19 506h1v1h-1zM19 508h1v2h-1zM19 515h1v1h-1zM19 519h1v1h-1zM19 521h1v3h-1zM19 525h1v4h-1zM19 530h1v1h-1zM19 543h1v2h-1zM19 547h1v1h-1zM19 550h1v2h-1zM19 554h1v1h-1zM19 562h1v1h-1zM19 571h1v2h-1zM19 575h1v1h-1zM19 581h1v1h-1zM19 583h1v1h-1zM19 594h1v1h-1zM19 598h1v1h-1zM19 600h1v1h-1zM19 603h1v2h-1zM19 613h1v3h-1zM20 6h1v4h-1zM20 12h1v1h-1zM20 117h1v1h-1zM20 122h1v1h-1zM20 267h1v1h-1zM20 272h1v1h-1zM20 283h1v2h-1zM20 288h1v3h-1zM20 348h1v1h-1zM20 351h1v1h-1zM20 366h1v1h-1zM20 460h1v3h-1zM20 464h1v2h-1zM20 467h1v1h-1zM20 469h1v1h-1zM20 471h1v1h-1zM20 476h1v1h-1zM20 482h1v1h-1zM20 490h1v2h-1zM20 496h1v1h-1zM20 498h1v2h-1zM20 506h1v1h-1zM20 508h1v2h-1zM20 514h1v2h-1zM20 532h1v2h-1zM20 537h1v1h-1zM20 539h1v3h-1zM20 553h1v1h-1zM20 556h1v2h-1zM20 560h1v1h-1zM20 562h1v1h-1zM20 568h1v1h-1zM20 570h1v1h-1zM20 576h1v1h-1zM20 578h1v1h-1zM21 0h1v2h-1zM21 8h1v1h-1zM21 117h1v1h-1zM21 121h1v1h-1zM21 227h1v1h-1zM21 230h1v1h-1zM21 266h1v1h-1zM21 269h1v3h-1zM21 273h1v1h-1zM21 275h1v2h-1zM21 278h1v1h-1zM21 281h1v5h-1zM21 287h1v4h-1zM21 297h1v1h-1zM21 348h1v1h-1zM21 350h1v1h-1zM21 352h1v2h-1zM21 356h1v1h-1zM21 358h1v1h-1zM21 363h1v1h-1zM21 366h1v1h-1zM21 443h1v1h-1zM21 445h1v1h-1zM21 449h1v1h-1zM21 461h1v2h-1zM21 465h1v1h-1zM21 467h1v1h-1zM21 469h1v1h-1zM21 475h1v3h-1zM21 488h1v1h-1zM21 498h1v1h-1zM21 504h1v1h-1zM21 506h1v4h-1zM21 514h1v2h-1zM21 521h1v6h-1zM21 530h1v2h-1zM21 547h1v1h-1zM21 550h1v2h-1zM21 554h1v1h-1zM21 560h1v1h-1zM21 570h1v1h-1zM21 579h1v1h-1zM21 581h1v1h-1zM21 583h1v3h-1zM21 587h1v1h-1zM22 2h1v2h-1zM22 279h1v1h-1zM22 284h1v1h-1zM22 286h1v1h-1zM22 293h1v1h-1zM22 296h1v2h-1zM22 299h1v1h-1zM22 438h1v1h-1zM22 440h1v2h-1zM22 443h1v4h-1zM22 449h1v2h-1zM23 451h1v2h-1zM23 460h1v3h-1zM23 468h1v1h-1zM23 497h1v1h-1z"/>
<path fill="#b8b8ff" d="M0 33h1v1h-1zM0 83h1v1h-1zM0 94h1v1h-1zM0 96h1v1h-1zM0 101h1v1h-1zM0 105h1v1h-1zM0 107h1v1h-1zM0 117h1v4h-1zM0 122h1v1h-1zM0 139h1v2h-1zM0 147h1v1h-1zM0 152h1v3h-1zM0 163h1v1h-1zM0 166h1v1h-1zM0 188h1v1h-1zM0 191h1v2h-1zM0 299h1v2h-1zM0 327h1v1h-1zM0 329h1v1h-1zM1 6h1v1h-1zM1 13h1v1h-1zM1 15h1v1h-1zM1 17h1v3h-1zM1 65h1v3h-1zM1 69h1v1h-1zM1 82h1v1h-1zM1 88h1v1h-1zM1 103h1v1h-1zM1 180h1v1h-1zM1 184h1v1h-1zM1 186h1v2h-1zM1 191h1v1h-1zM1 199h1v1h-1zM1 271h1v1h-1zM1 274h1v2h-1zM1 322h1v1h-1zM1 325h1v1h-1zM1 327h1v1h-1zM1 329h1v1h-1zM2 23h1v1h-1zM2 51h1v1h-1zM2 152h1v1h-1zM2 154h1v1h-1zM2 161h1v1h-1zM2 329h1v1h-1zM2 331h1v1h-1zM3 2h1v1h-1zM3 15h1v2h-1zM3 18h1v1h-1zM3 59h1v1h-1zM3 65h1v2h-1zM3 79h1v1h-1zM3 82h1v3h-1zM3 90h1v1h-1zM3 93h1v1h-1zM3 96h1v1h-1zM3 98h1v1h-1zM3 326h1v1h-1zM4 30h1v1h-1zM4 36h1v1h-1zM4 41h1v1h-1zM4 104h1v1h-1zM4 106h1v1h-1zM4 115h1v1h-1zM4 118h1v3h-1zM4 122h1v1h-1zM4 129h1v2h-1zM4 136h1v1h-1zM4 138h1v1h-1zM4 142h1v2h-1zM4 147h1v2h-1zM4 158h1v1h-1zM4 166h1v1h-1zM4 174h1v3h-1zM4 181h1v2h-1zM4 188h1v1h-1zM4 190h1v1h-1zM4 198h1v2h-1zM4 226h1v1h-1zM4 232h1v1h-1zM4 432h1v1h-1zM5 0h1v1h-1zM5 5h1v1h-1zM5 11h1v1h-1zM5 23h1v1h-1zM5 30h1v1h-1zM5 34h1v1h-1zM5 50h1v1h-1zM5 52h1v1h-1zM5 54h1v2h-1zM5 83h1v2h-1zM5 93h1v1h-1zM5 205h1v1h-1zM5 208h1v1h-1zM5 222h1v1h-1zM5 327h1v1h-1zM5 426h1v1h-1zM5 429h1v1h-1zM6 6h1v1h-1zM6 51h1v1h-1zM6 54h1v1h-1zM6 226h1v1h-1zM6 229h1v1h-1zM6 298h1v1h-1zM6 316h1v1h-1zM7 2h1v2h-1zM7 105h1v1h-1zM7 174h1v3h-1zM7 180h1v2h-1zM7 198h1v2h-1zM7 226h1v1h-1zM7 231h1v1h-1zM7 300h1v1h-1zM8 23h1v1h-1zM8 33h1v1h-1zM8 52h1v2h-1zM8 56h1v2h-1zM8 227h1v3h-1zM8 231h1v1h-1zM8 272h1v1h-1zM8 294h1v1h-1zM8 297h1v1h-1zM8 299h1v2h-1zM9 13h1v7h-1zM9 232h1v1h-1zM9 426h1v1h-1zM9 432h1v1h-1zM10 65h1v3h-1zM10 72h1v1h-1zM10 82h1v3h-1zM10 94h1v1h-1zM10 103h1v1h-1zM10 105h1v1h-1zM10 107h1v1h-1zM10 141h1v1h-1zM10 151h1v1h-1zM10 153h1v1h-1zM10 273h1v1h-1zM10 275h1v1h-1zM10 312h1v1h-1zM11 3h1v1h-1zM11 14h1v4h-1zM11 19h1v1h-1zM11 34h1v1h-1zM11 42h1v1h-1zM11 50h1v1h-1zM11 83h1v1h-1zM11 104h1v1h-1zM11 106h1v1h-1zM11 230h1v1h-1zM11 299h1v1h-1zM12 95h1v1h-1zM12 209h1v1h-1zM12 266h1v1h-1zM12 402h1v1h-1zM12 419h1v1h-1zM12 423h1v1h-1zM12 441h1v1h-1zM12 446h1v3h-1zM12 465h1v2h-1zM12 470h1v1h-1zM12 484h1v1h-1zM12 486h1v1h-1zM12 499h1v1h-1zM12 501h1v1h-1zM12 532h1v2h-1zM12 535h1v3h-1zM12 543h1v1h-1zM12 585h1v2h-1zM12 588h1v1h-1zM13 3h1v4h-1zM13 120h1v1h-1zM13 122h1v1h-1zM13 143h1v1h-1zM13 309h1v1h-1zM13 328h1v1h-1zM13 348h1v1h-1zM13 354h1v1h-1zM13 358h1v1h-1zM13 362h1v1h-1zM13 365h1v1h-1zM13 424h1v1h-1zM13 454h1v1h-1zM13 509h1v1h-1zM13 511h1v1h-1zM13 559h1v1h-1zM13 563h1v1h-1zM13 582h1v1h-1zM13 586h1v1h-1zM13 588h1v1h-1zM14 2h1v2h-1zM14 122h1v1h-1zM14 266h1v1h-1zM14 272h1v1h-1zM14 299h1v1h-1zM14 305h1v1h-1zM14 316h1v1h-1zM14 333h1v1h-1zM14 355h1v1h-1zM14 360h1v1h-1zM14 424h1v2h-1zM14 438h1v1h-1zM14 443h1v6h-1zM14 468h1v1h-1zM14 482h1v1h-1zM14 506h1v1h-1zM14 508h1v5h-1zM14 603h1v2h-1zM14 609h1v2h-1zM14 616h1v1h-1zM15 0h1v1h-1zM15 6h1v1h-1zM15 11h1v1h-1zM15 405h1v1h-1zM15 425h1v1h-1zM15 439h1v1h-1zM15 444h1v2h-1zM15 456h1v1h-1zM16 117h1v2h-1zM16 283h1v1h-1zM16 298h1v1h-1zM16 348h1v1h-1zM16 424h1v1h-1zM16 438h1v1h-1zM16 443h1v1h-1zM16 447h1v1h-1zM16 468h1v1h-1zM16 499h1v1h-1zM16 508h1v1h-1zM16 510h1v3h-1zM16 528h1v1h-1zM16 533h1v3h-1zM16 543h1v1h-1zM16 568h1v1h-1zM16 576h1v1h-1zM16 584h1v1h-1zM16 586h1v1h-1zM16 605h1v2h-1zM16 611h1v1h-1zM16 616h1v1h-1zM17 2h1v1h-1zM17 9h1v1h-1zM17 117h1v2h-1zM17 120h1v1h-1zM17 211h1v1h-1zM17 333h1v2h-1zM17 354h1v1h-1zM17 358h1v2h-1zM17 361h1v2h-1zM17 455h1v1h-1zM17 463h1v1h-1zM17 512h1v1h-1zM17 534h1v5h-1zM17 561h1v1h-1zM17 570h1v1h-1zM17 572h1v1h-1zM17 576h1v1h-1zM18 205h1v1h-1zM18 266h1v1h-1zM18 269h1v1h-1zM18 274h1v1h-1zM18 305h1v1h-1zM18 311h1v1h-1zM18 333h1v1h-1zM18 438h1v3h-1zM18 443h1v1h-1zM18 445h1v1h-1zM18 463h1v1h-1zM18 466h1v2h-1zM18 478h1v1h-1zM18 484h1v1h-1zM18 507h1v1h-1zM18 516h1v1h-1zM18 518h1v1h-1zM18 549h1v1h-1zM18 563h1v2h-1zM18 588h1v1h-1zM19 205h1v1h-1zM19 355h1v2h-1zM19 358h1v5h-1zM19 367h1v2h-1zM19 383h1v1h-1zM19 392h1v1h-1zM19 438h1v2h-1zM19 443h1v1h-1zM19 445h1v1h-1zM19 510h1v3h-1zM19 516h1v2h-1zM19 524h1v1h-1zM19 529h1v1h-1zM19 536h1v2h-1zM19 548h1v1h-1zM19 555h1v1h-1zM19 559h1v1h-1zM19 570h1v1h-1zM19 609h1v1h-1zM19 611h1v1h-1zM20 4h1v2h-1zM20 11h1v1h-1zM20 118h1v1h-1zM20 349h1v1h-1zM20 352h1v1h-1zM20 365h1v1h-1zM20 468h1v1h-1zM20 497h1v1h-1zM20 505h1v1h-1zM20 510h1v3h-1zM20 534h1v3h-1zM20 544h1v1h-1zM20 561h1v1h-1zM20 567h1v1h-1zM20 572h1v1h-1zM20 577h1v1h-1zM20 587h1v1h-1zM21 3h1v1h-1zM21 118h1v1h-1zM21 120h1v1h-1zM21 143h1v1h-1zM21 228h1v1h-1zM21 233h1v1h-1zM21 268h1v1h-1zM21 274h1v1h-1zM21 298h1v2h-1zM21 349h1v1h-1zM21 354h1v2h-1zM21 357h1v1h-1zM21 361h1v2h-1zM21 364h1v1h-1zM21 438h1v3h-1zM21 444h1v1h-1zM21 460h1v1h-1zM21 468h1v1h-1zM21 470h1v1h-1zM21 496h1v2h-1zM21 499h1v1h-1zM21 510h1v2h-1zM21 517h1v2h-1zM21 528h1v1h-1zM21 558h1v2h-1zM21 568h1v1h-1zM21 572h1v1h-1zM21 586h1v1h-1zM21 588h1v1h-1zM22 278h1v1h-1zM22 298h1v1h-1zM22 300h1v1h-1zM22 439h1v1h-1zM22 442h1v1h-1zM23 437h1v1h-1zM23 454h1v2h-1zM23 498h1v1h-1z"/>
<path fill="#ffffff" d="M0 86h1v2h-1zM0 178h1v1h-1zM0 194h1v1h-1zM0 197h1v1h-1zM3 86h1v2h-1zM3 109h1v2h-1zM3 112h1v2h-1zM3 122h1v1h-1zM3 125h1v2h-1zM6 85h1v1h-1zM6 87h1v1h-1zM6 435h1v1h-1zM9 26h1v1h-1zM9 31h1v1h-1zM10 42h1v1h-1zM10 45h1v1h-1zM10 53h1v1h-1zM10 85h1v1h-1zM10 87h1v1h-1zM12 5h1v1h-1zM12 11h1v2h-1zM13 267h1v1h-1zM16 5h1v8h-1z"/>
<path fill="#ff8f8f" d="M0 97h1v2h-1zM0 100h1v1h-1zM2 13h1v3h-1zM2 209h1v1h-1zM2 218h1v1h-1zM2 223h1v2h-1zM4 209h1v1h-1zM4 211h1v1h-1zM4 218h1v1h-1zM4 221h1v1h-1zM4 224h1v1h-1zM7 43h1v1h-1zM7 45h1v1h-1zM9 36h1v2h-1zM9 95h1v1h-1zM11 52h1v2h-1zM11 177h1v2h-1zM11 194h1v3h-1zM12 591h1v2h-1zM12 595h1v3h-1zM12 601h1v2h-1zM13 225h1v1h-1zM13 230h1v1h-1zM15 523h1v2h-1zM15 594h1v1h-1zM15 599h1v2h-1zM15 607h1v2h-1zM15 614h1v1h-1zM16 516h1v1h-1zM17 367h1v1h-1zM17 383h1v1h-1zM17 387h1v2h-1zM17 397h1v3h-1zM19 333h1v1h-1zM19 335h1v2h-1zM19 347h1v2h-1zM19 401h1v1h-1zM19 407h1v2h-1zM19 413h1v1h-1zM21 333h1v1h-1zM21 347h1v1h-1zM21 367h1v1h-1zM21 371h1v3h-1zM21 377h1v1h-1zM21 382h1v2h-1zM21 387h1v1h-1zM21 389h1v1h-1zM21 391h1v1h-1zM21 393h1v1h-1zM21 396h1v1h-1zM21 535h1v3h-1zM22 248h1v1h-1zM22 458h1v1h-1zM23 279h1v1h-1zM23 282h1v3h-1zM23 286h1v5h-1z"/>
<path fill="#ff9999" d="M0 99h1v1h-1zM2 210h1v2h-1zM2 215h1v1h-1zM2 217h1v1h-1zM2 221h1v2h-1zM4 204h1v1h-1zM4 210h1v1h-1zM4 222h1v2h-1zM7 46h1v5h-1zM9 33h1v3h-1zM9 38h1v4h-1zM9 96h1v2h-1zM10 13h1v3h-1zM11 169h1v1h-1zM11 179h1v1h-1zM11 185h1v2h-1zM11 191h1v1h-1zM11 197h1v1h-1zM12 593h1v1h-1zM12 606h1v1h-1zM12 611h1v1h-1zM12 615h1v1h-1zM13 226h1v2h-1zM13 229h1v1h-1zM13 231h1v2h-1zM14 553h1v2h-1zM15 110h1v1h-1zM15 598h1v1h-1zM15 603h1v2h-1zM15 609h1v1h-1zM15 613h1v1h-1zM15 615h1v2h-1zM16 517h1v1h-1zM17 368h1v2h-1zM17 400h1v1h-1zM19 334h1v1h-1zM19 349h1v3h-1zM19 409h1v1h-1zM21 334h1v1h-1zM21 368h1v1h-1zM21 370h1v1h-1zM21 381h1v1h-1zM21 390h1v1h-1zM21 392h1v1h-1zM21 400h1v1h-1zM22 246h1v1h-1zM22 249h1v1h-1zM22 455h1v2h-1zM23 278h1v1h-1zM23 280h1v2h-1z"/>
<path fill="#ffc2c2" d="M0 112h1v2h-1zM0 214h1v1h-1zM0 219h1v1h-1zM1 135h1v1h-1zM1 138h1v1h-1zM1 141h1v1h-1zM1 145h1v3h-1zM1 151h1v1h-1zM1 154h1v1h-1zM1 166h1v1h-1zM2 204h1v4h-1zM2 212h1v2h-1zM2 216h1v1h-1zM2 219h1v2h-1zM3 169h1v1h-1zM3 177h1v3h-1zM3 185h1v3h-1zM3 194h1v4h-1zM3 206h1v3h-1zM3 212h1v1h-1zM3 214h1v1h-1zM3 219h1v2h-1zM4 0h1v1h-1zM4 205h1v2h-1zM4 208h1v1h-1zM4 213h1v1h-1zM4 216h1v1h-1zM4 219h1v2h-1zM5 209h1v1h-1zM5 211h1v1h-1zM6 65h1v2h-1zM6 68h1v1h-1zM6 70h1v3h-1zM6 74h1v1h-1zM6 78h1v3h-1zM7 5h1v2h-1zM7 11h1v2h-1zM8 2h1v1h-1zM8 435h1v1h-1zM9 65h1v2h-1zM9 68h1v3h-1zM9 72h1v1h-1zM9 74h1v3h-1zM9 78h1v1h-1zM9 81h1v1h-1zM9 132h1v1h-1zM10 28h1v1h-1zM10 32h1v2h-1zM10 36h1v1h-1zM10 39h1v3h-1zM10 109h1v1h-1zM10 111h1v3h-1zM10 117h1v1h-1zM10 121h1v1h-1zM10 178h1v2h-1zM10 195h1v1h-1zM10 197h1v1h-1zM11 170h1v5h-1zM11 182h1v3h-1zM11 187h1v3h-1zM11 193h1v1h-1zM12 328h1v1h-1zM12 594h1v1h-1zM12 598h1v1h-1zM12 600h1v1h-1zM12 603h1v2h-1zM12 607h1v1h-1zM12 609h1v2h-1zM12 612h1v3h-1zM13 228h1v1h-1zM13 233h1v2h-1zM13 459h1v1h-1zM13 471h1v1h-1zM13 473h1v1h-1zM13 479h1v3h-1zM13 486h1v1h-1zM13 488h1v1h-1zM13 602h1v1h-1zM13 605h1v2h-1zM13 609h1v1h-1zM13 612h1v1h-1zM13 616h1v1h-1zM14 452h1v1h-1zM14 521h1v4h-1zM14 528h1v3h-1zM14 537h1v1h-1zM14 543h1v1h-1zM14 548h1v1h-1zM14 551h1v1h-1zM14 555h1v1h-1zM14 557h1v1h-1zM14 570h1v2h-1zM14 574h1v1h-1zM14 580h1v4h-1zM15 529h1v1h-1zM15 532h1v1h-1zM15 534h1v3h-1zM15 538h1v1h-1zM15 540h1v2h-1zM15 543h1v1h-1zM15 560h1v1h-1zM15 562h1v1h-1zM15 567h1v1h-1zM15 571h1v1h-1zM15 576h1v3h-1zM15 584h1v2h-1zM15 587h1v1h-1zM15 591h1v3h-1zM15 597h1v1h-1zM15 601h1v2h-1zM15 605h1v1h-1zM16 263h1v2h-1zM17 328h1v1h-1zM17 330h1v1h-1zM17 374h1v1h-1zM17 376h1v1h-1zM17 378h1v3h-1zM17 385h1v2h-1zM17 394h1v1h-1zM17 420h1v2h-1zM17 423h1v1h-1zM17 426h1v1h-1zM17 430h1v1h-1zM17 433h1v1h-1zM18 323h1v1h-1zM18 332h1v1h-1zM18 348h1v7h-1zM18 356h1v2h-1zM18 361h1v1h-1zM18 363h1v3h-1zM18 369h1v1h-1zM18 374h1v3h-1zM18 378h1v3h-1zM18 386h1v1h-1zM18 395h1v1h-1zM18 403h1v1h-1zM18 405h1v1h-1zM18 407h1v1h-1zM18 409h1v4h-1zM18 414h1v1h-1zM19 320h1v2h-1zM19 326h1v1h-1zM19 329h1v2h-1zM20 368h1v2h-1zM20 377h1v1h-1zM20 381h1v2h-1zM20 388h1v1h-1zM20 402h1v4h-1zM20 407h1v1h-1zM20 410h1v3h-1zM20 414h1v1h-1zM20 416h1v1h-1zM20 420h1v1h-1zM20 424h1v2h-1zM20 435h1v1h-1zM21 277h1v1h-1zM21 279h1v2h-1zM21 286h1v1h-1zM21 292h1v5h-1zM21 300h1v1h-1zM21 369h1v1h-1zM21 374h1v3h-1zM21 378h1v3h-1zM21 384h1v3h-1zM21 388h1v1h-1zM21 394h1v2h-1zM21 398h1v2h-1zM22 229h1v1h-1zM22 231h1v1h-1zM22 234h1v1h-1zM22 261h1v2h-1zM22 264h1v2h-1zM23 251h1v1h-1zM23 259h1v1h-1zM23 263h1v1h-1zM23 268h1v4h-1zM23 273h1v5h-1zM23 285h1v1h-1zM23 293h1v3h-1zM23 297h1v1h-1zM23 299h1v1h-1zM23 301h1v1h-1zM23 438h1v1h-1zM23 443h1v3h-1zM23 456h1v1h-1zM23 504h1v6h-1zM23 511h1v2h-1z"/>
<path fill="#fff5f5" d="M0 177h1v1h-1zM13 268h1v1h-1zM21 10h1v1h-1z"/>
<path fill="#ffcccc" d="M0 220h1v1h-1zM1 127h1v1h-1zM1 149h1v2h-1zM1 152h1v1h-1zM1 167h1v2h-1zM2 208h1v1h-1zM3 193h1v1h-1zM3 198h1v1h-1zM4 207h1v1h-1zM4 215h1v1h-1zM6 67h1v1h-1zM6 82h1v1h-1zM7 291h1v1h-1zM7 428h1v1h-1zM9 67h1v1h-1zM9 82h1v1h-1zM9 133h1v1h-1zM10 29h1v2h-1zM10 34h1v1h-1zM10 114h1v1h-1zM10 116h1v1h-1zM10 123h1v4h-1zM11 114h1v1h-1zM11 117h1v4h-1zM11 175h1v2h-1zM11 180h1v2h-1zM11 192h1v1h-1zM11 199h1v1h-1zM13 463h1v1h-1zM13 487h1v1h-1zM13 610h1v1h-1zM14 517h1v1h-1zM14 525h1v1h-1zM14 538h1v1h-1zM14 559h1v1h-1zM15 533h1v1h-1zM15 537h1v1h-1zM15 539h1v1h-1zM15 572h1v1h-1zM15 586h1v1h-1zM15 588h1v1h-1zM15 606h1v1h-1zM15 611h1v2h-1zM16 261h1v1h-1zM17 325h1v1h-1zM17 327h1v1h-1zM17 395h1v1h-1zM17 422h1v1h-1zM17 427h1v1h-1zM18 328h1v2h-1zM18 355h1v1h-1zM18 358h1v1h-1zM18 362h1v1h-1zM18 404h1v1h-1zM19 325h1v1h-1zM19 327h1v1h-1zM20 427h1v2h-1zM22 226h1v1h-1zM23 298h1v1h-1zM23 300h1v1h-1zM23 439h1v1h-1zM23 510h1v1h-1z"/>
<path fill="#6666ff" d="M0 230h1v1h-1zM0 234h1v1h-1zM0 336h1v1h-1zM0 338h1v1h-1zM0 341h1v1h-1zM0 353h1v1h-1zM0 356h1v1h-1zM0 360h1v3h-1zM0 368h1v1h-1zM0 372h1v1h-1zM0 381h1v2h-1zM0 390h1v1h-1zM0 404h1v1h-1zM0 410h1v1h-1zM0 414h1v1h-1zM0 418h1v1h-1zM0 420h1v7h-1zM0 429h1v1h-1zM0 435h1v2h-1zM0 438h1v3h-1zM0 442h1v2h-1zM0 445h1v1h-1zM0 447h1v2h-1zM0 452h1v2h-1zM0 455h1v2h-1zM0 459h1v3h-1zM0 465h1v2h-1zM0 468h1v1h-1zM0 474h1v1h-1zM0 479h1v1h-1zM0 482h1v1h-1zM0 485h1v2h-1zM0 493h1v2h-1zM0 496h1v1h-1zM0 499h1v1h-1zM0 503h1v1h-1zM0 507h1v1h-1zM0 509h1v4h-1zM0 516h1v4h-1zM0 521h1v3h-1zM0 527h1v5h-1zM0 533h1v6h-1zM0 543h1v2h-1zM0 549h1v1h-1zM0 551h1v1h-1zM0 553h1v1h-1zM0 558h1v2h-1zM0 561h1v2h-1zM0 565h1v1h-1zM0 567h1v4h-1zM0 572h1v1h-1zM0 574h1v1h-1zM0 577h1v2h-1zM0 581h1v2h-1zM0 586h1v3h-1zM1 289h1v2h-1zM1 294h1v1h-1zM1 296h1v4h-1zM1 315h1v2h-1zM1 339h1v1h-1zM1 343h1v1h-1zM1 349h1v1h-1zM1 357h1v2h-1zM1 363h1v1h-1zM1 366h1v1h-1zM1 368h1v1h-1zM1 372h1v2h-1zM1 377h1v1h-1zM1 381h1v3h-1zM1 388h1v1h-1zM1 390h1v1h-1zM1 392h1v1h-1zM1 402h1v1h-1zM1 404h1v2h-1zM1 411h1v1h-1zM1 414h1v2h-1zM1 418h1v2h-1zM1 422h1v1h-1zM1 424h1v2h-1zM1 438h1v3h-1zM1 443h1v1h-1zM1 445h1v4h-1zM1 451h1v6h-1zM1 459h1v6h-1zM1 466h1v4h-1zM1 471h1v3h-1zM1 483h1v4h-1zM1 494h1v1h-1zM1 499h1v1h-1zM1 502h1v1h-1zM1 507h1v2h-1zM1 510h1v2h-1zM1 516h1v2h-1zM1 519h1v2h-1zM1 523h1v2h-1zM1 528h1v4h-1zM1 533h1v6h-1zM1 540h1v2h-1zM1 543h1v2h-1zM1 547h1v3h-1zM1 555h1v1h-1zM1 559h1v1h-1zM1 561h1v12h-1zM1 582h1v6h-1zM2 67h1v1h-1zM2 69h1v2h-1zM2 76h1v1h-1zM2 283h1v1h-1zM2 297h1v4h-1zM2 333h1v1h-1zM2 335h1v1h-1zM2 337h1v1h-1zM2 342h1v1h-1zM2 356h1v1h-1zM2 358h1v1h-1zM2 361h1v1h-1zM2 363h1v1h-1zM2 368h1v1h-1zM2 371h1v2h-1zM2 377h1v1h-1zM2 381h1v3h-1zM2 389h1v2h-1zM2 392h1v1h-1zM2 402h1v1h-1zM2 404h1v2h-1zM2 417h1v1h-1zM2 420h1v1h-1zM2 422h1v3h-1zM2 426h1v1h-1zM2 431h1v1h-1zM2 438h1v11h-1zM2 452h1v1h-1zM2 456h1v1h-1zM2 459h1v2h-1zM2 463h1v2h-1zM2 466h1v4h-1zM2 477h1v2h-1zM2 484h1v1h-1zM2 493h1v1h-1zM2 499h1v1h-1zM2 501h1v2h-1zM2 506h1v3h-1zM2 510h1v3h-1zM2 516h1v6h-1zM2 523h1v1h-1zM2 528h1v1h-1zM2 530h1v1h-1zM2 532h1v7h-1zM2 543h1v1h-1zM2 546h1v2h-1zM2 549h1v2h-1zM2 554h1v2h-1zM2 558h1v2h-1zM2 561h1v3h-1zM2 567h1v5h-1zM2 581h1v2h-1zM2 585h1v4h-1zM3 9h1v1h-1zM3 227h1v2h-1zM3 230h1v2h-1zM3 233h1v1h-1zM3 275h1v2h-1zM3 284h1v1h-1zM3 289h1v2h-1zM3 294h1v7h-1zM3 304h1v1h-1zM3 308h1v2h-1zM3 315h1v1h-1zM3 336h1v1h-1zM3 343h1v1h-1zM3 350h1v1h-1zM3 352h1v1h-1zM3 354h1v1h-1zM3 356h1v1h-1zM3 360h1v1h-1zM3 362h1v1h-1zM3 366h1v1h-1zM3 368h1v1h-1zM3 381h1v2h-1zM3 390h1v2h-1zM3 404h1v2h-1zM3 420h1v2h-1zM3 423h1v2h-1zM3 426h1v1h-1zM3 432h1v1h-1zM3 434h1v1h-1zM3 436h1v3h-1zM3 440h1v1h-1zM3 442h1v1h-1zM3 444h1v5h-1zM3 453h1v2h-1zM3 457h1v6h-1zM3 466h1v1h-1zM3 468h1v2h-1zM3 476h1v1h-1zM3 481h1v2h-1zM3 484h1v1h-1zM3 491h1v1h-1zM3 495h1v2h-1zM3 499h1v1h-1zM3 501h1v1h-1zM3 504h1v1h-1zM3 507h1v1h-1zM3 509h1v5h-1zM3 517h1v4h-1zM3 525h1v1h-1zM3 529h1v2h-1zM3 533h1v2h-1zM3 536h1v4h-1zM3 542h1v3h-1zM3 549h1v1h-1zM3 555h1v1h-1zM3 558h1v2h-1zM3 562h1v2h-1zM3 565h1v1h-1zM3 572h1v2h-1zM3 575h1v1h-1zM3 578h1v1h-1zM3 580h1v1h-1zM3 583h1v1h-1zM3 587h1v2h-1zM3 590h1v1h-1zM4 55h1v1h-1zM4 58h1v1h-1zM4 283h1v2h-1zM4 287h1v2h-1zM4 296h1v6h-1zM4 335h1v3h-1zM4 342h1v1h-1zM4 348h1v2h-1zM4 354h1v2h-1zM4 358h1v1h-1zM4 360h1v1h-1zM4 368h1v1h-1zM4 372h1v2h-1zM4 377h1v1h-1zM4 381h1v3h-1zM4 388h1v1h-1zM4 390h1v2h-1zM4 409h1v2h-1zM4 414h1v1h-1zM4 422h1v2h-1zM4 425h1v1h-1zM4 436h1v1h-1zM4 438h1v4h-1zM4 443h1v6h-1zM4 453h1v5h-1zM4 459h1v1h-1zM4 461h1v8h-1zM4 472h1v3h-1zM4 478h1v1h-1zM4 480h1v1h-1zM4 486h1v1h-1zM4 493h1v2h-1zM4 497h1v1h-1zM4 499h1v1h-1zM4 501h1v1h-1zM4 510h1v3h-1zM4 516h1v2h-1zM4 519h1v2h-1zM4 523h1v3h-1zM4 528h1v11h-1zM4 541h1v1h-1zM4 547h1v4h-1zM4 552h1v1h-1zM4 557h1v3h-1zM4 561h1v7h-1zM4 571h1v2h-1zM4 576h1v1h-1zM4 579h1v1h-1zM4 582h1v1h-1zM4 584h1v1h-1zM4 586h1v3h-1zM5 114h1v1h-1zM5 179h1v1h-1zM5 186h1v1h-1zM5 191h1v1h-1zM5 194h1v4h-1zM5 228h1v1h-1zM5 293h1v1h-1zM5 296h1v3h-1zM5 305h1v1h-1zM5 308h1v1h-1zM5 316h1v1h-1zM5 333h1v1h-1zM5 335h1v1h-1zM5 343h1v1h-1zM5 348h1v1h-1zM5 350h1v1h-1zM5 356h1v1h-1zM5 361h1v2h-1zM5 368h1v1h-1zM5 372h1v1h-1zM5 377h1v1h-1zM5 381h1v3h-1zM5 390h1v1h-1zM5 392h1v1h-1zM5 402h1v4h-1zM5 409h1v1h-1zM5 421h1v5h-1zM5 436h1v5h-1zM5 443h1v6h-1zM5 453h1v4h-1zM5 458h1v4h-1zM5 463h1v2h-1zM5 468h1v1h-1zM5 473h1v2h-1zM5 478h1v1h-1zM5 483h1v4h-1zM5 493h1v2h-1zM5 496h1v6h-1zM5 505h1v1h-1zM5 510h1v3h-1zM5 516h1v5h-1zM5 528h1v11h-1zM5 543h1v2h-1zM5 548h1v2h-1zM5 551h1v1h-1zM5 555h1v1h-1zM5 558h1v1h-1zM5 560h1v1h-1zM5 563h1v3h-1zM5 568h1v1h-1zM5 570h1v2h-1zM5 578h1v3h-1zM5 583h1v1h-1zM5 587h1v2h-1zM5 590h1v1h-1zM6 115h1v1h-1zM6 128h1v3h-1zM6 134h1v2h-1zM6 142h1v3h-1zM6 148h1v3h-1zM6 158h1v1h-1zM6 160h1v1h-1zM6 172h1v5h-1zM6 180h1v1h-1zM6 184h1v2h-1zM6 188h1v2h-1zM6 198h1v2h-1zM6 333h1v1h-1zM6 336h1v1h-1zM6 339h1v1h-1zM6 343h1v1h-1zM6 348h1v2h-1zM6 356h1v1h-1zM6 358h1v1h-1zM6 360h1v2h-1zM6 368h1v1h-1zM6 370h1v1h-1zM6 373h1v1h-1zM6 381h1v3h-1zM6 390h1v1h-1zM6 392h1v1h-1zM6 400h1v1h-1zM6 404h1v2h-1zM6 409h1v1h-1zM6 414h1v1h-1zM6 416h1v1h-1zM6 422h1v3h-1zM6 438h1v5h-1zM6 444h1v1h-1zM6 446h1v3h-1zM6 453h1v3h-1zM6 457h1v1h-1zM6 459h1v1h-1zM6 462h1v1h-1zM6 464h1v1h-1zM6 468h1v3h-1zM6 475h1v1h-1zM6 485h1v2h-1zM6 492h1v1h-1zM6 494h1v1h-1zM6 499h1v2h-1zM6 502h1v1h-1zM6 508h1v1h-1zM6 510h1v1h-1zM6 512h1v2h-1zM6 516h1v2h-1zM6 519h1v2h-1zM6 524h1v3h-1zM6 528h1v1h-1zM6 533h1v6h-1zM6 541h1v3h-1zM6 548h1v2h-1zM6 555h1v1h-1zM6 559h1v1h-1zM6 562h1v1h-1zM6 564h1v5h-1zM6 571h1v2h-1zM6 579h1v1h-1zM6 582h1v3h-1zM6 586h1v3h-1zM7 15h1v5h-1zM7 272h1v1h-1zM7 323h1v1h-1zM7 332h1v1h-1zM7 348h1v1h-1zM7 360h1v1h-1zM7 368h1v1h-1zM7 381h1v1h-1zM7 387h1v1h-1zM7 390h1v2h-1zM7 400h1v1h-1zM7 414h1v2h-1zM7 419h1v1h-1zM7 421h1v4h-1zM7 436h1v7h-1zM7 444h1v1h-1zM7 446h1v3h-1zM7 455h1v1h-1zM7 457h1v3h-1zM7 461h1v1h-1zM7 463h1v3h-1zM7 468h1v1h-1zM7 472h1v1h-1zM7 474h1v1h-1zM7 478h1v1h-1zM7 484h1v3h-1zM7 493h1v1h-1zM7 499h1v2h-1zM7 502h1v1h-1zM7 506h1v2h-1zM7 509h1v5h-1zM7 516h1v6h-1zM7 528h1v3h-1zM7 533h1v6h-1zM7 542h1v3h-1zM7 547h1v1h-1zM7 549h1v2h-1zM7 555h1v1h-1zM7 558h1v1h-1zM7 560h1v2h-1zM7 563h1v1h-1zM7 565h1v2h-1zM7 568h1v1h-1zM7 571h1v1h-1zM7 578h1v1h-1zM7 582h1v1h-1zM7 586h1v3h-1zM8 46h1v1h-1zM8 50h1v2h-1zM8 54h1v1h-1zM8 115h1v1h-1zM8 121h1v2h-1zM8 323h1v1h-1zM8 329h1v1h-1zM8 333h1v1h-1zM8 335h1v2h-1zM8 340h1v1h-1zM8 342h1v1h-1zM8 351h1v2h-1zM8 356h1v1h-1zM8 358h1v1h-1zM8 360h1v3h-1zM8 366h1v1h-1zM8 368h1v1h-1zM8 373h1v1h-1zM8 381h1v1h-1zM8 383h1v1h-1zM8 390h1v3h-1zM8 400h1v1h-1zM8 402h1v1h-1zM8 405h1v1h-1zM8 408h1v1h-1zM8 412h1v1h-1zM8 414h1v1h-1zM8 420h1v5h-1zM8 436h1v1h-1zM8 438h1v3h-1zM8 442h1v5h-1zM8 448h1v1h-1zM8 451h1v1h-1zM8 454h1v3h-1zM8 459h1v2h-1zM8 462h1v4h-1zM8 468h1v2h-1zM8 474h1v1h-1zM8 484h1v1h-1zM8 486h1v1h-1zM8 494h1v1h-1zM8 496h1v4h-1zM8 501h1v1h-1zM8 503h1v1h-1zM8 510h1v3h-1zM8 516h1v3h-1zM8 522h1v1h-1zM8 524h1v1h-1zM8 526h1v1h-1zM8 528h1v11h-1zM8 543h1v3h-1zM8 547h1v1h-1zM8 549h1v1h-1zM8 555h1v1h-1zM8 558h1v1h-1zM8 560h1v1h-1zM8 563h1v4h-1zM8 568h1v1h-1zM8 570h1v3h-1zM8 576h1v1h-1zM8 580h1v3h-1zM8 586h1v3h-1zM8 590h1v1h-1zM9 112h1v2h-1zM9 115h1v3h-1zM9 123h1v4h-1zM9 139h1v1h-1zM9 150h1v3h-1zM9 161h1v1h-1zM9 169h1v1h-1zM9 185h1v3h-1zM9 195h1v2h-1zM9 329h1v1h-1zM9 335h1v2h-1zM9 338h1v1h-1zM9 341h1v1h-1zM9 348h1v1h-1zM9 353h1v2h-1zM9 356h1v3h-1zM9 360h1v3h-1zM9 365h1v1h-1zM9 368h1v1h-1zM9 372h1v2h-1zM9 382h1v2h-1zM9 388h1v1h-1zM9 390h1v2h-1zM9 400h1v1h-1zM9 402h1v4h-1zM9 420h1v1h-1zM9 422h1v1h-1zM9 424h1v1h-1zM9 436h1v6h-1zM9 446h1v3h-1zM9 451h1v1h-1zM9 453h1v3h-1zM9 459h1v1h-1zM9 461h1v1h-1zM9 463h1v1h-1zM9 468h1v1h-1zM9 471h1v1h-1zM9 474h1v1h-1zM9 483h1v3h-1zM9 493h1v2h-1zM9 497h1v1h-1zM9 499h1v2h-1zM9 504h1v1h-1zM9 507h1v6h-1zM9 514h1v1h-1zM9 516h1v3h-1zM9 520h1v2h-1zM9 524h1v2h-1zM9 528h1v4h-1zM9 533h1v6h-1zM9 540h1v1h-1zM9 543h1v2h-1zM9 548h1v2h-1zM9 551h1v1h-1zM9 555h1v1h-1zM9 558h1v1h-1zM9 561h1v5h-1zM9 567h1v3h-1zM9 571h1v1h-1zM9 578h1v1h-1zM9 581h1v8h-1zM10 323h1v1h-1zM10 329h1v1h-1zM10 332h1v1h-1zM10 335h1v2h-1zM10 343h1v1h-1zM10 351h1v2h-1zM10 357h1v1h-1zM10 360h1v3h-1zM10 364h1v1h-1zM10 372h1v1h-1zM10 377h1v1h-1zM10 381h1v3h-1zM10 390h1v1h-1zM10 402h1v1h-1zM10 404h1v2h-1zM10 408h1v3h-1zM10 412h1v1h-1zM10 414h1v1h-1zM10 416h1v1h-1zM10 421h1v6h-1zM10 432h1v1h-1zM10 434h1v3h-1zM10 438h1v3h-1zM10 442h1v2h-1zM10 445h1v4h-1zM10 450h1v3h-1zM10 454h1v2h-1zM10 463h1v1h-1zM10 467h1v2h-1zM10 470h1v1h-1zM10 485h1v3h-1zM10 494h1v1h-1zM10 496h1v1h-1zM10 499h1v1h-1zM10 501h1v2h-1zM10 505h1v1h-1zM10 510h1v3h-1zM10 516h1v4h-1zM10 523h1v2h-1zM10 529h1v2h-1zM10 534h1v5h-1zM10 543h1v2h-1zM10 547h1v2h-1zM10 558h1v1h-1zM10 561h1v1h-1zM10 563h1v3h-1zM10 567h1v1h-1zM10 569h1v3h-1zM10 578h1v3h-1zM10 586h1v3h-1zM10 590h1v1h-1zM11 272h1v1h-1zM11 320h1v1h-1zM11 323h1v1h-1zM11 330h1v1h-1zM11 332h1v2h-1zM11 337h1v1h-1zM11 358h1v1h-1zM11 360h1v1h-1zM11 362h1v2h-1zM11 372h1v2h-1zM11 377h1v1h-1zM11 381h1v3h-1zM11 388h1v1h-1zM11 390h1v2h-1zM11 400h1v1h-1zM11 405h1v1h-1zM11 414h1v1h-1zM11 417h1v1h-1zM11 422h1v5h-1zM11 431h1v2h-1zM11 435h1v7h-1zM11 443h1v6h-1zM11 453h1v5h-1zM11 459h1v1h-1zM11 462h1v2h-1zM11 466h1v4h-1zM11 471h1v1h-1zM11 477h1v1h-1zM11 482h1v1h-1zM11 484h1v3h-1zM11 493h1v2h-1zM11 496h1v5h-1zM11 504h1v1h-1zM11 508h1v1h-1zM11 510h1v2h-1zM11 516h1v5h-1zM11 523h1v1h-1zM11 525h1v1h-1zM11 528h1v2h-1zM11 532h1v1h-1zM11 534h1v6h-1zM11 541h1v1h-1zM11 543h1v1h-1zM11 547h1v1h-1zM11 555h1v2h-1zM11 558h1v1h-1zM11 561h1v9h-1zM11 571h1v2h-1zM11 575h1v3h-1zM11 580h1v1h-1zM11 582h1v2h-1zM11 586h1v3h-1zM12 14h1v5h-1zM12 23h1v2h-1zM12 29h1v3h-1zM12 33h1v1h-1zM12 39h1v1h-1zM12 42h1v1h-1zM12 46h1v1h-1zM12 50h1v6h-1zM12 57h1v3h-1zM12 65h1v3h-1zM12 69h1v2h-1zM12 75h1v1h-1zM12 80h1v1h-1zM12 82h1v3h-1zM12 88h1v2h-1zM12 94h1v1h-1zM12 97h1v2h-1zM12 101h1v2h-1zM12 104h1v1h-1zM12 111h1v1h-1zM12 113h1v4h-1zM12 119h1v1h-1zM12 123h1v1h-1zM12 126h1v3h-1zM12 130h1v1h-1zM12 135h1v1h-1zM12 137h1v2h-1zM12 141h1v4h-1zM12 148h1v1h-1zM12 151h1v4h-1zM12 158h1v1h-1zM12 160h1v4h-1zM12 166h1v1h-1zM12 172h1v5h-1zM12 178h1v1h-1zM12 182h1v5h-1zM12 189h1v1h-1zM12 191h1v2h-1zM12 195h1v5h-1zM12 277h1v1h-1zM12 280h1v1h-1zM12 294h1v1h-1zM12 297h1v4h-1zM12 435h1v1h-1zM13 13h1v1h-1zM13 15h1v5h-1zM13 23h1v2h-1zM13 29h1v3h-1zM13 33h1v2h-1zM13 36h1v1h-1zM13 42h1v1h-1zM13 45h1v2h-1zM13 50h1v4h-1zM13 56h1v1h-1zM13 58h1v1h-1zM13 64h1v5h-1zM13 73h1v2h-1zM13 76h1v1h-1zM13 82h1v3h-1zM13 88h1v1h-1zM13 90h1v1h-1zM13 94h1v1h-1zM13 96h1v3h-1zM13 102h1v3h-1zM13 106h1v3h-1zM13 113h1v4h-1zM13 124h1v1h-1zM13 128h1v4h-1zM13 136h1v1h-1zM13 139h1v1h-1zM13 141h1v2h-1zM13 144h1v1h-1zM13 148h1v7h-1zM13 160h1v2h-1zM13 163h1v1h-1zM13 165h1v2h-1zM13 170h1v2h-1zM13 174h1v3h-1zM13 178h1v4h-1zM13 183h1v4h-1zM13 188h1v2h-1zM13 191h1v4h-1zM13 196h1v4h-1zM14 15h1v5h-1zM14 23h1v1h-1zM14 29h1v1h-1zM14 31h1v1h-1zM14 33h1v2h-1zM14 37h1v1h-1zM14 43h1v1h-1zM14 46h1v1h-1zM14 50h1v3h-1zM14 54h1v2h-1zM14 58h1v2h-1zM14 62h1v2h-1zM14 65h1v4h-1zM14 70h1v1h-1zM14 73h1v2h-1zM14 81h1v1h-1zM14 84h1v1h-1zM14 88h1v4h-1zM14 93h1v3h-1zM14 97h1v1h-1zM14 102h1v4h-1zM14 107h1v1h-1zM14 113h1v1h-1zM14 116h1v1h-1zM14 119h1v1h-1zM14 123h1v1h-1zM14 125h1v6h-1zM14 137h1v1h-1zM14 139h1v6h-1zM14 147h1v8h-1zM14 159h1v1h-1zM14 161h1v1h-1zM14 163h1v1h-1zM14 166h1v1h-1zM14 169h1v1h-1zM14 171h1v1h-1zM14 174h1v3h-1zM14 179h1v3h-1zM14 184h1v1h-1zM14 186h1v2h-1zM14 189h1v1h-1zM14 191h1v9h-1zM15 13h1v1h-1zM15 15h1v5h-1zM15 23h1v2h-1zM15 29h1v3h-1zM15 33h1v2h-1zM15 37h1v1h-1zM15 42h1v1h-1zM15 45h1v2h-1zM15 50h1v3h-1zM15 55h1v2h-1zM15 58h1v3h-1zM15 64h1v4h-1zM15 69h1v2h-1zM15 72h1v1h-1zM15 81h1v4h-1zM15 88h1v1h-1zM15 90h1v1h-1zM15 93h1v1h-1zM15 97h1v2h-1zM15 101h1v2h-1zM15 107h1v1h-1zM15 111h1v1h-1zM15 114h1v3h-1zM15 129h1v2h-1zM15 134h1v1h-1zM15 138h1v3h-1zM15 142h1v1h-1zM15 144h1v1h-1zM15 148h1v7h-1zM15 161h1v3h-1zM15 166h1v1h-1zM15 169h1v1h-1zM15 171h1v1h-1zM15 173h1v1h-1zM15 175h1v2h-1zM15 178h1v1h-1zM15 181h1v2h-1zM15 184h1v1h-1zM15 186h1v3h-1zM15 192h1v1h-1zM15 194h1v3h-1zM15 198h1v2h-1zM16 13h1v1h-1zM16 15h1v5h-1zM16 23h1v2h-1zM16 29h1v5h-1zM16 36h1v2h-1zM16 50h1v5h-1zM16 62h1v2h-1zM16 65h1v3h-1zM16 69h1v1h-1zM16 74h1v1h-1zM16 79h1v1h-1zM16 81h1v4h-1zM16 93h1v2h-1zM16 98h1v1h-1zM16 101h1v1h-1zM16 103h1v2h-1zM16 107h1v1h-1zM16 113h1v1h-1zM16 115h1v2h-1zM16 123h1v1h-1zM16 126h1v4h-1zM16 131h1v2h-1zM16 135h1v4h-1zM16 141h1v2h-1zM16 147h1v8h-1zM16 159h1v1h-1zM16 161h1v1h-1zM16 165h1v2h-1zM16 172h1v5h-1zM16 180h1v2h-1zM16 184h1v3h-1zM16 188h1v2h-1zM16 191h1v2h-1zM16 194h1v2h-1zM16 197h1v3h-1zM17 13h1v7h-1zM17 23h1v2h-1zM17 29h1v3h-1zM17 33h1v2h-1zM17 36h1v1h-1zM17 42h1v1h-1zM17 45h1v1h-1zM17 50h1v3h-1zM17 62h1v1h-1zM17 65h1v4h-1zM17 79h1v1h-1zM17 82h1v1h-1zM17 84h1v1h-1zM17 89h1v1h-1zM17 93h1v1h-1zM17 97h1v2h-1zM17 102h1v1h-1zM17 104h1v1h-1zM17 106h1v1h-1zM17 109h1v1h-1zM17 113h1v4h-1zM17 119h1v1h-1zM17 123h1v1h-1zM17 125h1v4h-1zM17 130h1v1h-1zM17 140h1v1h-1zM17 144h1v1h-1zM17 148h1v3h-1zM17 152h1v2h-1zM17 161h1v3h-1zM17 166h1v1h-1zM17 169h1v1h-1zM17 171h1v2h-1zM17 174h1v3h-1zM17 181h1v1h-1zM17 184h1v1h-1zM17 186h1v4h-1zM17 191h1v3h-1zM17 196h1v4h-1zM17 280h1v1h-1zM17 284h1v1h-1zM17 288h1v3h-1zM17 296h1v4h-1zM17 603h1v2h-1zM17 609h1v1h-1zM17 611h1v1h-1zM17 614h1v1h-1zM18 3h1v1h-1zM18 12h1v1h-1zM18 15h1v5h-1zM18 23h1v2h-1zM18 27h1v1h-1zM18 29h1v2h-1zM18 33h1v1h-1zM18 36h1v1h-1zM18 46h1v1h-1zM18 50h1v2h-1zM18 53h1v1h-1zM18 58h1v1h-1zM18 65h1v3h-1zM18 69h1v1h-1zM18 78h1v2h-1zM18 82h1v3h-1zM18 90h1v1h-1zM18 93h1v2h-1zM18 96h1v2h-1zM18 99h1v1h-1zM18 104h1v6h-1zM18 112h1v3h-1zM18 116h1v1h-1zM18 118h1v2h-1zM18 123h1v1h-1zM18 126h1v5h-1zM18 133h1v1h-1zM18 137h1v1h-1zM18 139h1v4h-1zM18 144h1v1h-1zM18 148h1v1h-1zM18 150h1v4h-1zM18 161h1v2h-1zM18 164h1v1h-1zM18 169h1v2h-1zM18 175h1v3h-1zM18 180h1v2h-1zM18 183h1v1h-1zM18 185h1v1h-1zM18 188h1v2h-1zM18 191h1v3h-1zM18 195h1v1h-1zM18 197h1v3h-1zM18 279h1v2h-1zM18 284h1v1h-1zM18 287h1v1h-1zM18 289h1v1h-1zM18 296h1v6h-1zM19 13h1v1h-1zM19 15h1v5h-1zM19 24h1v1h-1zM19 29h1v2h-1zM19 33h1v2h-1zM19 37h1v2h-1zM19 43h1v1h-1zM19 46h1v1h-1zM19 50h1v1h-1zM19 52h1v3h-1zM19 59h1v1h-1zM19 65h1v2h-1zM19 68h1v2h-1zM19 71h1v3h-1zM19 76h1v1h-1zM19 79h1v1h-1zM19 84h1v1h-1zM19 93h1v2h-1zM19 97h1v1h-1zM19 99h1v1h-1zM19 101h1v1h-1zM19 104h1v1h-1zM19 106h1v1h-1zM19 109h1v1h-1zM19 111h1v1h-1zM19 113h1v3h-1zM19 119h1v1h-1zM19 123h1v3h-1zM19 127h1v1h-1zM19 129h1v2h-1zM19 132h1v1h-1zM19 135h1v1h-1zM19 137h1v1h-1zM19 139h1v2h-1zM19 143h1v2h-1zM19 147h1v7h-1zM19 161h1v1h-1zM19 164h1v1h-1zM19 166h1v1h-1zM19 170h1v1h-1zM19 174h1v2h-1zM19 177h1v1h-1zM19 180h1v15h-1zM19 196h1v1h-1zM19 199h1v1h-1zM19 277h1v1h-1zM19 280h1v1h-1zM19 289h1v1h-1zM19 298h1v2h-1zM19 301h1v1h-1zM19 460h1v1h-1zM19 462h1v1h-1zM19 464h1v2h-1zM19 468h1v2h-1zM19 497h1v3h-1zM19 584h1v1h-1zM19 586h1v3h-1zM20 15h1v5h-1zM20 23h1v2h-1zM20 31h1v3h-1zM20 36h1v1h-1zM20 42h1v1h-1zM20 46h1v1h-1zM20 50h1v3h-1zM20 57h1v1h-1zM20 59h1v1h-1zM20 65h1v3h-1zM20 70h1v1h-1zM20 72h1v2h-1zM20 82h1v1h-1zM20 93h1v2h-1zM20 96h1v1h-1zM20 98h1v1h-1zM20 101h1v1h-1zM20 104h1v2h-1zM20 110h1v4h-1zM20 115h1v2h-1zM20 123h1v1h-1zM20 127h1v4h-1zM20 132h1v1h-1zM20 136h1v1h-1zM20 138h1v1h-1zM20 141h1v1h-1zM20 143h1v3h-1zM20 148h1v1h-1zM20 150h1v1h-1zM20 152h1v1h-1zM20 154h1v1h-1zM20 158h1v1h-1zM20 161h1v1h-1zM20 166h1v1h-1zM20 169h1v2h-1zM20 173h1v5h-1zM20 179h1v1h-1zM20 181h1v1h-1zM20 183h1v2h-1zM20 186h1v1h-1zM20 188h1v2h-1zM20 191h1v2h-1zM20 194h1v3h-1zM20 198h1v1h-1zM21 13h1v7h-1zM21 23h1v1h-1zM21 29h1v2h-1zM21 33h1v1h-1zM21 37h1v1h-1zM21 39h1v4h-1zM21 46h1v1h-1zM21 51h1v1h-1zM21 54h1v2h-1zM21 57h1v3h-1zM21 65h1v3h-1zM21 69h1v1h-1zM21 73h1v1h-1zM21 82h1v3h-1zM21 89h1v1h-1zM21 94h1v1h-1zM21 98h1v1h-1zM21 101h1v1h-1zM21 103h1v2h-1zM21 108h1v1h-1zM21 111h1v2h-1zM21 115h1v2h-1zM21 123h1v1h-1zM21 125h1v6h-1zM21 132h1v1h-1zM21 136h1v2h-1zM21 144h1v1h-1zM21 148h1v5h-1zM21 154h1v1h-1zM21 158h1v5h-1zM21 164h1v1h-1zM21 166h1v1h-1zM21 169h1v1h-1zM21 173h1v1h-1zM21 175h1v2h-1zM21 181h1v1h-1zM21 184h1v6h-1zM21 191h1v2h-1zM21 194h1v2h-1zM21 197h1v3h-1zM22 13h1v3h-1zM22 18h1v1h-1zM22 23h1v1h-1zM22 29h1v2h-1zM22 34h1v1h-1zM22 36h1v1h-1zM22 42h1v3h-1zM22 46h1v2h-1zM22 51h1v3h-1zM22 55h1v1h-1zM22 58h1v2h-1zM22 65h1v3h-1zM22 69h1v1h-1zM22 71h1v2h-1zM22 75h1v1h-1zM22 77h1v4h-1zM22 82h1v3h-1zM22 93h1v2h-1zM22 97h1v1h-1zM22 101h1v2h-1zM22 104h1v2h-1zM22 111h1v1h-1zM22 113h1v2h-1zM22 119h1v1h-1zM22 123h1v8h-1zM22 137h1v1h-1zM22 139h1v6h-1zM22 149h1v1h-1zM22 151h1v4h-1zM22 162h1v1h-1zM22 164h1v3h-1zM22 169h1v1h-1zM22 171h1v1h-1zM22 175h1v2h-1zM22 179h1v3h-1zM22 183h1v1h-1zM22 185h1v1h-1zM22 187h1v3h-1zM22 191h1v3h-1zM22 198h1v2h-1zM22 304h1v1h-1zM22 311h1v1h-1zM22 315h1v1h-1zM22 418h1v1h-1zM22 422h1v2h-1zM22 425h1v2h-1zM22 430h1v1h-1zM22 432h1v1h-1zM22 434h1v1h-1zM22 516h1v3h-1zM22 524h1v2h-1zM22 528h1v3h-1zM22 533h1v7h-1zM22 543h1v2h-1zM22 547h1v1h-1zM22 549h1v1h-1zM22 555h1v1h-1zM22 559h1v1h-1zM22 561h1v3h-1zM22 565h1v3h-1zM22 570h1v2h-1zM22 573h1v1h-1zM22 582h1v4h-1zM22 587h1v2h-1zM23 19h1v1h-1zM23 23h1v2h-1zM23 29h1v2h-1zM23 34h1v1h-1zM23 36h1v2h-1zM23 41h1v1h-1zM23 46h1v2h-1zM23 51h1v2h-1zM23 54h1v5h-1zM23 65h1v3h-1zM23 69h1v1h-1zM23 76h1v1h-1zM23 80h1v1h-1zM23 82h1v3h-1zM23 89h1v1h-1zM23 93h1v2h-1zM23 98h1v1h-1zM23 103h1v1h-1zM23 109h1v1h-1zM23 113h1v4h-1zM23 119h1v1h-1zM23 121h1v10h-1zM23 132h1v1h-1zM23 134h1v1h-1zM23 137h1v1h-1zM23 140h1v1h-1zM23 142h1v1h-1zM23 144h1v1h-1zM23 146h1v1h-1zM23 150h1v2h-1zM23 153h1v2h-1zM23 166h1v1h-1zM23 169h1v2h-1zM23 174h1v3h-1zM23 178h1v4h-1zM23 183h1v2h-1zM23 186h1v1h-1zM23 188h1v1h-1zM23 190h1v1h-1zM23 193h1v2h-1zM23 197h1v2h-1zM23 417h1v2h-1zM23 423h1v1h-1zM23 425h1v1h-1zM23 430h1v1h-1zM23 432h1v1h-1zM23 516h1v2h-1zM23 523h1v1h-1zM23 525h1v2h-1zM23 528h1v3h-1zM23 532h1v7h-1zM23 542h1v2h-1zM23 547h1v3h-1zM23 555h1v2h-1zM23 559h1v1h-1zM23 561h1v1h-1zM23 565h1v1h-1zM23 567h1v1h-1zM23 570h1v3h-1zM23 576h1v1h-1zM23 581h1v2h-1zM23 586h1v3h-1z"/>
<path fill="#7070ff" d="M0 233h1v1h-1zM0 335h1v1h-1zM0 337h1v1h-1zM0 339h1v2h-1zM0 342h1v2h-1zM0 348h1v1h-1zM0 350h1v2h-1zM0 363h1v1h-1zM0 370h1v2h-1zM0 373h1v1h-1zM0 377h1v1h-1zM0 383h1v1h-1zM0 387h1v1h-1zM0 389h1v1h-1zM0 391h1v2h-1zM0 396h1v1h-1zM0 400h1v1h-1zM0 405h1v3h-1zM0 411h1v2h-1zM0 416h1v2h-1zM0 419h1v1h-1zM0 430h1v2h-1zM0 434h1v1h-1zM0 437h1v1h-1zM0 441h1v1h-1zM0 444h1v1h-1zM0 446h1v1h-1zM0 449h1v3h-1zM0 454h1v1h-1zM0 457h1v2h-1zM0 462h1v3h-1zM0 467h1v1h-1zM0 469h1v5h-1zM0 475h1v4h-1zM0 480h1v2h-1zM0 483h1v2h-1zM0 487h1v6h-1zM0 497h1v2h-1zM0 500h1v3h-1zM0 504h1v3h-1zM0 508h1v1h-1zM0 513h1v3h-1zM0 520h1v1h-1zM0 524h1v3h-1zM0 532h1v1h-1zM0 539h1v4h-1zM0 545h1v4h-1zM0 550h1v1h-1zM0 552h1v1h-1zM0 554h1v4h-1zM0 560h1v1h-1zM0 563h1v2h-1zM0 566h1v1h-1zM0 571h1v1h-1zM0 573h1v1h-1zM0 575h1v2h-1zM0 579h1v2h-1zM0 583h1v3h-1zM0 589h1v2h-1zM1 283h1v6h-1zM1 291h1v3h-1zM1 295h1v1h-1zM1 301h1v1h-1zM1 304h1v2h-1zM1 307h1v5h-1zM1 336h1v3h-1zM1 340h1v3h-1zM1 351h1v1h-1zM1 367h1v1h-1zM1 370h1v2h-1zM1 387h1v1h-1zM1 389h1v1h-1zM1 391h1v1h-1zM1 393h1v1h-1zM1 396h1v1h-1zM1 400h1v1h-1zM1 406h1v3h-1zM1 410h1v1h-1zM1 412h1v1h-1zM1 417h1v1h-1zM1 420h1v2h-1zM1 423h1v1h-1zM1 426h1v1h-1zM1 429h1v9h-1zM1 441h1v2h-1zM1 444h1v1h-1zM1 449h1v2h-1zM1 457h1v2h-1zM1 465h1v1h-1zM1 470h1v1h-1zM1 474h1v9h-1zM1 487h1v3h-1zM1 491h1v3h-1zM1 495h1v4h-1zM1 500h1v2h-1zM1 503h1v4h-1zM1 509h1v1h-1zM1 512h1v2h-1zM1 515h1v1h-1zM1 518h1v1h-1zM1 521h1v2h-1zM1 525h1v3h-1zM1 532h1v1h-1zM1 539h1v1h-1zM1 542h1v1h-1zM1 546h1v1h-1zM1 550h1v5h-1zM1 556h1v3h-1zM1 560h1v1h-1zM1 573h1v9h-1zM1 588h1v3h-1zM2 65h1v1h-1zM2 68h1v1h-1zM2 71h1v2h-1zM2 74h1v2h-1zM2 77h1v2h-1zM2 284h1v1h-1zM2 286h1v7h-1zM2 294h1v3h-1zM2 301h1v1h-1zM2 336h1v1h-1zM2 338h1v4h-1zM2 343h1v1h-1zM2 350h1v2h-1zM2 360h1v1h-1zM2 370h1v1h-1zM2 373h1v1h-1zM2 387h1v1h-1zM2 391h1v1h-1zM2 393h1v1h-1zM2 396h1v1h-1zM2 400h1v1h-1zM2 403h1v1h-1zM2 406h1v2h-1zM2 410h1v3h-1zM2 414h1v1h-1zM2 418h1v2h-1zM2 421h1v1h-1zM2 425h1v1h-1zM2 429h1v2h-1zM2 432h1v6h-1zM2 449h1v3h-1zM2 453h1v3h-1zM2 457h1v2h-1zM2 465h1v1h-1zM2 470h1v7h-1zM2 479h1v5h-1zM2 490h1v3h-1zM2 494h1v5h-1zM2 500h1v1h-1zM2 503h1v3h-1zM2 509h1v1h-1zM2 513h1v3h-1zM2 522h1v1h-1zM2 524h1v4h-1zM2 529h1v1h-1zM2 531h1v1h-1zM2 539h1v4h-1zM2 544h1v2h-1zM2 548h1v1h-1zM2 551h1v3h-1zM2 556h1v2h-1zM2 560h1v1h-1zM2 564h1v3h-1zM2 572h1v9h-1zM2 583h1v2h-1zM2 589h1v2h-1zM3 225h1v2h-1zM3 229h1v1h-1zM3 232h1v1h-1zM3 234h1v1h-1zM3 269h1v6h-1zM3 283h1v1h-1zM3 285h1v4h-1zM3 291h1v3h-1zM3 301h1v1h-1zM3 305h1v2h-1zM3 310h1v2h-1zM3 314h1v1h-1zM3 316h1v1h-1zM3 318h1v1h-1zM3 335h1v1h-1zM3 337h1v6h-1zM3 348h1v1h-1zM3 351h1v1h-1zM3 367h1v1h-1zM3 370h1v4h-1zM3 377h1v1h-1zM3 383h1v1h-1zM3 387h1v3h-1zM3 392h1v2h-1zM3 396h1v1h-1zM3 400h1v1h-1zM3 406h1v2h-1zM3 410h1v3h-1zM3 414h1v1h-1zM3 417h1v3h-1zM3 422h1v1h-1zM3 425h1v1h-1zM3 429h1v3h-1zM3 433h1v1h-1zM3 435h1v1h-1zM3 441h1v1h-1zM3 443h1v1h-1zM3 449h1v4h-1zM3 455h1v2h-1zM3 463h1v3h-1zM3 467h1v1h-1zM3 470h1v1h-1zM3 473h1v3h-1zM3 477h1v4h-1zM3 483h1v1h-1zM3 490h1v1h-1zM3 492h1v3h-1zM3 497h1v2h-1zM3 500h1v1h-1zM3 502h1v2h-1zM3 505h1v2h-1zM3 508h1v1h-1zM3 514h1v2h-1zM3 521h1v4h-1zM3 526h1v3h-1zM3 531h1v2h-1zM3 535h1v1h-1zM3 540h1v2h-1zM3 545h1v4h-1zM3 550h1v5h-1zM3 556h1v2h-1zM3 560h1v2h-1zM3 564h1v1h-1zM3 566h1v6h-1zM3 574h1v1h-1zM3 576h1v2h-1zM3 579h1v1h-1zM3 581h1v2h-1zM3 584h1v3h-1zM3 589h1v1h-1zM4 56h1v2h-1zM4 59h1v6h-1zM4 289h1v7h-1zM4 338h1v4h-1zM4 343h1v1h-1zM4 350h1v4h-1zM4 363h1v1h-1zM4 366h1v2h-1zM4 371h1v1h-1zM4 387h1v1h-1zM4 389h1v1h-1zM4 392h1v2h-1zM4 396h1v1h-1zM4 400h1v1h-1zM4 403h1v5h-1zM4 411h1v2h-1zM4 415h1v1h-1zM4 417h1v5h-1zM4 424h1v1h-1zM4 437h1v1h-1zM4 442h1v1h-1zM4 449h1v4h-1zM4 458h1v1h-1zM4 460h1v1h-1zM4 469h1v3h-1zM4 475h1v3h-1zM4 479h1v1h-1zM4 481h1v5h-1zM4 487h1v6h-1zM4 495h1v2h-1zM4 498h1v1h-1zM4 500h1v1h-1zM4 502h1v8h-1zM4 513h1v3h-1zM4 518h1v1h-1zM4 521h1v2h-1zM4 526h1v2h-1zM4 539h1v2h-1zM4 542h1v5h-1zM4 551h1v1h-1zM4 553h1v4h-1zM4 560h1v1h-1zM4 568h1v3h-1zM4 573h1v3h-1zM4 577h1v2h-1zM4 580h1v2h-1zM4 583h1v1h-1zM4 585h1v1h-1zM4 589h1v2h-1zM5 169h1v1h-1zM5 177h1v2h-1zM5 193h1v1h-1zM5 233h1v1h-1zM5 286h1v1h-1zM5 291h1v2h-1zM5 294h1v2h-1zM5 301h1v1h-1zM5 304h1v1h-1zM5 306h1v2h-1zM5 309h1v1h-1zM5 315h1v1h-1zM5 319h1v1h-1zM5 336h1v7h-1zM5 351h1v1h-1zM5 353h1v2h-1zM5 360h1v1h-1zM5 366h1v2h-1zM5 370h1v2h-1zM5 373h1v1h-1zM5 387h1v3h-1zM5 391h1v1h-1zM5 393h1v1h-1zM5 396h1v1h-1zM5 400h1v1h-1zM5 407h1v1h-1zM5 410h1v3h-1zM5 414h1v7h-1zM5 441h1v2h-1zM5 449h1v4h-1zM5 457h1v1h-1zM5 462h1v1h-1zM5 465h1v3h-1zM5 469h1v4h-1zM5 475h1v3h-1zM5 479h1v4h-1zM5 487h1v6h-1zM5 495h1v1h-1zM5 502h1v3h-1zM5 506h1v4h-1zM5 513h1v3h-1zM5 521h1v7h-1zM5 539h1v4h-1zM5 545h1v3h-1zM5 550h1v1h-1zM5 552h1v3h-1zM5 556h1v2h-1zM5 561h1v2h-1zM5 566h1v2h-1zM5 569h1v1h-1zM5 572h1v6h-1zM5 581h1v2h-1zM5 584h1v3h-1zM5 589h1v1h-1zM6 136h1v3h-1zM6 146h1v2h-1zM6 159h1v1h-1zM6 165h1v1h-1zM6 170h1v2h-1zM6 182h1v2h-1zM6 186h1v2h-1zM6 190h1v1h-1zM6 320h1v1h-1zM6 335h1v1h-1zM6 337h1v2h-1zM6 340h1v3h-1zM6 350h1v2h-1zM6 366h1v2h-1zM6 371h1v2h-1zM6 377h1v1h-1zM6 387h1v3h-1zM6 391h1v1h-1zM6 393h1v1h-1zM6 396h1v1h-1zM6 403h1v1h-1zM6 406h1v2h-1zM6 410h1v3h-1zM6 417h1v5h-1zM6 425h1v1h-1zM6 436h1v2h-1zM6 443h1v1h-1zM6 445h1v1h-1zM6 449h1v4h-1zM6 456h1v1h-1zM6 458h1v1h-1zM6 460h1v2h-1zM6 465h1v3h-1zM6 471h1v4h-1zM6 476h1v9h-1zM6 491h1v1h-1zM6 493h1v1h-1zM6 495h1v4h-1zM6 501h1v1h-1zM6 503h1v5h-1zM6 509h1v1h-1zM6 511h1v1h-1zM6 514h1v2h-1zM6 518h1v1h-1zM6 521h1v3h-1zM6 527h1v1h-1zM6 529h1v4h-1zM6 539h1v2h-1zM6 544h1v4h-1zM6 550h1v5h-1zM6 556h1v3h-1zM6 560h1v2h-1zM6 563h1v1h-1zM6 569h1v2h-1zM6 573h1v6h-1zM6 580h1v2h-1zM6 585h1v1h-1zM6 589h1v2h-1zM7 336h1v1h-1zM7 338h1v6h-1zM7 351h1v1h-1zM7 357h1v1h-1zM7 362h1v1h-1zM7 370h1v4h-1zM7 377h1v1h-1zM7 382h1v2h-1zM7 388h1v2h-1zM7 392h1v2h-1zM7 396h1v1h-1zM7 404h1v2h-1zM7 407h1v1h-1zM7 410h1v3h-1zM7 417h1v2h-1zM7 420h1v1h-1zM7 425h1v1h-1zM7 443h1v1h-1zM7 445h1v1h-1zM7 449h1v6h-1zM7 456h1v1h-1zM7 460h1v1h-1zM7 462h1v1h-1zM7 466h1v2h-1zM7 469h1v3h-1zM7 473h1v1h-1zM7 475h1v3h-1zM7 479h1v5h-1zM7 487h1v6h-1zM7 494h1v5h-1zM7 501h1v1h-1zM7 503h1v3h-1zM7 508h1v1h-1zM7 514h1v2h-1zM7 522h1v6h-1zM7 531h1v2h-1zM7 539h1v3h-1zM7 545h1v2h-1zM7 548h1v1h-1zM7 551h1v4h-1zM7 556h1v2h-1zM7 562h1v1h-1zM7 564h1v1h-1zM7 567h1v1h-1zM7 569h1v2h-1zM7 572h1v6h-1zM7 579h1v3h-1zM7 583h1v3h-1zM7 589h1v2h-1zM8 44h1v1h-1zM8 47h1v3h-1zM8 199h1v1h-1zM8 337h1v3h-1zM8 341h1v1h-1zM8 343h1v1h-1zM8 348h1v1h-1zM8 350h1v1h-1zM8 367h1v1h-1zM8 370h1v3h-1zM8 377h1v1h-1zM8 382h1v1h-1zM8 387h1v3h-1zM8 396h1v1h-1zM8 404h1v1h-1zM8 406h1v2h-1zM8 410h1v2h-1zM8 417h1v3h-1zM8 425h1v1h-1zM8 437h1v1h-1zM8 441h1v1h-1zM8 447h1v1h-1zM8 449h1v2h-1zM8 452h1v2h-1zM8 457h1v2h-1zM8 461h1v1h-1zM8 466h1v2h-1zM8 470h1v1h-1zM8 473h1v1h-1zM8 475h1v9h-1zM8 485h1v1h-1zM8 487h1v7h-1zM8 495h1v1h-1zM8 500h1v1h-1zM8 502h1v1h-1zM8 504h1v6h-1zM8 513h1v3h-1zM8 519h1v3h-1zM8 523h1v1h-1zM8 525h1v1h-1zM8 527h1v1h-1zM8 539h1v4h-1zM8 546h1v1h-1zM8 548h1v1h-1zM8 550h1v5h-1zM8 556h1v2h-1zM8 561h1v2h-1zM8 567h1v1h-1zM8 569h1v1h-1zM8 573h1v3h-1zM8 577h1v3h-1zM8 583h1v3h-1zM8 589h1v1h-1zM9 109h1v3h-1zM9 127h1v1h-1zM9 140h1v2h-1zM9 145h1v1h-1zM9 154h1v1h-1zM9 156h1v2h-1zM9 162h1v3h-1zM9 177h1v3h-1zM9 194h1v1h-1zM9 197h1v1h-1zM9 323h1v1h-1zM9 330h1v1h-1zM9 337h1v1h-1zM9 339h1v2h-1zM9 342h1v2h-1zM9 349h1v4h-1zM9 366h1v2h-1zM9 371h1v1h-1zM9 377h1v1h-1zM9 381h1v1h-1zM9 387h1v1h-1zM9 389h1v1h-1zM9 392h1v1h-1zM9 396h1v1h-1zM9 406h1v2h-1zM9 410h1v3h-1zM9 414h1v1h-1zM9 417h1v3h-1zM9 421h1v1h-1zM9 423h1v1h-1zM9 425h1v1h-1zM9 442h1v4h-1zM9 449h1v2h-1zM9 452h1v1h-1zM9 456h1v3h-1zM9 460h1v1h-1zM9 462h1v1h-1zM9 464h1v4h-1zM9 469h1v2h-1zM9 472h1v2h-1zM9 475h1v8h-1zM9 486h1v7h-1zM9 495h1v2h-1zM9 498h1v1h-1zM9 501h1v3h-1zM9 505h1v2h-1zM9 513h1v1h-1zM9 515h1v1h-1zM9 519h1v1h-1zM9 522h1v2h-1zM9 526h1v2h-1zM9 532h1v1h-1zM9 539h1v1h-1zM9 541h1v2h-1zM9 545h1v3h-1zM9 550h1v1h-1zM9 552h1v3h-1zM9 556h1v2h-1zM9 560h1v1h-1zM9 566h1v1h-1zM9 570h1v1h-1zM9 572h1v6h-1zM9 579h1v2h-1zM9 589h1v2h-1zM10 320h1v1h-1zM10 331h1v1h-1zM10 337h1v6h-1zM10 353h1v1h-1zM10 366h1v3h-1zM10 370h1v2h-1zM10 373h1v1h-1zM10 387h1v3h-1zM10 391h1v3h-1zM10 396h1v1h-1zM10 400h1v1h-1zM10 403h1v1h-1zM10 406h1v2h-1zM10 411h1v1h-1zM10 417h1v4h-1zM10 429h1v3h-1zM10 433h1v1h-1zM10 437h1v1h-1zM10 441h1v1h-1zM10 444h1v1h-1zM10 449h1v1h-1zM10 453h1v1h-1zM10 456h1v7h-1zM10 464h1v3h-1zM10 469h1v1h-1zM10 471h1v14h-1zM10 489h1v3h-1zM10 493h1v1h-1zM10 495h1v1h-1zM10 497h1v2h-1zM10 500h1v1h-1zM10 503h1v2h-1zM10 506h1v4h-1zM10 513h1v3h-1zM10 520h1v3h-1zM10 525h1v1h-1zM10 527h1v2h-1zM10 531h1v3h-1zM10 539h1v4h-1zM10 545h1v2h-1zM10 549h1v9h-1zM10 560h1v1h-1zM10 562h1v1h-1zM10 566h1v1h-1zM10 568h1v1h-1zM10 572h1v6h-1zM10 581h1v5h-1zM10 589h1v1h-1zM11 326h1v1h-1zM11 335h1v2h-1zM11 338h1v3h-1zM11 342h1v2h-1zM11 350h1v2h-1zM11 357h1v1h-1zM11 366h1v3h-1zM11 370h1v2h-1zM11 387h1v1h-1zM11 389h1v1h-1zM11 392h1v2h-1zM11 396h1v1h-1zM11 402h1v3h-1zM11 407h1v1h-1zM11 409h1v4h-1zM11 418h1v4h-1zM11 429h1v2h-1zM11 433h1v2h-1zM11 442h1v1h-1zM11 449h1v4h-1zM11 458h1v1h-1zM11 460h1v2h-1zM11 464h1v2h-1zM11 470h1v1h-1zM11 472h1v5h-1zM11 478h1v4h-1zM11 483h1v1h-1zM11 487h1v6h-1zM11 495h1v1h-1zM11 501h1v3h-1zM11 505h1v3h-1zM11 509h1v1h-1zM11 512h1v4h-1zM11 521h1v2h-1zM11 524h1v1h-1zM11 526h1v2h-1zM11 530h1v2h-1zM11 540h1v1h-1zM11 542h1v1h-1zM11 544h1v3h-1zM11 548h1v7h-1zM11 557h1v1h-1zM11 560h1v1h-1zM11 570h1v1h-1zM11 573h1v2h-1zM11 578h1v2h-1zM11 581h1v1h-1zM11 584h1v2h-1zM11 589h1v2h-1zM12 13h1v1h-1zM12 19h1v1h-1zM12 27h1v2h-1zM12 32h1v1h-1zM12 34h1v5h-1zM12 40h1v2h-1zM12 43h1v3h-1zM12 47h1v3h-1zM12 56h1v1h-1zM12 60h1v5h-1zM12 68h1v1h-1zM12 71h1v4h-1zM12 76h1v4h-1zM12 81h1v1h-1zM12 90h1v2h-1zM12 93h1v1h-1zM12 99h1v2h-1zM12 103h1v1h-1zM12 105h1v6h-1zM12 112h1v1h-1zM12 129h1v1h-1zM12 131h1v4h-1zM12 136h1v1h-1zM12 139h1v2h-1zM12 145h1v2h-1zM12 157h1v1h-1zM12 159h1v1h-1zM12 164h1v2h-1zM12 169h1v3h-1zM12 177h1v1h-1zM12 179h1v3h-1zM12 187h1v2h-1zM12 190h1v1h-1zM12 194h1v1h-1zM12 278h1v1h-1zM12 286h1v2h-1zM12 291h1v3h-1zM12 295h1v2h-1zM12 301h1v1h-1zM13 14h1v1h-1zM13 27h1v2h-1zM13 35h1v1h-1zM13 37h1v5h-1zM13 43h1v2h-1zM13 47h1v3h-1zM13 54h1v2h-1zM13 57h1v1h-1zM13 59h1v5h-1zM13 69h1v4h-1zM13 75h1v1h-1zM13 77h1v5h-1zM13 89h1v1h-1zM13 91h1v2h-1zM13 95h1v1h-1zM13 99h1v3h-1zM13 105h1v1h-1zM13 109h1v1h-1zM13 111h1v2h-1zM13 126h1v2h-1zM13 132h1v4h-1zM13 137h1v2h-1zM13 140h1v1h-1zM13 145h1v3h-1zM13 156h1v4h-1zM13 162h1v1h-1zM13 164h1v1h-1zM13 169h1v1h-1zM13 172h1v2h-1zM13 177h1v1h-1zM13 182h1v1h-1zM13 187h1v1h-1zM13 190h1v1h-1zM13 195h1v1h-1zM13 432h1v1h-1zM13 435h1v1h-1zM14 13h1v2h-1zM14 24h1v2h-1zM14 27h1v1h-1zM14 32h1v1h-1zM14 35h1v2h-1zM14 38h1v5h-1zM14 44h1v2h-1zM14 47h1v3h-1zM14 53h1v1h-1zM14 56h1v2h-1zM14 60h1v2h-1zM14 64h1v1h-1zM14 69h1v1h-1zM14 71h1v2h-1zM14 75h1v6h-1zM14 96h1v1h-1zM14 98h1v4h-1zM14 106h1v1h-1zM14 108h1v5h-1zM14 131h1v6h-1zM14 138h1v1h-1zM14 145h1v2h-1zM14 155h1v1h-1zM14 157h1v2h-1zM14 160h1v1h-1zM14 162h1v1h-1zM14 164h1v2h-1zM14 170h1v1h-1zM14 172h1v2h-1zM14 177h1v2h-1zM14 182h1v2h-1zM14 185h1v1h-1zM14 188h1v1h-1zM14 190h1v1h-1zM15 14h1v1h-1zM15 25h1v4h-1zM15 32h1v1h-1zM15 35h1v2h-1zM15 38h1v4h-1zM15 43h1v2h-1zM15 47h1v3h-1zM15 53h1v2h-1zM15 57h1v1h-1zM15 61h1v3h-1zM15 68h1v1h-1zM15 71h1v1h-1zM15 73h1v8h-1zM15 89h1v1h-1zM15 91h1v2h-1zM15 99h1v2h-1zM15 103h1v4h-1zM15 108h1v2h-1zM15 112h1v2h-1zM15 126h1v3h-1zM15 131h1v3h-1zM15 135h1v1h-1zM15 137h1v1h-1zM15 141h1v1h-1zM15 145h1v3h-1zM15 155h1v2h-1zM15 158h1v3h-1zM15 164h1v2h-1zM15 170h1v1h-1zM15 172h1v1h-1zM15 177h1v1h-1zM15 179h1v2h-1zM15 183h1v1h-1zM15 185h1v1h-1zM15 189h1v3h-1zM15 193h1v1h-1zM15 197h1v1h-1zM15 435h1v1h-1zM16 14h1v1h-1zM16 27h1v2h-1zM16 34h1v2h-1zM16 38h1v12h-1zM16 55h1v7h-1zM16 64h1v1h-1zM16 68h1v1h-1zM16 70h1v4h-1zM16 75h1v4h-1zM16 80h1v1h-1zM16 88h1v5h-1zM16 97h1v1h-1zM16 100h1v1h-1zM16 102h1v1h-1zM16 105h1v2h-1zM16 108h1v1h-1zM16 111h1v2h-1zM16 130h1v1h-1zM16 133h1v2h-1zM16 139h1v2h-1zM16 143h1v4h-1zM16 157h1v2h-1zM16 160h1v1h-1zM16 162h1v3h-1zM16 169h1v3h-1zM16 177h1v3h-1zM16 182h1v2h-1zM16 187h1v1h-1zM16 190h1v1h-1zM16 193h1v1h-1zM16 196h1v1h-1zM17 25h1v4h-1zM17 32h1v1h-1zM17 37h1v5h-1zM17 43h1v2h-1zM17 46h1v4h-1zM17 53h1v9h-1zM17 63h1v2h-1zM17 69h1v10h-1zM17 80h1v1h-1zM17 88h1v1h-1zM17 90h1v3h-1zM17 94h1v1h-1zM17 99h1v3h-1zM17 103h1v1h-1zM17 105h1v1h-1zM17 107h1v2h-1zM17 110h1v3h-1zM17 124h1v1h-1zM17 132h1v8h-1zM17 141h1v3h-1zM17 145h1v3h-1zM17 154h1v3h-1zM17 158h1v3h-1zM17 164h1v2h-1zM17 170h1v1h-1zM17 173h1v1h-1zM17 177h1v4h-1zM17 182h1v2h-1zM17 185h1v1h-1zM17 194h1v2h-1zM17 277h1v2h-1zM17 281h1v3h-1zM17 285h1v3h-1zM17 291h1v5h-1zM17 301h1v1h-1zM17 594h1v1h-1zM17 598h1v3h-1zM17 607h1v2h-1zM17 613h1v1h-1zM17 615h1v1h-1zM18 0h1v3h-1zM18 5h1v2h-1zM18 11h1v1h-1zM18 13h1v1h-1zM18 26h1v1h-1zM18 28h1v1h-1zM18 31h1v2h-1zM18 34h1v2h-1zM18 37h1v9h-1zM18 48h1v2h-1zM18 52h1v1h-1zM18 54h1v4h-1zM18 59h1v6h-1zM18 68h1v1h-1zM18 70h1v8h-1zM18 80h1v2h-1zM18 88h1v2h-1zM18 91h1v2h-1zM18 95h1v1h-1zM18 98h1v1h-1zM18 100h1v4h-1zM18 111h1v1h-1zM18 115h1v1h-1zM18 117h1v1h-1zM18 131h1v2h-1zM18 134h1v3h-1zM18 138h1v1h-1zM18 146h1v2h-1zM18 154h1v1h-1zM18 157h1v4h-1zM18 163h1v1h-1zM18 165h1v1h-1zM18 171h1v3h-1zM18 178h1v2h-1zM18 182h1v1h-1zM18 184h1v1h-1zM18 186h1v2h-1zM18 190h1v1h-1zM18 196h1v1h-1zM18 277h1v2h-1zM18 281h1v3h-1zM18 285h1v2h-1zM18 288h1v1h-1zM18 290h1v3h-1zM18 294h1v2h-1zM19 14h1v1h-1zM19 23h1v1h-1zM19 25h1v4h-1zM19 31h1v2h-1zM19 35h1v2h-1zM19 39h1v4h-1zM19 44h1v2h-1zM19 47h1v3h-1zM19 55h1v4h-1zM19 60h1v5h-1zM19 67h1v1h-1zM19 70h1v1h-1zM19 74h1v2h-1zM19 77h1v2h-1zM19 80h1v3h-1zM19 88h1v5h-1zM19 98h1v1h-1zM19 100h1v1h-1zM19 102h1v2h-1zM19 105h1v1h-1zM19 107h1v2h-1zM19 110h1v1h-1zM19 126h1v1h-1zM19 131h1v1h-1zM19 133h1v2h-1zM19 136h1v1h-1zM19 138h1v1h-1zM19 141h1v2h-1zM19 145h1v2h-1zM19 154h1v2h-1zM19 158h1v3h-1zM19 162h1v2h-1zM19 165h1v1h-1zM19 169h1v1h-1zM19 171h1v3h-1zM19 178h1v2h-1zM19 195h1v1h-1zM19 197h1v1h-1zM19 278h1v2h-1zM19 281h1v4h-1zM19 286h1v3h-1zM19 290h1v2h-1zM19 293h1v5h-1zM19 300h1v1h-1zM19 461h1v1h-1zM19 466h1v1h-1zM19 470h1v1h-1zM19 473h1v1h-1zM19 475h1v3h-1zM19 490h1v3h-1zM19 496h1v1h-1zM19 585h1v1h-1zM20 13h1v2h-1zM20 27h1v1h-1zM20 34h1v2h-1zM20 37h1v4h-1zM20 43h1v3h-1zM20 47h1v3h-1zM20 53h1v4h-1zM20 58h1v1h-1zM20 60h1v5h-1zM20 68h1v2h-1zM20 71h1v1h-1zM20 74h1v8h-1zM20 88h1v5h-1zM20 95h1v1h-1zM20 97h1v1h-1zM20 99h1v2h-1zM20 102h1v2h-1zM20 106h1v4h-1zM20 131h1v1h-1zM20 134h1v2h-1zM20 137h1v1h-1zM20 139h1v2h-1zM20 142h1v1h-1zM20 146h1v2h-1zM20 151h1v1h-1zM20 157h1v1h-1zM20 159h1v2h-1zM20 162h1v4h-1zM20 171h1v2h-1zM20 178h1v1h-1zM20 180h1v1h-1zM20 182h1v1h-1zM20 185h1v1h-1zM20 187h1v1h-1zM20 190h1v1h-1zM20 193h1v1h-1zM20 197h1v1h-1zM21 25h1v4h-1zM21 31h1v2h-1zM21 34h1v1h-1zM21 36h1v1h-1zM21 38h1v1h-1zM21 43h1v3h-1zM21 47h1v4h-1zM21 52h1v2h-1zM21 56h1v1h-1zM21 60h1v5h-1zM21 68h1v1h-1zM21 70h1v3h-1zM21 74h1v8h-1zM21 88h1v1h-1zM21 90h1v3h-1zM21 97h1v1h-1zM21 99h1v2h-1zM21 102h1v1h-1zM21 105h1v3h-1zM21 109h1v1h-1zM21 113h1v1h-1zM21 131h1v1h-1zM21 133h1v3h-1zM21 138h1v1h-1zM21 140h1v3h-1zM21 145h1v3h-1zM21 153h1v1h-1zM21 155h1v1h-1zM21 157h1v1h-1zM21 163h1v1h-1zM21 165h1v1h-1zM21 170h1v3h-1zM21 177h1v4h-1zM21 182h1v2h-1zM21 190h1v1h-1zM21 193h1v1h-1zM21 196h1v1h-1zM22 19h1v1h-1zM22 24h1v1h-1zM22 27h1v2h-1zM22 37h1v5h-1zM22 45h1v1h-1zM22 48h1v3h-1zM22 54h1v1h-1zM22 56h1v2h-1zM22 60h1v5h-1zM22 68h1v1h-1zM22 70h1v1h-1zM22 73h1v2h-1zM22 76h1v1h-1zM22 81h1v1h-1zM22 88h1v3h-1zM22 92h1v1h-1zM22 98h1v3h-1zM22 103h1v1h-1zM22 106h1v4h-1zM22 112h1v1h-1zM22 131h1v6h-1zM22 138h1v1h-1zM22 145h1v4h-1zM22 155h1v1h-1zM22 158h1v3h-1zM22 163h1v1h-1zM22 170h1v1h-1zM22 172h1v2h-1zM22 177h1v2h-1zM22 182h1v1h-1zM22 184h1v1h-1zM22 186h1v1h-1zM22 190h1v1h-1zM22 194h1v4h-1zM22 305h1v1h-1zM22 307h1v4h-1zM22 316h1v1h-1zM22 319h1v1h-1zM22 417h1v1h-1zM22 419h1v3h-1zM22 424h1v1h-1zM22 429h1v1h-1zM22 431h1v1h-1zM22 433h1v1h-1zM22 435h1v1h-1zM22 523h1v1h-1zM22 526h1v2h-1zM22 531h1v2h-1zM22 540h1v3h-1zM22 545h1v2h-1zM22 548h1v1h-1zM22 550h1v5h-1zM22 556h1v3h-1zM22 560h1v1h-1zM22 564h1v1h-1zM22 568h1v2h-1zM22 572h1v1h-1zM22 574h1v8h-1zM22 589h1v2h-1zM23 13h1v2h-1zM23 16h1v2h-1zM23 27h1v2h-1zM23 35h1v1h-1zM23 38h1v3h-1zM23 42h1v4h-1zM23 48h1v3h-1zM23 53h1v1h-1zM23 59h1v6h-1zM23 68h1v1h-1zM23 70h1v6h-1zM23 77h1v3h-1zM23 81h1v1h-1zM23 88h1v1h-1zM23 90h1v3h-1zM23 97h1v1h-1zM23 99h1v4h-1zM23 104h1v5h-1zM23 110h1v3h-1zM23 120h1v1h-1zM23 131h1v1h-1zM23 133h1v1h-1zM23 135h1v2h-1zM23 138h1v2h-1zM23 141h1v1h-1zM23 145h1v1h-1zM23 147h1v2h-1zM23 152h1v1h-1zM23 155h1v1h-1zM23 157h1v9h-1zM23 171h1v3h-1zM23 177h1v1h-1zM23 182h1v1h-1zM23 185h1v1h-1zM23 187h1v1h-1zM23 189h1v1h-1zM23 191h1v2h-1zM23 195h1v2h-1zM23 419h1v4h-1zM23 424h1v1h-1zM23 429h1v1h-1zM23 431h1v1h-1zM23 433h1v3h-1zM23 518h1v1h-1zM23 524h1v1h-1zM23 527h1v1h-1zM23 531h1v1h-1zM23 539h1v3h-1zM23 544h1v3h-1zM23 550h1v5h-1zM23 557h1v2h-1zM23 560h1v1h-1zM23 562h1v3h-1zM23 566h1v1h-1zM23 568h1v2h-1zM23 573h1v3h-1zM23 577h1v4h-1zM23 583h1v3h-1zM23 589h1v2h-1z"/>
<path fill="#3d3dff" d="M0 302h1v3h-1zM0 306h1v1h-1zM0 310h1v2h-1zM0 317h1v3h-1zM2 270h1v2h-1zM2 274h1v1h-1zM2 276h1v1h-1zM2 302h1v3h-1zM2 306h1v6h-1zM2 314h1v2h-1zM2 317h1v3h-1zM2 486h1v3h-1zM3 6h1v1h-1zM3 8h1v1h-1zM3 302h1v2h-1zM3 307h1v1h-1zM3 312h1v2h-1zM3 317h1v1h-1zM3 319h1v1h-1zM3 472h1v1h-1zM3 486h1v1h-1zM3 488h1v1h-1zM5 116h1v2h-1zM5 119h1v1h-1zM5 121h1v1h-1zM5 269h1v3h-1zM5 276h1v1h-1zM5 283h1v2h-1zM5 289h1v1h-1zM5 302h1v2h-1zM5 310h1v2h-1zM5 313h1v1h-1zM5 317h1v2h-1zM6 0h1v2h-1zM6 270h1v2h-1zM6 276h1v1h-1zM6 487h1v1h-1zM6 490h1v1h-1zM8 117h1v1h-1zM8 119h1v1h-1zM12 25h1v1h-1zM12 124h1v1h-1zM13 25h1v1h-1zM15 95h1v1h-1zM16 96h1v1h-1zM16 110h1v1h-1zM18 124h1v1h-1zM19 95h1v1h-1zM19 121h1v2h-1zM21 96h1v1h-1zM22 4h1v4h-1zM22 11h1v1h-1zM22 25h1v2h-1zM22 33h1v1h-1zM22 95h1v1h-1zM22 117h1v1h-1zM22 521h1v1h-1zM23 4h1v1h-1zM23 8h1v2h-1zM23 11h1v1h-1zM23 26h1v1h-1zM23 31h1v2h-1zM23 519h1v1h-1z"/>
<path fill="#3333ff" d="M0 305h1v1h-1zM0 307h1v3h-1zM0 312h1v2h-1zM0 315h1v2h-1zM2 269h1v1h-1zM2 273h1v1h-1zM2 275h1v1h-1zM2 305h1v1h-1zM2 312h1v2h-1zM2 316h1v1h-1zM2 461h1v1h-1zM3 7h1v1h-1zM3 485h1v1h-1zM3 487h1v1h-1zM3 489h1v1h-1zM5 118h1v1h-1zM5 122h1v1h-1zM5 272h1v4h-1zM5 287h1v2h-1zM5 290h1v1h-1zM5 299h1v2h-1zM5 312h1v1h-1zM6 2h1v2h-1zM6 117h1v6h-1zM6 269h1v1h-1zM6 272h1v4h-1zM7 96h1v1h-1zM8 118h1v1h-1zM8 120h1v1h-1zM12 26h1v1h-1zM12 125h1v1h-1zM13 26h1v1h-1zM13 110h1v1h-1zM15 96h1v1h-1zM15 124h1v1h-1zM16 95h1v1h-1zM18 125h1v1h-1zM19 96h1v1h-1zM19 120h1v1h-1zM21 95h1v1h-1zM22 8h1v2h-1zM22 12h1v1h-1zM22 31h1v2h-1zM22 96h1v1h-1zM22 118h1v1h-1zM22 120h1v3h-1zM22 520h1v1h-1zM23 5h1v3h-1zM23 10h1v1h-1zM23 12h1v1h-1zM23 25h1v1h-1zM23 117h1v1h-1zM23 522h1v1h-1z"/>
<path fill="#4747ff" d="M0 314h1v1h-1zM2 462h1v1h-1zM5 120h1v1h-1zM5 285h1v1h-1zM5 314h1v1h-1zM6 96h1v1h-1zM6 488h1v2h-1zM8 116h1v1h-1zM22 110h1v1h-1zM22 522h1v1h-1z"/>
<path fill="#adadff" d="M1 20h1v3h-1zM1 198h1v1h-1zM2 85h1v3h-1zM2 365h1v2h-1zM4 29h1v1h-1zM4 150h1v1h-1zM4 167h1v2h-1zM5 85h1v1h-1zM5 87h1v1h-1zM5 328h1v2h-1zM8 167h1v2h-1zM11 2h1v1h-1zM11 20h1v3h-1zM12 96h1v1h-1zM13 121h1v1h-1zM14 118h1v1h-1zM14 328h1v1h-1zM15 328h1v1h-1zM16 328h1v1h-1z"/>
<path fill="#ff1f1f" d="M1 110h1v1h-1zM3 200h1v1h-1zM3 202h1v1h-1zM7 13h1v1h-1zM8 62h1v1h-1zM8 83h1v2h-1zM8 89h1v1h-1zM8 93h1v1h-1zM9 98h1v1h-1zM9 101h1v1h-1zM9 104h1v1h-1zM10 16h1v1h-1zM10 20h1v1h-1zM10 23h1v1h-1zM11 151h1v2h-1zM11 154h1v1h-1zM11 156h1v1h-1zM11 162h1v1h-1zM12 320h1v1h-1zM12 322h1v1h-1zM12 325h1v1h-1zM13 591h1v1h-1zM13 593h1v1h-1zM13 596h1v1h-1zM16 266h1v1h-1zM19 338h1v2h-1zM19 341h1v1h-1zM19 343h1v2h-1zM20 357h1v3h-1zM20 363h1v1h-1zM20 440h1v1h-1zM21 335h1v1h-1zM21 337h1v1h-1zM21 339h1v1h-1zM21 342h1v3h-1zM21 346h1v1h-1zM22 250h1v2h-1zM22 254h1v7h-1zM22 465h1v1h-1zM22 467h1v2h-1zM23 235h1v1h-1zM23 239h1v6h-1zM23 247h1v1h-1z"/>
<path fill="#ff2929" d="M1 111h1v1h-1zM9 105h1v3h-1zM10 22h1v1h-1zM11 127h1v1h-1zM11 130h1v1h-1zM11 148h1v1h-1zM11 165h1v2h-1zM12 324h1v1h-1zM21 340h1v1h-1z"/>
<path fill="#ffe0e0" d="M1 121h1v2h-1zM1 129h1v1h-1zM1 134h1v1h-1zM1 136h1v1h-1zM1 143h1v2h-1zM1 148h1v1h-1zM1 158h1v3h-1zM1 165h1v1h-1zM1 169h1v1h-1zM1 177h1v2h-1zM1 194h1v1h-1zM1 197h1v1h-1zM1 205h1v1h-1zM1 209h1v3h-1zM1 215h1v4h-1zM1 221h1v4h-1zM2 29h1v1h-1zM2 32h1v1h-1zM2 35h1v6h-1zM2 134h1v3h-1zM2 138h1v1h-1zM2 148h1v1h-1zM2 158h1v3h-1zM2 165h1v1h-1zM2 171h1v3h-1zM2 175h1v1h-1zM2 181h1v4h-1zM2 186h1v1h-1zM2 190h1v1h-1zM2 192h1v2h-1zM2 348h1v2h-1zM3 128h1v3h-1zM3 134h1v5h-1zM3 142h1v3h-1zM3 148h1v2h-1zM3 158h1v3h-1zM3 165h1v1h-1zM3 170h1v1h-1zM3 172h1v2h-1zM3 175h1v2h-1zM3 180h1v1h-1zM3 182h1v1h-1zM3 184h1v1h-1zM3 189h1v3h-1zM3 204h1v2h-1zM3 209h1v1h-1zM3 211h1v1h-1zM3 215h1v4h-1zM3 221h1v4h-1zM4 51h1v1h-1zM6 10h1v1h-1zM6 14h1v1h-1zM6 16h1v1h-1zM6 18h1v2h-1zM6 31h1v1h-1zM6 42h1v1h-1zM6 46h1v1h-1zM6 55h1v2h-1zM6 63h1v2h-1zM6 73h1v1h-1zM6 76h1v1h-1zM6 81h1v1h-1zM6 94h1v1h-1zM6 227h1v1h-1zM6 230h1v1h-1zM6 233h1v1h-1zM6 428h1v1h-1zM7 4h1v1h-1zM7 7h1v4h-1zM7 34h1v1h-1zM7 39h1v1h-1zM7 74h1v1h-1zM7 80h1v1h-1zM7 88h1v2h-1zM7 93h1v2h-1zM7 304h1v3h-1zM7 309h1v1h-1zM7 311h1v1h-1zM7 315h1v1h-1zM7 317h1v1h-1zM7 319h1v1h-1zM7 432h1v1h-1zM8 0h1v2h-1zM8 3h1v1h-1zM8 7h1v4h-1zM8 66h1v1h-1zM8 68h1v6h-1zM8 76h1v3h-1zM8 80h1v1h-1zM8 96h1v3h-1zM8 100h1v2h-1zM8 426h1v1h-1zM8 429h1v4h-1zM8 434h1v1h-1zM9 42h1v2h-1zM9 73h1v1h-1zM9 79h1v1h-1zM9 88h1v1h-1zM9 93h1v2h-1zM9 309h1v1h-1zM9 315h1v1h-1zM10 26h1v1h-1zM10 115h1v1h-1zM10 119h1v1h-1zM10 122h1v1h-1zM10 170h1v1h-1zM10 181h1v3h-1zM10 185h1v5h-1zM10 191h1v2h-1zM10 194h1v1h-1zM11 55h1v2h-1zM11 63h1v2h-1zM11 73h1v1h-1zM11 75h1v1h-1zM11 77h1v1h-1zM11 81h1v1h-1zM11 109h1v3h-1zM11 113h1v1h-1zM11 116h1v1h-1zM11 121h1v2h-1zM11 134h1v5h-1zM11 142h1v1h-1zM11 227h1v1h-1zM11 232h1v1h-1zM12 121h1v1h-1zM12 327h1v1h-1zM12 330h1v1h-1zM12 459h1v1h-1zM12 463h1v1h-1zM12 479h1v3h-1zM12 483h1v1h-1zM12 521h1v1h-1zM12 523h1v4h-1zM12 528h1v3h-1zM12 538h1v1h-1zM12 545h1v1h-1zM12 547h1v4h-1zM12 567h1v1h-1zM12 570h1v3h-1zM12 574h1v2h-1zM12 579h1v3h-1zM12 583h1v1h-1zM12 587h1v1h-1zM13 278h1v3h-1zM13 283h1v2h-1zM13 286h1v4h-1zM13 304h1v1h-1zM13 308h1v1h-1zM13 315h1v1h-1zM13 464h1v4h-1zM13 469h1v2h-1zM13 472h1v1h-1zM13 474h1v5h-1zM13 482h1v4h-1zM13 489h1v1h-1zM13 491h1v1h-1zM13 493h1v2h-1zM13 497h1v1h-1zM13 499h1v1h-1zM13 516h1v2h-1zM13 519h1v2h-1zM13 522h1v1h-1zM13 524h1v3h-1zM13 530h1v1h-1zM13 545h1v1h-1zM13 547h1v5h-1zM13 555h1v1h-1zM13 564h1v1h-1zM13 566h1v1h-1zM13 573h1v2h-1zM13 579h1v1h-1zM13 590h1v1h-1zM13 599h1v2h-1zM13 603h1v2h-1zM13 607h1v2h-1zM13 611h1v1h-1zM13 613h1v3h-1zM14 518h1v3h-1zM14 531h1v1h-1zM14 542h1v1h-1zM14 545h1v3h-1zM14 549h1v1h-1zM14 558h1v1h-1zM14 563h1v4h-1zM14 569h1v1h-1zM14 573h1v1h-1zM14 579h1v1h-1zM14 586h1v3h-1zM15 279h1v1h-1zM15 281h1v4h-1zM15 288h1v3h-1zM15 298h1v1h-1zM15 459h1v1h-1zM15 463h1v1h-1zM15 466h1v1h-1zM15 471h1v5h-1zM15 478h1v9h-1zM15 488h1v2h-1zM15 493h1v2h-1zM15 508h1v1h-1zM15 511h1v1h-1zM15 514h1v1h-1zM15 518h1v2h-1zM15 531h1v1h-1zM15 542h1v1h-1zM15 555h1v1h-1zM15 563h1v2h-1zM15 574h1v2h-1zM15 579h1v1h-1zM15 581h1v1h-1zM15 589h1v2h-1zM16 124h1v1h-1zM16 284h1v1h-1zM16 287h1v4h-1zM16 436h1v1h-1zM16 451h1v2h-1zM16 454h1v2h-1zM16 472h1v2h-1zM16 479h1v3h-1zM16 483h1v2h-1zM16 487h1v1h-1zM16 489h1v1h-1zM16 493h1v2h-1zM16 521h1v3h-1zM16 529h1v1h-1zM16 538h1v1h-1zM16 545h1v7h-1zM16 553h1v2h-1zM16 567h1v1h-1zM16 569h1v2h-1zM16 572h1v1h-1zM16 575h1v1h-1zM16 580h1v1h-1zM16 583h1v1h-1zM16 587h1v3h-1zM17 95h1v2h-1zM17 304h1v2h-1zM17 308h1v2h-1zM17 315h1v2h-1zM17 324h1v1h-1zM17 326h1v1h-1zM17 329h1v1h-1zM17 331h1v1h-1zM17 348h1v1h-1zM17 351h1v1h-1zM17 353h1v1h-1zM17 356h1v2h-1zM17 360h1v1h-1zM17 363h1v1h-1zM17 372h1v2h-1zM17 381h1v2h-1zM17 389h1v4h-1zM17 396h1v1h-1zM17 402h1v1h-1zM17 404h1v3h-1zM17 410h1v2h-1zM17 414h1v1h-1zM17 416h1v1h-1zM17 425h1v1h-1zM17 429h1v1h-1zM17 431h1v2h-1zM17 438h1v1h-1zM17 440h1v1h-1zM17 444h1v2h-1zM17 449h1v2h-1zM17 516h1v1h-1zM17 521h1v3h-1zM17 525h1v6h-1zM17 543h1v2h-1zM17 546h1v1h-1zM17 548h1v2h-1zM17 554h1v1h-1zM17 566h1v2h-1zM17 573h1v1h-1zM17 580h1v1h-1zM17 583h1v1h-1zM17 585h1v1h-1zM17 588h1v3h-1zM18 321h1v2h-1zM18 324h1v4h-1zM18 330h1v2h-1zM18 360h1v1h-1zM18 366h1v2h-1zM18 370h1v1h-1zM18 377h1v1h-1zM18 383h1v1h-1zM18 387h1v1h-1zM18 389h1v1h-1zM18 394h1v1h-1zM18 400h1v3h-1zM18 408h1v1h-1zM18 413h1v1h-1zM18 415h1v2h-1zM18 421h1v1h-1zM18 425h1v2h-1zM18 429h1v3h-1zM18 434h1v1h-1zM18 451h1v3h-1zM19 323h1v1h-1zM19 331h1v1h-1zM19 379h1v1h-1zM19 387h1v1h-1zM19 390h1v1h-1zM19 400h1v1h-1zM19 402h1v3h-1zM19 406h1v1h-1zM19 410h1v1h-1zM19 412h1v1h-1zM19 414h1v3h-1zM19 424h1v1h-1zM19 430h1v2h-1zM19 434h1v1h-1zM19 436h1v1h-1zM19 451h1v5h-1zM20 277h1v1h-1zM20 295h1v2h-1zM20 301h1v1h-1zM20 374h1v2h-1zM20 378h1v3h-1zM20 385h1v2h-1zM20 394h1v2h-1zM20 408h1v2h-1zM20 413h1v1h-1zM20 415h1v1h-1zM20 432h1v1h-1zM20 434h1v1h-1zM20 443h1v3h-1zM20 448h1v2h-1zM20 456h1v3h-1zM20 518h1v1h-1zM20 521h1v3h-1zM20 525h1v6h-1zM20 538h1v1h-1zM20 546h1v2h-1zM20 549h1v1h-1zM20 551h1v1h-1zM20 554h1v1h-1zM20 571h1v1h-1zM20 573h1v2h-1zM20 580h1v3h-1zM20 585h1v1h-1zM20 588h1v1h-1zM21 401h1v1h-1zM21 408h1v2h-1zM21 413h1v1h-1zM21 417h1v1h-1zM21 421h1v1h-1zM21 424h1v1h-1zM21 451h1v2h-1zM21 527h1v1h-1zM21 529h1v1h-1zM21 532h1v1h-1zM21 534h1v1h-1zM21 539h1v3h-1zM21 543h1v2h-1zM21 553h1v1h-1zM21 556h1v2h-1zM21 561h1v2h-1zM21 567h1v1h-1zM21 571h1v1h-1zM21 576h1v3h-1zM22 281h1v3h-1zM22 287h1v4h-1zM22 302h1v1h-1zM22 306h1v1h-1zM22 313h1v1h-1zM22 317h1v1h-1zM22 459h1v1h-1zM22 471h1v3h-1zM22 479h1v11h-1zM22 493h1v2h-1zM22 504h1v3h-1zM22 508h1v2h-1zM22 511h1v2h-1zM22 514h1v2h-1zM23 252h1v1h-1zM23 254h1v4h-1zM23 260h1v3h-1zM23 264h1v4h-1zM23 302h1v2h-1zM23 306h1v2h-1zM23 310h1v1h-1zM23 312h1v2h-1zM23 317h1v1h-1zM23 319h1v1h-1zM23 436h1v1h-1zM23 440h1v3h-1zM23 447h1v1h-1zM23 453h1v1h-1zM23 457h1v3h-1zM23 472h1v1h-1zM23 479h1v1h-1zM23 482h1v1h-1zM23 485h1v1h-1zM23 487h1v2h-1zM23 500h1v4h-1zM23 513h1v1h-1z"/>
<path fill="#ffd6d6" d="M1 179h1v1h-1zM2 27h1v2h-1zM2 41h1v1h-1zM2 347h1v1h-1zM3 171h1v1h-1zM3 210h1v1h-1zM4 43h1v1h-1zM6 7h1v2h-1zM6 26h1v1h-1zM6 39h1v1h-1zM6 45h1v1h-1zM6 75h1v1h-1zM6 91h1v2h-1zM7 26h1v1h-1zM7 35h1v1h-1zM7 75h1v1h-1zM7 79h1v1h-1zM7 90h1v1h-1zM7 435h1v1h-1zM8 99h1v1h-1zM8 433h1v1h-1zM9 92h1v1h-1zM10 35h1v1h-1zM11 80h1v1h-1zM12 120h1v1h-1zM12 473h1v1h-1zM12 487h1v1h-1zM12 527h1v1h-1zM12 551h1v2h-1zM13 281h1v1h-1zM13 290h1v1h-1zM13 490h1v1h-1zM13 492h1v1h-1zM13 495h1v1h-1zM13 546h1v1h-1zM13 583h1v1h-1zM13 589h1v1h-1zM13 598h1v1h-1zM15 286h1v1h-1zM15 477h1v1h-1zM15 487h1v1h-1zM15 546h1v1h-1zM16 125h1v1h-1zM16 526h1v2h-1zM16 573h1v1h-1zM16 590h1v1h-1zM17 366h1v1h-1zM17 370h1v2h-1zM17 377h1v1h-1zM17 393h1v1h-1zM17 407h1v1h-1zM17 412h1v1h-1zM17 550h1v2h-1zM17 553h1v1h-1zM18 388h1v1h-1zM18 433h1v1h-1zM19 324h1v1h-1zM19 370h1v1h-1zM19 398h1v1h-1zM19 429h1v1h-1zM19 433h1v1h-1zM20 291h1v2h-1zM20 376h1v1h-1zM20 384h1v1h-1zM20 397h1v1h-1zM20 401h1v1h-1zM20 431h1v1h-1zM20 450h1v1h-1zM20 550h1v1h-1zM20 583h1v2h-1zM21 351h1v1h-1zM22 303h1v1h-1zM22 312h1v1h-1zM22 314h1v1h-1zM22 318h1v1h-1zM22 477h1v1h-1zM23 314h1v1h-1zM23 515h1v1h-1z"/>
<path fill="#5c5cff" d="M1 300h1v1h-1zM2 66h1v1h-1zM3 439h1v1h-1zM3 516h1v1h-1zM5 199h1v1h-1zM5 559h1v1h-1zM6 323h1v1h-1zM6 355h1v1h-1zM7 329h1v1h-1zM7 559h1v1h-1zM8 114h1v1h-1zM8 559h1v1h-1zM9 559h1v1h-1zM10 559h1v1h-1zM11 533h1v1h-1zM11 559h1v1h-1zM12 149h1v2h-1zM12 193h1v1h-1zM13 93h1v1h-1zM13 119h1v1h-1zM13 123h1v1h-1zM13 125h1v1h-1zM14 30h1v1h-1zM14 82h1v2h-1zM14 114h1v2h-1zM14 124h1v1h-1zM15 94h1v1h-1zM15 119h1v1h-1zM15 123h1v1h-1zM15 174h1v1h-1zM16 114h1v1h-1zM16 119h1v1h-1zM17 83h1v1h-1zM17 129h1v1h-1zM17 151h1v1h-1zM17 300h1v1h-1zM18 14h1v1h-1zM18 149h1v1h-1zM18 166h1v1h-1zM18 174h1v1h-1zM18 194h1v1h-1zM19 51h1v1h-1zM19 83h1v1h-1zM19 116h1v3h-1zM19 128h1v1h-1zM19 176h1v1h-1zM19 198h1v1h-1zM20 29h1v2h-1zM20 83h1v2h-1zM20 114h1v1h-1zM20 119h1v1h-1zM20 126h1v1h-1zM20 149h1v1h-1zM20 153h1v1h-1zM20 199h1v1h-1zM21 24h1v1h-1zM21 93h1v1h-1zM21 114h1v1h-1zM21 119h1v1h-1zM21 124h1v1h-1zM21 174h1v1h-1zM22 16h1v2h-1zM22 115h1v2h-1zM22 150h1v1h-1zM22 161h1v1h-1zM22 174h1v1h-1zM22 586h1v1h-1zM23 15h1v1h-1zM23 18h1v1h-1zM23 149h1v1h-1zM23 199h1v1h-1zM23 426h1v1h-1z"/>
<path fill="#ffb8b8" d="M2 214h1v1h-1zM3 213h1v1h-1zM4 1h1v1h-1zM4 212h1v1h-1zM4 214h1v1h-1zM6 69h1v1h-1zM6 77h1v1h-1zM7 290h1v1h-1zM9 71h1v1h-1zM9 77h1v1h-1zM9 80h1v1h-1zM9 131h1v1h-1zM9 134h1v1h-1zM10 27h1v1h-1zM10 37h1v2h-1zM10 110h1v1h-1zM10 177h1v1h-1zM10 196h1v1h-1zM11 190h1v1h-1zM12 599h1v1h-1zM12 608h1v1h-1zM13 597h1v1h-1zM13 601h1v1h-1zM14 451h1v1h-1zM14 550h1v1h-1zM14 575h1v1h-1zM15 556h1v2h-1zM15 595h1v2h-1zM16 262h1v1h-1zM16 265h1v1h-1zM17 321h1v2h-1zM17 375h1v1h-1zM17 384h1v1h-1zM17 434h1v1h-1zM18 320h1v1h-1zM18 384h1v2h-1zM18 397h1v3h-1zM18 406h1v1h-1zM19 322h1v1h-1zM19 419h1v1h-1zM20 367h1v1h-1zM20 398h1v2h-1zM20 406h1v1h-1zM21 291h1v1h-1zM21 301h1v1h-1zM21 397h1v1h-1zM22 225h1v1h-1zM22 263h1v1h-1zM23 291h1v2h-1zM23 296h1v1h-1zM23 449h1v2h-1zM23 514h1v1h-1z"/>
<path fill="#2929ff" d="M2 485h1v1h-1zM2 489h1v1h-1zM3 471h1v1h-1zM6 95h1v1h-1zM6 116h1v1h-1zM7 95h1v1h-1zM15 125h1v1h-1zM22 519h1v1h-1zM23 33h1v1h-1zM23 118h1v1h-1zM23 520h1v2h-1z"/>
<path fill="#ffadad" d="M3 167h1v2h-1zM8 427h1v2h-1zM10 167h1v2h-1z"/>
<path fill="#ff1414" d="M3 201h1v1h-1zM3 203h1v1h-1zM6 12h1v1h-1zM8 60h1v2h-1zM8 88h1v1h-1zM8 90h1v3h-1zM8 94h1v1h-1zM9 56h1v3h-1zM9 99h1v2h-1zM9 102h1v2h-1zM9 108h1v1h-1zM10 17h1v2h-1zM10 21h1v1h-1zM10 24h1v2h-1zM11 128h1v2h-1zM11 147h1v1h-1zM11 149h1v2h-1zM11 153h1v1h-1zM11 155h1v1h-1zM11 159h1v3h-1zM11 164h1v1h-1zM12 323h1v1h-1zM13 592h1v1h-1zM13 594h1v2h-1zM16 267h1v1h-1zM19 337h1v1h-1zM19 340h1v1h-1zM19 342h1v1h-1zM19 345h1v2h-1zM19 427h1v2h-1zM20 362h1v1h-1zM20 441h1v2h-1zM21 336h1v1h-1zM21 341h1v1h-1zM21 345h1v1h-1zM22 252h1v2h-1zM22 463h1v1h-1zM23 236h1v3h-1zM23 245h1v2h-1zM23 248h1v3h-1z"/>
<path fill="#ff8585" d="M4 217h1v1h-1zM5 2h1v2h-1zM7 42h1v1h-1zM11 51h1v1h-1zM11 168h1v1h-1zM19 353h1v1h-1zM22 457h1v1h-1z"/>
<path fill="#ff0a0a" d="M6 11h1v1h-1zM7 14h1v1h-1zM10 19h1v1h-1zM11 157h1v2h-1zM11 163h1v1h-1zM12 321h1v1h-1zM12 326h1v1h-1zM16 268h1v1h-1zM20 356h1v1h-1zM20 361h1v1h-1zM21 338h1v1h-1zM22 464h1v1h-1zM22 466h1v1h-1z"/>
<path fill="#ffa3a3" d="M7 44h1v1h-1zM11 198h1v1h-1zM12 605h1v1h-1zM12 616h1v1h-1zM15 610h1v1h-1zM16 515h1v1h-1zM19 328h1v1h-1zM19 352h1v1h-1zM21 538h1v1h-1zM22 247h1v1h-1z"/>
<path fill="#ff0000" d="M8 85h1v3h-1zM20 360h1v1h-1z"/>
<path fill="#ff7a7a" d="M11 167h1v1h-1z"/>
</g>
<path d="M133.7 668.2V652.6M153.5 668.2V652.6M132.6 652.6H154.6M93.2 668.2V651.0M113.6 668.2V651.0M92.1 651.0H114.7M103.4 651.0V650.0M143.6 652.6V650.0M102.3 650.0H144.7M72.9 668.2V649.3M123.5 650.0V649.3M71.8 649.3H124.6M174.6 668.2V646.0M98.2 649.3V646.0M173.5 646.0H99.3M194.5 668.2V644.4M136.4 646.0V644.4M193.4 644.4H137.5M214.8 668.2V655.8M234.8 668.2V655.8M213.7 655.8H235.9M255.3 668.2V654.0M224.8 655.8V654.0M254.2 654.0H225.9M275.6 668.2V649.2M240.1 654.0V649.2M274.5 649.2H241.2M295.6 668.2V643.0M257.8 649.2V643.0M294.5 643.0H258.9M165.4 644.4V640.6M276.7 643.0V640.6M164.3 640.6H277.8M336.8 668.2V654.0M356.1 668.2V654.0M335.7 654.0H357.2M316.3 668.2V651.3M346.5 654.0V651.3M315.2 651.3H347.6M377.2 668.2V652.2M397.1 668.2V652.2M376.1 652.2H398.2M387.1 652.2V650.8M417.2 668.2V650.8M386.0 650.8H418.3M331.4 651.3V646.2M402.2 650.8V646.2M330.3 646.2H403.3M438.1 668.2V652.3M458.2 668.2V652.3M437.0 652.3H459.3M478.3 668.2V650.3M498.9 668.2V650.3M477.2 650.3H500.0M448.1 652.3V649.5M488.6 650.3V649.5M447.0 649.5H489.7M519.4 668.2V646.6M539.3 668.2V646.6M518.3 646.6H540.4M468.4 649.5V646.0M529.3 646.6V646.0M467.3 646.0H530.4M366.8 646.2V643.3M498.9 646.0V643.3M365.7 643.3H500.0M221.1 640.6V628.3M432.8 643.3V628.3M220.0 628.3H433.9" fill="none" stroke="#858585" stroke-width="2.2"/>
<path d="M748.7 667.3V650.1M768.8 667.3V650.1M747.6 650.1H769.9M789.1 667.3V650.1M809.1 667.3V650.1M788.0 650.1H810.2M829.6 667.3V650.1M850.0 667.3V650.1M828.5 650.1H851.1M758.8 650.1V648.2M799.1 650.1V648.2M757.6 648.2H800.2M778.9 648.2V644.4M839.8 650.1V644.4M777.8 644.4H840.9M870.3 667.3V647.7M890.4 667.3V647.7M869.2 647.7H891.5M910.7 667.3V645.4M930.7 667.3V645.4M909.6 645.4H931.8M880.3 647.7V644.5M920.7 645.4V644.5M879.2 644.5H921.8M951.2 667.3V640.6M971.5 667.3V640.6M950.1 640.6H972.6M809.4 644.4V638.5M900.5 644.5V638.5M808.3 638.5H901.6M854.9 638.5V637.8M961.4 640.6V637.8M853.8 637.8H962.5M1032.5 667.3V649.2M1052.6 667.3V649.2M1031.4 649.2H1053.7M1012.3 667.3V645.8M1042.5 649.2V645.8M1011.2 645.8H1043.6M1027.4 645.8V645.3M1072.7 667.3V645.3M1026.3 645.3H1073.8M992.2 667.3V640.2M1050.1 645.3V640.2M991.1 640.2H1051.2M1114.0 667.3V649.2M1133.7 667.3V649.2M1112.9 649.2H1134.8M1093.3 667.3V643.2M1123.8 649.2V643.2M1092.2 643.2H1124.9M1154.3 667.3V643.2M1174.8 667.3V643.2M1153.2 643.2H1175.9M1108.6 643.2V641.2M1164.5 643.2V641.2M1107.5 641.2H1165.6M1021.1 640.2V634.1M1136.6 641.2V634.1M1020.0 634.1H1137.7M1195.0 667.3V638.8M1214.7 667.3V638.8M1193.9 638.8H1215.8M1078.8 634.1V628.7M1204.8 638.8V628.7M1077.7 628.7H1205.9M908.1 637.8V624.8M1141.8 628.7V624.8M907.0 624.8H1142.9" fill="none" stroke="#858585" stroke-width="2.2"/>
<text transform="translate(63.9 748.3) rotate(90) scale(1 1.04)" font-size="22" text-anchor="end">CK_En1</text>
<text transform="translate(84.2 748.3) rotate(90) scale(1 1.04)" font-size="22" text-anchor="end">CK_En3</text>
<text transform="translate(104.6 748.3) rotate(90) scale(1 1.04)" font-size="22" text-anchor="end">CK_En5</text>
<text transform="translate(124.7 748.3) rotate(90) scale(1 1.04)" font-size="22" text-anchor="end">CK_En4</text>
<text transform="translate(144.5 748.3) rotate(90) scale(1 1.04)" font-size="22" text-anchor="end">CK_En6</text>
<text transform="translate(165.6 748.3) rotate(90) scale(1 1.04)" font-size="22" text-anchor="end">CK_En2</text>
<text transform="translate(185.5 748.3) rotate(90) scale(1 1.04)" font-size="22" text-anchor="end">UA_En3</text>
<text transform="translate(205.8 748.3) rotate(90) scale(1 1.04)" font-size="22" text-anchor="end">UA_En1</text>
<text transform="translate(225.8 748.3) rotate(90) scale(1 1.04)" font-size="22" text-anchor="end">UA_En4</text>
<text transform="translate(246.3 748.3) rotate(90) scale(1 1.04)" font-size="22" text-anchor="end">UA_En6</text>
<text transform="translate(266.6 748.3) rotate(90) scale(1 1.04)" font-size="22" text-anchor="end">UA_En5</text>
<text transform="translate(286.6 748.3) rotate(90) scale(1 1.04)" font-size="22" text-anchor="end">UA_En2</text>
<text transform="translate(307.3 748.3) rotate(90) scale(1 1.04)" font-size="22" text-anchor="end">CK_Em1</text>
<text transform="translate(327.8 748.3) rotate(90) scale(1 1.04)" font-size="22" text-anchor="end">CK_Em2</text>
<text transform="translate(347.1 748.3) rotate(90) scale(1 1.04)" font-size="22" text-anchor="end">CK_Em4</text>
<text transform="translate(368.2 748.3) rotate(90) scale(1 1.04)" font-size="22" text-anchor="end">CK_Em3</text>
<text transform="translate(388.1 748.3) rotate(90) scale(1 1.04)" font-size="22" text-anchor="end">CK_Em5</text>
<text transform="translate(408.2 748.3) rotate(90) scale(1 1.04)" font-size="22" text-anchor="end">CK_Em6</text>
<text transform="translate(429.1 748.3) rotate(90) scale(1 1.04)" font-size="22" text-anchor="end">UA_Em1</text>
<text transform="translate(449.2 748.3) rotate(90) scale(1 1.04)" font-size="22" text-anchor="end">UA_Em2</text>
<text transform="translate(469.3 748.3) rotate(90) scale(1 1.04)" font-size="22" text-anchor="end">UA_Em6</text>
<text transform="translate(489.9 748.3) rotate(90) scale(1 1.04)" font-size="22" text-anchor="end">UA_Em4</text>
<text transform="translate(510.4 748.3) rotate(90) scale(1 1.04)" font-size="22" text-anchor="end">UA_Em3</text>
<text transform="translate(530.3 748.3) rotate(90) scale(1 1.04)" font-size="22" text-anchor="end">UA_Em5</text>
<text transform="translate(739.7 748.3) rotate(90) scale(1 1.04)" font-size="22" text-anchor="end">CK_En1</text>
<text transform="translate(759.8 748.3) rotate(90) scale(1 1.04)" font-size="22" text-anchor="end">CK_En3</text>
<text transform="translate(780.1 748.3) rotate(90) scale(1 1.04)" font-size="22" text-anchor="end">CK_En5</text>
<text transform="translate(800.1 748.3) rotate(90) scale(1 1.04)" font-size="22" text-anchor="end">CK_En4</text>
<text transform="translate(820.6 748.3) rotate(90) scale(1 1.04)" font-size="22" text-anchor="end">CK_En6</text>
<text transform="translate(841.0 748.3) rotate(90) scale(1 1.04)" font-size="22" text-anchor="end">CK_En2</text>
<text transform="translate(861.3 748.3) rotate(90) scale(1 1.04)" font-size="22" text-anchor="end">UA_En3</text>
<text transform="translate(881.4 748.3) rotate(90) scale(1 1.04)" font-size="22" text-anchor="end">UA_En1</text>
<text transform="translate(901.7 748.3) rotate(90) scale(1 1.04)" font-size="22" text-anchor="end">UA_En4</text>
<text transform="translate(921.7 748.3) rotate(90) scale(1 1.04)" font-size="22" text-anchor="end">UA_En6</text>
<text transform="translate(942.2 748.3) rotate(90) scale(1 1.04)" font-size="22" text-anchor="end">UA_En5</text>
<text transform="translate(962.5 748.3) rotate(90) scale(1 1.04)" font-size="22" text-anchor="end">UA_En2</text>
<text transform="translate(983.2 748.3) rotate(90) scale(1 1.04)" font-size="22" text-anchor="end">CK_Em1</text>
<text transform="translate(1003.3 748.3) rotate(90) scale(1 1.04)" font-size="22" text-anchor="end">CK_Em2</text>
<text transform="translate(1023.5 748.3) rotate(90) scale(1 1.04)" font-size="22" text-anchor="end">CK_Em4</text>
<text transform="translate(1043.6 748.3) rotate(90) scale(1 1.04)" font-size="22" text-anchor="end">CK_Em3</text>
<text transform="translate(1063.7 748.3) rotate(90) scale(1 1.04)" font-size="22" text-anchor="end">CK_Em5</text>
<text transform="translate(1084.3 748.3) rotate(90) scale(1 1.04)" font-size="22" text-anchor="end">CK_Em6</text>
<text transform="translate(1105.0 748.3) rotate(90) scale(1 1.04)" font-size="22" text-anchor="end">UA_Em1</text>
<text transform="translate(1124.7 748.3) rotate(90) scale(1 1.04)" font-size="22" text-anchor="end">UA_Em2</text>
<text transform="translate(1145.3 748.3) rotate(90) scale(1 1.04)" font-size="22" text-anchor="end">UA_Em6</text>
<text transform="translate(1165.8 748.3) rotate(90) scale(1 1.04)" font-size="22" text-anchor="end">UA_Em4</text>
<text transform="translate(1186.0 748.3) rotate(90) scale(1 1.04)" font-size="22" text-anchor="end">UA_Em3</text>
<text transform="translate(1205.7 748.3) rotate(90) scale(1 1.04)" font-size="22" text-anchor="end">UA_Em5</text>
<path d="M64 753.5L28 753.5L29 776L57 776L57 802L28 802L32 830L38 850L52 995L29 998L33.7 1002L49 1118L36 1122L37 1200L38.5 1270L50 1400L44 1405L46 1450L48 1560L55 1679L64 1679z" fill="#868686"/>
<path d="M63.6 755.3H60.6V756.5H63.6M63.6 757.7H61.3V758.9H63.6M60.6 755.9H59.7V758.3H61.3M63.6 754.1H59.1V757.1H59.7M59.1 755.6H58.5V760.1H63.6M63.6 761.3H61.2V762.5H63.6M61.2 761.9H60.5V763.7H63.6M58.5 757.9H56.4V762.8H60.5M63.6 764.9H61.3V766.1H63.6M56.4 760.3H55.8V765.5H61.3M63.6 768.5H61.5V769.7H63.6M61.5 769.1H59.5V770.9H63.6M63.6 767.3H58.9V770.0H59.5M55.8 762.9H55.2V768.7H58.9M63.6 772.1H60.7V773.3H63.6M63.6 774.5H60.1V775.7H63.6M60.1 775.1H59.5V776.9H63.6M60.7 772.7H58.1V776.0H59.5M63.6 778.1H61.1V779.3H63.6M58.1 774.4H57.5V778.7H61.1M57.5 776.5H56.9V780.5H63.6M55.2 765.8H54.6V778.5H56.9M63.6 782.9H61.5V784.1H63.6M63.6 781.7H59.8V783.5H61.5M63.6 785.3H60.8V786.5H63.6M63.6 788.9H60.5V790.1H63.6M63.6 787.7H59.9V789.5H60.5M60.8 785.9H58.1V788.6H59.9M63.6 793.7H60.7V794.9H63.6M60.7 794.3H60.1V796.1H63.6M63.6 792.5H59.5V795.2H60.1M59.5 793.9H58.9V797.3H63.6M63.6 798.5H61.2V799.6H63.6M58.9 795.6H57.6V799.0H61.2M63.6 791.3H56.7V797.3H57.6M58.1 787.3H54.8V794.3H56.7M59.8 782.6H54.2V790.8H54.8M54.6 772.1H52.0V786.7H54.2M63.6 803.0H60.6V804.2H63.6M63.6 801.8H59.4V803.6H60.6M59.4 802.7H58.8V805.4H63.6M63.6 800.6H58.2V804.1H58.8M58.2 802.3H57.6V806.6H63.6M63.6 809.0H61.2V810.2H63.6M63.6 807.8H60.6V809.6H61.2M57.6 804.5H57.0V808.7H60.6M63.6 811.4H61.4V812.6H63.6M61.4 812.0H59.3V813.8H63.6M63.6 815.0H60.9V816.2H63.6M59.3 812.9H58.7V815.6H60.9M57.0 806.6H55.8V814.2H58.7M63.6 819.8H61.3V821.0H63.6M63.6 822.2H60.1V823.4H63.6M61.3 820.4H59.3V822.8H60.1M63.6 818.6H58.5V821.6H59.3M58.5 820.1H57.9V824.6H63.6M63.6 817.4H57.3V822.4H57.9M63.6 825.8H61.1V827.0H63.6M63.6 828.2H60.1V829.4H63.6M60.1 828.8H59.5V830.6H63.6M63.6 831.8H60.8V833.0H63.6M63.6 834.2H60.9V835.4H63.6M60.8 832.4H60.2V834.8H60.9M59.5 829.7H58.6V833.6H60.2M61.1 826.4H56.1V831.6H58.6M57.3 819.9H53.8V829.0H56.1M63.6 836.6H61.1V837.8H63.6M63.6 839.0H61.0V840.2H63.6M61.0 839.6H59.6V841.4H63.6M61.1 837.2H58.5V840.5H59.6M63.6 842.6H61.0V843.8H63.6M63.6 845.0H61.1V846.2H63.6M61.0 843.2H59.6V845.6H61.1M63.6 847.4H60.5V848.6H63.6M59.6 844.4H59.0V848.0H60.5M58.5 838.9H55.5V846.2H59.0M63.6 849.8H60.7V851.0H63.6M63.6 852.2H60.5V853.4H63.6M60.7 850.4H59.7V852.8H60.5M63.6 854.6H60.4V855.8H63.6M60.4 855.2H59.8V857.0H63.6M59.7 851.6H57.9V856.1H59.8M55.5 842.5H54.1V853.9H57.9M53.8 824.4H50.0V848.2H54.1M63.6 858.2H60.1V859.4H63.6M60.1 858.8H59.5V860.6H63.6M59.5 859.7H58.9V861.8H63.6M58.9 860.8H58.3V863.0H63.6M63.6 864.2H60.5V865.4H63.6M63.6 866.6H61.2V867.8H63.6M60.5 864.8H59.0V867.2H61.2M59.0 866.0H58.4V869.0H63.6M63.6 870.2H60.9V871.4H63.6M58.4 867.5H57.8V870.8H60.9M58.3 861.9H55.7V869.1H57.8M50.0 836.3H49.1V865.5H55.7M55.8 810.4H46.4V850.9H49.1M63.6 875.0H61.2V876.2H63.6M63.6 873.8H59.8V875.6H61.2M63.6 872.6H59.2V874.7H59.8M63.6 877.4H61.4V878.6H63.6M63.6 879.8H61.0V881.0H63.6M61.4 878.0H60.2V880.4H61.0M63.6 883.4H60.6V884.6H63.6M63.6 885.8H61.1V887.0H63.6M60.6 884.0H58.8V886.4H61.1M63.6 882.2H58.2V885.2H58.8M63.6 888.2H61.3V889.4H63.6M63.6 891.8H60.6V893.0H63.6M63.6 890.6H60.0V892.4H60.6M60.0 891.5H59.4V894.2H63.6M61.3 888.8H58.8V892.8H59.4M63.6 895.4H60.3V896.6H63.6M60.3 896.0H59.7V897.8H63.6M59.7 896.9H59.1V899.0H63.6M63.6 901.4H60.7V902.6H63.6M63.6 900.2H59.3V902.0H60.7M59.1 898.0H57.1V901.1H59.3M58.8 890.8H56.0V899.5H57.1M58.2 883.7H55.4V895.2H56.0M60.2 879.2H52.4V889.4H55.4M59.2 873.7H51.8V884.3H52.4M46.4 830.7H45.8V879.0H51.8M63.6 905.0H61.2V906.2H63.6M63.6 903.8H60.5V905.6H61.2M60.5 904.7H58.7V907.4H63.6M63.6 908.6H60.1V909.8H63.6M58.7 906.1H57.7V909.2H60.1M63.6 912.2H61.0V913.4H63.6M63.6 911.0H59.3V912.8H61.0M59.3 911.9H58.7V914.6H63.6M63.6 915.8H61.3V917.0H63.6M63.6 919.4H60.4V920.6H63.6M63.6 918.2H59.6V920.0H60.4M63.6 921.8H60.7V923.0H63.6M59.6 919.1H59.0V922.4H60.7M61.3 916.4H57.2V920.8H59.0M58.7 913.3H56.0V918.6H57.2M63.6 925.4H60.1V926.6H63.6M63.6 924.2H59.5V926.0H60.1M63.6 929.0H60.6V930.2H63.6M63.6 927.8H59.7V929.6H60.6M63.6 932.6H61.1V933.8H63.6M63.6 931.4H60.1V933.2H61.1M59.7 928.7H59.1V932.3H60.1M59.5 925.1H58.2V930.5H59.1M56.0 915.9H54.5V927.8H58.2M57.7 907.6H53.6V921.9H54.5M63.6 936.2H60.8V937.4H63.6M63.6 935.0H59.4V936.8H60.8M63.6 938.6H60.7V939.8H63.6M59.4 935.9H58.8V939.2H60.7M63.6 941.0H60.9V942.2H63.6M58.8 937.6H58.1V941.6H60.9M63.6 943.4H60.9V944.6H63.6M63.6 945.8H60.3V947.0H63.6M60.9 944.0H59.7V946.4H60.3M63.6 949.4H61.4V950.6H63.6M63.6 948.2H59.6V950.0H61.4M59.7 945.2H57.8V949.1H59.6M63.6 951.8H60.4V953.0H63.6M63.6 954.2H61.3V955.4H63.6M60.4 952.4H59.6V954.8H61.3M57.8 947.2H56.8V953.6H59.6M58.1 939.6H55.1V950.4H56.8M53.6 914.7H51.5V945.0H55.1M63.6 959.0H60.4V960.2H63.6M63.6 957.8H59.8V959.6H60.4M63.6 956.6H59.2V958.7H59.8M63.6 961.4H60.1V962.6H63.6M59.2 957.7H57.5V962.0H60.1M63.6 965.0H61.2V966.2H63.6M63.6 963.8H59.9V965.6H61.2M59.9 964.7H58.7V967.4H63.6M57.5 959.8H56.6V966.1H58.7M63.6 968.6H61.3V969.8H63.6M63.6 972.2H60.6V973.4H63.6M63.6 971.0H60.0V972.8H60.6M63.6 974.6H60.9V975.8H63.6M60.0 971.9H59.4V975.2H60.9M61.3 969.2H58.8V973.6H59.4M63.6 978.2H60.6V979.4H63.6M63.6 980.6H60.2V981.8H63.6M60.6 978.8H59.6V981.2H60.2M63.6 977.0H59.0V980.0H59.6M63.6 983.0H61.3V984.2H63.6M59.0 978.5H58.0V983.6H61.3M63.6 985.4H60.7V986.6H63.6M63.6 987.8H61.1V989.0H63.6M60.7 986.0H59.5V988.4H61.1M58.0 981.0H57.4V987.2H59.5M63.6 991.4H61.0V992.6H63.6M63.6 990.2H59.7V992.0H61.0M63.6 995.0H60.6V996.2H63.6M63.6 993.8H60.0V995.6H60.6M59.7 991.1H58.3V994.7H60.0M63.6 998.6H60.6V999.6H63.6M63.6 997.4H60.0V999.1H60.6M58.3 992.9H56.5V998.3H60.0M57.4 984.1H54.7V995.6H56.5M58.8 971.4H54.1V989.9H54.7M56.6 962.9H49.6V980.6H54.1M51.5 929.9H49.0V971.8H49.6M45.8 854.8H34.8V950.8H49.0M52.0 779.4H28.0V902.8H34.8M63.6 1001.8H60.1V1003.0H63.6M63.6 1000.6H59.5V1002.4H60.1M59.5 1001.5H58.9V1004.2H63.6M58.9 1002.9H58.3V1005.4H63.6M63.6 1009.0H61.0V1010.2H63.6M63.6 1007.8H60.3V1009.6H61.0M63.6 1006.6H59.7V1008.7H60.3M63.6 1011.4H60.9V1012.6H63.6M63.6 1013.8H60.7V1015.0H63.6M60.9 1012.0H59.4V1014.4H60.7M59.4 1013.2H58.8V1016.2H63.6M59.7 1007.7H56.9V1014.7H58.8M63.6 1018.6H61.2V1019.8H63.6M63.6 1017.4H60.6V1019.2H61.2M63.6 1021.0H60.4V1022.2H63.6M60.4 1021.6H59.8V1023.4H63.6M60.6 1018.3H58.8V1022.5H59.8M56.9 1011.2H54.3V1020.4H58.8M58.3 1004.1H53.7V1015.8H54.3M63.6 1027.0H60.9V1028.2H63.6M63.6 1025.8H59.5V1027.6H60.9M63.6 1024.6H58.9V1026.7H59.5M63.6 1029.4H61.1V1030.6H63.6M63.6 1033.0H61.4V1034.2H63.6M63.6 1031.8H59.4V1033.6H61.4M61.1 1030.0H58.8V1032.7H59.4M63.6 1036.6H61.3V1037.8H63.6M63.6 1035.4H59.8V1037.2H61.3M63.6 1039.0H60.5V1040.2H63.6M59.8 1036.3H58.6V1039.6H60.5M63.6 1042.6H61.4V1043.8H63.6M63.6 1041.4H60.6V1043.2H61.4M58.6 1037.9H58.0V1042.3H60.6M63.6 1045.0H60.1V1046.2H63.6M58.0 1040.1H57.4V1045.6H60.1M58.8 1031.3H56.6V1042.9H57.4M58.9 1025.7H55.0V1037.1H56.6M63.6 1048.6H60.5V1049.8H63.6M63.6 1047.4H59.4V1049.2H60.5M63.6 1051.0H60.9V1052.2H63.6M59.4 1048.3H58.1V1051.6H60.9M63.6 1053.4H61.4V1054.6H63.6M58.1 1049.9H57.5V1054.0H61.4M63.6 1057.0H61.0V1058.2H63.6M61.0 1057.6H60.4V1059.4H63.6M63.6 1060.6H60.2V1061.8H63.6M60.4 1058.5H59.1V1061.2H60.2M63.6 1055.8H57.6V1059.8H59.1M63.6 1063.0H61.4V1064.2H63.6M63.6 1066.6H60.9V1067.8H63.6M63.6 1065.4H60.3V1067.2H60.9M63.6 1070.2H60.1V1071.4H63.6M63.6 1069.0H59.5V1070.8H60.1M60.3 1066.3H58.7V1069.9H59.5M61.4 1063.6H58.1V1068.1H58.7M57.6 1057.8H56.0V1065.9H58.1M57.5 1052.0H55.4V1061.8H56.0M55.0 1031.4H52.1V1056.9H55.4M63.6 1072.6H61.5V1073.8H63.6M61.5 1073.2H60.1V1075.0H63.6M63.6 1076.2H60.7V1077.4H63.6M60.1 1074.1H59.4V1076.8H60.7M59.4 1075.4H58.4V1078.6H63.6M63.6 1079.8H60.8V1081.0H63.6M60.8 1080.4H59.6V1082.2H63.6M63.6 1083.4H61.3V1084.6H63.6M59.6 1081.3H59.0V1084.0H61.3M58.4 1077.0H57.8V1082.7H59.0M63.6 1085.8H61.1V1087.0H63.6M63.6 1089.4H61.1V1090.6H63.6M63.6 1091.8H60.5V1093.0H63.6M61.1 1090.0H59.9V1092.4H60.5M63.6 1088.2H59.3V1091.2H59.9M61.1 1086.4H58.7V1089.7H59.3M63.6 1095.4H60.4V1096.6H63.6M63.6 1097.8H60.2V1099.0H63.6M60.4 1096.0H59.3V1098.4H60.2M63.6 1094.2H58.5V1097.2H59.3M63.6 1100.2H60.6V1101.4H63.6M63.6 1102.6H60.4V1103.8H63.6M60.6 1100.8H59.2V1103.2H60.4M63.6 1106.2H60.9V1107.4H63.6M63.6 1105.0H60.3V1106.8H60.9M59.2 1102.0H58.6V1105.9H60.3M58.5 1095.7H57.8V1104.0H58.6M58.7 1088.1H55.9V1099.8H57.8M63.6 1111.0H60.7V1112.2H63.6M63.6 1109.8H60.1V1111.6H60.7M63.6 1108.6H59.5V1110.7H60.1M63.6 1114.6H60.3V1115.8H63.6M63.6 1113.4H59.4V1115.2H60.3M59.5 1109.7H58.0V1114.3H59.4M55.9 1093.9H54.8V1112.0H58.0M63.6 1117.0H61.5V1118.2H63.6M63.6 1119.4H60.5V1120.6H63.6M60.5 1120.0H59.9V1121.8H63.6M61.5 1117.6H59.1V1120.9H59.9M63.6 1123.0H60.8V1124.2H63.6M63.6 1125.4H61.0V1126.6H63.6M61.0 1126.0H59.4V1127.8H63.6M59.4 1126.9H58.8V1129.2H63.6M60.8 1123.6H58.2V1128.1H58.8M59.1 1119.2H57.2V1125.8H58.2M54.8 1103.0H49.8V1122.5H57.2M57.8 1079.8H46.7V1112.7H49.8M52.1 1044.1H44.5V1096.3H46.7M53.7 1010.0H37.9V1070.2H44.5M63.6 1133.0H60.8V1134.2H63.6M63.6 1131.8H59.5V1133.6H60.8M59.5 1132.7H58.9V1135.4H63.6M63.6 1130.6H58.3V1134.1H58.9M63.6 1136.6H60.7V1137.8H63.6M63.6 1139.0H61.1V1140.2H63.6M63.6 1141.4H61.1V1142.6H63.6M61.1 1139.6H58.6V1142.0H61.1M60.7 1137.2H57.9V1140.8H58.6M58.3 1132.3H55.8V1139.0H57.9M63.6 1143.8H61.3V1145.0H63.6M63.6 1146.2H60.8V1147.4H63.6M61.3 1144.4H60.2V1146.8H60.8M55.8 1135.7H55.2V1145.6H60.2M63.6 1151.0H60.3V1152.2H63.6M63.6 1149.8H59.7V1151.6H60.3M59.7 1150.7H59.0V1153.4H63.6M63.6 1148.6H58.4V1152.1H59.0M63.6 1154.6H60.8V1155.8H63.6M58.4 1150.3H57.8V1155.2H60.8M63.6 1159.4H61.4V1160.6H63.6M63.6 1158.2H60.5V1160.0H61.4M63.6 1157.0H59.8V1159.1H60.5M57.8 1152.8H57.0V1158.1H59.8M63.6 1161.8H60.3V1163.0H63.6M60.3 1162.4H59.7V1164.2H63.6M63.6 1165.4H60.5V1166.6H63.6M59.7 1163.3H59.1V1166.0H60.5M59.1 1164.7H58.5V1167.8H63.6M63.6 1170.2H61.0V1171.4H63.6M63.6 1169.0H60.0V1170.8H61.0M58.5 1166.2H56.8V1169.9H60.0M63.6 1172.6H61.0V1173.8H63.6M56.8 1168.1H55.5V1173.2H61.0M63.6 1176.2H60.5V1177.4H63.6M63.6 1175.0H59.3V1176.8H60.5M63.6 1178.6H60.5V1179.8H63.6M59.3 1175.9H58.4V1179.2H60.5M63.6 1182.2H61.1V1183.4H63.6M61.1 1182.8H59.3V1184.6H63.6M63.6 1181.0H58.7V1183.7H59.3M63.6 1187.0H60.9V1188.2H63.6M63.6 1185.8H60.3V1187.6H60.9M58.7 1182.4H57.9V1186.7H60.3M63.6 1189.4H60.6V1190.6H63.6M60.6 1190.0H60.0V1191.8H63.6M57.9 1184.5H57.3V1190.9H60.0M58.4 1177.6H55.1V1187.7H57.3M55.5 1170.6H53.1V1182.6H55.1M63.6 1194.2H61.1V1195.4H63.6M63.6 1193.0H59.9V1194.8H61.1M59.9 1193.9H58.8V1196.6H63.6M63.6 1199.0H61.2V1200.2H63.6M63.6 1201.4H60.7V1202.6H63.6M61.2 1199.6H58.9V1202.0H60.7M63.6 1197.8H58.3V1200.8H58.9M58.8 1195.2H56.9V1199.3H58.3M63.6 1203.8H60.7V1205.0H63.6M63.6 1206.2H61.1V1207.4H63.6M61.1 1206.8H60.0V1208.6H63.6M60.7 1204.4H58.1V1207.7H60.0M56.9 1197.3H56.3V1206.1H58.1M53.1 1176.6H52.5V1201.7H56.3M57.0 1155.4H51.9V1189.1H52.5M55.2 1140.6H46.8V1172.3H51.9M63.6 1209.8H60.6V1211.0H63.6M63.6 1213.4H60.3V1214.6H63.6M63.6 1212.2H59.3V1214.0H60.3M59.3 1213.1H58.7V1215.8H63.6M63.6 1217.0H60.6V1218.2H63.6M58.7 1214.5H57.7V1217.6H60.6M60.6 1210.4H57.1V1216.0H57.7M63.6 1223.0H61.3V1224.2H63.6M63.6 1221.8H59.9V1223.6H61.3M63.6 1220.6H59.3V1222.7H59.9M63.6 1219.4H58.6V1221.7H59.3M63.6 1225.4H60.5V1226.6H63.6M60.5 1226.0H59.4V1227.8H63.6M63.6 1229.0H60.6V1230.2H63.6M59.4 1226.9H58.1V1229.6H60.6M58.6 1220.5H57.5V1228.2H58.1M63.6 1232.6H61.2V1233.8H63.6M63.6 1231.4H60.4V1233.2H61.2M57.5 1224.4H56.5V1232.3H60.4M63.6 1236.2H60.7V1237.4H63.6M63.6 1235.0H60.1V1236.8H60.7M63.6 1238.6H60.6V1239.8H63.6M60.1 1235.9H59.4V1239.2H60.6M63.6 1241.0H60.1V1242.2H63.6M60.1 1241.6H59.4V1243.4H63.6M59.4 1237.5H58.8V1242.5H59.4M56.5 1228.3H53.2V1240.0H58.8M57.1 1213.2H51.6V1234.2H53.2M63.6 1244.6H61.0V1245.8H63.6M63.6 1248.2H60.8V1249.4H63.6M63.6 1247.0H59.8V1248.8H60.8M59.8 1247.9H59.0V1250.6H63.6M63.6 1251.8H61.1V1253.0H63.6M59.0 1249.2H58.4V1252.4H61.1M61.0 1245.2H57.0V1250.8H58.4M63.6 1256.6H61.4V1257.8H63.6M63.6 1255.4H60.5V1257.2H61.4M63.6 1260.2H60.1V1261.4H63.6M63.6 1259.0H59.5V1260.8H60.1M60.5 1256.3H58.9V1259.9H59.5M63.6 1254.2H57.2V1258.1H58.9M63.6 1263.8H61.5V1265.0H63.6M63.6 1267.4H61.1V1268.6H63.6M63.6 1266.2H60.2V1268.0H61.1M60.2 1267.1H59.6V1269.6H63.6M61.5 1264.4H58.7V1268.3H59.6M63.6 1262.6H58.1V1266.4H58.7M57.2 1256.1H56.6V1264.5H58.1M57.0 1248.0H52.0V1260.3H56.6M51.6 1223.7H49.7V1254.2H52.0M46.8 1156.5H42.3V1238.9H49.7M63.6 1271.8H60.9V1273.0H63.6M63.6 1274.2H60.2V1275.4H63.6M60.9 1272.4H59.3V1274.8H60.2M63.6 1270.6H58.7V1273.6H59.3M63.6 1279.0H60.9V1280.2H63.6M63.6 1277.8H59.5V1279.6H60.9M63.6 1276.6H58.9V1278.7H59.5M58.7 1272.1H56.4V1277.7H58.9M63.6 1281.4H60.4V1282.6H63.6M63.6 1285.0H60.9V1286.2H63.6M63.6 1283.8H59.3V1285.6H60.9M59.3 1284.7H58.6V1287.4H63.6M60.4 1282.0H58.0V1286.1H58.6M56.4 1274.9H55.8V1284.0H58.0M63.6 1289.8H61.1V1291.0H63.6M63.6 1288.6H59.8V1290.4H61.1M55.8 1279.5H55.2V1289.5H59.8M63.6 1294.6H60.2V1295.8H63.6M63.6 1293.4H59.6V1295.2H60.2M63.6 1292.2H59.0V1294.3H59.6M63.6 1297.0H61.1V1298.2H63.6M61.1 1297.6H59.4V1299.4H63.6M59.4 1298.5H58.7V1300.6H63.6M58.7 1299.5H58.1V1301.8H63.6M59.0 1293.2H57.5V1300.7H58.1M63.6 1304.2H61.3V1305.4H63.6M63.6 1303.0H60.1V1304.8H61.3M60.1 1303.9H58.7V1306.6H63.6M63.6 1310.2H60.9V1311.4H63.6M63.6 1309.0H60.3V1310.8H60.9M63.6 1307.8H59.6V1309.9H60.3M63.6 1312.6H61.1V1313.8H63.6M61.1 1313.2H60.0V1315.0H63.6M59.6 1308.8H58.9V1314.1H60.0M58.7 1305.2H56.8V1311.5H58.9M63.6 1316.2H60.5V1317.4H63.6M63.6 1319.8H60.6V1321.0H63.6M63.6 1322.2H61.4V1323.4H63.6M60.6 1320.4H59.6V1322.8H61.4M63.6 1324.6H60.9V1325.8H63.6M59.6 1321.6H59.0V1325.2H60.9M63.6 1318.6H58.4V1323.4H59.0M60.5 1316.8H57.8V1321.0H58.4M63.6 1327.0H60.2V1328.2H63.6M63.6 1329.4H60.7V1330.6H63.6M60.2 1327.6H59.2V1330.0H60.7M57.8 1318.9H54.8V1328.8H59.2M56.8 1308.4H51.6V1323.8H54.8M57.5 1297.0H49.3V1316.1H51.6M55.2 1284.5H48.7V1306.5H49.3M63.6 1331.8H60.2V1333.0H63.6M60.2 1332.4H59.6V1334.2H63.6M59.6 1333.3H59.0V1335.4H63.6M63.6 1337.8H60.8V1339.0H63.6M63.6 1336.6H60.0V1338.4H60.8M60.0 1337.5H59.4V1340.2H63.6M59.0 1334.4H58.1V1338.8H59.4M63.6 1342.6H60.1V1343.8H63.6M63.6 1346.2H60.4V1347.4H63.6M63.6 1345.0H59.7V1346.8H60.4M60.1 1343.2H59.1V1345.9H59.7M63.6 1341.4H57.9V1344.6H59.1M63.6 1351.0H60.9V1352.2H63.6M63.6 1349.8H59.4V1351.6H60.9M63.6 1348.6H58.8V1350.7H59.4M63.6 1354.6H60.4V1355.8H63.6M63.6 1353.4H59.8V1355.2H60.4M58.8 1349.7H58.2V1354.3H59.8M63.6 1357.0H60.8V1358.2H63.6M63.6 1360.6H60.5V1361.8H63.6M63.6 1363.0H60.6V1364.2H63.6M60.5 1361.2H59.9V1363.6H60.6M63.6 1359.4H58.1V1362.4H59.9M63.6 1365.4H61.4V1366.6H63.6M58.1 1360.9H57.5V1366.0H61.4M60.8 1357.6H56.9V1363.5H57.5M58.2 1352.0H56.3V1360.5H56.9M63.6 1367.8H61.4V1369.0H63.6M61.4 1368.4H59.9V1370.2H63.6M63.6 1371.4H61.3V1372.6H63.6M59.9 1369.3H58.6V1372.0H61.3M63.6 1373.8H61.5V1375.0H63.6M63.6 1376.2H60.8V1377.4H63.6M60.8 1376.8H60.2V1378.6H63.6M60.2 1377.7H59.6V1379.8H63.6M61.5 1374.4H59.0V1378.8H59.6M58.6 1370.7H55.5V1376.6H59.0M56.3 1356.2H54.7V1373.6H55.5M57.9 1343.0H54.1V1364.9H54.7M58.1 1336.6H51.7V1354.0H54.1M63.6 1381.0H60.6V1382.2H63.6M63.6 1387.0H60.8V1388.2H63.6M63.6 1385.8H60.0V1387.6H60.8M63.6 1384.6H58.8V1386.7H60.0M63.6 1383.4H58.2V1385.7H58.8M63.6 1390.6H60.7V1391.8H63.6M63.6 1389.4H59.4V1391.2H60.7M58.2 1384.5H57.6V1390.3H59.4M60.6 1381.6H56.8V1387.4H57.6M51.7 1345.3H49.9V1384.5H56.8M63.6 1393.0H60.2V1394.2H63.6M63.6 1396.6H60.1V1397.8H63.6M60.1 1397.2H59.5V1399.0H63.6M63.6 1395.4H58.9V1398.1H59.5M60.2 1393.6H58.3V1396.8H58.9M63.6 1400.2H60.7V1401.4H63.6M63.6 1402.6H60.1V1403.8H63.6M60.7 1400.8H59.5V1403.2H60.1M63.6 1405.0H61.0V1406.2H63.6M63.6 1409.8H60.2V1411.0H63.6M60.2 1410.4H59.6V1412.2H63.6M63.6 1408.6H59.0V1411.3H59.6M63.6 1407.4H58.4V1410.0H59.0M61.0 1405.6H57.1V1408.7H58.4M63.6 1413.4H60.8V1414.6H63.6M60.8 1414.0H60.2V1415.8H63.6M57.1 1407.1H56.5V1414.9H60.2M63.6 1417.0H60.7V1418.2H63.6M63.6 1421.8H60.2V1423.0H63.6M63.6 1420.6H59.4V1422.4H60.2M63.6 1419.4H58.8V1421.5H59.4M60.7 1417.6H58.2V1420.5H58.8M56.5 1411.0H54.5V1419.0H58.2M59.5 1402.0H53.9V1415.0H54.5M58.3 1395.2H53.2V1408.5H53.9M63.6 1424.2H60.7V1425.4H63.6M63.6 1426.6H60.9V1427.8H63.6M60.7 1424.8H60.1V1427.2H60.9M63.6 1429.0H60.9V1430.2H63.6M63.6 1431.4H60.2V1432.6H63.6M60.9 1429.6H59.6V1432.0H60.2M60.1 1426.0H57.1V1430.8H59.6M63.6 1433.8H61.3V1435.0H63.6M57.1 1428.4H56.5V1434.4H61.3M63.6 1436.2H60.4V1437.4H63.6M60.4 1436.8H59.8V1438.6H63.6M63.6 1439.8H60.4V1441.0H63.6M59.8 1437.7H58.9V1440.4H60.4M58.9 1439.1H58.3V1442.2H63.6M63.6 1443.4H60.4V1444.6H63.6M63.6 1449.4H60.8V1450.6H63.6M63.6 1448.2H59.9V1450.0H60.8M63.6 1447.0H58.9V1449.1H59.9M58.9 1448.1H58.3V1451.8H63.6M63.6 1445.8H57.7V1449.9H58.3M60.4 1444.0H57.1V1447.9H57.7M58.3 1440.6H55.8V1445.9H57.1M63.6 1453.0H60.5V1454.2H63.6M63.6 1456.6H61.0V1457.8H63.6M63.6 1455.4H60.0V1457.2H61.0M60.5 1453.6H58.8V1456.3H60.0M63.6 1460.2H60.2V1461.4H63.6M63.6 1459.0H59.6V1460.8H60.2M59.6 1459.9H59.0V1462.6H63.6M59.0 1461.2H58.4V1463.8H63.6M63.6 1466.2H60.4V1467.4H63.6M60.4 1466.8H59.8V1468.6H63.6M63.6 1465.0H58.7V1467.7H59.8M58.7 1466.4H58.1V1469.8H63.6M58.4 1462.5H56.2V1468.1H58.1M58.8 1455.0H55.2V1465.3H56.2M55.8 1443.3H53.3V1460.1H55.2M63.6 1472.2H60.8V1473.4H63.6M63.6 1471.0H59.8V1472.8H60.8M63.6 1474.6H60.4V1475.8H63.6M59.8 1471.9H59.2V1475.2H60.4M63.6 1477.0H61.5V1478.2H63.6M59.2 1473.6H57.5V1477.6H61.5M53.3 1451.7H50.0V1475.6H57.5M56.5 1431.4H47.7V1463.6H50.0M53.2 1401.8H47.1V1447.5H47.7M63.6 1479.4H60.1V1480.6H63.6M63.6 1483.0H60.9V1484.2H63.6M60.9 1483.6H59.9V1485.4H63.6M63.6 1481.8H59.3V1484.5H59.9M59.3 1483.2H58.7V1486.6H63.6M60.1 1480.0H58.1V1484.9H58.7M63.6 1487.8H60.8V1489.0H63.6M63.6 1490.2H61.0V1491.4H63.6M60.8 1488.4H59.1V1490.8H61.0M63.6 1493.8H60.4V1495.0H63.6M63.6 1492.6H59.8V1494.4H60.4M59.1 1489.6H57.8V1493.5H59.8M58.1 1482.4H57.2V1491.6H57.8M63.6 1497.4H61.5V1498.6H63.6M63.6 1496.2H59.7V1498.0H61.5M59.7 1497.1H59.1V1499.8H63.6M63.6 1501.0H60.8V1502.2H63.6M63.6 1503.4H61.4V1504.6H63.6M60.8 1501.6H59.0V1504.0H61.4M63.6 1505.8H60.6V1507.0H63.6M60.6 1506.4H59.8V1508.2H63.6M59.8 1507.3H58.9V1509.4H63.6M59.0 1502.8H57.6V1508.4H58.9M59.1 1498.5H57.0V1505.6H57.6M57.2 1487.0H51.4V1502.0H57.0M47.1 1424.7H41.8V1494.5H51.4M63.6 1510.6H61.3V1511.8H63.6M63.6 1515.4H60.9V1516.6H63.6M63.6 1514.2H60.3V1516.0H60.9M63.6 1513.0H59.1V1515.1H60.3M63.6 1519.0H60.2V1520.2H63.6M63.6 1517.8H59.6V1519.6H60.2M63.6 1522.6H60.8V1523.8H63.6M63.6 1521.4H60.2V1523.2H60.8M59.6 1518.7H59.0V1522.3H60.2M59.1 1514.1H57.4V1520.5H59.0M61.3 1511.2H55.7V1517.3H57.4M63.6 1526.2H60.5V1527.4H63.6M63.6 1525.0H59.5V1526.8H60.5M59.5 1525.9H58.9V1528.6H63.6M58.9 1527.2H58.3V1529.8H63.6M58.3 1528.5H57.7V1531.0H63.6M63.6 1533.4H60.5V1534.6H63.6M63.6 1532.2H59.7V1534.0H60.5M57.7 1529.8H57.1V1533.1H59.7M63.6 1535.8H61.3V1537.0H63.6M61.3 1536.4H60.0V1538.2H63.6M63.6 1539.4H61.3V1540.6H63.6M60.0 1537.3H59.4V1540.0H61.3M57.1 1531.4H56.5V1538.7H59.4M63.6 1543.0H61.5V1544.2H63.6M63.6 1545.4H60.1V1546.6H63.6M61.5 1543.6H58.9V1546.0H60.1M63.6 1541.8H58.3V1544.8H58.9M56.5 1535.0H53.0V1543.3H58.3M63.6 1547.8H61.5V1549.0H63.6M63.6 1550.2H60.4V1551.4H63.6M63.6 1552.6H60.2V1553.8H63.6M60.2 1553.2H59.6V1555.0H63.6M63.6 1556.2H60.9V1557.4H63.6M63.6 1558.6H60.3V1559.6H63.6M60.9 1556.8H59.7V1559.1H60.3M59.6 1554.1H58.9V1558.0H59.7M60.4 1550.8H56.7V1556.0H58.9M61.5 1548.4H56.1V1553.4H56.7M53.0 1539.2H52.4V1550.9H56.1M55.7 1514.2H51.8V1545.0H52.4M41.8 1459.6H41.8V1529.6H51.8M49.9 1364.9H41.8V1494.6H41.8M48.7 1295.5H41.8V1429.8H41.8M63.6 1560.6H61.3V1561.8H63.6M63.6 1563.0H60.6V1564.2H63.6M60.6 1563.6H59.4V1565.4H63.6M61.3 1561.2H58.8V1564.5H59.4M63.6 1566.6H60.8V1567.8H63.6M58.8 1562.8H58.2V1567.2H60.8M63.6 1570.2H61.1V1571.4H63.6M63.6 1569.0H60.2V1570.8H61.1M58.2 1565.0H57.6V1569.9H60.2M63.6 1575.0H60.2V1576.2H63.6M63.6 1573.8H59.6V1575.6H60.2M63.6 1572.6H59.0V1574.7H59.6M63.6 1577.4H61.0V1578.6H63.6M61.0 1578.0H60.4V1579.8H63.6M63.6 1582.2H60.3V1583.4H63.6M63.6 1581.0H59.7V1582.8H60.3M59.7 1581.9H59.1V1584.6H63.6M60.4 1578.9H58.4V1583.2H59.1M59.0 1573.7H55.7V1581.1H58.4M63.6 1587.0H61.1V1588.2H63.6M63.6 1589.4H60.8V1590.6H63.6M60.8 1590.0H59.5V1591.8H63.6M59.5 1590.9H58.9V1593.0H63.6M61.1 1587.6H58.3V1592.0H58.9M63.6 1585.8H57.7V1589.8H58.3M55.7 1577.4H54.6V1587.8H57.7M57.6 1567.5H53.5V1582.6H54.6M63.6 1594.2H61.0V1595.4H63.6M63.6 1596.6H60.6V1597.8H63.6M61.0 1594.8H59.4V1597.2H60.6M63.6 1599.0H61.4V1600.2H63.6M63.6 1601.4H60.4V1602.6H63.6M61.4 1599.6H58.8V1602.0H60.4M63.6 1603.8H60.6V1605.0H63.6M63.6 1606.2H61.4V1607.4H63.6M63.6 1608.6H61.0V1609.8H63.6M63.6 1611.0H60.3V1612.2H63.6M60.3 1611.6H59.5V1613.4H63.6M61.0 1609.2H58.9V1612.5H59.5M61.4 1606.8H57.4V1610.8H58.9M60.6 1604.4H56.8V1608.8H57.4M58.8 1600.8H56.2V1606.6H56.8M59.4 1596.0H55.6V1603.7H56.2M63.6 1614.6H60.4V1615.8H63.6M60.4 1615.2H59.4V1617.0H63.6M63.6 1618.2H61.3V1619.4H63.6M61.3 1618.8H59.7V1620.6H63.6M63.6 1623.0H61.2V1624.2H63.6M63.6 1621.8H60.3V1623.6H61.2M60.3 1622.7H58.7V1625.4H63.6M59.7 1619.7H58.1V1624.0H58.7M63.6 1626.6H60.6V1627.8H63.6M58.1 1621.9H57.5V1627.2H60.6M59.4 1616.1H56.3V1624.5H57.5M63.6 1631.4H60.5V1632.6H63.6M63.6 1630.2H59.9V1632.0H60.5M63.6 1629.0H59.3V1631.1H59.9M63.6 1633.8H60.2V1635.0H63.6M63.6 1636.2H61.0V1637.4H63.6M60.2 1634.4H59.6V1636.8H61.0M59.3 1630.1H57.6V1635.6H59.6M56.3 1620.3H55.7V1632.8H57.6M55.6 1599.9H48.8V1626.6H55.7M53.5 1575.0H48.2V1613.2H48.8M63.6 1639.8H60.1V1641.0H63.6M63.6 1638.6H59.5V1640.4H60.1M63.6 1643.4H61.4V1644.6H63.6M63.6 1642.2H60.8V1644.0H61.4M59.5 1639.5H58.9V1643.1H60.8M63.6 1647.0H61.3V1648.2H63.6M63.6 1645.8H59.3V1647.6H61.3M63.6 1649.4H61.1V1650.6H63.6M61.1 1650.0H60.5V1651.8H63.6M60.5 1650.9H59.9V1653.0H63.6M63.6 1654.2H61.2V1655.4H63.6M59.9 1652.0H58.2V1654.8H61.2M59.3 1646.7H57.6V1653.4H58.2M63.6 1656.6H61.0V1657.8H63.6M57.6 1650.0H55.8V1657.2H61.0M58.9 1641.3H53.9V1653.6H55.8M63.6 1660.2H61.1V1661.4H63.6M63.6 1659.0H60.5V1660.8H61.1M63.6 1663.8H61.3V1665.0H63.6M63.6 1662.6H60.7V1664.4H61.3M60.5 1659.9H59.3V1663.5H60.7M59.3 1661.7H58.7V1666.2H63.6M63.6 1668.6H60.4V1669.8H63.6M63.6 1667.4H59.8V1669.2H60.4M59.8 1668.3H59.2V1671.0H63.6M58.7 1664.0H57.3V1669.7H59.2M63.6 1672.2H60.3V1673.4H63.6M63.6 1675.8H61.5V1677.0H63.6M63.6 1674.6H60.0V1676.4H61.5M60.0 1675.5H59.4V1678.3H63.6M60.3 1672.8H58.8V1676.9H59.4M57.3 1666.8H56.2V1674.9H58.8M53.9 1647.5H53.3V1670.8H56.2M48.2 1594.1H46.6V1659.1H53.3M41.8 1362.6H40.8V1626.6H46.6M42.3 1197.7H31.6V1494.6H40.8M37.9 1040.1H27.8V1346.2H31.6M28.0 841.1H20.5V1193.1H27.8" fill="none" stroke="#808080" stroke-width="1.5"/>
<path d="M32.0 756.9H48.5M37.4 759.3H48.8M41.4 767.5H51.1M34.4 770.5H37.7M32.8 772.9H37.7M59.4 779.1H57.0M58.8 782.7H57.0M59.1 784.3H57.0M58.9 785.9H57.0M58.8 790.9H57.0M59.7 793.9H57.0M59.7 798.5H57.0M58.8 801.5H57.0M37.0 803.1H39.2M43.8 816.3H47.5M34.8 822.9H48.5M32.6 824.9H47.9M37.2 832.9H50.2M39.5 834.5H48.4M37.3 836.9H46.7M44.2 838.5H46.3M43.9 840.1H55.2M44.1 842.1H49.5M46.5 845.1H53.0M41.4 854.5H46.3M44.1 862.9H54.7M49.8 872.7H57.0M49.3 876.3H57.0M43.3 879.9H54.1M48.5 884.5H51.2M49.2 889.1H52.5M44.1 893.7H49.3M49.9 895.7H57.0M49.2 900.1H51.8M44.7 903.1H52.5M50.4 905.1H54.9M48.4 908.1H53.7M45.8 913.1H53.7M50.3 917.9H53.6M51.6 922.3H57.0M49.5 927.1H53.6M51.4 930.7H55.2M51.5 938.1H57.0M53.6 942.1H57.0M51.6 945.1H57.0M52.0 947.5H57.0M51.3 950.5H56.5M54.1 952.1H57.0M50.1 956.1H54.5M52.2 958.1H55.7M52.3 964.9H54.5M52.5 966.5H55.5M55.7 971.1H57.0M54.4 972.7H57.0M51.4 975.1H54.3M54.1 977.5H57.0M54.2 981.1H57.0M53.8 986.7H57.0M54.5 991.3H57.0M47.0 995.9H52.4M47.0 1009.1H55.8M36.9 1010.7H41.4M41.8 1013.7H53.1M47.1 1016.1H57.0M43.3 1018.5H47.4M41.8 1021.5H45.9M37.7 1023.1H43.8M42.9 1026.1H45.9M47.8 1028.5H55.7M48.2 1031.5H55.2M40.5 1033.5H48.5M42.9 1042.3H49.3M43.7 1045.3H52.0M45.1 1060.5H48.1M50.1 1071.9H53.1M47.5 1073.5H53.0M50.9 1075.5H54.0M50.9 1085.9H57.0M50.4 1087.9H55.2M50.2 1090.9H55.8M49.0 1095.3H55.5M47.7 1096.9H52.3M48.5 1099.3H53.7M50.8 1108.3H56.8M49.5 1111.5H54.8M53.8 1115.5H57.0M53.9 1118.5H57.0M40.4 1123.3H49.9M39.3 1125.7H51.4M42.4 1127.3H52.3M47.7 1139.9H50.1M45.7 1142.9H48.6M46.9 1144.5H53.2M42.4 1148.9H55.3M44.9 1155.9H56.7M37.6 1158.9H49.4M41.3 1164.5H45.7M39.0 1166.5H47.2M39.1 1170.5H45.3M46.2 1173.5H54.4M45.9 1176.5H50.2M48.5 1178.5H51.8M45.2 1180.5H49.4M44.7 1182.5H57.0M38.3 1188.5H43.7M38.5 1191.5H48.7M48.3 1193.5H54.3M40.4 1196.7H43.2M39.2 1199.7H44.0M45.5 1202.7H54.7M38.6 1207.3H41.8M42.5 1208.9H50.5M42.9 1212.9H49.6M38.7 1214.5H46.6M39.8 1216.5H47.2M47.8 1222.5H53.0M42.4 1225.5H54.8M40.7 1233.1H53.1M48.2 1234.7H50.8M44.5 1236.3H50.2M46.4 1244.3H49.1M45.7 1246.7H56.1M45.8 1251.3H57.0M47.9 1254.3H51.7M45.3 1259.7H51.4M45.6 1264.7H56.9M48.4 1269.1H52.2M46.0 1273.1H53.3M40.5 1279.7H49.5M48.3 1281.7H53.5M42.6 1287.7H48.1M45.4 1289.7H51.2M47.2 1292.1H56.6M47.8 1299.9H57.0M50.7 1301.5H57.0M51.3 1308.1H57.0M43.7 1309.7H45.8M46.3 1313.7H55.5M51.6 1329.5H54.2M46.6 1340.3H55.7M50.4 1343.3H57.0M46.9 1346.3H55.0M48.6 1350.7H54.9M49.7 1352.7H56.7M50.0 1358.7H56.4M49.2 1369.9H55.2M51.2 1373.9H54.7M53.7 1375.5H57.0M49.8 1383.1H52.7M54.4 1395.1H56.7M55.6 1396.7H57.0M52.7 1399.1H57.0M52.9 1401.5H57.0M45.4 1407.9H53.1M49.9 1409.9H52.3M46.6 1411.9H50.8M50.6 1417.3H57.0M47.6 1428.5H49.7M48.0 1431.5H53.1M53.0 1434.7H55.9M51.0 1436.7H57.0M50.2 1439.1H55.0M46.8 1445.5H52.7M51.1 1448.5H57.0M51.4 1470.1H55.8M50.7 1472.5H55.2M48.3 1477.1H51.9M53.9 1481.9H56.7M52.1 1483.5H55.1M50.2 1488.3H53.0M51.9 1490.7H57.0M47.8 1493.7H50.7M49.6 1497.7H57.0M52.1 1499.3H55.4M51.5 1509.9H54.1M48.6 1518.9H54.6M53.7 1521.3H57.0M50.8 1522.9H54.1M50.7 1524.9H57.0M51.4 1527.3H55.1M50.8 1530.3H55.3M48.7 1534.3H52.5M48.7 1539.7H55.8M49.9 1542.1H52.0M49.1 1545.1H54.6M54.5 1547.5H56.5M52.6 1550.5H55.0M51.4 1562.7H54.1M52.8 1566.3H57.0M53.3 1571.1H57.0M50.3 1573.5H57.0M52.0 1575.5H54.9M50.5 1577.1H54.3M54.6 1582.5H57.0M54.7 1587.9H57.0M55.6 1590.3H57.0M54.0 1592.3H56.3M55.7 1595.5H57.0M52.9 1609.3H56.5M55.1 1611.7H57.0M53.8 1613.7H56.9M56.0 1615.7H57.0M53.2 1620.1H57.0M54.3 1622.5H57.0M53.4 1627.9H56.5M56.9 1629.9H57.0M54.5 1632.3H57.0M55.3 1635.3H57.0M53.9 1636.9H57.0M55.1 1640.1H57.0M54.1 1643.7H56.5M55.2 1649.7H57.0M56.8 1655.7H57.0M56.2 1658.1H57.0M55.5 1661.3H57.0M56.0 1662.9H57.0M55.3 1665.3H57.0M57.8 1666.9H57.0M55.7 1669.9H57.0" stroke="#fff" stroke-width="0.9" fill="none"/>
<path d="M31.5 805.0L31.5 826.1L46.4 826.1zM39.7 837.6L39.7 890.8L55.2 890.8zM47.0 909.0L47.0 957.6L59.0 957.6zM40.8 1034.5L40.8 1080.9L58.7 1080.9zM50.0 1098.7L50.0 1136.8L59.0 1136.8zM41.6 1166.0L41.6 1196.9L57.5 1196.9zM41.5 1224.0L41.5 1267.5L52.9 1267.5zM45.3 1284.0L45.3 1315.8L59.0 1315.8zM46.3 1328.5L46.3 1356.4L59.0 1356.4zM50.1 1365.7L50.1 1398.1L59.0 1398.1zM49.7 1426.8L49.7 1461.0L59.0 1461.0zM51.8 1480.5L51.8 1528.8L59.0 1528.8zM52.7 1549.2L52.7 1600.0L59.0 1600.0z" fill="#fff" fill-opacity="0.8"/>
<path d="M739.0 756.0H725.6V758.2H739.0M725.6 757.1H722.1V760.2H739.0M739.0 762.3H725.2V764.5H739.0M739.0 766.5H730.7V768.6H739.0M725.2 763.4H724.6V767.6H730.7M739.0 770.8H726.1V772.8H739.0M724.6 765.5H724.0V771.8H726.1M722.1 758.7H715.1V768.6H724.0M739.0 775.0H726.3V777.0H739.0M739.0 779.2H725.9V781.2H739.0M725.9 780.2H723.3V783.4H739.0M726.3 776.0H719.8V781.8H723.3M715.1 763.7H714.5V778.9H719.8M739.0 785.5H730.2V787.5H739.0M739.0 789.7H725.9V791.8H739.0M730.2 786.5H725.3V790.7H725.9M739.0 798.0H728.6V800.1H739.0M739.0 796.0H728.0V799.1H728.6M728.0 797.5H726.0V802.2H739.0M739.0 793.8H725.4V799.9H726.0M725.3 788.6H720.6V796.9H725.4M739.0 806.5H725.3V808.5H739.0M739.0 804.3H724.7V807.5H725.3M739.0 812.8H727.1V814.8H739.0M739.0 810.6H726.5V813.8H727.1M739.0 819.0H724.9V821.1H739.0M739.0 816.9H721.9V820.1H724.9M739.0 823.2H723.8V825.3H739.0M739.0 827.4H725.4V829.5H739.0M723.8 824.3H723.2V828.5H725.4M721.9 818.5H720.2V826.4H723.2M726.5 812.2H715.8V822.5H720.2M724.7 805.9H715.2V817.3H715.8M739.0 833.8H725.4V835.8H739.0M739.0 831.6H722.5V834.8H725.4M722.5 833.2H717.6V837.9H739.0M715.2 811.6H712.0V835.6H717.6M720.6 792.7H709.5V823.6H712.0M714.5 771.3H707.1V808.2H709.5M739.0 842.2H726.6V844.2H739.0M726.6 843.2H724.2V846.4H739.0M739.0 840.0H720.2V844.8H724.2M739.0 848.5H726.9V850.5H739.0M720.2 842.4H714.7V849.5H726.9M739.0 852.7H721.6V854.8H739.0M739.0 856.9H724.4V859.0H739.0M721.6 853.7H717.3V857.9H724.4M714.7 846.0H714.1V855.8H717.3M739.0 863.2H725.4V865.2H739.0M739.0 861.0H722.2V864.2H725.4M722.2 862.6H717.2V867.3H739.0M717.2 865.0H716.6V869.5H739.0M739.0 873.7H722.4V875.8H739.0M739.0 871.5H719.3V874.7H722.4M719.3 873.1H718.7V877.8H739.0M716.6 867.2H716.0V875.5H718.7M739.0 880.0H725.2V882.0H739.0M739.0 884.2H724.4V886.2H739.0M725.2 881.0H717.1V885.2H724.4M739.0 888.3H726.6V890.5H739.0M717.1 883.1H716.5V889.4H726.6M716.0 871.4H715.3V886.2H716.5M739.0 894.7H731.1V896.8H739.0M739.0 901.0H728.8V903.1H739.0M739.0 898.9H726.8V902.0H728.8M731.1 895.7H717.7V900.4H726.8M717.7 898.1H717.1V905.2H739.0M739.0 892.5H716.5V901.6H717.1M715.3 878.8H713.2V897.1H716.5M714.1 850.9H705.0V887.9H713.2M707.1 789.7H705.0V869.4H705.0M739.0 907.2H730.3V909.4H739.0M739.0 915.7H722.1V917.8H739.0M739.0 913.6H721.5V916.7H722.1M739.0 911.5H720.9V915.1H721.5M730.3 908.3H720.3V913.3H720.9M739.0 922.0H728.8V924.1H739.0M739.0 919.9H728.2V923.0H728.8M739.0 926.2H727.1V928.2H739.0M727.1 927.2H721.4V930.4H739.0M728.2 921.4H720.4V928.8H721.4M739.0 934.6H722.6V936.7H739.0M722.6 935.6H722.0V938.8H739.0M739.0 932.5H721.4V937.2H722.0M721.4 934.8H720.8V940.9H739.0M720.4 925.1H709.8V937.8H720.8M720.3 910.8H709.2V931.5H709.8M739.0 943.0H726.9V945.1H739.0M739.0 947.2H726.0V949.3H739.0M739.0 951.4H727.3V953.5H739.0M739.0 955.6H728.4V957.7H739.0M728.4 956.6H719.3V959.8H739.0M727.3 952.4H718.7V958.2H719.3M726.0 948.2H718.1V955.3H718.7M739.0 961.9H729.1V964.0H739.0M718.1 951.7H717.5V962.9H729.1M739.0 968.2H721.6V970.3H739.0M739.0 966.1H721.0V969.2H721.6M717.5 957.3H716.9V967.6H721.0M726.9 944.0H713.7V962.5H716.9M739.0 972.4H730.1V974.5H739.0M730.1 973.4H729.5V976.6H739.0M739.0 978.7H727.5V980.8H739.0M729.5 975.0H726.9V979.7H727.5M713.7 953.2H712.0V977.3H726.9M739.0 985.0H726.6V987.1H739.0M739.0 982.9H726.0V986.0H726.6M739.0 989.2H730.7V991.2H739.0M739.0 993.4H725.8V995.5H739.0M730.7 990.2H725.2V994.4H725.8M739.0 997.5H731.1V999.3H739.0M725.2 992.3H715.5V998.4H731.1M726.0 984.4H712.0V995.4H715.5M712.0 965.3H710.0V989.9H712.0M709.2 921.1H708.6V977.6H710.0M705.0 829.6H705.0V949.4H708.6M739.0 1003.2H727.1V1005.2H739.0M727.1 1004.2H719.9V1007.4H739.0M739.0 1001.0H718.0V1005.8H719.9M739.0 1011.5H722.9V1013.6H739.0M739.0 1009.5H722.3V1012.6H722.9M722.3 1011.0H718.1V1015.8H739.0M739.0 1020.0H722.3V1022.0H739.0M722.3 1021.0H720.6V1024.2H739.0M739.0 1017.8H717.5V1022.6H720.6M718.1 1013.4H716.1V1020.2H717.5M718.0 1003.4H715.5V1016.8H716.1M739.0 1028.3H728.1V1030.4H739.0M739.0 1026.2H727.5V1029.4H728.1M739.0 1032.5H726.4V1034.7H739.0M727.5 1027.8H723.7V1033.6H726.4M723.7 1030.7H723.1V1036.8H739.0M739.0 1038.8H725.6V1040.9H739.0M739.0 1043.0H722.2V1045.2H739.0M725.6 1039.9H721.6V1044.1H722.2M723.1 1033.7H712.2V1042.0H721.6M739.0 1049.3H725.4V1051.4H739.0M725.4 1050.4H724.8V1053.6H739.0M739.0 1047.2H720.2V1052.0H724.8M739.0 1055.7H730.4V1057.8H739.0M739.0 1062.0H727.4V1064.1H739.0M727.4 1063.0H726.8V1066.2H739.0M726.8 1064.6H719.5V1068.2H739.0M739.0 1059.9H718.9V1066.4H719.5M730.4 1056.7H718.3V1063.1H718.9M739.0 1072.5H725.1V1074.6H739.0M739.0 1076.7H728.6V1078.8H739.0M725.1 1073.5H724.5V1077.7H728.6M739.0 1070.4H720.5V1075.6H724.5M720.5 1073.0H719.9V1080.9H739.0M739.0 1083.0H724.7V1085.0H739.0M719.9 1076.9H719.3V1084.0H724.7M718.3 1059.9H708.4V1080.5H719.3M720.2 1049.6H707.8V1070.2H708.4M712.2 1037.9H707.1V1059.9H707.8M715.5 1010.1H705.0V1048.9H707.1M739.0 1089.2H731.3V1091.3H739.0M739.0 1093.4H728.2V1095.5H739.0M731.3 1090.3H726.2V1094.5H728.2M739.0 1087.1H725.6V1092.4H726.2M739.0 1097.6H724.8V1099.8H739.0M725.6 1089.8H722.4V1098.7H724.8M739.0 1103.9H722.5V1106.0H739.0M739.0 1101.8H721.9V1105.0H722.5M722.4 1094.2H721.3V1103.4H721.9M739.0 1108.1H725.1V1110.2H739.0M739.0 1112.3H725.4V1114.4H739.0M739.0 1116.5H723.2V1118.7H739.0M723.2 1117.6H722.6V1120.8H739.0M725.4 1113.4H720.3V1119.2H722.6M725.1 1109.2H716.7V1116.3H720.3M716.7 1112.7H716.1V1122.8H739.0M721.3 1098.8H715.5V1117.8H716.1M739.0 1124.9H725.9V1127.0H739.0M739.0 1129.1H728.9V1131.2H739.0M725.9 1126.0H725.3V1130.2H728.9M725.3 1128.1H724.7V1133.3H739.0M739.0 1135.4H725.3V1137.5H739.0M739.0 1139.6H721.7V1141.8H739.0M725.3 1136.5H721.1V1140.7H721.7M739.0 1143.8H727.8V1145.9H739.0M739.0 1148.0H725.8V1150.2H739.0M727.8 1144.9H725.2V1149.1H725.8M721.1 1138.6H712.5V1147.0H725.2M724.7 1130.7H711.9V1142.8H712.5M715.5 1108.3H707.6V1136.8H711.9M705.0 1029.5H705.0V1122.5H707.6M739.0 1152.2H724.2V1154.3H739.0M739.0 1156.5H723.4V1158.6H739.0M739.0 1160.7H730.2V1162.8H739.0M730.2 1161.7H721.5V1164.9H739.0M721.5 1163.3H720.9V1167.0H739.0M723.4 1157.5H718.6V1165.1H720.9M724.2 1153.3H716.6V1161.3H718.6M739.0 1169.0H725.6V1171.2H739.0M739.0 1173.2H729.2V1175.3H739.0M739.0 1177.5H727.2V1179.6H739.0M729.2 1174.3H722.0V1178.5H727.2M722.0 1176.4H721.4V1181.7H739.0M725.6 1170.1H720.8V1179.0H721.4M716.6 1157.3H715.6V1174.6H720.8M739.0 1185.8H725.3V1187.9H739.0M739.0 1183.8H724.7V1186.9H725.3M739.0 1190.0H724.7V1192.2H739.0M724.7 1185.3H723.5V1191.1H724.7M723.5 1188.2H722.9V1194.2H739.0M739.0 1198.4H725.0V1200.5H739.0M739.0 1202.6H723.4V1204.3H739.0M725.0 1199.5H722.8V1203.5H723.4M739.0 1196.3H722.2V1201.5H722.8M722.9 1191.2H713.8V1198.9H722.2M715.6 1165.9H710.1V1195.1H713.8M705.0 1076.0H705.0V1180.5H710.1M705.0 889.5H704.0V1128.3H705.0M739.0 1208.1H722.2V1210.2H739.0M722.2 1209.2H721.6V1212.3H739.0M739.0 1206.0H721.0V1210.8H721.6M721.0 1208.4H720.0V1214.5H739.0M720.0 1211.4H714.0V1216.5H739.0M739.0 1218.6H730.3V1220.8H739.0M739.0 1224.9H730.1V1227.0H739.0M739.0 1222.8H728.1V1226.0H730.1M728.1 1224.4H717.3V1229.2H739.0M730.3 1219.7H716.7V1226.8H717.3M714.0 1214.0H713.2V1223.2H716.7M739.0 1231.2H722.5V1233.3H739.0M722.5 1232.3H720.1V1235.5H739.0M739.0 1239.6H722.5V1241.8H739.0M739.0 1237.5H721.9V1240.7H722.5M739.0 1243.8H725.4V1245.9H739.0M721.9 1239.1H715.7V1244.9H725.4M720.1 1233.9H715.1V1242.0H715.7M739.0 1250.1H731.5V1252.2H739.0M731.5 1251.2H726.0V1254.3H739.0M739.0 1248.0H725.4V1252.8H726.0M739.0 1258.5H725.7V1260.7H739.0M725.7 1259.6H724.2V1262.8H739.0M739.0 1264.8H725.8V1266.9H739.0M724.2 1261.2H720.1V1265.9H725.8M739.0 1256.5H719.5V1263.5H720.1M739.0 1273.2H723.2V1275.3H739.0M739.0 1271.1H722.6V1274.3H723.2M739.0 1269.0H718.0V1272.7H722.6M739.0 1277.5H723.0V1279.6H739.0M718.0 1270.9H717.4V1278.5H723.0M719.5 1260.0H716.8V1274.7H717.4M725.4 1250.4H716.2V1267.3H716.8M715.1 1237.9H708.8V1258.9H716.2M739.0 1281.7H726.9V1283.8H739.0M739.0 1285.9H721.7V1288.0H739.0M726.9 1282.7H717.0V1286.9H721.7M739.0 1290.1H724.2V1292.2H739.0M739.0 1294.3H724.7V1296.4H739.0M739.0 1300.6H729.5V1302.7H739.0M739.0 1298.5H727.7V1301.6H729.5M724.7 1295.3H721.3V1300.0H727.7M724.2 1291.1H720.7V1297.7H721.3M717.0 1284.8H711.4V1294.4H720.7M739.0 1304.8H728.1V1306.8H739.0M728.1 1305.8H727.5V1309.0H739.0M739.0 1313.1H721.8V1315.2H739.0M739.0 1311.0H721.2V1314.2H721.8M721.2 1312.6H720.6V1317.3H739.0M739.0 1321.5H728.2V1323.7H739.0M739.0 1319.5H727.6V1322.6H728.2M739.0 1325.8H728.6V1327.8H739.0M728.6 1326.8H727.4V1330.0H739.0M727.6 1321.0H726.2V1328.4H727.4M720.6 1315.0H720.0V1324.7H726.2M727.5 1307.4H718.2V1319.8H720.0M711.4 1289.6H710.8V1313.6H718.2M739.0 1332.1H728.9V1334.2H739.0M739.0 1336.3H722.3V1338.4H739.0M722.3 1337.3H721.7V1340.5H739.0M721.7 1338.9H718.2V1342.6H739.0M718.2 1340.7H717.6V1344.7H739.0M728.9 1333.1H717.0V1342.7H717.6M739.0 1346.8H727.9V1348.9H739.0M739.0 1351.0H731.2V1353.1H739.0M731.2 1352.0H727.2V1355.2H739.0M727.2 1353.6H724.1V1357.2H739.0M727.9 1347.8H722.9V1355.4H724.1M717.0 1337.9H715.7V1351.6H722.9M710.8 1301.6H710.2V1344.7H715.7M708.8 1248.4H708.2V1323.2H710.2M713.2 1218.6H705.4V1285.8H708.2M739.0 1359.3H726.6V1361.4H739.0M726.6 1360.4H719.4V1363.5H739.0M719.4 1362.0H718.8V1365.7H739.0M739.0 1367.8H724.9V1369.8H739.0M724.9 1368.8H724.3V1372.0H739.0M718.8 1363.8H713.6V1370.4H724.3M739.0 1374.0H731.1V1376.2H739.0M731.1 1375.1H729.5V1378.2H739.0M729.5 1376.7H725.1V1380.3H739.0M713.6 1367.1H712.5V1378.5H725.1M739.0 1384.5H729.0V1386.6H739.0M739.0 1382.4H728.4V1385.6H729.0M739.0 1390.8H729.6V1392.9H739.0M739.0 1388.7H728.4V1391.9H729.6M728.4 1384.0H719.3V1390.3H728.4M712.5 1372.8H711.9V1387.2H719.3M739.0 1395.0H724.3V1397.2H739.0M724.3 1396.1H721.8V1399.2H739.0M721.8 1397.7H721.2V1401.7H739.0M711.9 1380.0H711.3V1399.7H721.2M705.4 1252.2H705.4V1389.8H711.3M739.0 1404.0H725.8V1406.2H739.0M739.0 1412.4H726.9V1414.5H739.0M739.0 1410.3H725.4V1413.5H726.9M739.0 1408.2H717.7V1411.9H725.4M739.0 1416.7H728.7V1418.8H739.0M717.7 1410.1H717.1V1417.7H728.7M725.8 1405.1H716.5V1413.9H717.1M739.0 1420.8H730.9V1422.9H739.0M739.0 1425.0H722.6V1427.2H739.0M739.0 1429.2H727.7V1431.3H739.0M722.6 1426.1H722.0V1430.3H727.7M730.9 1421.9H720.2V1428.2H722.0M716.5 1409.5H715.9V1425.0H720.2M739.0 1435.5H727.1V1437.7H739.0M739.0 1433.5H720.6V1436.6H727.1M739.0 1439.8H729.1V1441.8H739.0M729.1 1440.8H723.0V1444.0H739.0M720.6 1435.0H720.0V1442.4H723.0M715.9 1417.3H715.3V1438.7H720.0M739.0 1446.0H726.2V1448.2H739.0M726.2 1447.1H723.8V1450.2H739.0M739.0 1452.3H729.1V1454.4H739.0M723.8 1448.7H723.2V1453.4H729.1M739.0 1456.5H728.9V1458.7H739.0M739.0 1460.8H729.1V1462.8H739.0M739.0 1465.0H722.0V1467.0H739.0M729.1 1461.8H721.4V1466.0H722.0M728.9 1457.6H720.8V1463.9H721.4M720.8 1460.8H716.7V1469.2H739.0M723.2 1451.0H716.1V1465.0H716.7M739.0 1471.2H729.4V1473.3H739.0M729.4 1472.3H722.1V1475.5H739.0M739.0 1477.5H724.9V1479.7H739.0M724.9 1478.6H724.3V1481.8H739.0M724.3 1480.2H723.7V1483.8H739.0M739.0 1488.0H721.6V1490.2H739.0M739.0 1486.0H719.6V1489.1H721.6M739.0 1492.2H730.9V1494.3H739.0M719.6 1487.5H719.0V1493.3H730.9M723.7 1482.0H711.2V1490.4H719.0M722.1 1473.9H710.6V1486.2H711.2M716.1 1458.0H709.8V1480.0H710.6M715.3 1428.0H709.2V1469.0H709.8M739.0 1498.5H722.0V1500.7H739.0M739.0 1496.5H721.4V1499.6H722.0M739.0 1502.8H730.5V1504.8H739.0M730.5 1503.8H722.4V1507.0H739.0M721.4 1498.0H720.8V1505.4H722.4M720.8 1501.7H720.2V1509.1H739.0M739.0 1511.2H723.7V1513.2H739.0M739.0 1515.4H726.6V1517.5H739.0M726.6 1516.4H725.7V1519.6H739.0M723.7 1512.2H722.4V1518.0H725.7M720.2 1505.4H719.6V1515.1H722.4M709.2 1448.5H708.6V1510.2H719.6M739.0 1521.6H722.1V1523.8H739.0M739.0 1527.9H727.7V1530.0H739.0M739.0 1525.8H724.9V1529.0H727.7M722.1 1522.7H721.3V1527.4H724.9M739.0 1532.1H725.2V1534.2H739.0M721.3 1525.1H714.5V1533.2H725.2M739.0 1538.4H729.7V1540.5H739.0M729.7 1539.5H721.0V1542.6H739.0M739.0 1536.3H720.4V1541.1H721.0M714.5 1529.1H713.9V1538.7H720.4M739.0 1544.7H728.7V1546.8H739.0M728.7 1545.8H724.1V1548.9H739.0M739.0 1551.0H724.7V1553.1H739.0M724.7 1552.1H723.2V1555.2H739.0M723.2 1553.7H722.6V1557.3H739.0M724.1 1547.4H717.7V1555.5H722.6M717.7 1551.4H717.1V1559.4H739.0M739.0 1563.6H728.6V1565.7H739.0M739.0 1561.5H728.0V1564.7H728.6M739.0 1567.8H730.3V1569.9H739.0M728.0 1563.1H716.8V1568.9H730.3M717.1 1555.4H708.5V1566.0H716.8M739.0 1572.0H723.0V1574.1H739.0M739.0 1580.4H730.2V1582.5H739.0M739.0 1578.3H727.9V1581.5H730.2M739.0 1576.2H724.4V1579.9H727.9M723.0 1573.1H722.4V1578.1H724.4M739.0 1584.6H728.5V1586.7H739.0M739.0 1588.8H723.9V1590.9H739.0M723.9 1589.9H723.3V1593.0H739.0M723.3 1591.5H718.4V1595.1H739.0M718.4 1593.3H717.8V1597.2H739.0M728.5 1585.7H717.2V1595.3H717.8M722.4 1575.6H712.8V1590.5H717.2M708.5 1560.7H707.9V1583.0H712.8M739.0 1599.3H727.8V1601.4H739.0M739.0 1603.5H728.7V1605.6H739.0M728.7 1604.6H726.7V1607.7H739.0M727.8 1600.4H722.8V1606.2H726.7M739.0 1609.8H730.5V1611.9H739.0M730.5 1610.9H729.9V1614.0H739.0M722.8 1603.3H722.1V1612.5H729.9M707.9 1571.9H707.3V1607.9H722.1M713.9 1533.9H706.7V1589.9H707.3M739.0 1616.1H731.1V1618.2H739.0M739.0 1620.3H729.5V1622.4H739.0M729.5 1621.4H721.2V1624.5H739.0M721.2 1623.0H720.6V1626.6H739.0M731.1 1617.2H717.5V1624.8H720.6M739.0 1630.8H729.5V1632.9H739.0M739.0 1628.7H728.7V1631.9H729.5M739.0 1635.0H723.4V1637.1H739.0M728.7 1630.3H722.8V1636.1H723.4M717.5 1621.0H716.9V1633.2H722.8M739.0 1639.2H721.6V1641.3H739.0M739.0 1645.5H722.7V1647.6H739.0M739.0 1643.4H718.7V1646.6H722.7M721.6 1640.3H718.1V1645.0H718.7M739.0 1649.7H727.2V1651.8H739.0M718.1 1642.7H717.5V1650.8H727.2M716.9 1627.1H707.6V1646.7H717.5M706.7 1561.9H706.1V1636.9H707.6M739.0 1653.9H730.3V1656.0H739.0M739.0 1660.2H725.6V1662.3H739.0M739.0 1658.1H721.2V1661.3H725.6M730.3 1655.0H715.2V1659.7H721.2M739.0 1664.4H726.2V1666.5H739.0M726.2 1665.5H725.6V1668.6H739.0M739.0 1670.7H722.3V1672.8H739.0M725.6 1667.1H721.6V1671.8H722.3M715.2 1657.4H714.6V1669.4H721.6M739.0 1674.9H725.3V1677.0H739.0M725.3 1676.0H724.6V1679.0H739.0M714.6 1663.4H714.0V1677.5H724.6M706.1 1599.4H705.4V1670.5H714.0M708.6 1479.4H705.4V1634.9H705.4M705.4 1321.0H704.4V1557.2H705.4M704.0 1008.9H697.0V1439.1H704.4" fill="none" stroke="#858585" stroke-width="1.1"/>
<linearGradient id="gPOS" x1="0" y1="0" x2="0" y2="1"><stop offset="0" stop-color="#ff0000"/><stop offset="0.5" stop-color="#ffffff"/><stop offset="1" stop-color="#0000ff"/></linearGradient><rect x="556.9" y="762.7" width="32.80000000000007" height="250.89999999999998" fill="url(#gPOS)"/><line x1="589.7" y1="762.7" x2="589.7" y2="1013.6" stroke="#111" stroke-width="2.4"/><line x1="589.7" y1="784" x2="597.7" y2="784" stroke="#111" stroke-width="2.4"/><text x="605.2" y="794.5" font-size="30">4</text><line x1="589.7" y1="847.4" x2="597.7" y2="847.4" stroke="#111" stroke-width="2.4"/><text x="605.2" y="857.9" font-size="30">2</text><line x1="589.7" y1="911.4" x2="597.7" y2="911.4" stroke="#111" stroke-width="2.4"/><text x="605.2" y="921.9" font-size="30">0</text><line x1="589.7" y1="975" x2="597.7" y2="975" stroke="#111" stroke-width="2.4"/><text x="605.2" y="985.5" font-size="30">−2</text><text x="562" y="749.4" font-size="26.5">POS</text>
<linearGradient id="gNEG" x1="0" y1="0" x2="0" y2="1"><stop offset="0" stop-color="#ff0000"/><stop offset="0.5" stop-color="#ffffff"/><stop offset="1" stop-color="#0000ff"/></linearGradient><rect x="1233.6" y="762.7" width="32.5" height="249.0" fill="url(#gNEG)"/><line x1="1266.1" y1="762.7" x2="1266.1" y2="1011.7" stroke="#111" stroke-width="2.4"/><line x1="1266.1" y1="787.7" x2="1274.1" y2="787.7" stroke="#111" stroke-width="2.4"/><text x="1281.6" y="798.2" font-size="30">4</text><line x1="1266.1" y1="859.9" x2="1274.1" y2="859.9" stroke="#111" stroke-width="2.4"/><text x="1281.6" y="870.4" font-size="30">2</text><line x1="1266.1" y1="932.5" x2="1274.1" y2="932.5" stroke="#111" stroke-width="2.4"/><text x="1281.6" y="943.0" font-size="30">0</text><line x1="1266.1" y1="1005.2" x2="1274.1" y2="1005.2" stroke="#111" stroke-width="2.4"/><text x="1281.6" y="1015.7" font-size="30">−2</text><text x="1237.2" y="749.4" font-size="26.5">NEG</text>
</svg></body></html>
